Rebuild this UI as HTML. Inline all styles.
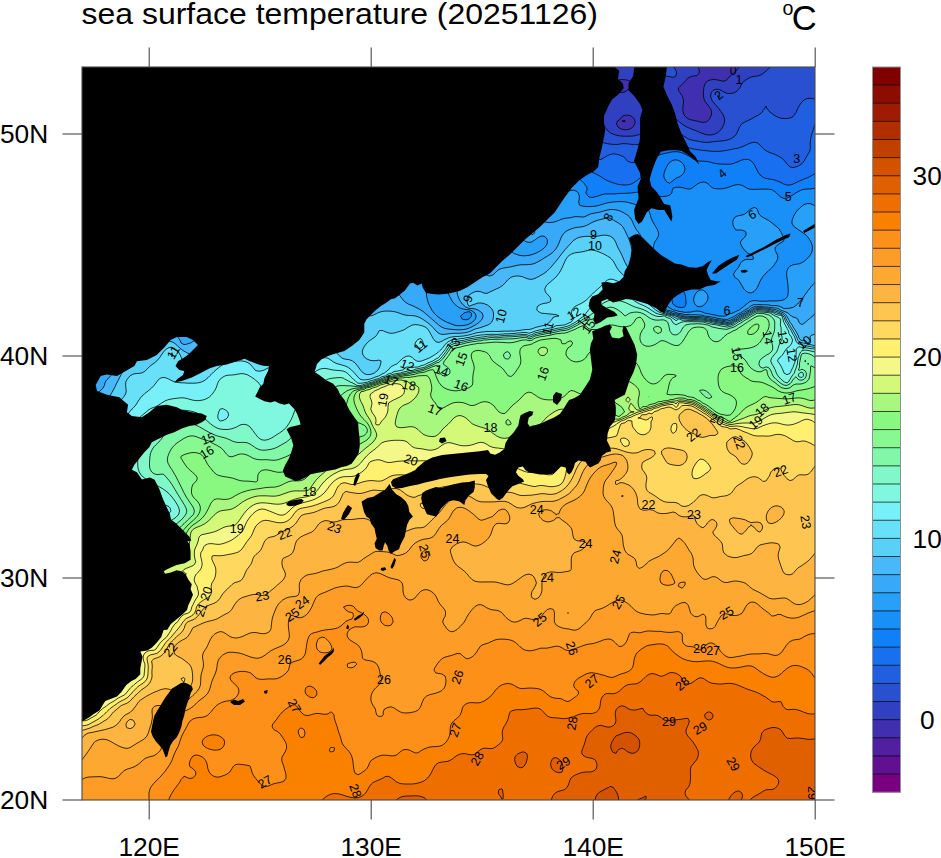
<!DOCTYPE html>
<html><head><meta charset="utf-8"><title>sea surface temperature</title>
<style>html,body{margin:0;padding:0;background:#fff;width:941px;height:858px;overflow:hidden}
svg{display:block} text{font-family:"Liberation Sans",Arial,Helvetica,sans-serif;fill:#000}</style></head>
<body><svg width="941" height="858" viewBox="0 0 941 858">
<defs><clipPath id="mc"><rect x="82" y="67" width="733" height="733"/></clipPath></defs>
<g clip-path="url(#mc)">
<rect x="76" y="61" width="745" height="745" fill="#5020a0"/>
<path d="M76 61l3 0l3 0l3 0l3 0l3 0l3 0l3 0l3 0l3 0l3 0l3 0l3 0l3 0l3 0l3 0l3 0l3 0l3 0l3 0l3 0l3 0l3 0l3 0l3 0l3 0l3 0l3 0l3 0l3 0l3 0l3 0l3 0l3 0l3 0l3 0l3 0l3 0l3 0l3 0l3 0l3 0l3 0l3 0l3 0l3 0l3 0l3 0l3 0l3 0l3 0l3 0l3 0l3 0l3 0l3 0l3 0l3 0l3 0l3 0l3 0l3 0l3 0l3 0l3 0l3 0l3 0l3 0l3 0l3 0l3 0l3 0l3 0l3 0l3 0l3 0l3 0l3 0l3 0l3 0l3 0l3 0l3 0l3 0l3 0l3 0l3 0l3 0l3 0l3 0l3 0l3 0l3 0l3 0l3 0l3 0l3 0l3 0l3 0l3 0l3 0l3 0l3 0l3 0l3 0l3 0l3 0l3 0l3 0l3 0l3 0l3 0l3 0l3 0l3 0l3 0l3 0l3 0l3 0l3 0l3 0l3 0l3 0l3 0l3 0l3 0l3 0l3 0l3 0l3 0l3 0l3 0l3 0l3 0l3 0l3 0l3 0l3 0l3 0l3 0l3 0l3 0l3 0l3 0l3 0l3 0l3 0l3 0l3 0l3 0l3 0l3 0l3 0l3 0l3 0l3 0l3 0l3 0l3 0l3 0l3 0l3 0l3 0l3 0l3 0l3 0l3 0l3 0l3 0l3 0l3 0l3 0l3 0l3 0l3 0l3 0l3 0l3 0l3 0l3 0l3 0l3 0l3 0l3 0l3 0l3 0l3 0l3 0l3 0l3 0l3 0l3 0l3 0l3 0l3 0l3 0l3 0l3 0l3 0l3 0l3 0l3 0l3 0l3 0l3 0l3 0l3 0l3 0l3 0l3 0l3 0l3 0l3 0l3 0l3 0l3 0l3 0l3 0l3 0l3 0l3 0l3 0l3 0l3 0l3 0l3 0l3 0l3 0l3 0l3 0l3 0l3 0l3 0l3 0l3 0l3 0l3 0l3 0l3 0l3 0l3 0l3 0l3 0l3 0l3 0l3 0l3 0l3 0l3 0l3 0l0 3l0 3l0 3l0 3l0 3l0 3l0 3l0 3l0 3l0 3l0 3l0 3l0 3l0 3l0 3l0 3l0 3l0 3l0 3l0 3l0 3l0 3l0 3l0 3l0 3l0 3l0 3l0 3l0 3l0 3l0 3l0 3l0 3l0 3l0 3l0 3l0 3l0 3l0 3l0 3l0 3l0 3l0 3l0 3l0 3l0 3l0 3l0 3l0 3l0 3l0 3l0 3l0 3l0 3l0 3l0 3l0 3l0 3l0 3l0 3l0 3l0 3l0 3l0 3l0 3l0 3l0 3l0 3l0 3l0 3l0 3l0 3l0 3l0 3l0 3l0 3l0 3l0 3l0 3l0 3l0 3l0 3l0 3l0 3l0 3l0 3l0 3l0 3l0 3l0 3l0 3l0 3l0 3l0 3l0 3l0 3l0 3l0 3l0 3l0 3l0 3l0 3l0 3l0 3l0 3l0 3l0 3l0 3l0 3l0 3l0 3l0 3l0 3l0 3l0 3l0 3l0 3l0 3l0 3l0 3l0 3l0 3l0 3l0 3l0 3l0 3l0 3l0 3l0 3l0 3l0 3l0 3l0 3l0 3l0 3l0 3l0 3l0 3l0 3l0 3l0 3l0 3l0 3l0 3l0 3l0 3l0 3l0 3l0 3l0 3l0 3l0 3l0 3l0 3l0 3l0 3l0 3l0 3l0 3l0 3l0 3l0 3l0 3l0 3l0 3l0 3l0 3l0 3l0 3l0 3l0 3l0 3l0 3l0 3l0 3l0 3l0 3l0 3l0 3l0 3l0 3l0 3l0 3l0 3l0 3l0 3l0 3l0 3l0 3l0 3l0 3l0 3l0 3l0 3l0 3l0 3l0 3l0 3l0 3l0 3l0 3l0 3l0 3l0 3l0 3l0 3l0 3l0 3l0 3l0 3l0 3l0 3l0 3l0 3l0 3l0 3l0 3l0 3l0 3l0 3l0 3l0 3l0 3l0 3l0 3l0 3l0 3l0 3l0 3l0 3l0 3l0 3l0 3l0 3l0 3l0 3l0 3l0 3l0 3l0 3l0 3l0 3l0 3l0 3l0 3l0 3l0 3l0 3l0 3l-3 0l-3 0l-3 0l-3 0l-3 0l-3 0l-3 0l-3 0l-3 0l-3 0l-3 0l-3 0l-3 0l-3 0l-3 0l-3 0l-3 0l-3 0l-3 0l-3 0l-3 0l-3 0l-3 0l-3 0l-3 0l-3 0l-3 0l-3 0l-3 0l-3 0l-3 0l-3 0l-3 0l-3 0l-3 0l-3 0l-3 0l-3 0l-3 0l-3 0l-3 0l-3 0l-3 0l-3 0l-3 0l-3 0l-3 0l-3 0l-3 0l-3 0l-3 0l-3 0l-3 0l-3 0l-3 0l-3 0l-3 0l-3 0l-3 0l-3 0l-3 0l-3 0l-3 0l-3 0l-3 0l-3 0l-3 0l-3 0l-3 0l-3 0l-3 0l-3 0l-3 0l-3 0l-3 0l-3 0l-3 0l-3 0l-3 0l-3 0l-3 0l-3 0l-3 0l-3 0l-3 0l-3 0l-3 0l-3 0l-3 0l-3 0l-3 0l-3 0l-3 0l-3 0l-3 0l-3 0l-3 0l-3 0l-3 0l-3 0l-3 0l-3 0l-3 0l-3 0l-3 0l-3 0l-3 0l-3 0l-3 0l-3 0l-3 0l-3 0l-3 0l-3 0l-3 0l-3 0l-3 0l-3 0l-3 0l-3 0l-3 0l-3 0l-3 0l-3 0l-3 0l-3 0l-3 0l-3 0l-3 0l-3 0l-3 0l-3 0l-3 0l-3 0l-3 0l-3 0l-3 0l-3 0l-3 0l-3 0l-3 0l-3 0l-3 0l-3 0l-3 0l-3 0l-3 0l-3 0l-3 0l-3 0l-3 0l-3 0l-3 0l-3 0l-3 0l-3 0l-3 0l-3 0l-3 0l-3 0l-3 0l-3 0l-3 0l-3 0l-3 0l-3 0l-3 0l-3 0l-3 0l-3 0l-3 0l-3 0l-3 0l-3 0l-3 0l-3 0l-3 0l-3 0l-3 0l-3 0l-3 0l-3 0l-3 0l-3 0l-3 0l-3 0l-3 0l-3 0l-3 0l-3 0l-3 0l-3 0l-3 0l-3 0l-3 0l-3 0l-3 0l-3 0l-3 0l-3 0l-3 0l-3 0l-3 0l-3 0l-3 0l-3 0l-3 0l-3 0l-3 0l-3 0l-3 0l-3 0l-3 0l-3 0l-3 0l-3 0l-3 0l-3 0l-3 0l-3 0l-3 0l-3 0l-3 0l-3 0l-3 0l-3 0l-3 0l-3 0l-3 0l-3 0l-3 0l-3 0l-3 0l-3 0l-3 0l-3 0l-3 0l-3 0l-3 0l-3 0l-3 0l-3 0l-3 0l-3 0l-3 0l-3 0l-3 0l-3 0l-3 0l0-3l0-3l0-3l0-3l0-3l0-3l0-3l0-3l0-3l0-3l0-3l0-3l0-3l0-3l0-3l0-3l0-3l0-3l0-3l0-3l0-3l0-3l0-3l0-3l0-3l0-3l0-3l0-3l0-3l0-3l0-3l0-3l0-3l0-3l0-3l0-3l0-3l0-3l0-3l0-3l0-3l0-3l0-3l0-3l0-3l0-3l0-3l0-3l0-3l0-3l0-3l0-3l0-3l0-3l0-3l0-3l0-3l0-3l0-3l0-3l0-3l0-3l0-3l0-3l0-3l0-3l0-3l0-3l0-3l0-3l0-3l0-3l0-3l0-3l0-3l0-3l0-3l0-3l0-3l0-3l0-3l0-3l0-3l0-3l0-3l0-3l0-3l0-3l0-3l0-3l0-3l0-3l0-3l0-3l0-3l0-3l0-3l0-3l0-3l0-3l0-3l0-3l0-3l0-3l0-3l0-3l0-3l0-3l0-3l0-3l0-3l0-3l0-3l0-3l0-3l0-3l0-3l0-3l0-3l0-3l0-3l0-3l0-3l0-3l0-3l0-3l0-3l0-3l0-3l0-3l0-3l0-3l0-3l0-3l0-3l0-3l0-3l0-3l0-3l0-3l0-3l0-3l0-3l0-3l0-3l0-3l0-3l0-3l0-3l0-3l0-3l0-3l0-3l0-3l0-3l0-3l0-3l0-3l0-3l0-3l0-3l0-3l0-3l0-3l0-3l0-3l0-3l0-3l0-3l0-3l0-3l0-3l0-3l0-3l0-3l0-3l0-3l0-3l0-3l0-3l0-3l0-3l0-3l0-3l0-3l0-3l0-3l0-3l0-3l0-3l0-3l0-3l0-3l0-3l0-3l0-3l0-3l0-3l0-3l0-3l0-3l0-3l0-3l0-3l0-3l0-3l0-3l0-3l0-3l0-3l0-3l0-3l0-3l0-3l0-3l0-3l0-3l0-3l0-3l0-3l0-3l0-3l0-3l0-3l0-3l0-3l0-3l0-3l0-3l0-3l0-3l0-3l0-3l0-3l0-3l0-3l0-3l0-3l0-3l0-3l0-3l0-3l0-3l0-3l0-3l0-3l0-3l0-3z" fill="#601090" stroke="#000" stroke-width="0.85" stroke-opacity="0.9" fill-rule="evenodd"/>
<path d="M76 61l3 0l3 0l3 0l3 0l3 0l3 0l3 0l3 0l3 0l3 0l3 0l3 0l3 0l3 0l3 0l3 0l3 0l3 0l3 0l3 0l3 0l3 0l3 0l3 0l3 0l3 0l3 0l3 0l3 0l3 0l3 0l3 0l3 0l3 0l3 0l3 0l3 0l3 0l3 0l3 0l3 0l3 0l3 0l3 0l3 0l3 0l3 0l3 0l3 0l3 0l3 0l3 0l3 0l3 0l3 0l3 0l3 0l3 0l3 0l3 0l3 0l3 0l3 0l3 0l3 0l3 0l3 0l3 0l3 0l3 0l3 0l3 0l3 0l3 0l3 0l3 0l3 0l3 0l3 0l3 0l3 0l3 0l3 0l3 0l3 0l3 0l3 0l3 0l3 0l3 0l3 0l3 0l3 0l3 0l3 0l3 0l3 0l3 0l3 0l3 0l3 0l3 0l3 0l3 0l3 0l3 0l3 0l3 0l3 0l3 0l3 0l3 0l3 0l3 0l3 0l3 0l3 0l3 0l3 0l3 0l3 0l3 0l3 0l3 0l3 0l3 0l3 0l3 0l3 0l3 0l3 0l3 0l3 0l3 0l3 0l3 0l3 0l3 0l3 0l3 0l3 0l3 0l3 0l3 0l3 0l3 0l3 0l3 0l3 0l3 0l3 0l3 0l3 0l3 0l3 0l3 0l3 0l3 0l3 0l3 0l3 0l3 0l3 0l3 0l3 0l3 0l3 0l3 0l3 0l3 0l3 0l3 0l3 0l3 0l3 0l3 0l3 0l3 0l3 0l3 0l3 0l3 0l3 0l3 0l3 0l3 0l3 0l3 0l3 0l3 0l3 0l3 0l3 0l3 0l3 0l3 0l3 0l3 0l3 0l3 0l3 0l3 0l3 0l3 0l3 0l3 0l3 0l3 0l3 0l3 0l3 0l3 0l3 0l3 0l3 0l3 0l3 0l3 0l3 0l3 0l3 0l3 0l3 0l3 0l3 0l3 0l3 0l3 0l3 0l3 0l3 0l3 0l3 0l3 0l3 0l3 0l3 0l3 0l3 0l3 0l3 0l3 0l3 0l3 0l3 0l3 0l3 0l3 0l3 0l0 3l0 3l0 3l0 3l0 3l0 3l0 3l0 3l0 3l0 3l0 3l0 3l0 3l0 3l0 3l0 3l0 3l0 3l0 3l0 3l0 3l0 3l0 3l0 3l0 3l0 3l0 3l0 3l0 3l0 3l0 3l0 3l0 3l0 3l0 3l0 3l0 3l0 3l0 3l0 3l0 3l0 3l0 3l0 3l0 3l0 3l0 3l0 3l0 3l0 3l0 3l0 3l0 3l0 3l0 3l0 3l0 3l0 3l0 3l0 3l0 3l0 3l0 3l0 3l0 3l0 3l0 3l0 3l0 3l0 3l0 3l0 3l0 3l0 3l0 3l0 3l0 3l0 3l0 3l0 3l0 3l0 3l0 3l0 3l0 3l0 3l0 3l0 3l0 3l0 3l0 3l0 3l0 3l0 3l0 3l0 3l0 3l0 3l0 3l0 3l0 3l0 3l0 3l0 3l0 3l0 3l0 3l0 3l0 3l0 3l0 3l0 3l0 3l0 3l0 3l0 3l0 3l0 3l0 3l0 3l0 3l0 3l0 3l0 3l0 3l0 3l0 3l0 3l0 3l0 3l0 3l0 3l0 3l0 3l0 3l0 3l0 3l0 3l0 3l0 3l0 3l0 3l0 3l0 3l0 3l0 3l0 3l0 3l0 3l0 3l0 3l0 3l0 3l0 3l0 3l0 3l0 3l0 3l0 3l0 3l0 3l0 3l0 3l0 3l0 3l0 3l0 3l0 3l0 3l0 3l0 3l0 3l0 3l0 3l0 3l0 3l0 3l0 3l0 3l0 3l0 3l0 3l0 3l0 3l0 3l0 3l0 3l0 3l0 3l0 3l0 3l0 3l0 3l0 3l0 3l0 3l0 3l0 3l0 3l0 3l0 3l0 3l0 3l0 3l0 3l0 3l0 3l0 3l0 3l0 3l0 3l0 3l0 3l0 3l0 3l0 3l0 3l0 3l0 3l0 3l0 3l0 3l0 3l0 3l0 3l0 3l0 3l0 3l0 3l0 3l0 3l0 3l0 3l0 3l0 3l0 3l0 3l0 3l0 3l0 3l0 3l0 3l0 3l0 3l0 3l0 3l0 3l0 3l0 3l-3 0l-3 0l-3 0l-3 0l-3 0l-3 0l-3 0l-3 0l-3 0l-3 0l-3 0l-3 0l-3 0l-3 0l-3 0l-3 0l-3 0l-3 0l-3 0l-3 0l-3 0l-3 0l-3 0l-3 0l-3 0l-3 0l-3 0l-3 0l-3 0l-3 0l-3 0l-3 0l-3 0l-3 0l-3 0l-3 0l-3 0l-3 0l-3 0l-3 0l-3 0l-3 0l-3 0l-3 0l-3 0l-3 0l-3 0l-3 0l-3 0l-3 0l-3 0l-3 0l-3 0l-3 0l-3 0l-3 0l-3 0l-3 0l-3 0l-3 0l-3 0l-3 0l-3 0l-3 0l-3 0l-3 0l-3 0l-3 0l-3 0l-3 0l-3 0l-3 0l-3 0l-3 0l-3 0l-3 0l-3 0l-3 0l-3 0l-3 0l-3 0l-3 0l-3 0l-3 0l-3 0l-3 0l-3 0l-3 0l-3 0l-3 0l-3 0l-3 0l-3 0l-3 0l-3 0l-3 0l-3 0l-3 0l-3 0l-3 0l-3 0l-3 0l-3 0l-3 0l-3 0l-3 0l-3 0l-3 0l-3 0l-3 0l-3 0l-3 0l-3 0l-3 0l-3 0l-3 0l-3 0l-3 0l-3 0l-3 0l-3 0l-3 0l-3 0l-3 0l-3 0l-3 0l-3 0l-3 0l-3 0l-3 0l-3 0l-3 0l-3 0l-3 0l-3 0l-3 0l-3 0l-3 0l-3 0l-3 0l-3 0l-3 0l-3 0l-3 0l-3 0l-3 0l-3 0l-3 0l-3 0l-3 0l-3 0l-3 0l-3 0l-3 0l-3 0l-3 0l-3 0l-3 0l-3 0l-3 0l-3 0l-3 0l-3 0l-3 0l-3 0l-3 0l-3 0l-3 0l-3 0l-3 0l-3 0l-3 0l-3 0l-3 0l-3 0l-3 0l-3 0l-3 0l-3 0l-3 0l-3 0l-3 0l-3 0l-3 0l-3 0l-3 0l-3 0l-3 0l-3 0l-3 0l-3 0l-3 0l-3 0l-3 0l-3 0l-3 0l-3 0l-3 0l-3 0l-3 0l-3 0l-3 0l-3 0l-3 0l-3 0l-3 0l-3 0l-3 0l-3 0l-3 0l-3 0l-3 0l-3 0l-3 0l-3 0l-3 0l-3 0l-3 0l-3 0l-3 0l-3 0l-3 0l-3 0l-3 0l-3 0l-3 0l-3 0l-3 0l-3 0l-3 0l-3 0l-3 0l-3 0l-3 0l-3 0l-3 0l-3 0l-3 0l-3 0l-3 0l-3 0l-3 0l-3 0l-3 0l-3 0l-3 0l-3 0l-3 0l-3 0l0-3l0-3l0-3l0-3l0-3l0-3l0-3l0-3l0-3l0-3l0-3l0-3l0-3l0-3l0-3l0-3l0-3l0-3l0-3l0-3l0-3l0-3l0-3l0-3l0-3l0-3l0-3l0-3l0-3l0-3l0-3l0-3l0-3l0-3l0-3l0-3l0-3l0-3l0-3l0-3l0-3l0-3l0-3l0-3l0-3l0-3l0-3l0-3l0-3l0-3l0-3l0-3l0-3l0-3l0-3l0-3l0-3l0-3l0-3l0-3l0-3l0-3l0-3l0-3l0-3l0-3l0-3l0-3l0-3l0-3l0-3l0-3l0-3l0-3l0-3l0-3l0-3l0-3l0-3l0-3l0-3l0-3l0-3l0-3l0-3l0-3l0-3l0-3l0-3l0-3l0-3l0-3l0-3l0-3l0-3l0-3l0-3l0-3l0-3l0-3l0-3l0-3l0-3l0-3l0-3l0-3l0-3l0-3l0-3l0-3l0-3l0-3l0-3l0-3l0-3l0-3l0-3l0-3l0-3l0-3l0-3l0-3l0-3l0-3l0-3l0-3l0-3l0-3l0-3l0-3l0-3l0-3l0-3l0-3l0-3l0-3l0-3l0-3l0-3l0-3l0-3l0-3l0-3l0-3l0-3l0-3l0-3l0-3l0-3l0-3l0-3l0-3l0-3l0-3l0-3l0-3l0-3l0-3l0-3l0-3l0-3l0-3l0-3l0-3l0-3l0-3l0-3l0-3l0-3l0-3l0-3l0-3l0-3l0-3l0-3l0-3l0-3l0-3l0-3l0-3l0-3l0-3l0-3l0-3l0-3l0-3l0-3l0-3l0-3l0-3l0-3l0-3l0-3l0-3l0-3l0-3l0-3l0-3l0-3l0-3l0-3l0-3l0-3l0-3l0-3l0-3l0-3l0-3l0-3l0-3l0-3l0-3l0-3l0-3l0-3l0-3l0-3l0-3l0-3l0-3l0-3l0-3l0-3l0-3l0-3l0-3l0-3l0-3l0-3l0-3l0-3l0-3l0-3l0-3l0-3l0-3l0-3l0-3l0-3l0-3l0-3l0-3l0-3l0-3l0-3l0-3l0-3l0-3z" fill="#5020a0" stroke="#000" stroke-width="0.85" stroke-opacity="0.9" fill-rule="evenodd"/>
<path d="M76 61l3 0l3 0l3 0l3 0l3 0l3 0l3 0l3 0l3 0l3 0l3 0l3 0l3 0l3 0l3 0l3 0l3 0l3 0l3 0l3 0l3 0l3 0l3 0l3 0l3 0l3 0l3 0l3 0l3 0l3 0l3 0l3 0l3 0l3 0l3 0l3 0l3 0l3 0l3 0l3 0l3 0l3 0l3 0l3 0l3 0l3 0l3 0l3 0l3 0l3 0l3 0l3 0l3 0l3 0l3 0l3 0l3 0l3 0l3 0l3 0l3 0l3 0l3 0l3 0l3 0l3 0l3 0l3 0l3 0l3 0l3 0l3 0l3 0l3 0l3 0l3 0l3 0l3 0l3 0l3 0l3 0l3 0l3 0l3 0l3 0l3 0l3 0l3 0l3 0l3 0l3 0l3 0l3 0l3 0l3 0l3 0l3 0l3 0l3 0l3 0l3 0l3 0l3 0l3 0l3 0l3 0l3 0l3 0l3 0l3 0l3 0l3 0l3 0l3 0l3 0l3 0l3 0l3 0l3 0l3 0l3 0l3 0l3 0l3 0l3 0l3 0l3 0l3 0l3 0l3 0l3 0l3 0l3 0l3 0l3 0l3 0l3 0l3 0l3 0l3 0l3 0l3 0l3 0l3 0l3 0l3 0l3 0l3 0l3 0l3 0l3 0l3 0l3 0l3 0l3 0l3 0l3 0l3 0l3 0l3 0l3 0l3 0l3 0l3 0l3 0l3 0l3 0l3 0l3 0l3 0l3 0l3 0l3 0l3 0l3 0l3 0l3 0l3 0l3 0l3 0l3 0l3 0l3 0l3 0l3 0l3 0l3 0l3 0l3 0l3 0l3 0l3 0l3 0l3 0l3 0l3 0l3 0l3 0l3 0l3 0l3 0l3 0l3 0l3 0l3 0l3 0l3 0l3 0l3 0l3 0l3 0l3 0l3 0l3 0l3 0l3 0l3 0l3 0l3 0l3 0l3 0l3 0l3 0l3 0l3 0l3 0l3 0l3 0l3 0l3 0l3 0l3 0l3 0l3 0l3 0l3 0l3 0l3 0l3 0l3 0l3 0l3 0l3 0l3 0l3 0l3 0l3 0l3 0l3 0l0 3l0 3l0 3l0 3l0 3l0 3l0 3l0 3l0 3l0 3l0 3l0 3l0 3l0 3l0 3l0 3l0 3l0 3l0 3l0 3l0 3l0 3l0 3l0 3l0 3l0 3l0 3l0 3l0 3l0 3l0 3l0 3l0 3l0 3l0 3l0 3l0 3l0 3l0 3l0 3l0 3l0 3l0 3l0 3l0 3l0 3l0 3l0 3l0 3l0 3l0 3l0 3l0 3l0 3l0 3l0 3l0 3l0 3l0 3l0 3l0 3l0 3l0 3l0 3l0 3l0 3l0 3l0 3l0 3l0 3l0 3l0 3l0 3l0 3l0 3l0 3l0 3l0 3l0 3l0 3l0 3l0 3l0 3l0 3l0 3l0 3l0 3l0 3l0 3l0 3l0 3l0 3l0 3l0 3l0 3l0 3l0 3l0 3l0 3l0 3l0 3l0 3l0 3l0 3l0 3l0 3l0 3l0 3l0 3l0 3l0 3l0 3l0 3l0 3l0 3l0 3l0 3l0 3l0 3l0 3l0 3l0 3l0 3l0 3l0 3l0 3l0 3l0 3l0 3l0 3l0 3l0 3l0 3l0 3l0 3l0 3l0 3l0 3l0 3l0 3l0 3l0 3l0 3l0 3l0 3l0 3l0 3l0 3l0 3l0 3l0 3l0 3l0 3l0 3l0 3l0 3l0 3l0 3l0 3l0 3l0 3l0 3l0 3l0 3l0 3l0 3l0 3l0 3l0 3l0 3l0 3l0 3l0 3l0 3l0 3l0 3l0 3l0 3l0 3l0 3l0 3l0 3l0 3l0 3l0 3l0 3l0 3l0 3l0 3l0 3l0 3l0 3l0 3l0 3l0 3l0 3l0 3l0 3l0 3l0 3l0 3l0 3l0 3l0 3l0 3l0 3l0 3l0 3l0 3l0 3l0 3l0 3l0 3l0 3l0 3l0 3l0 3l0 3l0 3l0 3l0 3l0 3l0 3l0 3l0 3l0 3l0 3l0 3l0 3l0 3l0 3l0 3l0 3l0 3l0 3l0 3l0 3l0 3l0 3l0 3l0 3l0 3l0 3l0 3l0 3l0 3l0 3l0 3l0 3l-3 0l-3 0l-3 0l-3 0l-3 0l-3 0l-3 0l-3 0l-3 0l-3 0l-3 0l-3 0l-3 0l-3 0l-3 0l-3 0l-3 0l-3 0l-3 0l-3 0l-3 0l-3 0l-3 0l-3 0l-3 0l-3 0l-3 0l-3 0l-3 0l-3 0l-3 0l-3 0l-3 0l-3 0l-3 0l-3 0l-3 0l-3 0l-3 0l-3 0l-3 0l-3 0l-3 0l-3 0l-3 0l-3 0l-3 0l-3 0l-3 0l-3 0l-3 0l-3 0l-3 0l-3 0l-3 0l-3 0l-3 0l-3 0l-3 0l-3 0l-3 0l-3 0l-3 0l-3 0l-3 0l-3 0l-3 0l-3 0l-3 0l-3 0l-3 0l-3 0l-3 0l-3 0l-3 0l-3 0l-3 0l-3 0l-3 0l-3 0l-3 0l-3 0l-3 0l-3 0l-3 0l-3 0l-3 0l-3 0l-3 0l-3 0l-3 0l-3 0l-3 0l-3 0l-3 0l-3 0l-3 0l-3 0l-3 0l-3 0l-3 0l-3 0l-3 0l-3 0l-3 0l-3 0l-3 0l-3 0l-3 0l-3 0l-3 0l-3 0l-3 0l-3 0l-3 0l-3 0l-3 0l-3 0l-3 0l-3 0l-3 0l-3 0l-3 0l-3 0l-3 0l-3 0l-3 0l-3 0l-3 0l-3 0l-3 0l-3 0l-3 0l-3 0l-3 0l-3 0l-3 0l-3 0l-3 0l-3 0l-3 0l-3 0l-3 0l-3 0l-3 0l-3 0l-3 0l-3 0l-3 0l-3 0l-3 0l-3 0l-3 0l-3 0l-3 0l-3 0l-3 0l-3 0l-3 0l-3 0l-3 0l-3 0l-3 0l-3 0l-3 0l-3 0l-3 0l-3 0l-3 0l-3 0l-3 0l-3 0l-3 0l-3 0l-3 0l-3 0l-3 0l-3 0l-3 0l-3 0l-3 0l-3 0l-3 0l-3 0l-3 0l-3 0l-3 0l-3 0l-3 0l-3 0l-3 0l-3 0l-3 0l-3 0l-3 0l-3 0l-3 0l-3 0l-3 0l-3 0l-3 0l-3 0l-3 0l-3 0l-3 0l-3 0l-3 0l-3 0l-3 0l-3 0l-3 0l-3 0l-3 0l-3 0l-3 0l-3 0l-3 0l-3 0l-3 0l-3 0l-3 0l-3 0l-3 0l-3 0l-3 0l-3 0l-3 0l-3 0l-3 0l-3 0l-3 0l-3 0l-3 0l-3 0l-3 0l-3 0l-3 0l-3 0l-3 0l-3 0l-3 0l-3 0l-3 0l-3 0l-3 0l-3 0l-3 0l-3 0l-3 0l0-3l0-3l0-3l0-3l0-3l0-3l0-3l0-3l0-3l0-3l0-3l0-3l0-3l0-3l0-3l0-3l0-3l0-3l0-3l0-3l0-3l0-3l0-3l0-3l0-3l0-3l0-3l0-3l0-3l0-3l0-3l0-3l0-3l0-3l0-3l0-3l0-3l0-3l0-3l0-3l0-3l0-3l0-3l0-3l0-3l0-3l0-3l0-3l0-3l0-3l0-3l0-3l0-3l0-3l0-3l0-3l0-3l0-3l0-3l0-3l0-3l0-3l0-3l0-3l0-3l0-3l0-3l0-3l0-3l0-3l0-3l0-3l0-3l0-3l0-3l0-3l0-3l0-3l0-3l0-3l0-3l0-3l0-3l0-3l0-3l0-3l0-3l0-3l0-3l0-3l0-3l0-3l0-3l0-3l0-3l0-3l0-3l0-3l0-3l0-3l0-3l0-3l0-3l0-3l0-3l0-3l0-3l0-3l0-3l0-3l0-3l0-3l0-3l0-3l0-3l0-3l0-3l0-3l0-3l0-3l0-3l0-3l0-3l0-3l0-3l0-3l0-3l0-3l0-3l0-3l0-3l0-3l0-3l0-3l0-3l0-3l0-3l0-3l0-3l0-3l0-3l0-3l0-3l0-3l0-3l0-3l0-3l0-3l0-3l0-3l0-3l0-3l0-3l0-3l0-3l0-3l0-3l0-3l0-3l0-3l0-3l0-3l0-3l0-3l0-3l0-3l0-3l0-3l0-3l0-3l0-3l0-3l0-3l0-3l0-3l0-3l0-3l0-3l0-3l0-3l0-3l0-3l0-3l0-3l0-3l0-3l0-3l0-3l0-3l0-3l0-3l0-3l0-3l0-3l0-3l0-3l0-3l0-3l0-3l0-3l0-3l0-3l0-3l0-3l0-3l0-3l0-3l0-3l0-3l0-3l0-3l0-3l0-3l0-3l0-3l0-3l0-3l0-3l0-3l0-3l0-3l0-3l0-3l0-3l0-3l0-3l0-3l0-3l0-3l0-3l0-3l0-3l0-3l0-3l0-3l0-3l0-3l0-3l0-3l0-3l0-3l0-3l0-3l0-3l0-3l0-3l0-3l0-3zM622 120.9l-.1 .1l.1 .2l3 .4l.4-.6l-.4-.4z" fill="#4030b0" stroke="#000" stroke-width="0.85" stroke-opacity="0.9" fill-rule="evenodd"/>
<path d="M76 61l3 0l3 0l3 0l3 0l3 0l3 0l3 0l3 0l3 0l3 0l3 0l3 0l3 0l3 0l3 0l3 0l3 0l3 0l3 0l3 0l3 0l3 0l3 0l3 0l3 0l3 0l3 0l3 0l3 0l3 0l3 0l3 0l3 0l3 0l3 0l3 0l3 0l3 0l3 0l3 0l3 0l3 0l3 0l3 0l3 0l3 0l3 0l3 0l3 0l3 0l3 0l3 0l3 0l3 0l3 0l3 0l3 0l3 0l3 0l3 0l3 0l3 0l3 0l3 0l3 0l3 0l3 0l3 0l3 0l3 0l3 0l3 0l3 0l3 0l3 0l3 0l3 0l3 0l3 0l3 0l3 0l3 0l3 0l3 0l3 0l3 0l3 0l3 0l3 0l3 0l3 0l3 0l3 0l3 0l3 0l3 0l3 0l3 0l3 0l3 0l3 0l3 0l3 0l3 0l3 0l3 0l3 0l3 0l3 0l3 0l3 0l3 0l3 0l3 0l3 0l3 0l3 0l3 0l3 0l3 0l3 0l3 0l3 0l3 0l3 0l3 0l3 0l3 0l3 0l3 0l3 0l3 0l3 0l3 0l3 0l3 0l3 0l3 0l3 0l3 0l3 0l3 0l3 0l3 0l3 0l3 0l3 0l3 0l3 0l3 0l3 0l3 0l3 0l1.9 0l1.1 .5l3 .8l3-.4l1.7-.9l1.3 0l3 0l3 0l3 0l3 0l3 0l3 0l3 0l3 0l3 0l3 0l3 0l3 0l3 0l3 0l3 0l3 0l3 0l3 0l3 0l3 0l3 0l3 0l3 0l3 0l3 0l3 0l3 0l3 0l3 0l3 0l3 0l3 0l3 0l3 0l3 0l3 0l3 0l3 0l3 0l3 0l3 0l3 0l3 0l3 0l3 0l3 0l3 0l3 0l3 0l2.9 0l.1 .5l.5 2.5l1 3l.7 3l0 3l-2.2 2.6l-3 .4l-.1 0l-2.9 .4l-3 1.7l-.9 .9l-2.1 2.5l-.5 .5l-2.5 2.6l-.6 .4l-2.4 2.4l-.7 .6l.3 3l.4 .3l1.9 2.7l1.1 1.6l.7 1.4l.7 3l0 3l-.4 3l-.2 3l.2 3l1.2 3l.8 1.1l1.9 1.9l1.1 .7l3 1.2l3 .5l2.7 .6l.3 .1l3 .8l3 .5l3-.3l1.5-1.1l1.5-1.3l1.1-1.7l1.3-3l.3-3l-1-3l-1.7-2.5l-.4-.5l-2.4-3l-.2-.3l-1.7-2.7l-.7-3l-.2-3l.1-3l.3-3l.7-3l1.5-2.8l.2-.2l2.8-1.7l3-.7l3-.1l3 .5l3 .7l3 .6l3-1.5l.5-.8l2.5-2.8l.1-.2l2.9-2.4l.7-.6l2.3-2.1l.9-.9l2.1-2.4l.5-.6l2.1-3l.4-.6l1.3-2.4l1.7 0l3 0l3 0l3 0l3 0l3 0l3 0l3 0l3 0l3 0l3 0l3 0l3 0l3 0l3 0l3 0l3 0l3 0l3 0l3 0l3 0l3 0l3 0l3 0l3 0l3 0l3 0l0 3l0 3l0 3l0 3l0 3l0 3l0 3l0 3l0 3l0 3l0 3l0 3l0 3l0 3l0 3l0 3l0 3l0 3l0 3l0 3l0 3l0 3l0 3l0 3l0 3l0 3l0 3l0 3l0 3l0 3l0 3l0 3l0 3l0 3l0 3l0 3l0 3l0 3l0 3l0 3l0 3l0 3l0 3l0 3l0 3l0 3l0 3l0 3l0 3l0 3l0 3l0 3l0 3l0 3l0 3l0 3l0 3l0 3l0 3l0 3l0 3l0 3l0 3l0 3l0 3l0 3l0 3l0 3l0 3l0 3l0 3l0 3l0 3l0 3l0 3l0 3l0 3l0 3l0 3l0 3l0 3l0 3l0 3l0 3l0 3l0 3l0 3l0 3l0 3l0 3l0 3l0 3l0 3l0 3l0 3l0 3l0 3l0 3l0 3l0 3l0 3l0 3l0 3l0 3l0 3l0 3l0 3l0 3l0 3l0 3l0 3l0 3l0 3l0 3l0 3l0 3l0 3l0 3l0 3l0 3l0 3l0 3l0 3l0 3l0 3l0 3l0 3l0 3l0 3l0 3l0 3l0 3l0 3l0 3l0 3l0 3l0 3l0 3l0 3l0 3l0 3l0 3l0 3l0 3l0 3l0 3l0 3l0 3l0 3l0 3l0 3l0 3l0 3l0 3l0 3l0 3l0 3l0 3l0 3l0 3l0 3l0 3l0 3l0 3l0 3l0 3l0 3l0 3l0 3l0 3l0 3l0 3l0 3l0 3l0 3l0 3l0 3l0 3l0 3l0 3l0 3l0 3l0 3l0 3l0 3l0 3l0 3l0 3l0 3l0 3l0 3l0 3l0 3l0 3l0 3l0 3l0 3l0 3l0 3l0 3l0 3l0 3l0 3l0 3l0 3l0 3l0 3l0 3l0 3l0 3l0 3l0 3l0 3l0 3l0 3l0 3l0 3l0 3l0 3l0 3l0 3l0 3l0 3l0 3l0 3l0 3l0 3l0 3l0 3l0 3l0 3l0 3l0 3l0 3l0 3l0 3l0 3l0 3l0 3l0 3l0 3l0 3l0 3l0 3l0 3l0 3l0 3l0 3l0 3l-3 0l-3 0l-3 0l-3 0l-3 0l-3 0l-3 0l-3 0l-3 0l-3 0l-3 0l-3 0l-3 0l-3 0l-3 0l-3 0l-3 0l-3 0l-3 0l-3 0l-3 0l-3 0l-3 0l-3 0l-3 0l-3 0l-3 0l-3 0l-3 0l-3 0l-3 0l-3 0l-3 0l-3 0l-3 0l-3 0l-3 0l-3 0l-3 0l-3 0l-3 0l-3 0l-3 0l-3 0l-3 0l-3 0l-3 0l-3 0l-3 0l-3 0l-3 0l-3 0l-3 0l-3 0l-3 0l-3 0l-3 0l-3 0l-3 0l-3 0l-3 0l-3 0l-3 0l-3 0l-3 0l-3 0l-3 0l-3 0l-3 0l-3 0l-3 0l-3 0l-3 0l-3 0l-3 0l-3 0l-3 0l-3 0l-3 0l-3 0l-3 0l-3 0l-3 0l-3 0l-3 0l-3 0l-3 0l-3 0l-3 0l-3 0l-3 0l-3 0l-3 0l-3 0l-3 0l-3 0l-3 0l-3 0l-3 0l-3 0l-3 0l-3 0l-3 0l-3 0l-3 0l-3 0l-3 0l-3 0l-3 0l-3 0l-3 0l-3 0l-3 0l-3 0l-3 0l-3 0l-3 0l-3 0l-3 0l-3 0l-3 0l-3 0l-3 0l-3 0l-3 0l-3 0l-3 0l-3 0l-3 0l-3 0l-3 0l-3 0l-3 0l-3 0l-3 0l-3 0l-3 0l-3 0l-3 0l-3 0l-3 0l-3 0l-3 0l-3 0l-3 0l-3 0l-3 0l-3 0l-3 0l-3 0l-3 0l-3 0l-3 0l-3 0l-3 0l-3 0l-3 0l-3 0l-3 0l-3 0l-3 0l-3 0l-3 0l-3 0l-3 0l-3 0l-3 0l-3 0l-3 0l-3 0l-3 0l-3 0l-3 0l-3 0l-3 0l-3 0l-3 0l-3 0l-3 0l-3 0l-3 0l-3 0l-3 0l-3 0l-3 0l-3 0l-3 0l-3 0l-3 0l-3 0l-3 0l-3 0l-3 0l-3 0l-3 0l-3 0l-3 0l-3 0l-3 0l-3 0l-3 0l-3 0l-3 0l-3 0l-3 0l-3 0l-3 0l-3 0l-3 0l-3 0l-3 0l-3 0l-3 0l-3 0l-3 0l-3 0l-3 0l-3 0l-3 0l-3 0l-3 0l-3 0l-3 0l-3 0l-3 0l-3 0l-3 0l-3 0l-3 0l-3 0l-3 0l-3 0l-3 0l-3 0l-3 0l-3 0l-3 0l-3 0l-3 0l-3 0l-3 0l-3 0l-3 0l-3 0l-3 0l-3 0l-3 0l-3 0l-3 0l0-3l0-3l0-3l0-3l0-3l0-3l0-3l0-3l0-3l0-3l0-3l0-3l0-3l0-3l0-3l0-3l0-3l0-3l0-3l0-3l0-3l0-3l0-3l0-3l0-3l0-3l0-3l0-3l0-3l0-3l0-3l0-3l0-3l0-3l0-3l0-3l0-3l0-3l0-3l0-3l0-3l0-3l0-3l0-3l0-3l0-3l0-3l0-3l0-3l0-3l0-3l0-3l0-3l0-3l0-3l0-3l0-3l0-3l0-3l0-3l0-3l0-3l0-3l0-3l0-3l0-3l0-3l0-3l0-3l0-3l0-3l0-3l0-3l0-3l0-3l0-3l0-3l0-3l0-3l0-3l0-3l0-3l0-3l0-3l0-3l0-3l0-3l0-3l0-3l0-3l0-3l0-3l0-3l0-3l0-3l0-3l0-3l0-3l0-3l0-3l0-3l0-3l0-3l0-3l0-3l0-3l0-3l0-3l0-3l0-3l0-3l0-3l0-3l0-3l0-3l0-3l0-3l0-3l0-3l0-3l0-3l0-3l0-3l0-3l0-3l0-3l0-3l0-3l0-3l0-3l0-3l0-3l0-3l0-3l0-3l0-3l0-3l0-3l0-3l0-3l0-3l0-3l0-3l0-3l0-3l0-3l0-3l0-3l0-3l0-3l0-3l0-3l0-3l0-3l0-3l0-3l0-3l0-3l0-3l0-3l0-3l0-3l0-3l0-3l0-3l0-3l0-3l0-3l0-3l0-3l0-3l0-3l0-3l0-3l0-3l0-3l0-3l0-3l0-3l0-3l0-3l0-3l0-3l0-3l0-3l0-3l0-3l0-3l0-3l0-3l0-3l0-3l0-3l0-3l0-3l0-3l0-3l0-3l0-3l0-3l0-3l0-3l0-3l0-3l0-3l0-3l0-3l0-3l0-3l0-3l0-3l0-3l0-3l0-3l0-3l0-3l0-3l0-3l0-3l0-3l0-3l0-3l0-3l0-3l0-3l0-3l0-3l0-3l0-3l0-3l0-3l0-3l0-3l0-3l0-3l0-3l0-3l0-3l0-3l0-3l0-3l0-3l0-3l0-3l0-3l0-3l0-3l0-3zM616 81.9l-.1 .1l-1.5 3l0 3l1.6 2.4l.6 .6l2.4 1.2l3 .3l3-.7l1.3-.8l1.7-1.4l1.5-1.6l1.4-3l.1-1.6l.1-1.4l-.1-.2l-3-1.6l-3-.4l-3-.3l-3 .4zM622 116.6l-1.2 1.4l-1.8 2.2l-1.7 .8l-.8 3l1.5 3l1 .8l3 1.5l3 .5l3-.2l3-1.2l1.9-1.4l1.1-1.8l.8-1.2l.3-3l-1.1-2.3l-.3-.7l-2.7-2l-3-.9l-3 .1z" fill="#3040c0" stroke="#000" stroke-width="0.85" stroke-opacity="0.9" fill-rule="evenodd"/>
<path d="M76 61l3 0l3 0l3 0l3 0l3 0l3 0l3 0l3 0l3 0l3 0l3 0l3 0l3 0l3 0l3 0l3 0l3 0l3 0l1.8 0l1.2 1.4l2.6 1.6l.4 .2l3 .4l3-.5l3 1.7l.6 1.2l2.4 1.9l3 .6l3 .3l1.3 .2l1.7 .3l3 .9l3 .8l3 .1l3-1.1l1.6-1l1.4-.8l3-2l.3-.2l2.7-2.9l.1-.1l1.4-3l1.5 0l3 0l3 0l3 0l3 0l3 0l3 0l3 0l3 0l3 0l3 0l3 0l3 0l3 0l3 0l3 0l3 0l3 0l3 0l3 0l3 0l3 0l3 0l3 0l3 0l3 0l3 0l.7 0l2.3 1.4l3 1.2l3 .1l3-.8l3-1l3 0l3 .9l3 .7l3 .3l3-.2l3-1l2.6-1.6l.4 0l3 0l3 0l3 0l3 0l3 0l3 0l3 0l3 0l3 0l3 0l.6 0l1.9 3l.5 .7l2.7 2.3l.3 .2l3 1.2l3 .6l3 .7l.4 .3l2.6 .6l3 1.4l1.3 1l1.7 .8l3 1.4l2.3 .8l.7 .2l3 .2l3-.2l3-.1l3 .1l3 .3l3-.1l1.6-.4l1.4-.4l3-1.5l2-1.1l1-.6l3-1.3l3-.7l3-.3l.5-.1l2.5-.4l3-1.2l1.8-1.4l1.2-1.4l.9-1.6l1.5-3l.6 0l3 0l3 0l3 0l2.5 0l.5 .7l2 2.3l1 .9l3 .9l3-.6l1.7-1.2l1.3-1.3l1.5-1.7l1.5 0l3 0l3 0l.9 0l2.1 1.9l1.8 1.1l1.2 .6l3 .5l3-.2l3-.5l3-.1l3 .4l3 .3l3-.1l3-.6l.6-.3l2.4-1.2l1.9-1.8l1.1 0l3 0l3 0l3 0l3 0l3 0l3 0l2.5 0l.5 1.1l1 1.9l2 2.9l.1 .1l2.9 1.2l3 0l3-.3l3-.4l3-.1l3 .7l3 1.7l.3 .2l2.7 2.2l1.1 .8l1.9 1.7l1.6 1.3l1.4 1.1l3 1.8l.3 .1l2.7 1.1l3 .8l3 .4l3 .2l3-.2l3-.3l3-.5l3-.6l3-.5l3 .4l3 1.7l.7 .5l2.3 1.8l1.9 1.2l1.1 .8l3 1.3l2.8 .9l.2 .1l3 2.4l.3 .5l1.7 3l1 1.5l1.3 1.5l1.7 1.4l3 1.2l1.2 .4l1.8 .7l3 1.7l.6 .6l1.7 3l.7 1.6l.4 1.4l.8 3l1.6 3l.2 .3l1.5 2.7l1.5 2.2l.5 .8l1.8 3l.7 1.2l.9 1.8l2.1 3l3 2.6l.6 .4l2.4 1.1l3 1l3 .7l2.1 .2l.9 .1l3 .1l3 0l3 0l2-.2l1-.1l3-.7l3-1l2.9-1.2l.1 0l3-1.3l3-1.4l.6-.3l2.4-1.6l2-1.4l1-1l2-2l1-1.7l1.1-1.3l1.3-3l.6-2.6l.3-.4l2.7-1l3 .3l1.8 .7l1.2 .3l3 1.5l1.5 1.2l1.5 1l2.3 2l.7 .5l2.9 2.5l.1 .1l3 1.9l2 1l1 .5l3 1.3l3 1.1l.3 .1l2.7 1.1l3 1.4l1.2 .5l1.8 .7l3 .9l3 .4l3-.2l3-.9l2-.9l1-.7l2.7-2.3l.3-.4l1.7-2.6l1.3-3l0-.1l.6-2.9l-.2-3l-.4-.9l-.7-2.1l-2-3l-.3-.3l-1.8-2.7l-1.2-1.3l-1.2-1.7l-1.8-1.9l-.9-1.1l-2.1-2.7l-.2-.3l-1.1-3l.1-3l1.2-2.4l.5-.6l2.5-1.5l3-.3l3 1l1.2 .8l1.8 1.1l3 1.2l3 .3l3-.5l3-1.3l1.1-.8l1.9-2.2l.7-.8l1.6-3l.7-1.5l1.1-1.5l1.9-1.5l2.3-1.5l.7-.4l3-1.5l3-.7l3-.3l.4-.1l2.6-.7l3-1.7l.7-.6l2.3-1.9l1.2-1.1l1.8-1.9l1-1.1l2-2.9l.1-.1l2.5-3l.4 0l3 0l.9 0l2.1 1.6l1.9 1.4l1.1 .5l3 .6l3-.2l3-.5l2-.4l1-.3l3-1.6l1.1-1.1l1.9 0l3 0l3 0l3 0l3 0l3 0l2 0l1 .7l3 .9l0 1.4l0 3l0 3l0 3l0 3l0 3l0 3l0 3l0 3l0 3l0 3l0 3l0 3l0 3l0 3l0 3l0 3l0 3l0 3l0 3l0 3l0 3l0 3l0 3l0 3l0 3l0 3l0 3l0 3l0 3l0 3l0 3l0 3l0 3l0 3l0 3l0 3l0 3l0 3l0 3l0 3l0 3l0 3l0 3l0 3l0 3l0 3l0 3l0 3l0 3l0 3l0 3l0 3l0 3l0 3l0 3l0 3l0 3l0 3l0 3l0 3l0 3l0 3l0 3l0 3l0 3l0 3l0 3l0 3l0 3l0 3l0 3l0 3l0 3l0 3l0 3l0 3l0 3l0 3l0 3l0 3l0 3l0 3l0 3l0 3l0 3l0 3l0 3l0 3l0 3l0 3l0 3l0 3l0 3l0 3l0 3l0 3l0 3l0 3l0 3l0 3l0 3l0 3l0 3l0 3l0 3l0 3l0 3l0 3l0 3l0 3l0 3l0 3l0 3l0 3l0 3l0 3l0 3l0 3l0 3l0 3l0 3l0 3l0 3l0 3l0 3l0 3l0 3l0 3l0 3l0 3l0 3l0 3l0 3l0 3l0 3l0 3l0 3l0 3l0 3l0 3l0 3l0 3l0 3l0 3l0 3l0 3l0 3l0 3l0 3l0 3l0 3l0 3l0 3l0 3l0 3l0 3l0 3l0 3l0 3l0 3l0 3l0 3l0 3l0 3l0 3l0 3l0 3l0 3l0 3l0 3l0 3l0 3l0 3l0 3l0 3l0 3l0 3l0 3l0 3l0 3l0 3l0 3l0 3l0 3l0 3l0 3l0 3l0 3l0 3l0 3l0 3l0 3l0 3l0 3l0 3l0 3l0 3l0 3l0 3l0 3l0 3l0 3l0 3l0 3l0 3l0 3l0 3l0 3l0 3l0 3l0 3l0 3l0 3l0 3l0 3l0 3l0 3l0 3l0 3l0 3l0 3l0 3l0 3l0 3l0 3l0 3l0 3l0 3l0 3l0 3l0 3l0 3l0 3l0 3l0 3l0 3l0 3l0 3l0 3l0 3l0 3l0 3l0 3l0 3l0 3l0 3l0 3l0 3l-3 0l-3 0l-3 0l-3 0l-3 0l-3 0l-3 0l-3 0l-3 0l-3 0l-3 0l-3 0l-3 0l-3 0l-3 0l-3 0l-3 0l-3 0l-3 0l-3 0l-3 0l-3 0l-3 0l-3 0l-3 0l-3 0l-3 0l-3 0l-3 0l-3 0l-3 0l-3 0l-3 0l-3 0l-3 0l-3 0l-3 0l-3 0l-3 0l-3 0l-3 0l-3 0l-3 0l-3 0l-3 0l-3 0l-3 0l-3 0l-3 0l-3 0l-3 0l-3 0l-3 0l-3 0l-3 0l-3 0l-3 0l-3 0l-3 0l-3 0l-3 0l-3 0l-3 0l-3 0l-3 0l-3 0l-3 0l-3 0l-3 0l-3 0l-3 0l-3 0l-3 0l-3 0l-3 0l-3 0l-3 0l-3 0l-3 0l-3 0l-3 0l-3 0l-3 0l-3 0l-3 0l-3 0l-3 0l-3 0l-3 0l-3 0l-3 0l-3 0l-3 0l-3 0l-3 0l-3 0l-3 0l-3 0l-3 0l-3 0l-3 0l-3 0l-3 0l-3 0l-3 0l-3 0l-3 0l-3 0l-3 0l-3 0l-3 0l-3 0l-3 0l-3 0l-3 0l-3 0l-3 0l-3 0l-3 0l-3 0l-3 0l-3 0l-3 0l-3 0l-3 0l-3 0l-3 0l-3 0l-3 0l-3 0l-3 0l-3 0l-3 0l-3 0l-3 0l-3 0l-3 0l-3 0l-3 0l-3 0l-3 0l-3 0l-3 0l-3 0l-3 0l-3 0l-3 0l-3 0l-3 0l-3 0l-3 0l-3 0l-3 0l-3 0l-3 0l-3 0l-3 0l-3 0l-3 0l-3 0l-3 0l-3 0l-3 0l-3 0l-3 0l-3 0l-3 0l-3 0l-3 0l-3 0l-3 0l-3 0l-3 0l-3 0l-3 0l-3 0l-3 0l-3 0l-3 0l-3 0l-3 0l-3 0l-3 0l-3 0l-3 0l-3 0l-3 0l-3 0l-3 0l-3 0l-3 0l-3 0l-3 0l-3 0l-3 0l-3 0l-3 0l-3 0l-3 0l-3 0l-3 0l-3 0l-3 0l-3 0l-3 0l-3 0l-3 0l-3 0l-3 0l-3 0l-3 0l-3 0l-3 0l-3 0l-3 0l-3 0l-3 0l-3 0l-3 0l-3 0l-3 0l-3 0l-3 0l-3 0l-3 0l-3 0l-3 0l-3 0l-3 0l-3 0l-3 0l-3 0l-3 0l-3 0l-3 0l-3 0l-3 0l-3 0l-3 0l-3 0l-3 0l-3 0l-3 0l-3 0l-3 0l-3 0l-3 0l-3 0l-3 0l0-3l0-3l0-3l0-3l0-3l0-3l0-3l0-3l0-3l0-3l0-3l0-3l0-3l0-3l0-3l0-3l0-3l0-3l0-3l0-3l0-3l0-3l0-3l0-3l0-3l0-3l0-3l0-3l0-3l0-3l0-3l0-3l0-3l0-3l0-3l0-3l0-3l0-3l0-3l0-3l0-3l0-3l0-3l0-3l0-3l0-3l0-3l0-3l0-3l0-3l0-3l0-3l0-3l0-3l0-3l0-3l0-3l0-3l0-3l0-3l0-3l0-3l0-3l0-3l0-3l0-3l0-3l0-3l0-3l0-3l0-3l0-3l0-3l0-3l0-3l0-3l0-3l0-3l0-3l0-3l0-3l0-3l0-3l0-3l0-3l0-3l0-3l0-3l0-3l0-3l0-3l0-3l0-3l0-3l0-3l0-3l0-3l0-3l0-3l0-3l0-3l0-3l0-3l0-3l0-3l0-3l0-3l0-3l0-3l0-3l0-3l0-3l0-3l0-3l0-3l0-3l0-3l0-3l0-3l0-3l0-3l0-3l0-3l0-3l0-3l0-3l0-3l0-3l0-3l0-3l0-3l0-3l0-3l0-3l0-3l0-3l0-3l0-3l0-3l0-3l0-3l0-3l0-3l0-3l0-3l0-3l0-3l0-3l0-3l0-3l0-3l0-3l0-3l0-3l0-3l0-3l0-3l0-3l0-3l0-3l0-3l0-3l0-3l0-3l0-3l0-3l0-3l0-3l0-3l0-3l0-3l0-3l0-3l0-3l0-3l0-3l0-3l0-3l0-3l0-3l0-3l0-3l0-3l0-3l0-3l0-3l0-3l0-3l0-3l0-3l0-3l0-3l0-3l0-3l0-3l0-3l0-3l0-3l0-3l0-3l0-3l0-3l0-3l0-3l0-3l0-3l0-3l0-3l0-3l0-3l0-3l0-3l0-3l0-3l0-3l0-3l0-3l0-3l0-3l0-3l0-3l0-3l0-3l0-3l0-3l0-3l0-3l0-3l0-3l0-3l0-3l0-3l0-3l0-3l0-3l0-3l0-3l0-3l0-3l0-3l0-3l0-3l0-3l0-3l0-3l0-3l0-3l0-3zM341.9 61l1.1 0l1.3 0l-.7 3l-.6 .4l-.7-.4zM660.8 64l.2-.2l3-.9l3 .9l.5 .2l2.5 1.1l3 1.5l.5 .4l2.4 3l.1 .1l.6 2.9l-.6 2.8l0 .2l-3 1.4l-3-.7l-3-.5l-.7-.2l-2.3-1.2l-2.3-1.8l-.7-1.3l-.8-1.7l-.3-3zM648.5 88l.5-.3l3-.5l3 .5l.5 .3l2.5 2.1l.5 .9l1 3l.6 3l0 3l-.2 3l-.3 3l.1 3l-.3 3l-1.4 .5l-.6-.5l-2.4-1.6l-.9-1.4l-2.1-2.9l-.1-.1l-1.8-3l-1.1-1.3l-1.1-1.7l-1.9-3l-.8-3l.4-3l.4-.7z" fill="#2850d0" stroke="#000" stroke-width="0.85" stroke-opacity="0.9" fill-rule="evenodd"/>
<path d="M76 85l0-1.2l3 .8l.5 .4l2.5 2.9l0 .1l1.5 3l1.5 2.6l.2 .4l2.2 3l.6 .7l1.7 2.3l1.3 2.7l.2 .3l1.3 3l1.5 2.1l2.7 .9l.3 .1l.2-.1l2.8-1.2l2.4-1.8l.6-.4l3-2.3l.4-.3l2.6-1.9l1.7-1.1l1.3-.9l3-1.6l1.4-.5l1.6-1.1l2.3-1.9l.6-3l.1-.5l3-2l3 1.8l1.1 .7l1.9 1.1l3 1.4l.8 .5l2.2 2.2l.5 .8l.8 3l.6 3l1.1 2.9l0 .1l1.8 3l1.2 2l.7 1l1.6 3l.7 1.2l2.4 1.8l.6 .2l3 .2l3-.2l.8-.2l2.2-.4l3-.6l3-.6l3-.5l3-.8l.2-.1l2.8-.9l3-.8l3-.2l3 .5l3 .8l2.8 .6l.2 0l.8 0l2.2-.2l3-.9l3-1.2l2.1-.7l.9-.5l3-1.4l1.8-1.1l1.2-1l2.8-2l.2-.1l3-.6l3 0l3 .2l3-.2l3-.5l3-.7l3-.2l3 .4l3 .9l2.8 .8l.2 .1l3 .5l3-.1l3-.5l3-1l3-1.8l.3-.2l2.7-2.1l1-.9l2-1.7l1.4-1.3l1.6-1.6l1.4-1.4l1.6-2.2l.7-.8l2.3-2.8l.4-.2l2.6-1.3l3 .2l3 1l.5 .1l2.5 .5l3 .1l3-.3l3-.1l3 .5l3 1.8l.5 .5l2.2 3l.3 .5l2 2.5l1 .9l2.6 2.1l.4 .4l2.5 2.6l.5 .9l1.4 2.1l1.6 2.2l1.3 .8l1.7 .7l2.8-.7l.2-.1l2.7-2.9l.3-.3l1.9-2.7l1.1-1.8l.8-1.2l1.2-3l1-2.5l.2-.5l2.8-2.7l.4-.3l2.6-1.3l3-.5l3 1l.8 .8l2.2 2.6l.3 .4l2.7 2.7l.8 .3l2.2 .5l3-.4l.3-.1l2.7-.9l3-.8l3-.3l3 .5l3 1.1l1 .4l2 1.3l2.9 1.7l.1 .1l3 2.1l1.1 .8l1.9 1.6l2.5 1.4l.5 .1l3-.1l.1 0l2.9-1.2l3-1.4l.7-.4l2.1-3l-.4-3l-.1-3l.7-1.6l1-1.4l2-.8l3 .6l.4 .2l2.6 1.7l2.5 1.3l.5 .4l3 1.5l2.3 1.1l.7 .6l1.5 2.4l1.5 2.4l.2 .6l2.6 3l.2 .1l3 1.9l2.9 1l.1 0l3 .5l3 .2l3 .3l3 .4l2.3 1.6l.7 1.2l.9 1.8l2.1 2.6l2.2 .4l.8 .1l.3-.1l2.7-.9l3-1.8l.3-.3l2-3l.7-1.7l.8-1.3l2.2-1.9l3-.5l3-.1l3-.2l2.4-.3l.6-.1l3-.5l3-1l2.8-1.4l.2-.1l3-.7l3 .7l.2 .1l2.8 1.4l3 1.3l.9 .3l2.1 .9l3 2.1l1.1 3l.6 3l1.3 3l3 .5l1.3-.5l1.7-.9l2.2-2.1l.8-1.1l3-1.9l3 1.1l2.8 1.9l.2 .1l3 .3l1.4-.4l1.6-.4l3-1.4l2.5-1.2l.5-.2l3-1.1l3-.2l3 .2l3 .2l3-.1l3-.1l3 .3l2.1 1l.9 .4l2.7 2.6l.3 .4l1.6 2.6l1.3 3l.1 .2l1.5 2.8l1.5 2.1l1.3 .9l1.7 1l3 .6l3 .3l3 .4l2.6 .7l.4 .1l3 1.2l3 1l3 .6l.7 .1l2.3 .3l3 .9l3 1.5l.5 .3l2.5 1.5l2.2 1.5l.8 .6l3 1.9l1 .5l2 .8l3 .8l3 .5l3 .3l3 .1l3-.2l3-.7l3 .1l3 .2l3 .4l3 .3l3 0l3-.6l3-1.2l1.6-.8l1.4-.7l3-1.6l1.2-.7l1.8-1.1l3-1.8l.1-.1l2.9-1.8l2.1-1.2l.9-.6l3-1.5l2.7-.9l.3-.1l3-.3l1.8 .4l1.2 .3l3 1.3l2.7 1.4l.3 .2l3 1.7l1.6 1.1l1.4 .9l3 1.8l.6 .3l2.4 .9l3 .6l3 .5l3 .6l2.1 .4l.9 .2l3 .2l3-.1l2.2-.3l.8-.1l3-.4l3-.3l3-.2l3-.3l3-.6l3-1l.3-.1l2.7-1.5l1.9-1.5l1.1-1.4l1-1.6l1.3-3l.7-1.8l.6-1.2l2-3l.4-.4l3-1.7l2-.9l1-.4l3-1.5l1.9-1.1l1.1-.7l3-1.6l1.6-.7l1.4-1.1l2.5-1.9l.5-1.5l1.3-1.5l1.7-2.9l1.1 2.9l1.9 1.6l.8 1.4l2.2 1.5l1.8 1.5l1.2 .7l3 1.6l2.1 .7l.9 .3l3 .3l3-.1l3-.5l.1 0l2.9-1.4l1.3-1.6l1.7-2.6l.2-.4l1.3-3l1.5-2.8l.1-.2l2-3l.9-1.1l2.2-1.9l.8-.6l3-1l3 0l3 .5l3 1l.2 .1l2.8 .9l3 .4l0 1.7l0 3l0 3l0 3l0 3l0 3l0 3l0 3l0 3l0 3l0 3l0 3l0 3l0 3l0 3l0 3l0 3l0 3l0 3l0 3l0 3l0 3l0 3l0 3l0 3l0 3l0 3l0 3l0 3l0 3l0 3l0 3l0 3l0 3l0 3l0 3l0 3l0 3l0 3l0 3l0 3l0 3l0 3l0 3l0 3l0 3l0 3l0 3l0 3l0 3l0 3l0 3l0 3l0 3l0 3l0 3l0 3l0 3l0 3l0 3l0 3l0 3l0 3l0 3l0 3l0 3l0 3l0 3l0 3l0 3l0 3l0 3l0 3l0 3l0 3l0 3l0 3l0 3l0 3l0 3l0 3l0 3l0 3l0 3l0 3l0 3l0 3l0 3l0 3l0 3l0 3l0 3l0 3l0 3l0 3l0 3l0 3l0 3l0 3l0 3l0 3l0 3l0 3l0 3l0 3l0 3l0 3l0 3l0 3l0 3l0 3l0 3l0 3l0 3l0 3l0 3l0 3l0 3l0 3l0 3l0 3l0 3l0 3l0 3l0 3l0 3l0 3l0 3l0 3l0 3l0 3l0 3l0 3l0 3l0 3l0 3l0 3l0 3l0 3l0 3l0 3l0 3l0 3l0 3l0 3l0 3l0 3l0 3l0 3l0 3l0 3l0 3l0 3l0 3l0 3l0 3l0 3l0 3l0 3l0 3l0 3l0 3l0 3l0 3l0 3l0 3l0 3l0 3l0 3l0 3l0 3l0 3l0 3l0 3l0 3l0 3l0 3l0 3l0 3l0 3l0 3l0 3l0 3l0 3l0 3l0 3l0 3l0 3l0 3l0 3l0 3l0 3l0 3l0 3l0 3l0 3l0 3l0 3l0 3l0 3l0 3l0 3l0 3l0 3l0 3l0 3l0 3l0 3l0 3l0 3l0 3l0 3l0 3l0 3l0 3l0 3l0 3l0 3l0 3l0 3l0 3l0 3l0 3l0 3l0 3l0 3l0 3l0 3l0 3l0 3l0 3l0 3l0 3l0 3l0 3l0 3l-3 0l-3 0l-3 0l-3 0l-3 0l-3 0l-3 0l-3 0l-3 0l-3 0l-3 0l-3 0l-3 0l-3 0l-3 0l-3 0l-3 0l-3 0l-3 0l-3 0l-3 0l-3 0l-3 0l-3 0l-3 0l-3 0l-3 0l-3 0l-3 0l-3 0l-3 0l-3 0l-3 0l-3 0l-3 0l-3 0l-3 0l-3 0l-3 0l-3 0l-3 0l-3 0l-3 0l-3 0l-3 0l-3 0l-3 0l-3 0l-3 0l-3 0l-3 0l-3 0l-3 0l-3 0l-3 0l-3 0l-3 0l-3 0l-3 0l-3 0l-3 0l-3 0l-3 0l-3 0l-3 0l-3 0l-3 0l-3 0l-3 0l-3 0l-3 0l-3 0l-3 0l-3 0l-3 0l-3 0l-3 0l-3 0l-3 0l-3 0l-3 0l-3 0l-3 0l-3 0l-3 0l-3 0l-3 0l-3 0l-3 0l-3 0l-3 0l-3 0l-3 0l-3 0l-3 0l-3 0l-3 0l-3 0l-3 0l-3 0l-3 0l-3 0l-3 0l-3 0l-3 0l-3 0l-3 0l-3 0l-3 0l-3 0l-3 0l-3 0l-3 0l-3 0l-3 0l-3 0l-3 0l-3 0l-3 0l-3 0l-3 0l-3 0l-3 0l-3 0l-3 0l-3 0l-3 0l-3 0l-3 0l-3 0l-3 0l-3 0l-3 0l-3 0l-3 0l-3 0l-3 0l-3 0l-3 0l-3 0l-3 0l-3 0l-3 0l-3 0l-3 0l-3 0l-3 0l-3 0l-3 0l-3 0l-3 0l-3 0l-3 0l-3 0l-3 0l-3 0l-3 0l-3 0l-3 0l-3 0l-3 0l-3 0l-3 0l-3 0l-3 0l-3 0l-3 0l-3 0l-3 0l-3 0l-3 0l-3 0l-3 0l-3 0l-3 0l-3 0l-3 0l-3 0l-3 0l-3 0l-3 0l-3 0l-3 0l-3 0l-3 0l-3 0l-3 0l-3 0l-3 0l-3 0l-3 0l-3 0l-3 0l-3 0l-3 0l-3 0l-3 0l-3 0l-3 0l-3 0l-3 0l-3 0l-3 0l-3 0l-3 0l-3 0l-3 0l-3 0l-3 0l-3 0l-3 0l-3 0l-3 0l-3 0l-3 0l-3 0l-3 0l-3 0l-3 0l-3 0l-3 0l-3 0l-3 0l-3 0l-3 0l-3 0l-3 0l-3 0l-3 0l-3 0l-3 0l-3 0l-3 0l-3 0l-3 0l-3 0l-3 0l-3 0l-3 0l-3 0l-3 0l-3 0l-3 0l-3 0l-3 0l-3 0l-3 0l-3 0l-3 0l0-3l0-3l0-3l0-3l0-3l0-3l0-3l0-3l0-3l0-3l0-3l0-3l0-3l0-3l0-3l0-3l0-3l0-3l0-3l0-3l0-3l0-3l0-3l0-3l0-3l0-3l0-3l0-3l0-3l0-3l0-3l0-3l0-3l0-3l0-3l0-3l0-3l0-3l0-3l0-3l0-3l0-3l0-3l0-3l0-3l0-3l0-3l0-3l0-3l0-3l0-3l0-3l0-3l0-3l0-3l0-3l0-3l0-3l0-3l0-3l0-3l0-3l0-3l0-3l0-3l0-3l0-3l0-3l0-3l0-3l0-3l0-3l0-3l0-3l0-3l0-3l0-3l0-3l0-3l0-3l0-3l0-3l0-3l0-3l0-3l0-3l0-3l0-3l0-3l0-3l0-3l0-3l0-3l0-3l0-3l0-3l0-3l0-3l0-3l0-3l0-3l0-3l0-3l0-3l0-3l0-3l0-3l0-3l0-3l0-3l0-3l0-3l0-3l0-3l0-3l0-3l0-3l0-3l0-3l0-3l0-3l0-3l0-3l0-3l0-3l0-3l0-3l0-3l0-3l0-3l0-3l0-3l0-3l0-3l0-3l0-3l0-3l0-3l0-3l0-3l0-3l0-3l0-3l0-3l0-3l0-3l0-3l0-3l0-3l0-3l0-3l0-3l0-3l0-3l0-3l0-3l0-3l0-3l0-3l0-3l0-3l0-3l0-3l0-3l0-3l0-3l0-3l0-3l0-3l0-3l0-3l0-3l0-3l0-3l0-3l0-3l0-3l0-3l0-3l0-3l0-3l0-3l0-3l0-3l0-3l0-3l0-3l0-3l0-3l0-3l0-3l0-3l0-3l0-3l0-3l0-3l0-3l0-3l0-3l0-3l0-3l0-3l0-3l0-3l0-3l0-3l0-3l0-3l0-3l0-3l0-3l0-3l0-3l0-3l0-3l0-3l0-3l0-3l0-3l0-3l0-3l0-3l0-3l0-3l0-3l0-3l0-3l0-3l0-3l0-3l0-3l0-3l0-3l0-3l0-3l0-3l0-3l0-3l0-3l0-3zM717.7 97l.3-1.6l1.1 1.6l-1.1 .4z" fill="#2060e0" stroke="#000" stroke-width="0.85" stroke-opacity="0.9" fill-rule="evenodd"/>
<path d="M818.8 118l1.2-1.1l3-1.7l0 2.8l0 3l0 3l0 3l0 3l0 3l0 3l0 3l0 3l0 3l0 3l0 3l0 3l0 3l0 3l0 3l0 3l0 3l0 3l0 3l0 3l0 3l0 3l0 3l0 3l0 3l0 3l0 3l0 3l0 3l0 3l0 3l0 3l0 3l0 3l0 3l0 3l0 3l0 3l0 3l0 3l0 3l0 3l0 3l0 3l0 3l0 3l0 3l0 3l0 3l0 3l0 3l0 3l0 3l0 3l0 3l0 3l0 3l0 3l0 3l0 3l0 3l0 3l0 3l0 3l0 3l0 3l0 3l0 3l0 3l0 3l0 3l0 3l0 3l0 3l0 3l0 3l0 3l0 3l0 3l0 3l0 3l0 3l0 3l0 3l0 3l0 3l0 3l0 3l0 3l0 3l0 3l0 3l0 3l0 3l0 3l0 3l0 3l0 3l0 3l0 3l0 3l0 3l0 3l0 3l0 3l0 3l0 3l0 3l0 3l0 3l0 3l0 3l0 3l0 3l0 3l0 3l0 3l0 3l0 3l0 3l0 3l0 3l0 3l0 3l0 3l0 3l0 3l0 3l0 3l0 3l0 3l0 3l0 3l0 3l0 3l0 3l0 3l0 3l0 3l0 3l0 3l0 3l0 3l0 3l0 3l0 3l0 3l0 3l0 3l0 3l0 3l0 3l0 3l0 3l0 3l0 3l0 3l0 3l0 3l0 3l0 3l0 3l0 3l0 3l0 3l0 3l0 3l0 3l0 3l0 3l0 3l0 3l0 3l0 3l0 3l0 3l0 3l0 3l0 3l0 3l0 3l0 3l0 3l0 3l0 3l0 3l0 3l0 3l0 3l0 3l0 3l0 3l0 3l0 3l0 3l0 3l0 3l0 3l0 3l0 3l0 3l0 3l0 3l0 3l0 3l0 3l0 3l0 3l0 3l0 3l0 3l0 3l0 3l0 3l0 3l0 3l0 3l0 3l0 3l0 3l0 3l0 3l0 3l0 3l0 3l0 3l0 3l0 3l0 3l0 3l-3 0l-3 0l-3 0l-3 0l-3 0l-3 0l-3 0l-3 0l-3 0l-3 0l-3 0l-3 0l-3 0l-3 0l-3 0l-3 0l-3 0l-3 0l-3 0l-3 0l-3 0l-3 0l-3 0l-3 0l-3 0l-3 0l-3 0l-3 0l-3 0l-3 0l-3 0l-3 0l-3 0l-3 0l-3 0l-3 0l-3 0l-3 0l-3 0l-3 0l-3 0l-3 0l-3 0l-3 0l-3 0l-3 0l-3 0l-3 0l-3 0l-3 0l-3 0l-3 0l-3 0l-3 0l-3 0l-3 0l-3 0l-3 0l-3 0l-3 0l-3 0l-3 0l-3 0l-3 0l-3 0l-3 0l-3 0l-3 0l-3 0l-3 0l-3 0l-3 0l-3 0l-3 0l-3 0l-3 0l-3 0l-3 0l-3 0l-3 0l-3 0l-3 0l-3 0l-3 0l-3 0l-3 0l-3 0l-3 0l-3 0l-3 0l-3 0l-3 0l-3 0l-3 0l-3 0l-3 0l-3 0l-3 0l-3 0l-3 0l-3 0l-3 0l-3 0l-3 0l-3 0l-3 0l-3 0l-3 0l-3 0l-3 0l-3 0l-3 0l-3 0l-3 0l-3 0l-3 0l-3 0l-3 0l-3 0l-3 0l-3 0l-3 0l-3 0l-3 0l-3 0l-3 0l-3 0l-3 0l-3 0l-3 0l-3 0l-3 0l-3 0l-3 0l-3 0l-3 0l-3 0l-3 0l-3 0l-3 0l-3 0l-3 0l-3 0l-3 0l-3 0l-3 0l-3 0l-3 0l-3 0l-3 0l-3 0l-3 0l-3 0l-3 0l-3 0l-3 0l-3 0l-3 0l-3 0l-3 0l-3 0l-3 0l-3 0l-3 0l-3 0l-3 0l-3 0l-3 0l-3 0l-3 0l-3 0l-3 0l-3 0l-3 0l-3 0l-3 0l-3 0l-3 0l-3 0l-3 0l-3 0l-3 0l-3 0l-3 0l-3 0l-3 0l-3 0l-3 0l-3 0l-3 0l-3 0l-3 0l-3 0l-3 0l-3 0l-3 0l-3 0l-3 0l-3 0l-3 0l-3 0l-3 0l-3 0l-3 0l-3 0l-3 0l-3 0l-3 0l-3 0l-3 0l-3 0l-3 0l-3 0l-3 0l-3 0l-3 0l-3 0l-3 0l-3 0l-3 0l-3 0l-3 0l-3 0l-3 0l-3 0l-3 0l-3 0l-3 0l-3 0l-3 0l-3 0l-3 0l-3 0l-3 0l-3 0l-3 0l-3 0l-3 0l-3 0l-3 0l-3 0l-3 0l-3 0l-3 0l-3 0l-3 0l-3 0l-3 0l-3 0l0-3l0-3l0-3l0-3l0-3l0-3l0-3l0-3l0-3l0-3l0-3l0-3l0-3l0-3l0-3l0-3l0-3l0-3l0-3l0-3l0-3l0-3l0-3l0-3l0-3l0-3l0-3l0-3l0-3l0-3l0-3l0-3l0-3l0-3l0-3l0-3l0-3l0-3l0-3l0-3l0-3l0-3l0-3l0-3l0-3l0-3l0-3l0-3l0-3l0-3l0-3l0-3l0-3l0-3l0-3l0-3l0-3l0-3l0-3l0-3l0-3l0-3l0-3l0-3l0-3l0-3l0-3l0-3l0-3l0-3l0-3l0-3l0-3l0-3l0-3l0-3l0-3l0-3l0-3l0-3l0-3l0-3l0-3l0-3l0-3l0-3l0-3l0-3l0-3l0-3l0-3l0-3l0-3l0-3l0-3l0-3l0-3l0-3l0-3l0-3l0-3l0-3l0-3l0-3l0-3l0-3l0-3l0-3l0-3l0-3l0-3l0-3l0-3l0-3l0-3l0-3l0-3l0-3l0-3l0-3l0-3l0-3l0-3l0-3l0-3l0-3l0-3l0-3l0-3l0-3l0-3l0-3l0-3l0-3l0-3l0-3l0-3l0-3l0-3l0-3l0-3l0-3l0-3l0-3l0-3l0-3l0-3l0-3l0-3l0-3l0-3l0-3l0-3l0-3l0-3l0-3l0-3l0-3l0-3l0-3l0-3l0-3l0-3l0-3l0-3l0-3l0-3l0-3l0-3l0-3l0-3l0-3l0-3l0-3l0-3l0-3l0-3l0-3l0-3l0-3l0-3l0-3l0-3l0-3l0-3l0-3l0-3l0-3l0-3l0-3l0-3l0-3l0-3l0-3l0-3l0-3l0-3l0-3l0-3l0-3l0-3l0-3l0-3l0-3l0-3l0-3l0-3l0-3l0-3l0-3l0-3l0-3l0-3l0-3l0-3l0-2.8l3 .3l3 .7l3 .9l2.2 .9l.8 .4l3 1.6l1.7 1l1.3 1l3 1.7l3-.9l1.7-1.8l1.3-1.1l2.9-1.9l.1 0l3-1l3-.6l3-.6l3-.7l.9-.1l2.1-.5l3-.1l3-.6l1.5-1.8l1.5-1.2l1.9-1.8l1.1-.9l3-.9l3 .7l2.8 1.1l.2 .1l3 .5l3 .1l3 .6l3 1.5l.3 .2l2.7 1.9l2 1.1l1 .4l3 .6l3 .1l3 0l3 0l3 .4l3 1.2l.5 .3l2.5 1.7l2 1.3l1 .5l3 1.1l3 .7l3 .3l3-.4l3-1.4l1.7-.8l1.3-1.4l2.5-1.6l.5-.5l3-2.2l.4-.3l2.6-2.8l.1-.2l1-3l1-3l.9-2.6l.2-.4l2.5-3l.3-.3l3-1.1l3 0l2.9 1.4l.1 0l3 2.2l.8 .8l2.2 2.7l.2 .3l.6 3l-.8 2.2l-.3 .8l-2.7 2.4l-.9 .6l-2.1 1.4l-2.4 1.6l-.6 3l3 2.5l1.9 .5l1.1 .2l.9-.2l2.1-.5l3-1.3l3-1.1l.5-.1l2.5-.7l3-.1l3 .1l3 0l3-.6l3-.9l2-.8l1-.7l2-2.3l.3-3l0-3l.7-2.7l.1-.3l1.5-3l1.3-3l0-3l-.6-3l-.3-3l.3-3l.7-1.8l.7-1.2l2.3-1.8l3 .2l1.9 1.6l1.1 1.7l.6 1.3l.3 3l-.1 3l1.1 3l1.1 .6l3 .7l3 .4l3 .8l.8 .5l2.2 .9l3 1.6l.8 .5l2.2 1l3 .9l3 .5l3 .2l3 .2l3 0l3-.1l3-.4l3-1l2.3-1.3l.7-.6l2.3-2.4l.7-.9l2.4-2.1l.6-.4l3-.1l1.7 .5l1.3 .6l3 .9l2.2-1.5l.8-.7l1.1-2.3l1.5-3l.4-.5l2.7-2.5l.3-.1l3-.6l3-.1l3 0l3 0l3 .6l.2 .2l2.8 3l1.4 3l1.3 3l.3 .4l1.8 2.6l1.2 1l3 1.4l1.9 .6l1.1 .2l3 1l3 1.2l1.8 .6l1.2 .4l3-.1l1.1-.3l1.9-.6l3-1.1l3-.8l1.8-.5l1.2-.5l3-2.5l.1 0l2.9-2.9l1.2-.1l1.8-.1l.1 .1l2.9 1.7l2.7 1.3l.3 .1l3 .2l1.5-.3l1.5-.3l3-.6l3 .1l3 .5l1.4 .3l1.6 .3l3 .2l3-.4l.7-.1l2.3-.8l3-1l3-.3l3-.1l3-.3l3-.2l3 0l3 .2l3 .4l3 .5l3 .4l3 .5l3 .5l1 .2l2 .3l3 .5l3 .4l3 0l3-.2l3-.3l3 1.1l1.2 1.2l1.8 1.3l3 .8l3-.2l3-.8l2.7-1.1l.3-.2l3-2l1.2-.8l1.8-2.4l.5-.6l.3-3l.1-3l1.4-3l.7-.5l3-.3l2.8 .8l.2 .1l3 2l1.4 .9l1.6 1.3l2.2 1.7l.8 .5l3 2l.7 .5l2.3 1.3l2.7 1.7l.3 .2l3 1.7l2.2 1.1l.8 .4l3 1l3 .2l3-.7l2-.9l1-.5l3-1.5l3-.6l3 .3l3 1.1l2.7 1.2l.3 .2l3 1.8l1.9 1l1.1 .7l3 1.9l.6 .4l2.4 1.7l1.6 1.3l1.4 1.1l3 1.5l3-.1l3-1.6l1.1-.9l1.9-1l3-1.5l2.3-.5l.7-.1l1.9 .1l1.1 .1l3 .8l3 1.2l2 .9l1 1.1l1.6 1.9l1.4 1.5l3 .9l3 .2l3-.8l2.1-1.8l.9-1.1l.8-1.9l1.6-3l.6-.6l2-2.4l1-.8l2.8-2.2l.2-.1l3-1.7l2.7-1.2l.3-.1l3-1.2l3-1l3-.6l3 0l3 .4l3 .4l3 .5l3 .7l2.4 .9l.6 .2l3 1.2l3 1.1l1.7 .5l1.3 .4l3 .7l3 .5l3 .4l3 .4l3 .3l2.9 .3l.1 0l3 .3l3 .1l3 0l3-.2l1.5-.2l1.5-.2l3-.5l3-.6l3-.6l3-.5l2.6-.6l.4-.1l3-1l3-1.3l1.3-.6l1.7-.9l3-1.2l3-.6l3 .4l3 2.2l.1 .1l2.6 3l.3 .3l3 2.4l.6 .3l2.4 1.2l3 1.1l1.8 .7l1.2 .5l3 1.5l1.9 1l1.1 .6l2.9 2.4l.1 .1l2.3 2.9l.7 1l2 2l1 .9l3 .7l3-.7l2.2-.9l.8-.4l3-2l.7-.6l2.1-3l.2-.5l1.4-2.5l1.6-3l1.8-3l.5-3l-.1-3l.1-3l.4-3l.3-1.8l.3-1.2l.9-3l.9-3l.9-2.8l.1-.2l1-3l1.4-3l.5-.7zM216.1 124l.9-1.3l3-1.4l3 1.6l.9 1.1l1.7 3l.4 1l.7 2l.3 3l-1 2.5l-1.6 .5l-1.4 .4l-.4-.4l-2.6-1.4l-1.1-1.6l-1.9-2.6l-.2-.4l-.9-3z" fill="#1870f0" stroke="#000" stroke-width="0.85" stroke-opacity="0.9" fill-rule="evenodd"/>
<path d="M662.1 154l1.9-.3l3-.7l3-.7l3-.5l3-.1l3 .3l3 .8l3 1.2l3 1.6l2.4 1.4l.6 .5l3 1.9l1.4 .6l1.6 .7l3 .4l3 .1l3 .2l3 .5l3 .8l1.2 .3l1.8 .4l3 .5l3 .2l3 .1l3 0l3 0l3-.5l1.7-.7l1.3-.4l3-1.4l2.9-1.2l.1 0l3-.7l3 .1l1.6 .6l1.4 .7l2 2.3l1 1.1l1 1.9l1.5 3l.5 .9l1 2.1l2 2.9l0 .1l3 2.2l1.6 .8l1.4 .4l3 .6l3 .4l3 .7l2.4 .9l.6 .2l3 1.4l2.7 1.4l.3 .1l3 1l3-.1l3-.8l.3-.2l2.7-1.3l3-1.5l.5-.2l2.5-1.1l3-1.2l1.9-.7l1.1-.5l3-1.5l1.7-1l1.3-.8l3-1.9l.6-.3l2.4-1.2l3-1.2l0 2.4l0 3l0 3l0 3l0 3l0 3l0 3l0 3l0 3l0 3l0 3l0 3l0 3l0 3l0 3l0 3l0 3l0 3l0 3l0 3l0 3l0 3l0 3l0 3l0 3l0 3l0 3l0 3l0 3l0 3l0 3l0 3l0 3l0 3l0 3l0 3l0 3l0 3l0 3l0 3l0 3l0 3l0 3l0 3l0 3l0 3l0 3l0 3l0 3l0 3l0 3l0 3l0 3l0 3l0 3l0 3l0 3l0 3l0 3l0 3l0 3l0 3l0 3l0 3l0 3l0 3l0 3l0 3l0 3l0 3l0 3l0 3l0 3l0 3l0 3l0 3l0 3l0 3l0 3l0 3l0 3l0 3l0 3l0 3l0 3l0 3l0 3l0 3l0 3l0 3l0 3l0 3l0 3l0 3l0 3l0 3l0 3l0 3l0 3l0 3l0 3l0 3l0 3l0 3l0 3l0 3l0 3l0 3l0 3l0 3l0 3l0 3l0 3l0 3l0 3l0 3l0 3l0 3l0 3l0 3l0 3l0 3l0 3l0 3l0 3l0 3l0 3l0 3l0 3l0 3l0 3l0 3l0 3l0 3l0 3l0 3l0 3l0 3l0 3l0 3l0 3l0 3l0 3l0 3l0 3l0 3l0 3l0 3l0 3l0 3l0 3l0 3l0 3l0 3l0 3l0 3l0 3l0 3l0 3l0 3l0 3l0 3l0 3l0 3l0 3l0 3l0 3l0 3l0 3l0 3l0 3l0 3l0 3l0 3l0 3l0 3l0 3l0 3l0 3l0 3l0 3l0 3l0 3l0 3l0 3l0 3l0 3l0 3l0 3l0 3l0 3l0 3l0 3l0 3l0 3l0 3l0 3l0 3l0 3l0 3l0 3l0 3l0 3l0 3l0 3l0 3l0 3l0 3l0 3l0 3l0 3l0 3l0 3l-3 0l-3 0l-3 0l-3 0l-3 0l-3 0l-3 0l-3 0l-3 0l-3 0l-3 0l-3 0l-3 0l-3 0l-3 0l-3 0l-3 0l-3 0l-3 0l-3 0l-3 0l-3 0l-3 0l-3 0l-3 0l-3 0l-3 0l-3 0l-3 0l-3 0l-3 0l-3 0l-3 0l-3 0l-3 0l-3 0l-3 0l-3 0l-3 0l-3 0l-3 0l-3 0l-3 0l-3 0l-3 0l-3 0l-3 0l-3 0l-3 0l-3 0l-3 0l-3 0l-3 0l-3 0l-3 0l-3 0l-3 0l-3 0l-3 0l-3 0l-3 0l-3 0l-3 0l-3 0l-3 0l-3 0l-3 0l-3 0l-3 0l-3 0l-3 0l-3 0l-3 0l-3 0l-3 0l-3 0l-3 0l-3 0l-3 0l-3 0l-3 0l-3 0l-3 0l-3 0l-3 0l-3 0l-3 0l-3 0l-3 0l-3 0l-3 0l-3 0l-3 0l-3 0l-3 0l-3 0l-3 0l-3 0l-3 0l-3 0l-3 0l-3 0l-3 0l-3 0l-3 0l-3 0l-3 0l-3 0l-3 0l-3 0l-3 0l-3 0l-3 0l-3 0l-3 0l-3 0l-3 0l-3 0l-3 0l-3 0l-3 0l-3 0l-3 0l-3 0l-3 0l-3 0l-3 0l-3 0l-3 0l-3 0l-3 0l-3 0l-3 0l-3 0l-3 0l-3 0l-3 0l-3 0l-3 0l-3 0l-3 0l-3 0l-3 0l-3 0l-3 0l-3 0l-3 0l-3 0l-3 0l-3 0l-3 0l-3 0l-3 0l-3 0l-3 0l-3 0l-3 0l-3 0l-3 0l-3 0l-3 0l-3 0l-3 0l-3 0l-3 0l-3 0l-3 0l-3 0l-3 0l-3 0l-3 0l-3 0l-3 0l-3 0l-3 0l-3 0l-3 0l-3 0l-3 0l-3 0l-3 0l-3 0l-3 0l-3 0l-3 0l-3 0l-3 0l-3 0l-3 0l-3 0l-3 0l-3 0l-3 0l-3 0l-3 0l-3 0l-3 0l-3 0l-3 0l-3 0l-3 0l-3 0l-3 0l-3 0l-3 0l-3 0l-3 0l-3 0l-3 0l-3 0l-3 0l-3 0l-3 0l-3 0l-3 0l-3 0l-3 0l-3 0l-3 0l-3 0l-3 0l-3 0l-3 0l-3 0l-3 0l-3 0l-3 0l-3 0l-3 0l-3 0l-3 0l-3 0l-3 0l-3 0l-3 0l-3 0l-3 0l-3 0l-3 0l-3 0l-3 0l-3 0l-3 0l-3 0l-3 0l-3 0l-3 0l-3 0l-3 0l0-3l0-3l0-3l0-3l0-3l0-3l0-3l0-3l0-3l0-3l0-3l0-3l0-3l0-3l0-3l0-3l0-3l0-3l0-3l0-3l0-3l0-3l0-3l0-3l0-3l0-3l0-3l0-3l0-3l0-3l0-3l0-3l0-3l0-3l0-3l0-3l0-3l0-3l0-3l0-3l0-3l0-3l0-3l0-3l0-3l0-3l0-3l0-3l0-3l0-3l0-3l0-3l0-3l0-3l0-3l0-3l0-3l0-3l0-3l0-3l0-3l0-3l0-3l0-3l0-3l0-3l0-3l0-3l0-3l0-3l0-3l0-3l0-3l0-3l0-3l0-3l0-3l0-3l0-3l0-3l0-3l0-3l0-3l0-3l0-3l0-3l0-3l0-3l0-3l0-3l0-3l0-3l0-3l0-3l0-3l0-3l0-3l0-3l0-3l0-3l0-3l0-3l0-3l0-3l0-3l0-3l0-3l0-3l0-3l0-3l0-3l0-3l0-3l0-3l0-3l0-3l0-3l0-3l0-3l0-3l0-3l0-3l0-3l0-3l0-3l0-3l0-3l0-3l0-3l0-3l0-3l0-3l0-3l0-3l0-3l0-3l0-3l0-3l0-3l0-3l0-3l0-3l0-3l0-3l0-3l0-3l0-3l0-3l0-3l0-3l0-3l0-3l0-3l0-3l0-3l0-3l0-3l0-3l0-3l0-3l0-3l0-3l0-3l0-3l0-3l0-3l0-3l0-3l0-3l0-3l0-3l0-3l0-3l0-3l0-3l0-3l0-3l0-3l0-3l0-3l0-3l0-3l0-3l0-3l0-3l0-3l0-3l0-3l0-3l0-3l0-3l0-3l0-1.5l3-1l1-.5l2-1.5l2-1.5l1-1l2.8-2l.2-.3l2.4-2.7l.6-1.3l.9-1.7l2.1-1.8l3-.4l3 .3l3 .3l3 .5l3 .9l.5 .2l2.5 .9l3 .8l3 0l3-.6l3-.6l1.5-.5l1.5-.4l3-2.2l.3-.4l2.7-1.5l2-1.5l1-.5l3-1.9l.9-.6l2.1-1.3l3-1.3l1.8-.4l1.2-.3l3-.1l3-.6l3-1.8l.4-.2l2.6-2l3 1.6l.4 .4l2.6 1.6l2.2 1.4l.8 .6l3 1.9l1.7 .5l1.3 .9l3-.9l3-1.5l2.3-1.5l.7-.4l3-1.2l3-.6l3-.4l1.1-.4l1.9-1l2.5-2l.5-.3l3-.7l3 .2l3 .3l3-.6l3-1.2l2.2-.7l.8-.2l1.1 .2l1.9 .4l2.8 2.6l.2 .1l3 2.9l3 1.9l3 .7l3-.6l3-1.3l1.5-.7l1.5-1.2l2.2-1.8l.8-1.6l1-1.4l2-2.2l3-.1l3 1.9l.3 .4l2.4 3l.3 .2l3 1.8l3 .9l.2 .1l2.8 .8l3 1.1l3 1l.6 .1l2.4 .6l3 .8l3 1.2l.8 .4l2.2 1.5l3 1.2l3-1l1.8-1.7l1.2-2.8l.1-.2l-.1-.3l-.8-2.7l-1.2-3l-.4-3l.4-3l1.2-3l.8-1.1l3-1.7l2.5-.2l.5-.1l.5 .1l2.5 .3l3 .2l3-.5l3-1.4l.6 1.4l2.4 1.1l3 1.2l3-.4l3-1.6l.5-.3l2.5-1.7l3-1.3l.2 0l2.8-.7l3-.4l3 .2l2.3 .9l.7 .3l3 2l1.1 .7l1.9 1l3 .3l3-.9l.9-.4l2.1-1.2l2.6-1.8l.4-.4l2.4-2.6l.6-.7l2-2.3l1-.8l3-1.6l3-.2l3 1.4l1.4 1.2l1.6 1.8l1.2 1.2l1.8 1.6l3 .3l3-1.3l.7-.6l2.3-1.4l2.5-1.6l.5-.3l3-1.3l3-1.1l1.2-.3l1.8-.6l3-.8l3-.4l3 .4l3 1l1.9 .4l1.1 .4l1.3-.4l1.7-.6l2.9-2.4l.1-.1l3-.4l1.1 .5l1.9 1.1l3 1.9l3 .8l3 0l3 0l3 .2l3 .2l3 0l3-1.2l2.8-3l.2-.3l2.2-2.7l.8-.9l3-1.7l3-.3l3 .6l3 1.4l1.5 .9l1.5 .7l3 1.5l2 .8l1 .3l3 .3l3-.2l2.2-.4l.8-.2l3-.6l3-.8l3-1.1l.7-.3l2.3-.9l3-.9l3-.2l3 .2l3 .2l3-.2l3-.6l2.6-.6l.4-.1l3-.5l3-.6l3-.7l3-.5l3-.3l3 .1l3 1.1l2.2 1.5l.8 .5l3 2.2l.4 .3l2.6 1.3l3 .9l3-.3l3-1.9l3-2.7l.5-.3l2.5-1.2l3-.5l3 .2l3 .6l3 .8l.2 .1l2.8 .7l3 1l2.9 1.3l.1 .1l3 1.5l2.7 1.4l.3 .2l3 1.4l3 1.4l3 1.8l1.9 1.2l1.1 .8l3 1.7l1.2 .5l1.8 .7l3 1.1l3 1l.8 .2l2.2 .5l3 .4l3 .1l3-.2l3-.7l.3-.1l2.7-1.4l2.3-1.6l.7-.6l3-2.4l3-2.1l1.4-.9l1.6-1.1l2.5-1.9l.5-.5l2.3-2.5l.7-1.1l1.1-1.9l1.2-3l.6-3l.1-.4l1.1-2.6l1.9-1.6l3-1.1zM76 184l0-2.1l3-.3l3 .4l2 2l-.1 3l-1.3 3l-.6 1.5l-1.1 1.5l-1.9 2.3l-3 .1l0-2.4l0-3l0-3z" fill="#1080f8" stroke="#000" stroke-width="0.85" stroke-opacity="0.9" fill-rule="evenodd"/>
<path d="M674.9 160l1.1-.2l.8 .2l2.2 .6l3 2l.4 .4l1.9 3l.6 3l-.6 3l-2.2 3l-.1 .1l-3 2l-2.6 .9l-.4 .3l-3 2.3l-.7 .4l-2.3 2.3l-3-1.1l-.8-1.2l-2-3l-.2-.9l-.2-2.1l.2-1.2l.4-1.8l1.2-3l1.4-3l2-3l1-.8l3-2zM570.4 178l.6-.3l3-.6l3 .6l.5 .3l2.5 1.6l1.7 1.4l1.3 1.2l1.7 1.8l1.3 2.1l.8 .9l.2 3l-1 1.9l-.1 1.1l.1 .2l2 2.8l1 1l3 .5l3-.6l3-.9l.1 0l2.9-1.1l3-.8l3-.2l3 0l3 0l3-.1l3-.3l3-.1l3-.1l3-.1l2.6-.2l.4 0l3-.3l3-.5l3-.6l3-.7l3-.4l3 .5l3 1.3l1.1 .7l1.9 1.1l3 1.7l.7 .2l2.3 .6l3-.1l2.9-.5l.1 0l3-1.1l1.8-1.9l.5-3l.7-1.8l3-1l3 0l3 .3l3 .8l3 .8l3-.3l2.4-1.8l.6-.3l3-2.4l.5-.3l2.5-1.3l3-.7l3 .4l2.1 1.6l.9 .7l2.3 2.3l.7 .6l3 1.1l3 .1l3 0l3-.3l3-.7l2.3-.8l.7-.3l3-1.1l3-.8l3-.2l3 .7l3 1.6l.1 .1l2.9 1.7l3 .6l3 .1l3-.1l3-.1l3-.1l3 0l3 .1l3 .7l.3 .1l2.7 1.7l1.5 1.3l1.5 1.7l1.6 1.3l1.4 1.3l3 1.2l3-.4l3-1.5l.9-.6l2.1-1.1l2.7-1.9l.3-.2l3-1.7l2.5-1.1l.5-.2l3-.6l3-.2l3-.1l3-.5l3-1.1l.5-.3l2.5-1.2l3-1.1l0 2.3l0 3l0 3l0 3l0 3l0 3l0 3l0 3l0 3l0 3l0 3l0 3l0 3l0 3l0 3l0 3l0 3l0 3l0 3l0 3l0 3l0 3l0 3l0 3l0 3l0 3l0 3l0 3l0 3l0 3l0 3l0 3l0 3l0 3l0 3l0 3l0 3l0 3l0 3l0 3l0 3l0 3l0 3l0 3l0 3l0 3l0 3l0 3l0 3l0 3l0 3l0 3l0 3l0 3l0 3l0 3l0 3l0 3l0 3l0 3l0 3l0 3l0 3l0 3l0 3l0 3l0 3l0 3l0 3l0 3l0 3l0 3l0 3l0 3l0 3l0 3l0 3l0 3l0 3l0 3l0 3l0 3l0 3l0 3l0 3l0 3l0 3l0 3l0 3l0 3l0 3l0 3l0 3l0 3l0 3l0 3l0 3l0 3l0 3l0 3l0 3l0 3l0 3l0 3l0 3l0 3l0 3l0 3l0 3l0 3l0 3l0 3l0 3l0 3l0 3l0 3l0 3l0 3l0 3l0 3l0 3l0 3l0 3l0 3l0 3l0 3l0 3l0 3l0 3l0 3l0 3l0 3l0 3l0 3l0 3l0 3l0 3l0 3l0 3l0 3l0 3l0 3l0 3l0 3l0 3l0 3l0 3l0 3l0 3l0 3l0 3l0 3l0 3l0 3l0 3l0 3l0 3l0 3l0 3l0 3l0 3l0 3l0 3l0 3l0 3l0 3l0 3l0 3l0 3l0 3l0 3l0 3l0 3l0 3l0 3l0 3l0 3l0 3l0 3l0 3l0 3l0 3l0 3l0 3l0 3l0 3l0 3l0 3l0 3l0 3l0 3l0 3l0 3l0 3l0 3l0 3l0 3l0 3l0 3l0 3l0 3l0 3l0 3l0 3l0 3l0 3l0 3l0 3l-3 0l-3 0l-3 0l-3 0l-3 0l-3 0l-3 0l-3 0l-3 0l-3 0l-3 0l-3 0l-3 0l-3 0l-3 0l-3 0l-3 0l-3 0l-3 0l-3 0l-3 0l-3 0l-3 0l-3 0l-3 0l-3 0l-3 0l-3 0l-3 0l-3 0l-3 0l-3 0l-3 0l-3 0l-3 0l-3 0l-3 0l-3 0l-3 0l-3 0l-3 0l-3 0l-3 0l-3 0l-3 0l-3 0l-3 0l-3 0l-3 0l-3 0l-3 0l-3 0l-3 0l-3 0l-3 0l-3 0l-3 0l-3 0l-3 0l-3 0l-3 0l-3 0l-3 0l-3 0l-3 0l-3 0l-3 0l-3 0l-3 0l-3 0l-3 0l-3 0l-3 0l-3 0l-3 0l-3 0l-3 0l-3 0l-3 0l-3 0l-3 0l-3 0l-3 0l-3 0l-3 0l-3 0l-3 0l-3 0l-3 0l-3 0l-3 0l-3 0l-3 0l-3 0l-3 0l-3 0l-3 0l-3 0l-3 0l-3 0l-3 0l-3 0l-3 0l-3 0l-3 0l-3 0l-3 0l-3 0l-3 0l-3 0l-3 0l-3 0l-3 0l-3 0l-3 0l-3 0l-3 0l-3 0l-3 0l-3 0l-3 0l-3 0l-3 0l-3 0l-3 0l-3 0l-3 0l-3 0l-3 0l-3 0l-3 0l-3 0l-3 0l-3 0l-3 0l-3 0l-3 0l-3 0l-3 0l-3 0l-3 0l-3 0l-3 0l-3 0l-3 0l-3 0l-3 0l-3 0l-3 0l-3 0l-3 0l-3 0l-3 0l-3 0l-3 0l-3 0l-3 0l-3 0l-3 0l-3 0l-3 0l-3 0l-3 0l-3 0l-3 0l-3 0l-3 0l-3 0l-3 0l-3 0l-3 0l-3 0l-3 0l-3 0l-3 0l-3 0l-3 0l-3 0l-3 0l-3 0l-3 0l-3 0l-3 0l-3 0l-3 0l-3 0l-3 0l-3 0l-3 0l-3 0l-3 0l-3 0l-3 0l-3 0l-3 0l-3 0l-3 0l-3 0l-3 0l-3 0l-3 0l-3 0l-3 0l-3 0l-3 0l-3 0l-3 0l-3 0l-3 0l-3 0l-3 0l-3 0l-3 0l-3 0l-3 0l-3 0l-3 0l-3 0l-3 0l-3 0l-3 0l-3 0l-3 0l-3 0l-3 0l-3 0l-3 0l-3 0l-3 0l-3 0l-3 0l-3 0l-3 0l-3 0l-3 0l-3 0l-3 0l-3 0l-3 0l-3 0l-3 0l-3 0l-3 0l-3 0l-3 0l-3 0l-3 0l-3 0l-3 0l0-3l0-3l0-3l0-3l0-3l0-3l0-3l0-3l0-3l0-3l0-3l0-3l0-3l0-3l0-3l0-3l0-3l0-3l0-3l0-3l0-3l0-3l0-3l0-3l0-3l0-3l0-3l0-3l0-3l0-3l0-3l0-3l0-3l0-3l0-3l0-3l0-3l0-3l0-3l0-3l0-3l0-3l0-3l0-3l0-3l0-3l0-3l0-3l0-3l0-3l0-3l0-3l0-3l0-3l0-3l0-3l0-3l0-3l0-3l0-3l0-3l0-3l0-3l0-3l0-3l0-3l0-3l0-3l0-3l0-3l0-3l0-3l0-3l0-3l0-3l0-3l0-3l0-3l0-3l0-3l0-3l0-3l0-3l0-3l0-3l0-3l0-3l0-3l0-3l0-3l0-3l0-3l0-3l0-3l0-3l0-3l0-3l0-3l0-3l0-3l0-3l0-3l0-3l0-3l0-3l0-3l0-3l0-3l0-3l0-3l0-3l0-3l0-3l0-3l0-3l0-3l0-3l0-3l0-3l0-3l0-3l0-3l0-3l0-3l0-3l0-3l0-3l0-3l0-3l0-3l0-3l0-3l0-3l0-3l0-3l0-3l0-3l0-3l0-3l0-3l0-3l0-3l0-3l0-3l0-3l0-3l0-3l0-3l0-3l0-3l0-3l0-3l0-3l0-3l0-3l0-3l0-3l0-3l0-3l0-3l0-3l0-3l0-3l0-3l0-3l0-3l0-3l0-3l0-3l0-3l0-3l0-3l0-3l0-3l0-3l0-3l0-3l0-2.8l1-.2l2-.5l3-.8l3-.8l3-.9l.1 0l2.9-1.2l3-1.6l.5-.2l2.5-1.3l3-1.1l1.5-.6l1.5-.6l3-1.9l.6-.5l2.4-1.8l1.7-1.2l1.3-.8l3-1.6l1.4-.6l1.6-.9l3-1.4l1.7-.7l1.3-.6l3-1l3-.7l3-.3l3 0l3 0l3-.1l3-.1l3 .8l2.4 2l.6 .5l2.9 2.5l.1 .1l3 1l3 0l2.4-1.1l.6-.5l3-2.5l3-.8l2.1 .8l.9 .5l3 1.8l3-.4l3-1.5l.6-.4l2.4-1.6l2.5-1.4l.5-.3l3-.8l3 .2l3 .7l1.5 .2l1.5 .2l.7-.2l2.3-.7l2.9-2.3l.1-.1l3-2.5l1.4-.4l1.6-.4l1.6 .4l1.4 .4l3 1.3l3 .5l3-1.2l1.2-1l1.8-1.6l1.6-1.4l1.4-1.1l3-1.6l1-.3l2-.6l3-.6l3-1l1.2-.8l1.8-1.5l1.5-1.5l1.5-1.6l1.5-1.4l1.5-1.3l3-1.4l3 .8l1.9 1.9l1.1 .8l2.1 2.2l.9 .7l3 1.9l.9 .4l2.1 .8l3 .7l3 .5l3 .1l3-.3l3-.8l2.3-1l.7-.3l3-2.1l.8-.6l2.2-1.7l2-1.3l1-.6l3-1.5l1.5-.9l1.5-1.1l1.8-1.9l1.2-1.6l1.1-1.4l1.9-2.7l.2-.3l2.8-2.3l2.4-.7l.6-.1l.5 .1l2.5 1l2.1 2l.9 1.2l1.3 1.8l1.7 1.7l3 1.1l3-.1l3-.6l3-.7l3-.2l3 .4l3 .8l1.8 .6l1.2 .3l3 1l3 1.1l2.2 .6l.8 .2l3-.1l.5-.1l2.5-1.1l2.4-1.9l.6-.6l2.1-2.4l.9-.8l3-2.2l3-1.2l3-.6l3-.3l3-.5l1.6-.4l1.4-.4l3-1.4l2.1-1.2l.9-.8l3-2.2l3-.8l3 0l3-.1l3-.1l3 .1l3 .1l3 .2l3 .4l1.3 .2l1.7 .4l3 1l3 1.3l.7 .3l2.3 .7l3 0l1.5-.7l1.5-1.4l1-1.6l1.9-3l.1-.1l3-2l3-.5l3-.3l.4-.1l2.6-.7l3-1.4l1.4-.9l1.6-1.2l2.1-1.8l.9-1l1.9-2l1.1-1.6l.9-1.4l2.1-2.9l0-.1l3-1.9l3-.6l3 .3l3 .6l3 .7l3 .8l.6 .1l2.4 .8l3 .6l3-.5l2.5-.9l.5-.1l3-.5l2.9 .6l.1 0l3 1.4l3 1.1l1.7 .5l1.3 .3l3 .4l3-.1l3-.3l1.7-.3l1.3-.2l3-1l3-1.3l1.5-.5l1.5-.5l3 .1l1 .4l2 .6l3 .4l3-.8l.4-.2l2.6-1.5l3-1.3l1.3-.2l1.7-.2l3-.1l3-.1l3-.6l3-1.4l1-.6l2-1.5zM676 290.4l-1.9 1.6l-1.1 1.8l-.4 1.2l-.4 3l-.1 3l.8 3l.1 .1l3 2.2l1.6 .7l1.4 .3l3 .2l2.3-.5l.7-.5l1.1-2.5l-.1-3l-.3-3l-.5-3l-.2-.8l-1-2.2l-2-2.3l-3-.3z" fill="#1890f8" stroke="#000" stroke-width="0.85" stroke-opacity="0.9" fill-rule="evenodd"/>
<path d="M564 193l1-.5l3-1.3l3-.9l3-.1l3 1.3l1.3 1.5l1.1 3l-.2 3l-.5 3l.7 3l.6 .3l3 .9l3 .3l3 .1l3-.1l3-.3l3-.6l2.2-.6l.8-.3l3-.9l3-.8l3-.6l3-.4l.5 0l2.5-.2l3-.2l3 0l3 .3l.8 .1l2.2 .4l3 .8l3 .9l2.6 .9l.4 .2l3 .9l3 .8l3 1.1l3 3l1.1 3l.7 3l1.2 3l1.5 3l1.5 2.5l.3 .5l1.8 3l.9 2.3l.4 .7l.3 3l-.7 1.5l-.5 1.5l-2.1 3l-.4 .6l-1 2.4l-.6 3l-.1 3l.4 3l.9 3l.4 .9l1.2 2.1l1.8 2.9l.1 .1l1.9 3l1 1.8l.7 1.2l1.7 3l.6 1.3l.7 1.7l.6 3l0 3l-.4 3l-.5 3l-.2 3l.1 3l.4 3l.5 3l.6 3l.7 3l.5 1.2l1.1 1.8l1.9 1.1l3 1.7l.4 .2l2.6 .4l3 1l3 .4l3 .6l3-.2l3-.2l3-.7l3-.3l3 .3l3 .9l1.5 .8l1.5 .3l3 .5l3 .8l3 .4l3 .9l.8 .1l2.2 .1l3 .1l1.7-.2l1.3-.8l3-1.6l3-.6l3-1.6l3-1.3l.2-.1l2.8-2.2l1.2-.8l1.8-1.6l1.9-1.4l1.1-1.2l3-1.7l1.1-.1l1.9-.5l3 .3l1.2 .2l1.8 .1l3 .1l3 0l3-.2l3 0l2 0l1 0l3-.2l3-.3l3-.8l2.5-1.7l.5-.8l.9-2.2l.3-3l0-3l-.2-3l-.2-3l-.5-3l-.3-2l-.2-1l-.2-3l.3-3l.1-.2l1.2-2.8l1.8-1.8l2.5-1.2l.5-.2l3-.5l3-.5l3-1.1l1.1-.7l1.9-1.3l1.8-1.7l1.2-1.2l1.6-1.8l1.4-2.2l.5-.8l.9-3l.1-3l-.7-3l-.8-1.9l-.6-1.1l-1.9-3l-.5-.7l-2-2.3l-1-.8l-3-2.1l-.1-.1l-2.9-1.8l-1.7-1.2l-1.3-.9l-2.5-2.1l-.5-.9l-1.1-2.1l.3-3l.8-2.2l.3-.8l1.6-3l1.1-1.9l.9-1.1l2.1-2.3l.7-.7l2.3-1.9l1.5-1.1l1.5-.8l3-.7l3 .4l2.5 1.1l.5 .2l3 1.4l3 1.1l1.3 .3l1.7 .3l0 2.7l0 3l0 3l0 3l0 3l0 3l0 3l0 3l0 3l0 3l0 3l0 3l0 3l0 3l0 3l0 3l0 3l0 3l0 3l0 3l0 3l0 3l0 3l0 3l0 3l0 3l0 3l0 3l0 3l0 3l0 3l0 3l0 3l0 3l0 3l0 3l0 3l0 3l0 3l0 3l0 3l0 3l0 3l0 3l0 3l0 3l0 3l0 3l0 3l0 3l0 3l0 3l0 3l0 3l0 3l0 3l0 3l0 3l0 3l0 3l0 3l0 3l0 3l0 3l0 3l0 3l0 3l0 3l0 3l0 3l0 3l0 3l0 3l0 3l0 3l0 3l0 3l0 3l0 3l0 3l0 3l0 3l0 3l0 3l0 3l0 3l0 3l0 3l0 3l0 3l0 3l0 3l0 3l0 3l0 3l0 3l0 3l0 3l0 3l0 3l0 3l0 3l0 3l0 3l0 3l0 3l0 3l0 3l0 3l0 3l0 3l0 3l0 3l0 3l0 3l0 3l0 3l0 3l0 3l0 3l0 3l0 3l0 3l0 3l0 3l0 3l0 3l0 3l0 3l0 3l0 3l0 3l0 3l0 3l0 3l0 3l0 3l0 3l0 3l0 3l0 3l0 3l0 3l0 3l0 3l0 3l0 3l0 3l0 3l0 3l0 3l0 3l0 3l0 3l0 3l0 3l0 3l0 3l0 3l0 3l0 3l0 3l0 3l0 3l0 3l0 3l0 3l0 3l0 3l0 3l0 3l0 3l0 3l0 3l0 3l0 3l0 3l0 3l0 3l0 3l0 3l0 3l0 3l0 3l0 3l0 3l0 3l0 3l0 3l0 3l0 3l0 3l0 3l0 3l0 3l0 3l0 3l0 3l0 3l0 3l-3 0l-3 0l-3 0l-3 0l-3 0l-3 0l-3 0l-3 0l-3 0l-3 0l-3 0l-3 0l-3 0l-3 0l-3 0l-3 0l-3 0l-3 0l-3 0l-3 0l-3 0l-3 0l-3 0l-3 0l-3 0l-3 0l-3 0l-3 0l-3 0l-3 0l-3 0l-3 0l-3 0l-3 0l-3 0l-3 0l-3 0l-3 0l-3 0l-3 0l-3 0l-3 0l-3 0l-3 0l-3 0l-3 0l-3 0l-3 0l-3 0l-3 0l-3 0l-3 0l-3 0l-3 0l-3 0l-3 0l-3 0l-3 0l-3 0l-3 0l-3 0l-3 0l-3 0l-3 0l-3 0l-3 0l-3 0l-3 0l-3 0l-3 0l-3 0l-3 0l-3 0l-3 0l-3 0l-3 0l-3 0l-3 0l-3 0l-3 0l-3 0l-3 0l-3 0l-3 0l-3 0l-3 0l-3 0l-3 0l-3 0l-3 0l-3 0l-3 0l-3 0l-3 0l-3 0l-3 0l-3 0l-3 0l-3 0l-3 0l-3 0l-3 0l-3 0l-3 0l-3 0l-3 0l-3 0l-3 0l-3 0l-3 0l-3 0l-3 0l-3 0l-3 0l-3 0l-3 0l-3 0l-3 0l-3 0l-3 0l-3 0l-3 0l-3 0l-3 0l-3 0l-3 0l-3 0l-3 0l-3 0l-3 0l-3 0l-3 0l-3 0l-3 0l-3 0l-3 0l-3 0l-3 0l-3 0l-3 0l-3 0l-3 0l-3 0l-3 0l-3 0l-3 0l-3 0l-3 0l-3 0l-3 0l-3 0l-3 0l-3 0l-3 0l-3 0l-3 0l-3 0l-3 0l-3 0l-3 0l-3 0l-3 0l-3 0l-3 0l-3 0l-3 0l-3 0l-3 0l-3 0l-3 0l-3 0l-3 0l-3 0l-3 0l-3 0l-3 0l-3 0l-3 0l-3 0l-3 0l-3 0l-3 0l-3 0l-3 0l-3 0l-3 0l-3 0l-3 0l-3 0l-3 0l-3 0l-3 0l-3 0l-3 0l-3 0l-3 0l-3 0l-3 0l-3 0l-3 0l-3 0l-3 0l-3 0l-3 0l-3 0l-3 0l-3 0l-3 0l-3 0l-3 0l-3 0l-3 0l-3 0l-3 0l-3 0l-3 0l-3 0l-3 0l-3 0l-3 0l-3 0l-3 0l-3 0l-3 0l-3 0l-3 0l-3 0l-3 0l-3 0l-3 0l-3 0l-3 0l-3 0l-3 0l-3 0l-3 0l-3 0l-3 0l-3 0l-3 0l-3 0l-3 0l-3 0l-3 0l-3 0l-3 0l-3 0l-3 0l-3 0l0-3l0-3l0-3l0-3l0-3l0-3l0-3l0-3l0-3l0-3l0-3l0-3l0-3l0-3l0-3l0-3l0-3l0-3l0-3l0-3l0-3l0-3l0-3l0-3l0-3l0-3l0-3l0-3l0-3l0-3l0-3l0-3l0-3l0-3l0-3l0-3l0-3l0-3l0-3l0-3l0-3l0-3l0-3l0-3l0-3l0-3l0-3l0-3l0-3l0-3l0-3l0-3l0-3l0-3l0-3l0-3l0-3l0-3l0-3l0-3l0-3l0-3l0-3l0-3l0-3l0-3l0-3l0-3l0-3l0-3l0-3l0-3l0-3l0-3l0-3l0-3l0-3l0-3l0-3l0-3l0-3l0-3l0-3l0-3l0-3l0-3l0-3l0-3l0-3l0-3l0-3l0-3l0-3l0-3l0-3l0-3l0-3l0-3l0-3l0-3l0-3l0-3l0-3l0-3l0-3l0-3l0-3l0-3l0-3l0-3l0-3l0-3l0-3l0-3l0-3l0-3l0-3l0-3l0-3l0-3l0-3l0-3l0-3l0-3l0-3l0-3l0-3l0-3l0-3l0-3l0-3l0-3l0-3l0-3l0-3l0-3l0-3l0-3l0-3l0-3l0-3l0-3l0-3l0-3l0-3l0-3l0-3l0-3l0-3l0-3l0-3l0-3l0-3l0-3l0-3l0-3l0-3l0-3l0-3l0-3l0-.3l3-1.9l1.1-.8l1.9-1.6l1.4-1.4l1.6-2l.7-1l1.3-3l.4-3l-.6-3l-1.2-3l-.1-3l2.5-3l3-1.8l2.6-1.2l.4-.1l3-.9l3-.6l3-.7l1.2-.7l1.8-1.6l.8-1.4l2.2-2.3l.8-.7l2.2-1.1l3-.7l3-.4l3-.3l2.5-.5l.5-.1l3-1l3-.8l3-.4l3-.3l1.4-.4l1.6-.4l3-1.4l2.1-1.2l.9-.5l3 .3l.2 .2l.6 3l.7 3l1.5 1.6l1.6 1.4l1.4 .5l3 .7l3 .2l3-.4l2.8-1l.2-.1l3-2.2l2.2-.7l.8-.3l3 .2l1.3 .1l1.7 .1l1.7-.1l1.3-.1l3-.7l3-.7l3-.1l3 .3l3-.2l2.9-1.5l.1 0l2.5-3l.5-.8l1.7-2.2l1.3-1.7l2.4-1.3l.6-.3l3-.1l3 .3l3-.3l3-1.2l2.9-1.4l.1-.1l3-1.1l3-.5l3 .1l3 .1l3-.1l3-.8l1.1-.6l1.9-1.4l1.9-1.6l1.1-1l3-1.1l3 1.7l.3 .4l2.7 2.2l3 .7l3-.5l3-1.2l3-.8l3 .1l3 .5l3 .6l3 .3l3 0l3-.1l3-.2l3-.4l3-.9l.6-.3l2.4-2.2l.5-.8l1.5-3l1-1.8l.7-1.2l2.3-2.9l.1-.1l2.9-1.5l3-.2l3 1l1.2 .7l1.8 1.3l2.7 1.7l.3 .1l3 .6l2.9-.7l.1 0l3-2.4l.7-.6l2.3-1.7l3-1l3 0l3 .4l3 .1l3-.8l3-2.2l.8-.8l2.2-2.8l.2-.2l2.7-3l.1-.1l3-1.9l3-.8l3 .1l3 .9l3 1.1l3 .7l3-.1l3-.3l3 .4l.1 0l2.9 1.2l3 1.3l1.7 .5l1.3 .3l3 0l1.4-.3l1.6-.7l3-1.2l1.7 1.9l1 3l.3 .3l2.5 2.7l.5 .2l3 .2l.6-.4l1.6-3l-.4-3l-.3-3l1.5-1.6l1.7-1.4l1.3-.4l3-.6l3-.4l3-.4l3-.3l3 .1l3 .5l3 .9l2.3 .6l.7 .1l3 .2l.8-.3l2.2-.8l2.5-2.2l.5-.5l1.6-2.5l1.4-2.8l.1-.2l1.3-3l1.6-3l0-.1l3-2.1l3-.6l.6-.2l2.4-.6l3-1l3-1l1.2-.4l1.8-1l3-1.1l3 .3l2.8 1.8l.2 .1l3 2l1.2 .9l1.8 1l3 1.8l.4 .2l2.6 1.3l2.9 1.7l.1 0l3 1.6l2.6 1.4l.4 .2l3 1.1l3 0l2.1-1.3l.9-.8l1.5-2.2l1.5-2.4l.4-.6l2.6-2.7l.3-.3l2.7-2.2l1-.8l2-2.2l.9-.8l2.1-2.6l.6-.4l2.4-1.6l3-1.1l1-.3l2-1l3-1.9l.1-.1l2.9-2.1l1.6-.9l1.4-.6l3-1.1l3-.6l3-.4l1.1-.3l1.9-.6l3-2.1l.3-.3l2.7-1.7zM466 312.3l-2.2 .7l-.8 1.2l-2.5 1.8l1.6 3l.9 .3l3 .5l3-.8l2.5-3l-.1-3l-2.4-1.4zM752.8 208l1.2-.5l1.9 .5l1.1 .8l.9 2.2l1 3l1.1 1.3l2.1 1.7l.9 .4l3 1.6l1.9 1l1.1 .8l3 2.1l.2 .1l2.8 2.4l.8 .6l2.2 1.8l1 1.2l2 3l0 .1l1.4 2.9l1.3 3l0 3l-2.7 1.7l-2.1 1.3l-.9 .6l-2.5 2.4l-.5 2.6l-.1 .4l.1 .1l1.5 2.9l1.3 3l-.1 3l-1.5 3l-1.2 1.6l-.9 1.4l-2.1 2.5l-.4 .5l-2.6 2.4l-.6 .6l-2.4 2l-.9 1l-2.1 2.3l-.4 .7l-1.8 3l-.8 1.4l-.7 1.6l-1.3 3l-1 1.9l-.7 1.1l-2.3 2.6l-1 .4l-2 1l-3-.6l-.6-.4l-2.4-1.8l-1.1-1.2l-1.8-3l-.1-.3l-1.6-2.7l-1.4-2.6l-.6-.4l-2.4-2l-1.6-1l-.8-3l1.8-3l.6-.8l2.1-2.2l.9-1.7l.5-1.3l1.9-3l.6-.6l3-1.7l3-.3l3 .2l2.5-.6l-.6-3l-1.9-1.1l-3-1.6l-.2-.3l-2.8-2.2l-.6-.8l-2.2-3l-.2-.6l-1.4-2.4l.1-3l1.3-1l1.8-2l1.2-1.2l1.1-1.8l-.2-3l-.9-.8l-3-1.1l-3-.1l-3 .1l-.9-1.1l-1.7-3l-.4-1.7l-.2-1.3l.2-1.9l.1-1.1l2.1-3l.8-.5l3-.9l3-.5l2.9-1.1l.1 0l3-2.7l.2-.3l2.8-2.2zM696.9 292l.1-.1l3-2l3 .2l2.7 1.9l.3 .3l1.7 2.7l.3 3l-.8 3l-1.2 1.7l-1.1 1.3l-1.9 1.7l-3 1.1l-3-.5l-2.1-2.3l-.9-2.1l-.3-.9l.1-3l.2-.8l.8-2.2z" fill="#28a0f8" stroke="#000" stroke-width="0.85" stroke-opacity="0.9" fill-rule="evenodd"/>
<path d="M603.8 211l.2-.1l3-.8l3-.5l3-.1l3 .4l3 .7l1.1 .4l1.9 .9l3 1.6l.8 .5l2.2 1.5l1.6 1.5l1.4 1.8l.7 1.2l1.4 3l.9 2.2l.4 .8l1.6 3l1 1.5l1.2 1.5l1.8 2.6l.2 .4l1.3 3l.5 3l.2 3l.2 3l.6 2.7l.1 .3l1 3l1.2 3l.7 1.4l.7 1.6l1.4 3l.9 1.9l.5 1.1l1.2 3l1.3 2.7l.1 .3l1.8 3l1.1 1.7l.7 1.3l1.2 3l.7 3l.4 2.1l.1 .9l.5 3l.5 3l.7 3l.9 3l.3 .9l.8 2.1l1.1 3l1.1 2.5l.2 .5l2.6 3l.2 .1l3 .5l3 1.1l3 .7l1.2 .6l1.8 .5l3 .3l3 .8l3-.1l3 .4l3-.3l3 .3l3 .1l3 .3l1.8 .7l1.2 .2l3 .3l3 .6l3 .4l3 1l3 .3l.6 .2l2.4 .3l3 .1l1.7-.4l1.3-.6l3-1.4l1.9-1l1.1-.8l3-1.8l1.4-.4l1.6-.9l2.9-2.1l.1-.1l3-1.5l1.5-1.4l1.5-1.2l3-1.1l3 0l3-.2l3 .3l3 0l3 .1l3 .9l3-.3l3 .3l2.9 1.2l.1 0l3 1.5l3-.1l3-.2l3-.8l.8-.4l2.2-1.6l1.6-1.4l1.4-1.6l1.3-1.4l1.7-2.2l.7-.8l2.2-3l.1-.2l2.1-2.8l.9-1.4l1.3-1.6l1.7-2.2l.8-.8l2.2-2.5l.6-.5l2.4-2.6l.5-.4l2.3-3l.2-1.1l.4-1.9l-.4-1.1l-.9-1.9l.4-3l.5-.3l3-1.1l0 1.4l0 3l0 3l0 3l0 3l0 3l0 3l0 3l0 3l0 3l0 3l0 3l0 3l0 3l0 3l0 3l0 3l0 3l0 3l0 3l0 3l0 3l0 3l0 3l0 3l0 3l0 3l0 3l0 3l0 3l0 3l0 3l0 3l0 3l0 3l0 3l0 3l0 3l0 3l0 3l0 3l0 3l0 3l0 3l0 3l0 3l0 3l0 3l0 3l0 3l0 3l0 3l0 3l0 3l0 3l0 3l0 3l0 3l0 3l0 3l0 3l0 3l0 3l0 3l0 3l0 3l0 3l0 3l0 3l0 3l0 3l0 3l0 3l0 3l0 3l0 3l0 3l0 3l0 3l0 3l0 3l0 3l0 3l0 3l0 3l0 3l0 3l0 3l0 3l0 3l0 3l0 3l0 3l0 3l0 3l0 3l0 3l0 3l0 3l0 3l0 3l0 3l0 3l0 3l0 3l0 3l0 3l0 3l0 3l0 3l0 3l0 3l0 3l0 3l0 3l0 3l0 3l0 3l0 3l0 3l0 3l0 3l0 3l0 3l0 3l0 3l0 3l0 3l0 3l0 3l0 3l0 3l0 3l0 3l0 3l0 3l0 3l0 3l0 3l0 3l0 3l0 3l0 3l0 3l0 3l0 3l0 3l0 3l0 3l0 3l0 3l0 3l0 3l0 3l0 3l0 3l0 3l0 3l0 3l0 3l0 3l0 3l0 3l0 3l0 3l0 3l0 3l0 3l0 3l0 3l0 3l0 3l0 3l0 3l0 3l0 3l0 3l0 3l0 3l0 3l0 3l-3 0l-3 0l-3 0l-3 0l-3 0l-3 0l-3 0l-3 0l-3 0l-3 0l-3 0l-3 0l-3 0l-3 0l-3 0l-3 0l-3 0l-3 0l-3 0l-3 0l-3 0l-3 0l-3 0l-3 0l-3 0l-3 0l-3 0l-3 0l-3 0l-3 0l-3 0l-3 0l-3 0l-3 0l-3 0l-3 0l-3 0l-3 0l-3 0l-3 0l-3 0l-3 0l-3 0l-3 0l-3 0l-3 0l-3 0l-3 0l-3 0l-3 0l-3 0l-3 0l-3 0l-3 0l-3 0l-3 0l-3 0l-3 0l-3 0l-3 0l-3 0l-3 0l-3 0l-3 0l-3 0l-3 0l-3 0l-3 0l-3 0l-3 0l-3 0l-3 0l-3 0l-3 0l-3 0l-3 0l-3 0l-3 0l-3 0l-3 0l-3 0l-3 0l-3 0l-3 0l-3 0l-3 0l-3 0l-3 0l-3 0l-3 0l-3 0l-3 0l-3 0l-3 0l-3 0l-3 0l-3 0l-3 0l-3 0l-3 0l-3 0l-3 0l-3 0l-3 0l-3 0l-3 0l-3 0l-3 0l-3 0l-3 0l-3 0l-3 0l-3 0l-3 0l-3 0l-3 0l-3 0l-3 0l-3 0l-3 0l-3 0l-3 0l-3 0l-3 0l-3 0l-3 0l-3 0l-3 0l-3 0l-3 0l-3 0l-3 0l-3 0l-3 0l-3 0l-3 0l-3 0l-3 0l-3 0l-3 0l-3 0l-3 0l-3 0l-3 0l-3 0l-3 0l-3 0l-3 0l-3 0l-3 0l-3 0l-3 0l-3 0l-3 0l-3 0l-3 0l-3 0l-3 0l-3 0l-3 0l-3 0l-3 0l-3 0l-3 0l-3 0l-3 0l-3 0l-3 0l-3 0l-3 0l-3 0l-3 0l-3 0l-3 0l-3 0l-3 0l-3 0l-3 0l-3 0l-3 0l-3 0l-3 0l-3 0l-3 0l-3 0l-3 0l-3 0l-3 0l-3 0l-3 0l-3 0l-3 0l-3 0l-3 0l-3 0l-3 0l-3 0l-3 0l-3 0l-3 0l-3 0l-3 0l-3 0l-3 0l-3 0l-3 0l-3 0l-3 0l-3 0l-3 0l-3 0l-3 0l-3 0l-3 0l-3 0l-3 0l-3 0l-3 0l-3 0l-3 0l-3 0l-3 0l-3 0l-3 0l-3 0l-3 0l-3 0l-3 0l-3 0l-3 0l-3 0l-3 0l-3 0l-3 0l-3 0l-3 0l-3 0l-3 0l-3 0l-3 0l-3 0l-3 0l-3 0l-3 0l-3 0l-3 0l-3 0l-3 0l-3 0l0-3l0-3l0-3l0-3l0-3l0-3l0-3l0-3l0-3l0-3l0-3l0-3l0-3l0-3l0-3l0-3l0-3l0-3l0-3l0-3l0-3l0-3l0-3l0-3l0-3l0-3l0-3l0-3l0-3l0-3l0-3l0-3l0-3l0-3l0-3l0-3l0-3l0-3l0-3l0-3l0-3l0-3l0-3l0-3l0-3l0-3l0-3l0-3l0-3l0-3l0-3l0-3l0-3l0-3l0-3l0-3l0-3l0-3l0-3l0-3l0-3l0-3l0-3l0-3l0-3l0-3l0-3l0-3l0-3l0-3l0-3l0-3l0-3l0-3l0-3l0-3l0-3l0-3l0-3l0-3l0-3l0-3l0-3l0-3l0-3l0-3l0-3l0-3l0-3l0-3l0-3l0-3l0-3l0-3l0-3l0-3l0-3l0-3l0-3l0-3l0-3l0-3l0-3l0-3l0-3l0-3l0-3l0-3l0-3l0-3l0-3l0-3l0-3l0-3l0-3l0-3l0-3l0-3l0-3l0-3l0-3l0-3l0-3l0-3l0-3l0-3l0-3l0-3l0-3l0-3l0-3l0-3l0-3l0-3l0-3l0-3l0-3l0-3l0-3l0-3l0-1l2.2-2l.8-.8l1.8-2.2l1.2-2l.6-1l1.6-3l.8-1.5l1.5-1.5l1.5-1.6l3-.8l1.9-.6l1.1-.6l2.2-2.4l.8-2.8l0-.2l0-.2l-1-2.8l-1.1-3l-.4-3l-.5-2l-.2-1l-.9-3l-.5-3l1-3l.6-.6l2.7-2.4l.3-.2l3-1.9l1.3-.9l1.7-1.1l3-1.5l2.6-.4l.4-.1l3 0l3-.5l3-1.9l.4-.5l1.7-3l.9-2.1l.4-.9l2.6-2.3l1.3-.7l1.7-.5l3-1l3-1l1.4-.5l1.6-.6l3-1.2l2.1-1.2l.9-.8l2.1-2.2l.9-1l2.2-2l.8-.5l3-1.1l3-.3l3-.2l3-.6l1-.3l2-.4l3-.6l3-.2l3 .1l3 .2l3 0l3 0l3 .1l3 .1l3 0l3-.2l3 0l3 .1l3-.1l3-1.2l.8-.9l.2-3l.4-3l1.5-3l.1-.1l3-.8l1.5 .9l1.5 1.1l2.1 1.9l.9 1l3 1.7l3 .3l3-1l2.7-2l.3-.2l2.2-2.8l.8-1.4l.9-1.6l1.6-3l.5-.6l3-1.8l3 0l3 .8l3 1.2l.9 .4l2.1 1.1l3 1.4l2.2 .5l.8 .2l1.9-.2l1.1-.1l3-1.1l3-.8l3 .1l3 .7l3 .5l3-.5l2.9-1.8l.1-.1l3-2.4l.7-.5l2.3-1.5l3-1.3l1.4-.2l1.6-.2l3 .1l1.9 .1l1.1 0l.2 0l2.8-.3l3-1.1l2.3-1.6l.7-.6l2.6-2.4l.4-.4l3-1.8l3-.5l3 .5l3 .9l3 .8l3 .2l3-.2l3-.3l3-.1l3 0l3-.4l3-.8l3-.6l3-.1l3 .3l3 .3l3-.6l.4-.2l2.6-1.6l2.5-1.4l.5-.2l3-.8l3-.4l3-.2l3 0l3 .6l1.5 1l1.5 .9l3 2l.1 .1l2.9 1.1l3 .5l3 .2l3 .4l2.9 .8l.1 0l3 1.1l3 .9l3 .5l3-.3l3-.8l3-.6l3 .3l2.1 1.9l.9 1.8l.3 1.2l-.1 3l-.2 1.2l-.2 1.8l-.3 3l0 3l.4 3l.1 .2l.7 2.8l1.1 3l1.2 2.5l.2 .5l1.6 3l1.2 1.6l1 1.4l2 2l1 1l2 1.6l2.1 1.4l.9 .6l3 1.7l1.5 .7l1.5 .7l3 1.1l2.9 1.2l.1 0l3 .7l3 0l3-.2l3-.4l.4-.1l2.6-.9l3-1.6l.7-.5l2.3-2.5l.4-.5l.8-3l-1.2-2.8l0-.2l-3-2.2l-2.1-.8l-.9-.2l-3-.3l-3-.5l-3-1l-1.9-1l-1.1-.9l-2.5-2.1l-.5-.7l-1.9-2.3l-1.1-2.2l-.5-.8l-1.5-3l-1-2.4l-.4-.6l-1.4-3l-.8-3l.1-3l1-3l1.1-3l-1.2-3l-1.4-1.3l-2-1.7l-1-1.6l-1.7-1.4l1.7-1.2l1-1.8l2-1.2l1.4-1.8l1.6-1.8l.8-1.2l2.1-3l.1-.1l2.3-2.9l.7-.9l1.9-2.1l1.1-1.5l1.2-1.5l1.8-2.4l.7-.6l2.3-1.8l3-1l3 0l3-.2l3-.9l3-1.5l1.2-.6l1.8-.9l3-1.1l3-.6l3 .1l3 .8l3 1.5l.3 .2l2.7 2l1.3 1l1.7 1.7l1.6 1.3l1.4 1.4l1.9 1.6l1.1 1.1l1.8 1.9l1.2 1.2l2.2 1.8l.8 .5l3 1.1l3 .8l3 .4l3-.1l3-.4l3-.7l3-1.1l1.2-.5l1.8-.9l3-1.7l.6-.4l2.4-1.9l1.1-1.1l1.9-3l.5-3l-.5-1.7l-.5-1.3l-2.5-1.9l-3 0l-3 1.5l-.6 .4l-2.4 1.9l-2 1.1l-1 .9l-3 .5l-3-.7l-1.3-.7l-1.7-1.6l-1-1.4l-.6-3l.3-3l1.1-3l.2-.3l1.9-2.7l1.1-1.1l2.3-1.9l.7-.5l3-1.5l3-.7l3 0l3 .5l3 .9l3 .7l3 .2l3-.4l3-.8l3-1.1l.7-.3l2.3-1l3-.7l3-.3l3-.4l2.1-.6l.9-.2l3-.2l3 .3l1.5 .1l1.5 .1l.3-.1l2.7-.8l3-1.7l1.3-.5l1.7-.5l3-.5l3-.5l3-.7zM429.8 265l.2-.2l3-1.1l3 1.3l-3 2.8l-3-1.7z" fill="#38a8f8" stroke="#000" stroke-width="0.85" stroke-opacity="0.9" fill-rule="evenodd"/>
<path d="M598.6 220l2.4-.6l3-.7l3-.9l3 .3l3 1.8l.2 .1l2.8 1.6l2.4 1.4l.6 .4l3 2.4l.2 .2l1.9 3l.9 1.7l.6 1.3l1.4 3l1 2.1l.5 .9l1.2 3l.8 3l.5 1.7l.3 1.3l1 3l1.3 3l.4 .8l1.1 2.2l1.4 3l.5 1l.9 2l1.4 3l.7 1.4l.7 1.6l1.3 3l1 1.8l.6 1.2l2.1 3l.3 .3l2.4 2.7l.6 .7l1.7 2.3l1.3 2.3l.3 .7l1.1 3l1 3l.6 1.6l.5 1.4l1.3 3l1.2 2.4l.3 .6l1.6 3l1.1 1.7l.7 1.3l2.2 3l.1 .1l3 1.2l3 .7l2.2 1l.8 .3l3 .6l3 .7l3 .6l2 .8l1 .2l3-.1l3 .4l3-.2l3 .3l3 .1l3 .1l3 .6l3 .4l3 .9l1.5 .3l1.5 .2l3 .6l3 .3l3 .3l3 .7l3-.7l3-1.4l.1 0l2.9-1.9l1.8-1.1l1.2-.9l3-1.2l1.5-.9l1.5-1.3l3-1.1l1.1-.6l1.9-1.8l2.6-1.2l.4-.2l3-.1l3-.5l3 .7l2.1 .1l.9 0l3 .1l3 .7l3 .1l3 .5l2.5 1.6l.5 .3l3 1.1l3 1.1l1 .5l2 2.2l1.5 .8l1.5 1l3 .8l1.7 1.2l1.2 3l.1 .5l3 2.2l3-2.1l.6-.6l2.4-2.1l1.2-.9l1.8-1.5l1.9-1.5l1.1-1.2l1.4-1.8l1.6-2.9l0-.1l1.2-3l1.2-3l.6-1.3l.9-1.7l1.8-3l.3-.3l0 .3l0 3l0 3l0 3l0 3l0 3l0 3l0 3l0 3l0 3l0 3l0 3l0 3l0 3l0 3l0 3l0 3l0 3l0 3l0 3l0 3l0 3l0 3l0 3l0 3l0 3l0 3l0 3l0 3l0 3l0 3l0 3l0 3l0 3l0 3l0 3l0 3l0 3l0 3l0 3l0 3l0 3l0 3l0 3l0 3l0 3l0 3l0 3l0 3l0 3l0 3l0 3l0 3l0 3l0 3l0 3l0 3l0 3l0 3l0 3l0 3l0 3l0 3l0 3l0 3l0 3l0 3l0 3l0 3l0 3l0 3l0 3l0 3l0 3l0 3l0 3l0 3l0 3l0 3l0 3l0 3l0 3l0 3l0 3l0 3l0 3l0 3l0 3l0 3l0 3l0 3l0 3l0 3l0 3l0 3l0 3l0 3l0 3l0 3l0 3l0 3l0 3l0 3l0 3l0 3l0 3l0 3l0 3l0 3l0 3l0 3l0 3l0 3l0 3l0 3l0 3l0 3l0 3l0 3l0 3l0 3l0 3l0 3l0 3l0 3l0 3l0 3l0 3l0 3l0 3l0 3l0 3l0 3l0 3l0 3l0 3l0 3l0 3l0 3l0 3l0 3l0 3l0 3l0 3l0 3l0 3l0 3l0 3l0 3l0 3l0 3l0 3l0 3l0 3l0 3l0 3l0 3l0 3l0 3l0 3l0 3l0 3l0 3l0 3l0 3l0 3l0 3l0 3l0 3l0 3l0 3l-3 0l-3 0l-3 0l-3 0l-3 0l-3 0l-3 0l-3 0l-3 0l-3 0l-3 0l-3 0l-3 0l-3 0l-3 0l-3 0l-3 0l-3 0l-3 0l-3 0l-3 0l-3 0l-3 0l-3 0l-3 0l-3 0l-3 0l-3 0l-3 0l-3 0l-3 0l-3 0l-3 0l-3 0l-3 0l-3 0l-3 0l-3 0l-3 0l-3 0l-3 0l-3 0l-3 0l-3 0l-3 0l-3 0l-3 0l-3 0l-3 0l-3 0l-3 0l-3 0l-3 0l-3 0l-3 0l-3 0l-3 0l-3 0l-3 0l-3 0l-3 0l-3 0l-3 0l-3 0l-3 0l-3 0l-3 0l-3 0l-3 0l-3 0l-3 0l-3 0l-3 0l-3 0l-3 0l-3 0l-3 0l-3 0l-3 0l-3 0l-3 0l-3 0l-3 0l-3 0l-3 0l-3 0l-3 0l-3 0l-3 0l-3 0l-3 0l-3 0l-3 0l-3 0l-3 0l-3 0l-3 0l-3 0l-3 0l-3 0l-3 0l-3 0l-3 0l-3 0l-3 0l-3 0l-3 0l-3 0l-3 0l-3 0l-3 0l-3 0l-3 0l-3 0l-3 0l-3 0l-3 0l-3 0l-3 0l-3 0l-3 0l-3 0l-3 0l-3 0l-3 0l-3 0l-3 0l-3 0l-3 0l-3 0l-3 0l-3 0l-3 0l-3 0l-3 0l-3 0l-3 0l-3 0l-3 0l-3 0l-3 0l-3 0l-3 0l-3 0l-3 0l-3 0l-3 0l-3 0l-3 0l-3 0l-3 0l-3 0l-3 0l-3 0l-3 0l-3 0l-3 0l-3 0l-3 0l-3 0l-3 0l-3 0l-3 0l-3 0l-3 0l-3 0l-3 0l-3 0l-3 0l-3 0l-3 0l-3 0l-3 0l-3 0l-3 0l-3 0l-3 0l-3 0l-3 0l-3 0l-3 0l-3 0l-3 0l-3 0l-3 0l-3 0l-3 0l-3 0l-3 0l-3 0l-3 0l-3 0l-3 0l-3 0l-3 0l-3 0l-3 0l-3 0l-3 0l-3 0l-3 0l-3 0l-3 0l-3 0l-3 0l-3 0l-3 0l-3 0l-3 0l-3 0l-3 0l-3 0l-3 0l-3 0l-3 0l-3 0l-3 0l-3 0l-3 0l-3 0l-3 0l-3 0l-3 0l-3 0l-3 0l-3 0l-3 0l-3 0l-3 0l-3 0l-3 0l-3 0l-3 0l-3 0l-3 0l-3 0l-3 0l-3 0l-3 0l-3 0l-3 0l-3 0l-3 0l-3 0l-3 0l-3 0l-3 0l-3 0l-3 0l0-3l0-3l0-3l0-3l0-3l0-3l0-3l0-3l0-3l0-3l0-3l0-3l0-3l0-3l0-3l0-3l0-3l0-3l0-3l0-3l0-3l0-3l0-3l0-3l0-3l0-3l0-3l0-3l0-3l0-3l0-3l0-3l0-3l0-3l0-3l0-3l0-3l0-3l0-3l0-3l0-3l0-3l0-3l0-3l0-3l0-3l0-3l0-3l0-3l0-3l0-3l0-3l0-3l0-3l0-3l0-3l0-3l0-3l0-3l0-3l0-3l0-3l0-3l0-3l0-3l0-3l0-3l0-3l0-3l0-3l0-3l0-3l0-3l0-3l0-3l0-3l0-3l0-3l0-3l0-3l0-3l0-3l0-3l0-3l0-3l0-3l0-3l0-3l0-3l0-3l0-3l0-3l0-3l0-3l0-3l0-3l0-3l0-3l0-3l0-3l0-3l0-3l0-3l0-3l0-3l0-3l0-3l0-3l0-3l0-3l0-3l0-3l0-3l0-3l0-3l0-3l0-3l0-3l0-3l0-3l0-3l0-3l0-3l0-3l0-3l0-3l0-3l0-3l0-3l0-3l0-3l0-3l0-3l0-3l0-.4l3-.6l3-.7l3-.9l1.1-.4l1.9-1l2.7-2l.3-.3l2.4-2.7l.6-.7l2.2-2.3l.8-.6l3-2.3l.1-.1l2.9-2.9l.1-.1l1.4-3l.8-3l.7-1.2l1.7-1.8l1.3-1.3l1.5-1.7l1.5-2l.6-1l1.4-3l1-2.5l.2-.5l.7-3l.6-3l.7-3l.8-1.8l.6-1.2l2.4-2.7l.2-.3l2.8-2.8l.1-.2l2.6-3l.3-.4l2.1-2.6l.9-1l2.2-2l.8-.7l3-1.5l3-.7l.6-.1l2.4-.4l3-.6l3-.5l3-.6l2.9-.9l.1 0l3-1.5l3-1l3-.3l3 .2l3 .6l3 1l1.8 1l1.2 .6l2.7 2.4l.3 .3l1.9 2.7l1.1 2.9l0 .1l3 1.6l3-.5l3-1l.4-.1l2.6-1.6l2.6-1.4l.4-.4l2.4-2.6l.6-.8l1.3-2.2l1.7-2.1l.7-.9l2.3-2.1l1.5-.9l1.5-.7l3-.8l3-.2l3 .2l3 .3l3 .1l3-.5l3-1.2l.5-.2l2.5-1.3l3-1.3l1.9-.4l1.1-.3l3-.4l3-1l1.3-1.3l1.7-2.6l.2-.4l2-3l.8-.7l3-1.7l2.8-.6l.2 0l3-.1l1.2 .1l1.8 .3l3 1l3 1.5l.4 .2l2.6 1.2l3 .7l3-.2l3-1l1-.7l2-1.3l2.1-1.7l.9-.7l3-1.8l1.7-.5l1.3-.4l3-.4l3-.3l3-.2l3-.2l3-.1l3 0l3 0l3-.1l3-.6l1.5-.7l1.5-1.2l1.9-1.8l1.1-1l3-1.8l.6-.2l2.4-.6l3 0l3 .5l.3 .1l2.7 .9l3 .7l3 .1l3-.2l3 0l3 .3l3 .4l3 .7l.4 .1l2.6 .5l3 .2l3-.5l.5-.2l2.5-1.7l1.3-1.3l1.7-1.9l1.7-1.1l1.3-.6l3-.6l3-.4l3-.4l3-.4l3-.1l3 .9l2.2 1.6l.8 .8l1.6 2.2l1.4 1.9l1 1.1l2 1.6l2.3 1.4l.7 .3l3 1.2l3 1.4l.1 .1l2.9 1.4l2.7 1.6l.3 .2l3 2l.8 .8l2.2 1.8l1.2 1.2l1.8 1.5l1.7 1.5l1.3 1.1l2.3 1.9l.7 .7l2.7 2.3l.3 .3l3 2l1.7 .7l1.3 .4l3 .6l3 .3l3 .3l3 .2l3 0l3-.2l3-.5l3-.9l.4-.2l2.6-1.3l3-1.6l.3-.1l2.7-1.8l1.6-1.2l1.4-1.7l1.2-1.3l1-3l-1.1-3l-1.1-.9l-2.9-2.1l-.1 0l-3-1.1l-3-.4l-3-.1l-3-1.3l-.3-.1l-2.7-2.4l-.8-.6l-2-3l-.2-.3l-1.3-2.7l-1.1-3l-.5-3l.4-3l1.8-3l.7-.8l2.6-2.2l.4-.3l3-2.3l.5-.4l2.5-2.3l1.1-.7l1.9-2l1.9-1l1.1-.9l3-.4l3 .5l1.8 .8l1.2 .3l3 1l3 .7l3-1.2l1.1-.8l1.9-2.1l1.1-.9l1.9-1.5l3-1.2l1.9-.3l1.1-.2l3-.4l3-.6l3-.7l3-.7l2.2-.4l.8-.1l3-.2l3 0l3-.1l3-.4l3-.9l2.6-1.3l.4-.2l3-1.7l1.7-1.1l1.3-.8l3-1.8l.7-.4l2.3-1.5l2-1.5l1-.9l2-2.1l1-1.3l1.1-1.7l1.5-3l.4-1l.8-2l1.2-3l1-2.1l.5-.9l2.5-2.9l.1-.1l2.9-1.8l3-1.2l3-1l3-.7l3-.2l3-.5l1.9-.6l1.1-.3l3-1.5l2.1-1.2l.9-.5l3-1.3l3-1zM531.4 232l.6-.8l3 .5l.2 .3l-.2 .5l-2.9 2.5l-.1 0zM488.5 247l1.5-.8l1.9 .8l1.1 2.6l.1 .4l-.1 .9l-3 1.6l-2-2.5z" fill="#48b8f8" stroke="#000" stroke-width="0.85" stroke-opacity="0.9" fill-rule="evenodd"/>
<path d="M577.3 238l2.7-.8l3-.6l3-.3l3 0l3 .2l3 0l3-.4l3-.6l3-.4l3 .2l3 .8l3 1.9l2.1 3l.9 1.9l.4 1.1l1.2 3l1.4 2.7l.2 .3l1.6 3l1.2 2.4l.3 .6l1.2 3l1.3 3l.2 .4l1.4 2.6l1.6 2.5l.3 .5l2.2 3l.5 .7l1.7 2.3l1.3 1.5l1.3 1.5l1.7 1.8l1.2 1.2l1.8 1.6l1.5 1.4l1.5 1.4l1.6 1.6l1.4 1.5l1.1 1.5l1.9 2.9l0 .1l1.8 3l1.2 1.7l.7 1.3l2.1 3l.2 .3l1.8 2.7l1.2 1.5l1 1.5l2 2l.8 1l2.2 1.3l3 1.1l1.9 .6l1.1 .3l3 1l3 .8l3 .6l1.1 .3l1.9 .5l3 .6l3 .1l3 .2l3 0l3 .2l3 .1l3 .3l3 .5l2.2 .5l.8 .1l3 .7l3 .4l3 .6l3 .4l3 .4l1.3 .4l1.7 .5l3-.5l3-1.7l2.4-1.3l.6-.4l3-2l1.2-.6l1.8-.9l3-1.8l.7-.3l2.3-1.2l3-1.8l.1 0l2.9-1.9l3-.3l3-.2l3 .3l3 .2l3 .2l3 .8l3 .4l1.6 .5l1.4 .4l3 1.4l2.6 1.2l.4 .2l2.8 2.8l.2 .7l1.4 2.3l1.5 3l.1 .1l2.1 2.9l.9 1.9l.7 1.1l2.1 3l.2 .3l1.5 2.7l1.2 3l.3 1l1.5 2l1.5 .7l3-.2l2.9 2.5l.1 0l.3 0l2.2-3l-.5-3l1-1.5l3-1.1l3-.2l.3-.2l2.7-1.6l1.5-1.4l1.5-1.7l0 1.7l0 3l0 3l0 3l0 3l0 3l0 3l0 3l0 3l0 3l0 3l0 3l0 3l0 3l0 3l0 3l0 3l0 3l0 3l0 3l0 3l0 3l0 3l0 3l0 3l0 3l0 3l0 3l0 3l0 3l0 3l0 3l0 3l0 3l0 3l0 3l0 3l0 3l0 3l0 3l0 3l0 3l0 3l0 3l0 3l0 3l0 3l0 3l0 3l0 3l0 3l0 3l0 3l0 3l0 3l0 3l0 3l0 3l0 3l0 3l0 3l0 3l0 3l0 3l0 3l0 3l0 3l0 3l0 3l0 3l0 3l0 3l0 3l0 3l0 3l0 3l0 3l0 3l0 3l0 3l0 3l0 3l0 3l0 3l0 3l0 3l0 3l0 3l0 3l0 3l0 3l0 3l0 3l0 3l0 3l0 3l0 3l0 3l0 3l0 3l0 3l0 3l0 3l0 3l0 3l0 3l0 3l0 3l0 3l0 3l0 3l0 3l0 3l0 3l0 3l0 3l0 3l0 3l0 3l0 3l0 3l0 3l0 3l0 3l0 3l0 3l0 3l0 3l0 3l0 3l0 3l0 3l0 3l0 3l0 3l0 3l0 3l0 3l0 3l0 3l0 3l0 3l0 3l0 3l0 3l0 3l0 3l0 3l0 3l0 3l0 3l0 3l0 3l0 3l0 3l0 3l0 3l0 3l0 3l0 3l-3 0l-3 0l-3 0l-3 0l-3 0l-3 0l-3 0l-3 0l-3 0l-3 0l-3 0l-3 0l-3 0l-3 0l-3 0l-3 0l-3 0l-3 0l-3 0l-3 0l-3 0l-3 0l-3 0l-3 0l-3 0l-3 0l-3 0l-3 0l-3 0l-3 0l-3 0l-3 0l-3 0l-3 0l-3 0l-3 0l-3 0l-3 0l-3 0l-3 0l-3 0l-3 0l-3 0l-3 0l-3 0l-3 0l-3 0l-3 0l-3 0l-3 0l-3 0l-3 0l-3 0l-3 0l-3 0l-3 0l-3 0l-3 0l-3 0l-3 0l-3 0l-3 0l-3 0l-3 0l-3 0l-3 0l-3 0l-3 0l-3 0l-3 0l-3 0l-3 0l-3 0l-3 0l-3 0l-3 0l-3 0l-3 0l-3 0l-3 0l-3 0l-3 0l-3 0l-3 0l-3 0l-3 0l-3 0l-3 0l-3 0l-3 0l-3 0l-3 0l-3 0l-3 0l-3 0l-3 0l-3 0l-3 0l-3 0l-3 0l-3 0l-3 0l-3 0l-3 0l-3 0l-3 0l-3 0l-3 0l-3 0l-3 0l-3 0l-3 0l-3 0l-3 0l-3 0l-3 0l-3 0l-3 0l-3 0l-3 0l-3 0l-3 0l-3 0l-3 0l-3 0l-3 0l-3 0l-3 0l-3 0l-3 0l-3 0l-3 0l-3 0l-3 0l-3 0l-3 0l-3 0l-3 0l-3 0l-3 0l-3 0l-3 0l-3 0l-3 0l-3 0l-3 0l-3 0l-3 0l-3 0l-3 0l-3 0l-3 0l-3 0l-3 0l-3 0l-3 0l-3 0l-3 0l-3 0l-3 0l-3 0l-3 0l-3 0l-3 0l-3 0l-3 0l-3 0l-3 0l-3 0l-3 0l-3 0l-3 0l-3 0l-3 0l-3 0l-3 0l-3 0l-3 0l-3 0l-3 0l-3 0l-3 0l-3 0l-3 0l-3 0l-3 0l-3 0l-3 0l-3 0l-3 0l-3 0l-3 0l-3 0l-3 0l-3 0l-3 0l-3 0l-3 0l-3 0l-3 0l-3 0l-3 0l-3 0l-3 0l-3 0l-3 0l-3 0l-3 0l-3 0l-3 0l-3 0l-3 0l-3 0l-3 0l-3 0l-3 0l-3 0l-3 0l-3 0l-3 0l-3 0l-3 0l-3 0l-3 0l-3 0l-3 0l-3 0l-3 0l-3 0l-3 0l-3 0l-3 0l-3 0l-3 0l-3 0l-3 0l-3 0l-3 0l-3 0l-3 0l-3 0l-3 0l-3 0l-3 0l-3 0l-3 0l-3 0l-3 0l-3 0l0-3l0-3l0-3l0-3l0-3l0-3l0-3l0-3l0-3l0-3l0-3l0-3l0-3l0-3l0-3l0-3l0-3l0-3l0-3l0-3l0-3l0-3l0-3l0-3l0-3l0-3l0-3l0-3l0-3l0-3l0-3l0-3l0-3l0-3l0-3l0-3l0-3l0-3l0-3l0-3l0-3l0-3l0-3l0-3l0-3l0-3l0-3l0-3l0-3l0-3l0-3l0-3l0-3l0-3l0-3l0-3l0-3l0-3l0-3l0-3l0-3l0-3l0-3l0-3l0-3l0-3l0-3l0-3l0-3l0-3l0-3l0-3l0-3l0-3l0-3l0-3l0-3l0-3l0-3l0-3l0-3l0-3l0-3l0-3l0-3l0-3l0-3l0-3l0-3l0-3l0-3l0-3l0-3l0-3l0-3l0-3l0-3l0-3l0-3l0-3l0-3l0-3l0-3l0-3l0-3l0-3l0-3l0-3l0-3l0-3l0-3l0-3l0-3l0-3l0-3l0-3l0-3l0-3l0-3l0-3l0-3l0-3l0-3l0-3l0-3l0-3l0-3l0-3l0-3l0-.8l3-2l.3-.2l2.7-1.2l3-1.4l.7-.4l2.3-.9l3-1.7l.5-.4l2.5-1.6l1.9-1.4l1.1-.8l3-2.1l.1-.1l2.9-2.1l1.1-.9l1.9-1.9l.9-1.1l2.1-3l2-3l1-1.6l.8-1.4l1.6-3l.6-1.2l.8-1.8l1.5-3l.7-1.2l.8-1.8l1.6-3l.6-1.2l1-1.8l1.9-3l.1-.2l2-2.8l1-1.4l1.6-1.6l1.4-1.4l2.5-1.6l.5-.3l3-1.7l1.6-1l1.4-1.1l2.4-1.9l.6-.5l3-2.1l.9-.4l2.1-.8l3-.7l3-1.1l.6-.4l2.4-1.6l1.4-1.4l1.6-1.3l2.3-1.7l.7-.4l3-1.1l3-.3l3 .6l2.1 1.2l.9 .5l2.7 2.5l.3 .3l3 2.7l3 2.2l1.8 .8l1.2 .9l3 1l3-.2l3-1.1l1.5-.6l1.5-.5l3-.8l3-1.1l1.1-.6l1.9-1.1l2.6-1.9l.4-.3l3-2.3l.8-.4l2.2-1.1l3-1l3-.9l.1 0l2.9-.9l3-1.1l3-.8l1.3-.2l1.7-.3l3 0l2.2 .3l.8 .1l3 .4l3 0l2.3-.5l.7-.2l3-1.5l2-1.3l1-.7l3-1.2l3-.2l3 .3l3 0l3-.3l3-.9l3-1.1l3-1.1l1.6-.8l1.4-.7l3-1.7l1.3-.6l1.7-.9l3-.9l3 0l3 .8l2.9 1l.1 .1l3 1.1l3 1.2l1.3 .6l1.7 .7l3 1.2l3 1l.8 .1l2.2 .3l1.9-.3l1.1-.2l3-.6l3 .6l.4 .2l2.6 1l3 1.3l2 .7l1 .3l3 .5l3-.1l1.7-.7l1.3-.8l1.7-2.2l.8-3l.3-3l.2-1.5l.3-1.5l1.5-3l1.2-1.3l2.9-1.7l.1 0l3-.9l3-.2l3 .4l3 .5l2.5 .2l.5 0l.1 0l2.9-.7l3-1.5l1.6-.8l1.4-.6l3-.9l3-.4l3 0l3 .1l3 .4l3 .7l1.9 .7l1.1 .4l3 1.1l3 .7l3 .3l3 .1l3 .3l.2 .1l2.8 .8l3 1.4l1.2 .8l1.8 1.1l2.7 1.9l.3 .2l3 2.3l.6 .5l2.4 2.5l.5 .5l2.5 3l3 2.5l1.5 .5l1.5 .4l3-.1l1.9-.3l1.1-.1l3-.4l3-.2l3 0l3-.1l3-.2l3-.4l3-.8l2-.8l1-.5l3-1.4l3-.8l1.1-.3l1.9-.6l3-1l3-1.1l1-.3l2-1.3l1.8-1.7l1.2-2.8l.1-.2l.4-3l0-3l-.5-1.8l-.4-1.2l-2.5-3l-.1-.1l-3-2.2l-2.1-.7l-.9-.5l-3-.5l-3 0l-2.8 1l-.2 0l-3 1.1l-3 1.2l-1.4-2.3l-.5-3l0-3l1.9-3l3-1.9l2.4-1.1l.6-.3l3-.4l3 .5l.6 .2l2.4 1.1l3 .3l2.8-1.4l.2-.1l3-1.4l3-1.4l.1-.1l2.9-1.2l2.9-1.8l.1 0l3-2.9l.1-.1l2.5-3l.4-.3l3-2.4l.9-.3l2.1-.7l3-.4l3 .3l3 .7l.3 .1l2.7 1.2l3 1l3 .1l3-.9l2.7-1.4l.3-.1l3-1.7l2.1-1.2l.9-.5l3-2.3l.2-.2l2.8-2.8l.2-.2l2.6-3l.2-.2l2.3-2.8l.7-.7l1.7-2.3l1.3-1.6l1-1.4l2-2.6l.3-.4l2.5-3l.2-.3l2.5-2.7l.5-.7l2.2-2.3l.8-1l2-2l1-.9l3-2z" fill="#58d0f8" stroke="#000" stroke-width="0.85" stroke-opacity="0.9" fill-rule="evenodd"/>
<path d="M591.5 250l.5 0l.1 0l2.9 .6l3 1l3 1.2l.5 .2l2.5 1.2l3 1.6l.2 .2l2.8 1.7l1.4 1.3l1.6 1.8l.8 1.2l1.6 3l.6 1.1l1 1.9l2 2.7l.2 .3l2.8 2.9l.1 .1l2.9 2.7l.3 .3l2.7 2.5l.5 .5l2.5 2.3l.8 .7l2.2 2l1.2 1l1.8 1.5l1.6 1.5l1.4 1.3l1.7 1.7l1.3 1.3l1.5 1.7l1.5 1.4l1.4 1.6l1.6 1.4l1.4 1.6l1.6 1.5l1.2 1.5l1.8 1.8l1 1.2l2 1.8l1.2 1.2l1.8 1.1l3 1.4l1.3 .5l1.7 .6l3 .7l3 1l2.3 .7l.7 .4l3 .4l3 .8l3 .4l3 .2l3 .1l3 .1l3 .2l3 .2l2.2 .2l.8 .1l3 .5l3 .5l3 .6l3 .5l3 .6l1 .2l2 .4l3 .2l3 .8l3-.4l2.1-1l.9-.5l3-1.7l1.4-.8l1.6-1.1l3-1.6l.5-.3l2.5-1.5l3-1.5l.1 0l2.9-1.8l2-1.2l1-.7l3-.7l3 0l3 .3l3 .2l3 .3l2 .6l1 .3l3 .7l3 .9l2.3 1.1l.7 .2l3 1.8l1 1l1.2 3l.8 1.7l.9 1.3l1.6 3l.5 .8l1.4 2.2l1.6 2.6l.3 .4l1.7 3l1 1.7l.7 1.3l.9 3l1.4 1.6l3 1.2l1.2 .2l1.8 .3l3 1.3l3 .1l3 .9l3 .4l3-1.6l2.4-1.4l.6-.6l0 .6l0 3l0 3l0 3l0 3l0 3l0 3l0 3l0 3l0 3l0 3l0 3l0 3l0 3l0 3l0 3l0 3l0 3l0 3l0 3l0 3l0 3l0 3l0 3l0 3l0 3l0 3l0 3l0 3l0 3l0 3l0 3l0 3l0 3l0 3l0 3l0 3l0 3l0 3l0 3l0 3l0 3l0 3l0 3l0 3l0 3l0 3l0 3l0 3l0 3l0 3l0 3l0 3l0 3l0 3l0 3l0 3l0 3l0 3l0 3l0 3l0 3l0 3l0 3l0 3l0 3l0 3l0 3l0 3l0 3l0 3l0 3l0 3l0 3l0 3l0 3l0 3l0 3l0 3l0 3l0 3l0 3l0 3l0 3l0 3l0 3l0 3l0 3l0 3l0 3l0 3l0 3l0 3l0 3l0 3l0 3l0 3l0 3l0 3l0 3l0 3l0 3l0 3l0 3l0 3l0 3l0 3l0 3l0 3l0 3l0 3l0 3l0 3l0 3l0 3l0 3l0 3l0 3l0 3l0 3l0 3l0 3l0 3l0 3l0 3l0 3l0 3l0 3l0 3l0 3l0 3l0 3l0 3l0 3l0 3l0 3l0 3l0 3l0 3l0 3l0 3l0 3l0 3l0 3l0 3l0 3l0 3l0 3l0 3l0 3l0 3l0 3l0 3l0 3l0 3l0 3l-3 0l-3 0l-3 0l-3 0l-3 0l-3 0l-3 0l-3 0l-3 0l-3 0l-3 0l-3 0l-3 0l-3 0l-3 0l-3 0l-3 0l-3 0l-3 0l-3 0l-3 0l-3 0l-3 0l-3 0l-3 0l-3 0l-3 0l-3 0l-3 0l-3 0l-3 0l-3 0l-3 0l-3 0l-3 0l-3 0l-3 0l-3 0l-3 0l-3 0l-3 0l-3 0l-3 0l-3 0l-3 0l-3 0l-3 0l-3 0l-3 0l-3 0l-3 0l-3 0l-3 0l-3 0l-3 0l-3 0l-3 0l-3 0l-3 0l-3 0l-3 0l-3 0l-3 0l-3 0l-3 0l-3 0l-3 0l-3 0l-3 0l-3 0l-3 0l-3 0l-3 0l-3 0l-3 0l-3 0l-3 0l-3 0l-3 0l-3 0l-3 0l-3 0l-3 0l-3 0l-3 0l-3 0l-3 0l-3 0l-3 0l-3 0l-3 0l-3 0l-3 0l-3 0l-3 0l-3 0l-3 0l-3 0l-3 0l-3 0l-3 0l-3 0l-3 0l-3 0l-3 0l-3 0l-3 0l-3 0l-3 0l-3 0l-3 0l-3 0l-3 0l-3 0l-3 0l-3 0l-3 0l-3 0l-3 0l-3 0l-3 0l-3 0l-3 0l-3 0l-3 0l-3 0l-3 0l-3 0l-3 0l-3 0l-3 0l-3 0l-3 0l-3 0l-3 0l-3 0l-3 0l-3 0l-3 0l-3 0l-3 0l-3 0l-3 0l-3 0l-3 0l-3 0l-3 0l-3 0l-3 0l-3 0l-3 0l-3 0l-3 0l-3 0l-3 0l-3 0l-3 0l-3 0l-3 0l-3 0l-3 0l-3 0l-3 0l-3 0l-3 0l-3 0l-3 0l-3 0l-3 0l-3 0l-3 0l-3 0l-3 0l-3 0l-3 0l-3 0l-3 0l-3 0l-3 0l-3 0l-3 0l-3 0l-3 0l-3 0l-3 0l-3 0l-3 0l-3 0l-3 0l-3 0l-3 0l-3 0l-3 0l-3 0l-3 0l-3 0l-3 0l-3 0l-3 0l-3 0l-3 0l-3 0l-3 0l-3 0l-3 0l-3 0l-3 0l-3 0l-3 0l-3 0l-3 0l-3 0l-3 0l-3 0l-3 0l-3 0l-3 0l-3 0l-3 0l-3 0l-3 0l-3 0l-3 0l-3 0l-3 0l-3 0l-3 0l-3 0l-3 0l-3 0l-3 0l-3 0l-3 0l-3 0l-3 0l-3 0l-3 0l-3 0l-3 0l-3 0l-3 0l-3 0l-3 0l-3 0l-3 0l-3 0l-3 0l-3 0l-3 0l0-3l0-3l0-3l0-3l0-3l0-3l0-3l0-3l0-3l0-3l0-3l0-3l0-3l0-3l0-3l0-3l0-3l0-3l0-3l0-3l0-3l0-3l0-3l0-3l0-3l0-3l0-3l0-3l0-3l0-3l0-3l0-3l0-3l0-3l0-3l0-3l0-3l0-3l0-3l0-3l0-3l0-3l0-3l0-3l0-3l0-3l0-3l0-3l0-3l0-3l0-3l0-3l0-3l0-3l0-3l0-3l0-3l0-3l0-3l0-3l0-3l0-3l0-3l0-3l0-3l0-3l0-3l0-3l0-3l0-3l0-3l0-3l0-3l0-3l0-3l0-3l0-3l0-3l0-3l0-3l0-3l0-3l0-3l0-3l0-3l0-3l0-3l0-3l0-3l0-3l0-3l0-3l0-3l0-3l0-3l0-3l0-3l0-3l0-3l0-3l0-3l0-3l0-3l0-3l0-3l0-3l0-3l0-3l0-3l0-3l0-3l0-3l0-3l0-3l0-3l0-3l0-3l0-1.4l3-1.4l.3-.2l2.7-2l1.1-1l1.9-2.9l.1-.1l1.1-3l.4-3l.5-3l.9-1.7l1.2-1.3l1.8-1.2l3-1.7l.2-.1l2.8-2.2l.6-.8l1.7-3l.7-1.2l.9-1.8l1.9-3l.2-.3l2.2-2.7l.8-.8l2.2-2.2l.8-.8l2.2-2.2l.8-.9l1.8-2.1l1.2-1.7l1-1.3l2-2.8l.2-.2l2.7-3l.1-.1l2.7-2.9l.3-.5l1.6-2.5l.6-3l-.3-3l-.3-3l.2-3l1.2-2.4l.4-.6l2.5-3l.1-.1l3-1.8l3-.6l3-.1l2.4-.4l.6-.1l3-1.7l1.1-1.2l1.9-1.9l1.1-1.1l1.9-1.6l1.9-1.4l1.1-.7l2.7-2.3l.3-.2l2.3-2.8l.7-.9l1.4-2.1l1.6-2.2l.5-.8l2.5-2.8l.3-.2l2.7-1.5l3-.2l3 1.3l.5 .4l2.5 2.6l.4 .4l1.8 3l.8 2l.5 1l1.2 3l1.1 3l.2 .4l1.6 2.6l1.4 1.9l3 1l1.8 .1l1.2 .1l2.7-.1l.3 0l3-.5l3-.9l3-1.5l.1-.1l2.9-2.2l.8-.8l2.2-2.1l.8-.9l2.2-2.3l.7-.7l2.3-2l1.7-1l1.3-.7l3-1.1l3-.9l1.1-.3l1.9-.7l3-1l3-.7l3-.2l3 .2l3 .3l3 .4l3 .2l3 0l3 0l3 0l3-.1l3-.4l3-.8l.5-.2l2.5-.8l3-1l3-.9l1.1-.3l1.9-.5l3-.7l3-.3l3 .3l3 .7l1.8 .5l1.2 .3l3 .5l3 .5l3 .7l3 1l.1 0l2.9 .9l3 .7l3 0l3-.6l3-.9l.3-.1l2.7-.7l3-.2l3 .5l.8 .4l2.2 1.3l1.9 1.7l1.1 1.2l1.5 1.8l1.5 1.3l1.9 1.7l1.1 .6l3 .7l3 .3l3 1.1l.4 .3l2.6 1.9l1 1.1l2 2.6l.3 .4l2.2 3l.5 .6l2.3 2.4l.7 .6l3 1l3-.1l3-.9l1.4-.6l1.6-1.3l2-1.7l1-1.9l.7-1.1l.9-3l.5-3l-2.1-.9l-3 .5l-3 .1l-3-.4l-3-1.3l-1.6-1l-1.4-1.8l-1-1.2l-.7-3l.6-3l1.1-2l.6-1l2.4-3l3-2.7l.6-.3l2.4-1.7l2-1.3l1-1l1.5-2l1.3-3l.2-.2l3-.4l1.6 .6l1.4 .6l3 1.2l3 .5l3-.2l3-.9l3-.9l.9-.3l2.1-.7l3-1.6l.9-.7l2.1-1.3l3-1.5l.7-.2l2.3-.4l3 .2l.8 .2l2.2 .5l3 .9l2.8 1.6l.2 .2l2.1 2.8l.9 1.8l.7 1.2l1.6 3l.7 1.3l1.3 1.7l1.7 1.9l3 .5l3-1.2l1.9-1.2l1.1-.5l3-1.4l3-1l.9-.1l2.1-.3l3-.2l3-.2l3-.2l3-.6l3-.5l3-.9l.6-.1l2.4-.8l3-.6l3-.5l3-.2l3-.4l3 0l3-.1l3 .1l3-.1l3-.1l3-.2l3 .1l3-.2l3 .1l1-.1l2-.4l3-.2l3-.6l3-.3l3 0l3-.7l2.2-.8l.8-.4l3-.8l3-.7l3-.7l2-.4l1-.7l2.8-2.3l.2-.5l2.2-2.5l.8-1.6l3-1l3-.4l0-.1l-3-1.3l-3-.3l-3-.3l-3-.3l-3-.3l-3-.3l-.1-.1l-2.9-1.7l-1.1-1.3l.3-3l.8-1l3-1.8l.7-.2l2.3-.6l3-.4l3-1.1l.8-.9l-.2-3l-.6-.8l-1.9-2.2l-1.1-1.1l-1.6-1.9l-.6-3l1.3-3l.9-.9l2-2.1l1-.7l2.7-2.3l.3-.3l3-2.7l2.4-3l.6-.8l1.4-2.2l1.6-3l1.3-3l1.3-3l.4-.9l1.1-2.1l1.9-2.6l.5-.4l2.5-1.8l3-1.1l.4-.1l2.6-.5l3-.3l3-.5l3-.8l3-.8z" fill="#68e0f8" stroke="#000" stroke-width="0.85" stroke-opacity="0.9" fill-rule="evenodd"/>
<path d="M607.7 280l2.3-.9l3 .3l1.4 .6l1.6 .5l3 1.3l2.3 1.2l.7 .3l3 2l.8 .7l2.2 1.8l1.5 1.2l1.5 1.2l2.1 1.8l.9 .8l2.4 2.2l.6 .6l2.6 2.4l.4 .3l3 2.1l.8 .6l2.2 1.3l2.4 1.7l.6 .4l3 2.4l.2 .2l2.8 2.4l.7 .6l2.3 1.5l3 1.3l.5 .2l2.5 .7l3 .9l3 .6l2.2 .8l.8 .6l3 1.6l3-.3l3 .7l3 .3l1.3 .1l1.7 .3l3 0l3 .2l3 .1l3 .2l3 .2l3 .5l3 .5l3 .6l2 .4l1 .3l3 .6l3 .5l3 .3l3 .7l3-.4l3-1.2l1-.8l2-1.2l3-1.7l.2-.1l2.8-1.5l2.5-1.5l.5-.3l3-1.5l1.9-1.2l1.1-.7l3-1.7l1.4-.6l1.6-.5l3 .1l3 .3l1.2 .1l1.8 .2l3 .3l3 .9l3 1l1.9 .6l1.1 .4l3 .9l2.4 1.7l.6 1.5l.6 1.5l1.2 3l1.2 1.7l.8 1.3l1.5 3l.7 .8l1.4 2.2l1.4 3l.2 .2l1.6 2.8l.9 3l.5 1.1l1.3 1.9l1.7 .9l3 1l3 .5l2.3 .6l.7 .2l3 .6l3 .5l3 .6l3-.1l3-.6l0 1.8l0 3l0 3l0 3l0 3l0 3l0 3l0 3l0 3l0 3l0 3l0 3l0 3l0 3l0 3l0 3l0 3l0 3l0 3l0 3l0 3l0 3l0 3l0 3l0 3l0 3l0 3l0 3l0 3l0 3l0 3l0 3l0 3l0 3l0 3l0 3l0 3l0 3l0 3l0 3l0 3l0 3l0 3l0 3l0 3l0 3l0 3l0 3l0 3l0 3l0 3l0 3l0 3l0 3l0 3l0 3l0 3l0 3l0 3l0 3l0 3l0 3l0 3l0 3l0 3l0 3l0 3l0 3l0 3l0 3l0 3l0 3l0 3l0 3l0 3l0 3l0 3l0 3l0 3l0 3l0 3l0 3l0 3l0 3l0 3l0 3l0 3l0 3l0 3l0 3l0 3l0 3l0 3l0 3l0 3l0 3l0 3l0 3l0 3l0 3l0 3l0 3l0 3l0 3l0 3l0 3l0 3l0 3l0 3l0 3l0 3l0 3l0 3l0 3l0 3l0 3l0 3l0 3l0 3l0 3l0 3l0 3l0 3l0 3l0 3l0 3l0 3l0 3l0 3l0 3l0 3l0 3l0 3l0 3l0 3l0 3l0 3l0 3l0 3l0 3l0 3l0 3l0 3l0 3l0 3l0 3l0 3l0 3l0 3l0 3l0 3l0 3l0 3l0 3l-3 0l-3 0l-3 0l-3 0l-3 0l-3 0l-3 0l-3 0l-3 0l-3 0l-3 0l-3 0l-3 0l-3 0l-3 0l-3 0l-3 0l-3 0l-3 0l-3 0l-3 0l-3 0l-3 0l-3 0l-3 0l-3 0l-3 0l-3 0l-3 0l-3 0l-3 0l-3 0l-3 0l-3 0l-3 0l-3 0l-3 0l-3 0l-3 0l-3 0l-3 0l-3 0l-3 0l-3 0l-3 0l-3 0l-3 0l-3 0l-3 0l-3 0l-3 0l-3 0l-3 0l-3 0l-3 0l-3 0l-3 0l-3 0l-3 0l-3 0l-3 0l-3 0l-3 0l-3 0l-3 0l-3 0l-3 0l-3 0l-3 0l-3 0l-3 0l-3 0l-3 0l-3 0l-3 0l-3 0l-3 0l-3 0l-3 0l-3 0l-3 0l-3 0l-3 0l-3 0l-3 0l-3 0l-3 0l-3 0l-3 0l-3 0l-3 0l-3 0l-3 0l-3 0l-3 0l-3 0l-3 0l-3 0l-3 0l-3 0l-3 0l-3 0l-3 0l-3 0l-3 0l-3 0l-3 0l-3 0l-3 0l-3 0l-3 0l-3 0l-3 0l-3 0l-3 0l-3 0l-3 0l-3 0l-3 0l-3 0l-3 0l-3 0l-3 0l-3 0l-3 0l-3 0l-3 0l-3 0l-3 0l-3 0l-3 0l-3 0l-3 0l-3 0l-3 0l-3 0l-3 0l-3 0l-3 0l-3 0l-3 0l-3 0l-3 0l-3 0l-3 0l-3 0l-3 0l-3 0l-3 0l-3 0l-3 0l-3 0l-3 0l-3 0l-3 0l-3 0l-3 0l-3 0l-3 0l-3 0l-3 0l-3 0l-3 0l-3 0l-3 0l-3 0l-3 0l-3 0l-3 0l-3 0l-3 0l-3 0l-3 0l-3 0l-3 0l-3 0l-3 0l-3 0l-3 0l-3 0l-3 0l-3 0l-3 0l-3 0l-3 0l-3 0l-3 0l-3 0l-3 0l-3 0l-3 0l-3 0l-3 0l-3 0l-3 0l-3 0l-3 0l-3 0l-3 0l-3 0l-3 0l-3 0l-3 0l-3 0l-3 0l-3 0l-3 0l-3 0l-3 0l-3 0l-3 0l-3 0l-3 0l-3 0l-3 0l-3 0l-3 0l-3 0l-3 0l-3 0l-3 0l-3 0l-3 0l-3 0l-3 0l-3 0l-3 0l-3 0l-3 0l-3 0l-3 0l-3 0l-3 0l-3 0l-3 0l-3 0l-3 0l-3 0l-3 0l-3 0l-3 0l-3 0l-3 0l-3 0l-3 0l-3 0l-3 0l-3 0l-3 0l0-3l0-3l0-3l0-3l0-3l0-3l0-3l0-3l0-3l0-3l0-3l0-3l0-3l0-3l0-3l0-3l0-3l0-3l0-3l0-3l0-3l0-3l0-3l0-3l0-3l0-3l0-3l0-3l0-3l0-3l0-3l0-3l0-3l0-3l0-3l0-3l0-3l0-3l0-3l0-3l0-3l0-3l0-3l0-3l0-3l0-3l0-3l0-3l0-3l0-3l0-3l0-3l0-3l0-3l0-3l0-3l0-3l0-3l0-3l0-3l0-3l0-3l0-3l0-3l0-3l0-3l0-3l0-3l0-3l0-3l0-3l0-3l0-3l0-3l0-3l0-3l0-3l0-3l0-3l0-3l0-3l0-3l0-3l0-3l0-3l0-3l0-3l0-3l0-3l0-3l0-3l0-3l0-3l0-3l0-3l0-3l0-3l0-3l0-3l0-3l0-3l0-3l0-3l0-3l0-3l0-2.6l1.2-.4l1.8-.5l3-1.2l2.1-1.3l.9-.8l1.6-2.2l1-3l.4-1.9l.2-1.1l.7-3l1.4-3l.7-1l1.9-2l1.1-1l2.2-2l.8-.9l1.3-2.1l1.2-3l.5-1.5l.4-1.5l.8-3l1-3l.8-2.4l.2-.6l1.5-3l1.3-1.9l.8-1.1l2.2-2.7l.3-.3l2-3l.7-1.6l.7-1.4l1.3-3l1-1.6l.9-1.4l2.1-2.5l.5-.5l2.5-2.3l.8-.7l2.2-1.8l1.1-1.2l1.9-2.4l.4-.6l2-3l.6-.7l2.1-2.3l.9-.8l2-2.2l1-1.2l1.1-1.8l1.8-3l.1-.1l2.2-2.9l.8-.9l2.3-2.1l.7-.6l3-2.3l.1-.1l2.9-2.5l.6-.5l2.4-2.5l.4-.5l2.3-3l.3-.5l2.2-2.5l.8-.7l3-.9l3 .5l2.6 1.1l.4 .2l3 1.6l3 1.2l.1 0l2.9 .5l3 .3l3 .1l3 .2l3 .1l3 0l3-.1l3-.4l2.4-.7l.6-.2l3-1.6l1.4-1.2l1.6-1.3l1.6-1.7l1.4-1.3l1.7-1.7l1.3-1.3l1.9-1.7l1.1-1l2.5-2l.5-.4l3-2l1.4-.6l1.6-.6l3-.8l3-.6l3-.6l2.8-.4l.2 0l3-.1l1 .1l2 .3l3 .9l3 1.8l2.5 3l.5 .5l2 2.5l1 .7l3 .5l3-.4l2.1-.8l.9-.4l3-1.6l2.3-1l.7-.3l3-.3l2.5 .6l.5 .1l3 1.1l3 .1l3-1l.6-.3l2.4-1.2l3-.9l3-.4l3-.4l.5-.1l2.5-.5l3-.7l3-.6l3-.6l2.3-.6l.7-.1l3-.9l3-1l3-.9l.6-.1l2.4-.4l1.7 .4l1.3 .3l3 1.9l1 .8l2 1.3l3 1.4l1 .3l2 .5l3 .8l3 1l1.3 .7l1.7 1l2.5 2l.5 .5l2.4 2.5l.6 .7l2 2.3l1 1.2l2 1.8l1 .6l3 .4l3-.4l3-.5l.3-.1l2.7-1l3-1.2l2.7-.8l.3-.1l3-1.9l2.5-1l.5-.4l3-2.5l.2-.1l2.5-3l.3-.3l3-1.6l2.8-1.1l.2-.2l2.9-2.8l.1-.1l3-2.8l.3-.1l2.7-1.6l3-.5l3 1.4l.6 .7l2.4 2l1.7 1l1.3 .3l3-.1l.7-.2l2.3-.9l3-1.2l2.2-.9l.8-.4l3-1.8l1.3-.8l1.7-1.1l2.5-1.9l.5-.4l2.6-2.6l.4-.3l2-2.7l1-1.2l1.5-1.8l1.5-1.1l3-1.6l1.1-.3l1.9-.5l3-.2l3-.6l3-.2l3-.7l3-.3l1.9-.5l1.1-.4l3-.6l3-.5l3-.5l3-.1l3-.5l3 0l3-.1l3 .2l3-.2l3-.1l1.9-.2l1.1-.2l3 .1l3-.3l3-.1l3-.4l3-.2l3-.4l3 0l3 .8l3-.9l3-1.3l.7-.1l2.3-.7l3-.5l3-.7l3-.3l3-.8l.3 0l2.7-.5l3-1.8l3-.2l3-.3l2.3-.2l.7-.2l3-1.4l3-1.3l.2-.1l2.3-3l-.7-3l-1.5-3l.7-3l2-2.7l.4-.3l2.6-1.6l3-1.4l.1 0l2.9-1.6l2-1.4l1-.7l2.5-2.3l.5-.5l2.4-2.5l.6-.6l2.4-2.4l.6-.6l2.9-2.4l.1-.1l3-2.7l.3-.2l2.7-2.8l.3-.2l2.7-2.7zM417.3 340l.7-.8l3-.6l1 1.4l1.3 3l-.3 3l-2 2l-3 .3l-3-1.9l-.2-.4l.2-1.4l.2-1.6zM171.1 355l.9-2.3l.8 2.3l-.8 1.9z" fill="#78f0f8" stroke="#000" stroke-width="0.85" stroke-opacity="0.9" fill-rule="evenodd"/>
<path d="M604.3 295l2.7-1.1l3-.9l3-.6l3-.3l3 .1l3 .7l3 1.3l1.3 .8l1.7 .9l2.9 2.1l.1 .1l3 2.4l.6 .5l2.4 1.5l2.8 1.5l.2 .1l3 1.2l3 1.4l.4 .3l2.6 1.5l2.1 1.5l.9 .6l3 2l.8 .4l2.2 .9l3 .7l3 .2l3 .9l1.7 .3l1.3 .4l3 2.1l.9 .5l2.1 1.7l2.7-1.7l.3-.1l.3 .1l2.7 1.2l3 0l3 .3l3-.1l3 .3l3 0l3 .2l3 .1l3 .5l3 .5l.1 0l2.9 .9l3 .6l3 .5l3 .4l3 .3l1.3 .3l1.7 .5l2.9-.5l.1 0l3-.9l2.8-2.1l.2-.1l3-1.5l2.3-1.4l.7-.4l3-1.7l1.9-.9l1.1-.5l3-1.9l.9-.6l2.1-1.2l3-1.2l3 .2l3 .2l3 .3l3 .3l3 .9l1.4 .5l1.6 1.1l3 .9l3 .3l1 .7l.9 3l.8 3l.3 .6l1.2 2.4l1.7 3l.1 .4l1.5 2.6l.6 3l.9 1.1l1.4 1.9l1.1 3l-.6 3l-1.9 2.9l-.1 .1l-2.9 2.1l-.8 .9l-1.9 3l-.3 .5l-1.6 2.5l-1.4 1.6l-1.9 1.4l-1.1 1.7l-.5 1.3l.5 .7l1.8 2.3l1.2 2.1l.5 .9l1.4 3l1.1 3l0 .1l3 1.6l3-1.3l.2-.4l1.3-3l1.5-2.8l0-.2l1.2-3l1-3l-.7-3l1.5-2.7l.1-.3l.1-3l0-3l2.8-2.3l3 .7l3 .2l3 .5l3 .6l3 .2l.5 .1l2.5 1.2l3 .7l3 .4l0 .7l0 3l0 3l0 3l0 3l0 3l0 3l0 3l0 3l0 3l0 3l0 3l0 3l0 3l0 3l0 3l0 3l0 3l0 3l0 3l0 3l0 3l0 3l0 3l0 3l0 3l0 3l0 3l0 3l0 3l0 3l0 3l0 3l0 3l0 3l0 3l0 3l0 3l0 3l0 3l0 3l0 3l0 3l0 3l0 3l0 3l0 3l0 3l0 3l0 3l0 3l0 3l0 3l0 3l0 3l0 3l0 3l0 3l0 3l0 3l0 3l0 3l0 3l0 3l0 3l0 3l0 3l0 3l0 3l0 3l0 3l0 3l0 3l0 3l0 3l0 3l0 3l0 3l0 3l0 3l0 3l0 3l0 3l0 3l0 3l0 3l0 3l0 3l0 3l0 3l0 3l0 3l0 3l0 3l0 3l0 3l0 3l0 3l0 3l0 3l0 3l0 3l0 3l0 3l0 3l0 3l0 3l0 3l0 3l0 3l0 3l0 3l0 3l0 3l0 3l0 3l0 3l0 3l0 3l0 3l0 3l0 3l0 3l0 3l0 3l0 3l0 3l0 3l0 3l0 3l0 3l0 3l0 3l0 3l0 3l0 3l0 3l0 3l0 3l0 3l0 3l0 3l0 3l0 3l0 3l0 3l0 3l0 3l0 3l0 3l0 3l0 3l0 3l-3 0l-3 0l-3 0l-3 0l-3 0l-3 0l-3 0l-3 0l-3 0l-3 0l-3 0l-3 0l-3 0l-3 0l-3 0l-3 0l-3 0l-3 0l-3 0l-3 0l-3 0l-3 0l-3 0l-3 0l-3 0l-3 0l-3 0l-3 0l-3 0l-3 0l-3 0l-3 0l-3 0l-3 0l-3 0l-3 0l-3 0l-3 0l-3 0l-3 0l-3 0l-3 0l-3 0l-3 0l-3 0l-3 0l-3 0l-3 0l-3 0l-3 0l-3 0l-3 0l-3 0l-3 0l-3 0l-3 0l-3 0l-3 0l-3 0l-3 0l-3 0l-3 0l-3 0l-3 0l-3 0l-3 0l-3 0l-3 0l-3 0l-3 0l-3 0l-3 0l-3 0l-3 0l-3 0l-3 0l-3 0l-3 0l-3 0l-3 0l-3 0l-3 0l-3 0l-3 0l-3 0l-3 0l-3 0l-3 0l-3 0l-3 0l-3 0l-3 0l-3 0l-3 0l-3 0l-3 0l-3 0l-3 0l-3 0l-3 0l-3 0l-3 0l-3 0l-3 0l-3 0l-3 0l-3 0l-3 0l-3 0l-3 0l-3 0l-3 0l-3 0l-3 0l-3 0l-3 0l-3 0l-3 0l-3 0l-3 0l-3 0l-3 0l-3 0l-3 0l-3 0l-3 0l-3 0l-3 0l-3 0l-3 0l-3 0l-3 0l-3 0l-3 0l-3 0l-3 0l-3 0l-3 0l-3 0l-3 0l-3 0l-3 0l-3 0l-3 0l-3 0l-3 0l-3 0l-3 0l-3 0l-3 0l-3 0l-3 0l-3 0l-3 0l-3 0l-3 0l-3 0l-3 0l-3 0l-3 0l-3 0l-3 0l-3 0l-3 0l-3 0l-3 0l-3 0l-3 0l-3 0l-3 0l-3 0l-3 0l-3 0l-3 0l-3 0l-3 0l-3 0l-3 0l-3 0l-3 0l-3 0l-3 0l-3 0l-3 0l-3 0l-3 0l-3 0l-3 0l-3 0l-3 0l-3 0l-3 0l-3 0l-3 0l-3 0l-3 0l-3 0l-3 0l-3 0l-3 0l-3 0l-3 0l-3 0l-3 0l-3 0l-3 0l-3 0l-3 0l-3 0l-3 0l-3 0l-3 0l-3 0l-3 0l-3 0l-3 0l-3 0l-3 0l-3 0l-3 0l-3 0l-3 0l-3 0l-3 0l-3 0l-3 0l-3 0l-3 0l-3 0l-3 0l-3 0l-3 0l-3 0l-3 0l-3 0l-3 0l-3 0l-3 0l-3 0l-3 0l-3 0l-3 0l-3 0l-3 0l-3 0l-3 0l-3 0l-3 0l-3 0l0-3l0-3l0-3l0-3l0-3l0-3l0-3l0-3l0-3l0-3l0-3l0-3l0-3l0-3l0-3l0-3l0-3l0-3l0-3l0-3l0-3l0-3l0-3l0-3l0-3l0-3l0-3l0-3l0-3l0-3l0-3l0-3l0-3l0-3l0-3l0-3l0-3l0-3l0-3l0-3l0-3l0-3l0-3l0-3l0-3l0-3l0-3l0-3l0-3l0-3l0-3l0-3l0-3l0-3l0-3l0-3l0-3l0-3l0-3l0-3l0-3l0-3l0-3l0-3l0-3l0-3l0-3l0-3l0-3l0-3l0-3l0-3l0-3l0-3l0-3l0-3l0-3l0-3l0-3l0-3l0-3l0-3l0-3l0-3l0-3l0-3l0-3l0-3l0-3l0-3l0-3l0-3l0-3l0-3l0-3l0-3l0-3l0-3l0-1.7l3-.7l3-.6l3-.8l3-1.5l1.3-.7l1.7-1.4l3-1.5l3 0l3 2.5l.3 .4l.9 3l1.1 3l.7 .9l2.5 2.1l.5 .2l3 .5l3 0l3-.3l3-.3l.3-.1l2.7-1l3-1.8l.3-.2l2.7-2.6l.5-.4l1.7-3l.1-3l-.7-3l-1.6-2.3l-.4-.7l-2-3l-.6-1.8l-.3-1.2l.3-2.4l.1-.6l.7-3l-.4-3l-.4-.9l-1-2.1l-1.6-3l-.4-.9l-1.1-2.1l-1.1-3l-.7-3l-.1-.6l-.3-2.4l.3-3l0-.1l.4-2.9l0-3l-.4-3l0-.4l-.3-2.6l.3-1.9l.2-1.1l1.8-3l1-1.1l1.7-1.9l1.3-1.5l1.2-1.5l1.8-3l1.9-3l1.1-1.6l1.2-1.4l1.8-2l.7-1l1.9-3l.4-.8l1.1-2.2l1.9-2.7l.2-.3l2.8-2.6l.6-.4l2.4-2.1l1.4-.9l1.6-1.8l2-1.2l1-.6l3-1l3-1.3l.1-.1l2.9-1.8l1.7-1.2l1.3-.8l3-1.7l1.5-.5l1.5-.5l3-.6l3-.4l3-.4l3-.3l3 .1l3 .6l3 .9l2.2 .6l.8 .2l3 .4l3 0l3-.4l.9-.2l2.1-.6l3-1.5l1.4-.9l1.6-1.5l1.3-1.5l1.7-2.4l.5-.6l1.6-3l.9-2.7l.1-.3l1.1-3l1.8-2.7l.3-.3l2.7-2l1.9-1l1.1-.4l3-.5l3-.1l3-.3l3-.6l3-.5l3 .2l3 .8l2.6 1.4l.4 .2l3 2l1.2 .8l1.8 1.6l1.9 1.4l1.1 1.5l1.3 1.5l1 3l.3 3l.4 2.5l.2 .5l2.8 2l2.6 1l.4 .1l3 1.5l2.4 1.4l.6 .4l1.8-.4l1.2-1.7l.1-1.3l.3-3l2-3l.6-.3l3-1.3l3-1l1.2-.4l1.8-.5l3-.9l3-1.1l1.1-.5l1.9-.9l3-1.9l.3-.2l2.7-2l1.3-1l1.7-1.2l2.4-1.8l.6-.4l3-2.3l.3-.3l2.7-1.8l2-1.2l1-.5l3-.9l3-.2l3 .5l3 .7l2.2 .4l.8 .1l3 .3l3 .2l3 .4l3 1.2l1.1 .8l1.9 1.9l1.1 1.1l1.9 1.8l1.2 1.2l1.8 1.5l1.5 1.5l1.5 1.2l3 .1l3-.5l3-.6l.6-.2l2.4-1l3-.8l3-1.1l1-.1l2-.5l3-1.8l3-.6l.3-.1l2.7-2l3-.7l.9-.3l2.1-1.6l3-.2l3-.7l3-.5l.2 0l2.8-2.9l3 0l3 .6l3-.6l3-.1l.1 0l2.9-1.3l3-.7l2-1l1-.6l3-1.3l2.6-1.1l.4-.2l3-1.9l2-.9l1-.8l1.6-2.2l1.4-1.4l1.1-1.6l1.9-2.1l.6-.9l1.6-3l.8-.9l3-2.1l3-1.4l3-.3l3-.5l3-.4l1.8-.4l1.2-.4l3-.6l3-.6l3-.4l3-.4l3-.5l1.1-.1l1.9-.2l3-.6l3-.2l3-.1l3 .3l3-.2l3-.3l3-.3l3 0l3-.1l3-.2l3-.2l3-.2l3-.3l3 0l3 1.1l3-.9l1.1-.6l1.9-1.1l3-.7l3-.4l3-.6l1.2-.2l1.8-.3l3-.8l3-.5l3-.9l3-.5l.3 0l2.7-.5l3-.6l3-.8l2.4-1.1l.6-.4l3-1.7l1.7-.9l1.3-1l2.8-2l.2-.3l3-2l1.3-.7l1.7-2.8l.2-.2l2.2-3l.6-.6l2.1-2.4l.9-1l1.6-2l1.4-1.8l1-1.2l2-2.1l1.1-.9l1.9-1.3l3-1.6zM148 504.6l-2.9 .4l-.1 0l-3 .9l-3 1.2l-1.4 .9l.2 3l1.2 .6l3 1.1l3 .5l3 .2l3 .1l3 .2l.9 .3l2.1 .3l3 .7l3 .4l3-.5l2.1-.9l.9-.6l2-2.4l-.9-3l-1.1-1.3l-3-1.5l-3 .1l-3 .7l-3 .1l-3-.9l-.9-.2l-2.1-.4zM223 408.6l-2.5 .4l-.5 .1l-1.3 2.9l-.8 3l-.1 3l2.1 3l.1 0l.5 0l2.5-.5l3-1.5l1.2-1l1.5-3l-.9-3l-1.8-1.7l-2.4-1.3z" fill="#80f8e0" stroke="#000" stroke-width="0.85" stroke-opacity="0.9" fill-rule="evenodd"/>
<path d="M607.6 301l2.4-.7l3-.3l3 .1l3 .5l1.5 .4l1.5 .4l3 1l3 1.3l.4 .3l2.6 1.3l3 1.3l1.1 .4l1.9 .6l3 .9l3 1l1.1 .5l1.9 .9l3 1.7l.6 .4l2.4 1.5l3 1.3l.7 .2l2.3 .5l3 0l2.1-.5l.9-.1l.3 .1l2.7 1.6l3 .8l.8 .6l1.7 3l.5 .9l3 1.9l3-1.5l3-1.3l3-.4l3 .2l3-.2l3 .2l3-.1l3 .2l3 .1l.1 0l2.9 .9l3 .7l3 .7l3 .4l2.1 .3l.9 .3l3 .7l3 .5l3 .6l3-.6l3-.9l.9-.6l2.1-1.3l2.4-1.7l.6-.3l3-1.4l1.5-1.3l1.5-.8l3-1.2l1.2-1l1.8-1.1l3-1.8l.1-.1l2.9-1.2l3 .2l3 .1l3 .4l3 .2l1.1 .3l1.9 1.2l3 1.8l.1 0l2.9 1.3l2.7 1.7l-.1 3l-.3 3l.7 2.3l.1 .7l.1 3l-.1 3l1 3l0 3l-1.1 1.4l-1 1.6l-1.3 3l-.7 2.7l-.1 .3l-1.3 3l-1.6 1.8l-1 1.2l-2 2.5l-.4 .5l-.9 3l1.2 3l.1 .1l1.8 2.9l1.2 2.5l.3 .5l1 3l1.7 2.9l.1 .1l2.7 3l.2 .1l3 2.7l.3 .2l2.7 .9l1.4-.9l1.6-2.6l.2-.4l1.8-3l1-1.4l1.4-1.6l.8-3l.8-1.9l.5-1.1l.8-3l.4-3l.3-3l1-2.3l.2-.7l1.4-3l1.4-1.3l3-.7l3 .4l3 .7l3 .6l.6 .3l2.4 1.5l3 1.5l.1 0l2.9 1.4l0 1.6l0 3l0 3l0 3l0 3l0 3l0 3l0 3l0 3l0 3l0 3l0 3l0 3l0 3l0 3l0 3l0 3l0 3l0 3l0 3l0 3l0 3l0 3l0 3l0 3l0 3l0 3l0 3l0 3l0 3l0 3l0 3l0 3l0 3l0 3l0 3l0 3l0 3l0 3l0 3l0 3l0 3l0 3l0 3l0 3l0 3l0 3l0 3l0 3l0 3l0 3l0 3l0 3l0 3l0 3l0 3l0 3l0 3l0 3l0 3l0 3l0 3l0 3l0 3l0 3l0 3l0 3l0 3l0 3l0 3l0 3l0 3l0 3l0 3l0 3l0 3l0 3l0 3l0 3l0 3l0 3l0 3l0 3l0 3l0 3l0 3l0 3l0 3l0 3l0 3l0 3l0 3l0 3l0 3l0 3l0 3l0 3l0 3l0 3l0 3l0 3l0 3l0 3l0 3l0 3l0 3l0 3l0 3l0 3l0 3l0 3l0 3l0 3l0 3l0 3l0 3l0 3l0 3l0 3l0 3l0 3l0 3l0 3l0 3l0 3l0 3l0 3l0 3l0 3l0 3l0 3l0 3l0 3l0 3l0 3l0 3l0 3l0 3l0 3l0 3l0 3l0 3l0 3l0 3l0 3l0 3l0 3l0 3l0 3l0 3l0 3l-3 0l-3 0l-3 0l-3 0l-3 0l-3 0l-3 0l-3 0l-3 0l-3 0l-3 0l-3 0l-3 0l-3 0l-3 0l-3 0l-3 0l-3 0l-3 0l-3 0l-3 0l-3 0l-3 0l-3 0l-3 0l-3 0l-3 0l-3 0l-3 0l-3 0l-3 0l-3 0l-3 0l-3 0l-3 0l-3 0l-3 0l-3 0l-3 0l-3 0l-3 0l-3 0l-3 0l-3 0l-3 0l-3 0l-3 0l-3 0l-3 0l-3 0l-3 0l-3 0l-3 0l-3 0l-3 0l-3 0l-3 0l-3 0l-3 0l-3 0l-3 0l-3 0l-3 0l-3 0l-3 0l-3 0l-3 0l-3 0l-3 0l-3 0l-3 0l-3 0l-3 0l-3 0l-3 0l-3 0l-3 0l-3 0l-3 0l-3 0l-3 0l-3 0l-3 0l-3 0l-3 0l-3 0l-3 0l-3 0l-3 0l-3 0l-3 0l-3 0l-3 0l-3 0l-3 0l-3 0l-3 0l-3 0l-3 0l-3 0l-3 0l-3 0l-3 0l-3 0l-3 0l-3 0l-3 0l-3 0l-3 0l-3 0l-3 0l-3 0l-3 0l-3 0l-3 0l-3 0l-3 0l-3 0l-3 0l-3 0l-3 0l-3 0l-3 0l-3 0l-3 0l-3 0l-3 0l-3 0l-3 0l-3 0l-3 0l-3 0l-3 0l-3 0l-3 0l-3 0l-3 0l-3 0l-3 0l-3 0l-3 0l-3 0l-3 0l-3 0l-3 0l-3 0l-3 0l-3 0l-3 0l-3 0l-3 0l-3 0l-3 0l-3 0l-3 0l-3 0l-3 0l-3 0l-3 0l-3 0l-3 0l-3 0l-3 0l-3 0l-3 0l-3 0l-3 0l-3 0l-3 0l-3 0l-3 0l-3 0l-3 0l-3 0l-3 0l-3 0l-3 0l-3 0l-3 0l-3 0l-3 0l-3 0l-3 0l-3 0l-3 0l-3 0l-3 0l-3 0l-3 0l-3 0l-3 0l-3 0l-3 0l-3 0l-3 0l-3 0l-3 0l-3 0l-3 0l-3 0l-3 0l-3 0l-3 0l-3 0l-3 0l-3 0l-3 0l-3 0l-3 0l-3 0l-3 0l-3 0l-3 0l-3 0l-3 0l-3 0l-3 0l-3 0l-3 0l-3 0l-3 0l-3 0l-3 0l-3 0l-3 0l-3 0l-3 0l-3 0l-3 0l-3 0l-3 0l-3 0l-3 0l-3 0l-3 0l-3 0l-3 0l-3 0l-3 0l-3 0l-3 0l-3 0l-3 0l-3 0l-3 0l-3 0l-3 0l-3 0l-3 0l0-3l0-3l0-3l0-3l0-3l0-3l0-3l0-3l0-3l0-3l0-3l0-3l0-3l0-3l0-3l0-3l0-3l0-3l0-3l0-3l0-3l0-3l0-3l0-3l0-3l0-3l0-3l0-3l0-3l0-3l0-3l0-3l0-3l0-3l0-3l0-3l0-3l0-3l0-3l0-3l0-3l0-3l0-3l0-3l0-3l0-3l0-3l0-3l0-3l0-3l0-3l0-3l0-3l0-3l0-3l0-3l0-3l0-3l0-3l0-3l0-3l0-3l0-3l0-3l0-3l0-3l0-3l0-3l0-3l0-3l0-3l0-3l0-3l0-3l0-3l0-3l0-3l0-3l0-3l0-3l0-3l0-3l0-3l0-3l0-2.9l.1-.1l2.9-2.4l.8-.6l2.2-1.1l3-.9l3-.6l1.2-.4l1.8-.5l3-1.1l3-1.1l.8-.3l2.2-.8l3-1.4l1.5-.8l1.5-1l3-1.7l.7-.3l2.3-1l3-.4l3-.1l3-.2l3-.4l3-.6l1.1-.3l1.9-.6l3-1.3l2.1-1.1l.9-.5l3-2l.7-.5l2.3-1.4l2.8-1.6l.2-.1l3-1.2l3-.6l3 0l3 .4l3 .2l3-.5l3-1.1l.3-.1l2.7-1.3l3-1.7l3-2l1.3-1l1.7-1.9l.8-1.1l.7-3l-.6-3l-.9-1.9l-.6-1.1l-1.8-3l-.6-1l-1.5-2l-1.5-2l-.9-1l-2.1-2.4l-.7-.6l-2.3-2l-1.5-1l-1.5-1.1l-3-1.7l-.3-.2l-2.7-1.5l-2.6-1.5l-.4-.2l-3-1.5l-2.1-1.3l-.9-.5l-3-2.1l-.5-.4l-2.5-2.1l-.9-.9l-1.9-3l-.2-.6l-.8-2.4l-.4-3l-.1-3l.1-3l-.1-3l-.2-3l-.1-3l.6-3l1-2.1l.4-.9l2-3l.6-.7l1.5-2.3l1.5-2.5l.2-.5l1.2-3l.8-3l.8-2.3l.3-.7l2.7-3l3-1.7l2.3-1.3l.7-.3l3-1.6l1.7-1.1l1.3-.9l2.6-2.1l.4-.4l3-2l1.4-.6l1.6-.6l3-.5l3-.3l3-.3l3 0l3 .2l3 .5l3 .6l1.2 .4l1.8 .6l3 1.5l1.1 .9l1.9 1.4l1.8 1.6l1.2 1l2.3 2l.7 .6l2.8 2.4l.2 .2l3 2.2l1 .6l2 1l3 1l3 .4l3 .1l3-.2l3-.6l3-1l1.5-.7l1.5-.9l3-1.5l3-.3l3 .6l3 1.9l.1 .2l2.3 3l.6 .5l1.6 2.5l1.4 1.8l.9 1.2l2.1 2.2l1.2 .8l1.8 .9l3 .3l3-.6l1.3-.6l1.7-.7l3-1.8l.7-.5l2.3-1.5l2.4-1.5l.6-.4l3-2.1l.6-.5l2.4-2.4l.5-.6l2.1-3l.4-.7l1.4-2.3l1.5-3l.1-.3l1.1-2.7l1.1-3l.8-2.1l.4-.9l1.8-3l.8-1.2l1.1-1.8l1.8-3l.1-.1l1.8-2.9l1.2-1.6l1.2-1.4l1.8-1.9l1.2-1.1l1.8-1.4l2.8-1.6l.2-.1l3-1.4l2.7-1.5l.3-.2l3-2.2l.9-.6l2.1-1.5l3-1.3l.6-.2l2.4-.6l3-.4l3-.3l3-.1l3 .3l1.5 1.1l1.5 .7l3 1.6l1.1 .7l1.9 .7l3 1.5l1 .8l2 .7l3-.3l1.4-.4l1.6-.6l3-.9l3-.9l2.4-.6l.6-.2l3-1.4l3-.6l1.9-.8l1.1-.7l3-1l3-1.2l.3-.1l2.7-1l3-1l3-.5l3-.4l.4-.1l2.6-.9l3-.7l3-.7l3-.2l1.8-.5l1.2-.7l3-.6l3-.7l3-.5l1-.5l2-1.4l3-1.1l1-.5l2-1.1l3-1.5l.9-.4l2.1-1.1l2-1.9l1-1.2l1.4-1.8l1.6-2.1l.7-.9l2-3l.3-.6l1.7-2.4l1.3-1.1l3-1.3l3-.5l.4-.1l2.6-.5l3-.5l3-.7l3-.6l3-.7l.2 0l2.8-.4l3-.5l3-.3l3-.4l3-.3l3-.5l3 0l3 .2l3-.1l3-.5l2.4-.2l.6 0l3-.2l3 0l3-.2l3-.2l3-.3l3-.3l3 0l2.5 1.2l.5 .2l.9-.2l2.1-.7l3-1.7l2.2-.6l.8-.2l3-.6l3-.5l3-.5l3-.6l2.6-.6l.4-.1l3-.7l3-.6l3-.5l3-.3l2.5-.8l.5-.1l3-1.3l2.9-1.6l.1 0l3-1.7l2-1.3l1-.7l3-2.1l.5-.2l2.5-1.3l3-1.7l.1 0l2.9-2.2l1.2-.8l1.8-1.6l1.6-1.4l1.4-1.6l1.3-1.4l1.7-1.8l1.3-1.2l1.7-1.3l3-1.5zM802 372.1l-2.5 .9l-.5 .5l-.8 2.5l.8 .8l3 .7l1.5-1.5l-.4-3z" fill="#80f8c8" stroke="#000" stroke-width="0.85" stroke-opacity="0.9" fill-rule="evenodd"/>
<path d="M604.7 310l2.3-2.1l3-.8l3 .4l3 1.3l2.1 1.2l.9 .7l3 2.2l.1 .1l2.8 3l.1 0l.1 0l2.9-1.8l2-1.2l1-.3l3-.5l3-.1l3 .4l1.4 .5l1.6 .6l3 1.8l.9 .6l2.1 1.6l2.7 1.4l.3 .2l3 .8l3 .2l3-.3l3 0l3 1.5l.5 .6l1.2 3l.6 3l.6 3l.1 .2l2.1 2.8l.9 .6l3 .4l2.1-1l.9-.5l2.1-2.5l.9-1.8l.7-1.2l2.3-2.6l.7-.4l2.3-.5l3-.6l3 .1l3-.3l3 .2l3 .2l3 .6l1.9 .3l1.1 .4l3 1.5l3 .7l2.1 .4l.9 .3l3 .4l3 .4l3 .2l3-1.1l.7-.2l2.3-.5l3-1.5l1.3-1l1.7-1l3-1.7l.4-.3l2.6-1.9l2.2-1.1l.8-.3l3-2l1-.7l2-1l3-1.8l3 .2l3 0l3 .9l3 .7l1.7 1l1.3 1.5l1.7 1.5l1.1 3l-.1 3l0 3l-.3 3l-.9 3l-1.4 3l-.1 .3l-.6 2.7l.5 3l.1 .3l.6 2.7l.2 3l-.8 1.7l-.9 1.3l-2.1 1.8l-2.5 1.2l-.5 .4l-3 2l-.9 .6l-2.1 2.3l-.4 .7l-.8 3l1.2 2.4l.2 .6l2.8 1.2l2.9-1.2l.1-.2l.4 .2l2.6 .9l1.6 2.1l1.2 3l.2 .5l1.1 2.5l1.9 2.3l.7 .7l2.3 2l1.1 1l1.9 1.5l2.8 1.5l.2 .1l3 .3l.8-.4l2.2-1.2l1.6-1.8l1.4-2.6l.5-.4l2.5-2.3l1.8 2.3l1.2 .9l3 .3l2.3-1.2l.7-.7l1.3-2.3l0-3l-1.3-2.2l-1.5-.8l-1.5-.8l-1.5 .8l-1.5 .4l-.5-.4l.5-1.7l.6-1.3l-.2-3l.6-3l.6-3l.6-3l.8-1.2l3-.7l3 .5l3 1.1l.7 .3l2.3 1.6l1.8 1.4l1.2 1.1l2.2 1.9l.8 .8l2.9 2.2l.1 .1l0 2.9l0 3l0 3l0 3l0 3l0 3l0 3l0 3l0 3l0 3l0 3l0 3l0 3l0 3l0 3l0 3l0 3l0 3l0 3l0 3l0 3l0 3l0 3l0 3l0 3l0 3l0 3l0 3l0 3l0 3l0 3l0 3l0 3l0 3l0 3l0 3l0 3l0 3l0 3l0 3l0 3l0 3l0 3l0 3l0 3l0 3l0 3l0 3l0 3l0 3l0 3l0 3l0 3l0 3l0 3l0 3l0 3l0 3l0 3l0 3l0 3l0 3l0 3l0 3l0 3l0 3l0 3l0 3l0 3l0 3l0 3l0 3l0 3l0 3l0 3l0 3l0 3l0 3l0 3l0 3l0 3l0 3l0 3l0 3l0 3l0 3l0 3l0 3l0 3l0 3l0 3l0 3l0 3l0 3l0 3l0 3l0 3l0 3l0 3l0 3l0 3l0 3l0 3l0 3l0 3l0 3l0 3l0 3l0 3l0 3l0 3l0 3l0 3l0 3l0 3l0 3l0 3l0 3l0 3l0 3l0 3l0 3l0 3l0 3l0 3l0 3l0 3l0 3l0 3l0 3l0 3l0 3l0 3l0 3l0 3l0 3l0 3l0 3l0 3l0 3l0 3l0 3l0 3l0 3l0 3l0 3l0 3l0 3l-3 0l-3 0l-3 0l-3 0l-3 0l-3 0l-3 0l-3 0l-3 0l-3 0l-3 0l-3 0l-3 0l-3 0l-3 0l-3 0l-3 0l-3 0l-3 0l-3 0l-3 0l-3 0l-3 0l-3 0l-3 0l-3 0l-3 0l-3 0l-3 0l-3 0l-3 0l-3 0l-3 0l-3 0l-3 0l-3 0l-3 0l-3 0l-3 0l-3 0l-3 0l-3 0l-3 0l-3 0l-3 0l-3 0l-3 0l-3 0l-3 0l-3 0l-3 0l-3 0l-3 0l-3 0l-3 0l-3 0l-3 0l-3 0l-3 0l-3 0l-3 0l-3 0l-3 0l-3 0l-3 0l-3 0l-3 0l-3 0l-3 0l-3 0l-3 0l-3 0l-3 0l-3 0l-3 0l-3 0l-3 0l-3 0l-3 0l-3 0l-3 0l-3 0l-3 0l-3 0l-3 0l-3 0l-3 0l-3 0l-3 0l-3 0l-3 0l-3 0l-3 0l-3 0l-3 0l-3 0l-3 0l-3 0l-3 0l-3 0l-3 0l-3 0l-3 0l-3 0l-3 0l-3 0l-3 0l-3 0l-3 0l-3 0l-3 0l-3 0l-3 0l-3 0l-3 0l-3 0l-3 0l-3 0l-3 0l-3 0l-3 0l-3 0l-3 0l-3 0l-3 0l-3 0l-3 0l-3 0l-3 0l-3 0l-3 0l-3 0l-3 0l-3 0l-3 0l-3 0l-3 0l-3 0l-3 0l-3 0l-3 0l-3 0l-3 0l-3 0l-3 0l-3 0l-3 0l-3 0l-3 0l-3 0l-3 0l-3 0l-3 0l-3 0l-3 0l-3 0l-3 0l-3 0l-3 0l-3 0l-3 0l-3 0l-3 0l-3 0l-3 0l-3 0l-3 0l-3 0l-3 0l-3 0l-3 0l-3 0l-3 0l-3 0l-3 0l-3 0l-3 0l-3 0l-3 0l-3 0l-3 0l-3 0l-3 0l-3 0l-3 0l-3 0l-3 0l-3 0l-3 0l-3 0l-3 0l-3 0l-3 0l-3 0l-3 0l-3 0l-3 0l-3 0l-3 0l-3 0l-3 0l-3 0l-3 0l-3 0l-3 0l-3 0l-3 0l-3 0l-3 0l-3 0l-3 0l-3 0l-3 0l-3 0l-3 0l-3 0l-3 0l-3 0l-3 0l-3 0l-3 0l-3 0l-3 0l-3 0l-3 0l-3 0l-3 0l-3 0l-3 0l-3 0l-3 0l-3 0l-3 0l-3 0l-3 0l-3 0l-3 0l-3 0l-3 0l-3 0l-3 0l-3 0l-3 0l-3 0l-3 0l-3 0l-3 0l-3 0l-3 0l0-3l0-3l0-3l0-3l0-3l0-3l0-3l0-3l0-3l0-3l0-3l0-3l0-3l0-3l0-3l0-3l0-3l0-3l0-3l0-3l0-3l0-3l0-3l0-3l0-3l0-3l0-3l0-3l0-3l0-3l0-3l0-3l0-3l0-3l0-3l0-3l0-3l0-3l0-3l0-3l0-3l0-3l0-3l0-3l0-3l0-3l0-3l0-3l0-3l0-3l0-3l0-3l0-3l0-3l0-3l0-3l0-3l0-3l0-3l0-3l0-3l0-3l0-3l0-3l0-3l0-3l0-3l0-3l0-3l0-3l0-3l0-3l0-2.2l.6-.8l1.1-3l1.3-1.6l.9-1.4l1.9-3l.2-.2l1.3-2.8l1.3-3l.4-1l1.2-2l1.8-2.6l.7-.4l2.3-1.2l3-.5l3-.8l.6-.5l1.7-3l.7-1.5l.5-1.5l2.1-3l.4-.3l3-2.3l.8-.4l2.2-1l3-.9l3-.5l3-.3l3 0l3-.3l.2 0l2.8-.5l3-.9l3-1.1l1.3-.5l1.7-.7l3-1.2l2.4-1.1l.6-.3l3-1.9l1.2-.8l1.8-1.4l2.8-1.6l.2-.1l3-.9l3-.5l3-1.1l.7-.4l2.3-1.4l1.8-1.6l1.2-.9l2.5-2.1l.5-.3l3-2.1l.9-.6l2.1-1.3l2.5-1.7l.5-.4l3-2.5l.2-.1l2.7-3l.1-.1l2-2.9l.8-3l-.8-3l-1.5-3l-.5-.7l-1.4-2.3l-1.6-2.6l-.3-.4l-1.8-3l-.9-1.5l-1-1.5l-1.7-3l-.3-.5l-1.5-2.5l-1.5-2.5l-.4-.5l-2.1-3l-.5-.6l-2-2.4l-1-1.1l-1.6-1.9l-1.4-.9l-3 .2l-3 .3l-3-.9l-2.3-1.7l-.7-1.2l-1-1.8l-.5-3l0-3l.2-3l.2-3l.5-3l.6-1.9l.4-1.1l1.7-3l.9-1.2l1.7-1.8l1.3-1.2l1.9-1.8l1.1-1.3l1.4-1.7l1.6-2.4l.4-.6l2.1-3l.5-.6l3-2.1l.7-.3l2.3-.9l3-1.1l1.9-1l1.1-.7l3-2l.7-.3l2.3-.8l3-.2l3 .4l2.3 .6l.7 .2l3 1l3 1.4l.6 .4l2.4 1.3l2.8 1.7l.2 .1l3 1.6l2.4 1.3l.6 .3l3 1.4l3 1.1l.6 .2l2.4 .7l3 .7l3 .8l2 .8l1 .4l3 1.5l2.9 1.1l.1 0l3 .5l3-.1l3 0l3 .3l3 1.3l1.5 1l1.5 1l2.8 2l.2 .1l3 1.4l3 .7l3 0l3-.4l3-.5l3-.8l1.4-.5l1.6-.7l3-1.7l1.1-.6l1.9-1.1l3-1.7l.3-.2l2.7-2.1l1-.9l2-2.2l.7-.8l2.3-2.9l.1-.1l2.4-3l.5-.6l1.7-2.4l1.3-1.9l.7-1.1l1.7-3l.6-1.1l1-1.9l1.5-3l.5-.9l1.1-2.1l1.9-2.9l.1-.1l2.7-3l.2-.2l3-2.5l.5-.3l2.5-1.8l2-1.2l1-.6l3-2.2l.2-.2l2.7-3l.1-.1l2-2.9l1-1.1l2-1.9l1-.6l3-1.3l3-.5l3 0l3 .1l3 .1l3 .2l3 .3l3 .6l3-.4l3-.8l2.3-.7l.7-.2l3-1.1l3-.8l2.3-.9l.7-.3l3-.9l3-1.2l1.8-.6l1.2-.5l3-1.2l3-.8l1.6-.5l1.4-.5l3-.7l3-.6l3-.5l3-.6l.7-.1l2.3-.7l3-.5l3-.8l3-.7l1.5-.3l1.5-.4l3-.7l3-1.5l.9-.4l2.1-1l3-1.2l1.4-.8l1.6-.9l3-.9l1.5-1.2l1.5-1.5l1.5-1.5l1.5-2.1l.7-.9l2.1-3l.2-.2l1.8-2.8l1.2-1.7l2.2-1.3l.8-.4l3-.7l3-.4l3-.7l2.9-.8l.1 0l3-.7l3-.5l3-.3l3-.6l3-.1l2.4-.8l.6-.1l3 0l3-.5l3 0l3-.1l3 0l3-.2l3-.1l3-.1l3 0l3-.2l3-.3l3-.5l3-.4l3-.2l3 1.5l3-.6l1.4-1.2l1.6-1l3-.5l3-.8l3-.4l.9-.3l2.1-.5l3-.3l3-.6l3-.6l3-.7l1.1-.3l1.9-.4l3-.1l3-.8l3-1.2l.8-.5l2.2-1.1l3-1.5l.6-.4l2.4-1.5l2.3-1.5l.7-.5l3-1.3l3-.3l3-.6l1-.3l2-.7l3-1.5l1.2-.8l1.8-1.4l1.5-1.6l1.5-1.9z" fill="#80f8a8" stroke="#000" stroke-width="0.85" stroke-opacity="0.9" fill-rule="evenodd"/>
<path d="M759 316l1-.1l1.2 .1l1.8 .3l3 1.5l1.5 1.2l1.4 3l.1 .7l.2 2.3l-.2 1.3l-.3 1.7l-1.2 3l-1.5 2.1l-.6 .9l-2.1 3l-.3 .7l-1.5 2.3l-1.5 2.3l-.7 .7l-2.3 2.1l-1.6 .9l-1.4 .7l-3 1l-3 .6l-3 .4l-3 .3l-.2 0l-2.8 0l-.5 0l-2.5 .3l-3 2.6l-.1 .1l.1 .1l2.5 2.9l.5 .2l3 .7l3 1.2l1 .9l2 1.9l.8 1.1l2 3l.2 .4l1.9 2.6l1.1 1l2.6 2l.4 .2l3 1.3l3 .4l3-1.1l1.2-.8l1.8-.5l.7 .5l.6 3l.9 3l.8 1.1l1.2 1.9l1.8 1.5l1.9 1.5l1.1 .6l2.9 2.4l.1 .1l3 2.3l1.8 .6l1.2 .4l3 .2l2-.6l1-.3l3-2.5l.4-.2l2.6-1l3 .1l3-.3l3-1.1l1.2-.7l1.8-1.7l1-1.3l.7-3l.5-3l.4-3l0-3l.4-1.3l2.3 1.3l.7 .1l3 2.3l.6 .6l2.4 1.9l1.6 1.1l1.4 .8l0 2.2l0 3l0 3l0 3l0 3l0 3l0 3l0 3l0 3l0 3l0 3l0 3l0 3l0 3l0 3l0 3l0 3l0 3l0 3l0 3l0 3l0 3l0 3l0 3l0 3l0 3l0 3l0 3l0 3l0 3l0 3l0 3l0 3l0 3l0 3l0 3l0 3l0 3l0 3l0 3l0 3l0 3l0 3l0 3l0 3l0 3l0 3l0 3l0 3l0 3l0 3l0 3l0 3l0 3l0 3l0 3l0 3l0 3l0 3l0 3l0 3l0 3l0 3l0 3l0 3l0 3l0 3l0 3l0 3l0 3l0 3l0 3l0 3l0 3l0 3l0 3l0 3l0 3l0 3l0 3l0 3l0 3l0 3l0 3l0 3l0 3l0 3l0 3l0 3l0 3l0 3l0 3l0 3l0 3l0 3l0 3l0 3l0 3l0 3l0 3l0 3l0 3l0 3l0 3l0 3l0 3l0 3l0 3l0 3l0 3l0 3l0 3l0 3l0 3l0 3l0 3l0 3l0 3l0 3l0 3l0 3l0 3l0 3l0 3l0 3l0 3l0 3l0 3l0 3l0 3l0 3l0 3l0 3l0 3l0 3l0 3l0 3l0 3l0 3l0 3l0 3l0 3l0 3l0 3l0 3l-3 0l-3 0l-3 0l-3 0l-3 0l-3 0l-3 0l-3 0l-3 0l-3 0l-3 0l-3 0l-3 0l-3 0l-3 0l-3 0l-3 0l-3 0l-3 0l-3 0l-3 0l-3 0l-3 0l-3 0l-3 0l-3 0l-3 0l-3 0l-3 0l-3 0l-3 0l-3 0l-3 0l-3 0l-3 0l-3 0l-3 0l-3 0l-3 0l-3 0l-3 0l-3 0l-3 0l-3 0l-3 0l-3 0l-3 0l-3 0l-3 0l-3 0l-3 0l-3 0l-3 0l-3 0l-3 0l-3 0l-3 0l-3 0l-3 0l-3 0l-3 0l-3 0l-3 0l-3 0l-3 0l-3 0l-3 0l-3 0l-3 0l-3 0l-3 0l-3 0l-3 0l-3 0l-3 0l-3 0l-3 0l-3 0l-3 0l-3 0l-3 0l-3 0l-3 0l-3 0l-3 0l-3 0l-3 0l-3 0l-3 0l-3 0l-3 0l-3 0l-3 0l-3 0l-3 0l-3 0l-3 0l-3 0l-3 0l-3 0l-3 0l-3 0l-3 0l-3 0l-3 0l-3 0l-3 0l-3 0l-3 0l-3 0l-3 0l-3 0l-3 0l-3 0l-3 0l-3 0l-3 0l-3 0l-3 0l-3 0l-3 0l-3 0l-3 0l-3 0l-3 0l-3 0l-3 0l-3 0l-3 0l-3 0l-3 0l-3 0l-3 0l-3 0l-3 0l-3 0l-3 0l-3 0l-3 0l-3 0l-3 0l-3 0l-3 0l-3 0l-3 0l-3 0l-3 0l-3 0l-3 0l-3 0l-3 0l-3 0l-3 0l-3 0l-3 0l-3 0l-3 0l-3 0l-3 0l-3 0l-3 0l-3 0l-3 0l-3 0l-3 0l-3 0l-3 0l-3 0l-3 0l-3 0l-3 0l-3 0l-3 0l-3 0l-3 0l-3 0l-3 0l-3 0l-3 0l-3 0l-3 0l-3 0l-3 0l-3 0l-3 0l-3 0l-3 0l-3 0l-3 0l-3 0l-3 0l-3 0l-3 0l-3 0l-3 0l-3 0l-3 0l-3 0l-3 0l-3 0l-3 0l-3 0l-3 0l-3 0l-3 0l-3 0l-3 0l-3 0l-3 0l-3 0l-3 0l-3 0l-3 0l-3 0l-3 0l-3 0l-3 0l-3 0l-3 0l-3 0l-3 0l-3 0l-3 0l-3 0l-3 0l-3 0l-3 0l-3 0l-3 0l-3 0l-3 0l-3 0l-3 0l-3 0l-3 0l-3 0l-3 0l-3 0l-3 0l-3 0l-3 0l-3 0l-3 0l-3 0l-3 0l-3 0l-3 0l-3 0l-3 0l0-3l0-3l0-3l0-3l0-3l0-3l0-3l0-3l0-3l0-3l0-3l0-3l0-3l0-3l0-3l0-3l0-3l0-3l0-3l0-3l0-3l0-3l0-3l0-3l0-3l0-3l0-3l0-3l0-3l0-3l0-3l0-3l0-3l0-3l0-3l0-3l0-3l0-3l0-3l0-3l0-3l0-3l0-3l0-3l0-3l0-3l0-3l0-3l0-3l0-3l0-3l0-3l0-3l0-3l0-3l0-3l0-3l0-3l0-3l0-3l0-3l0-3l0-.3l3-1.1l2.7-1.6l.3-.3l2.3-2.7l.7-1.1l1.3-1.9l1.7-2.2l.9-.8l2.1-1.7l2-1.3l1-1l1.2-2l.7-3l.7-3l.4-1.4l.5-1.6l1.6-3l.9-1.4l1.3-1.6l1.7-2.2l1-.8l2-1.7l2.6-1.3l.4-.2l3-2.3l.4-.5l1.6-3l1-2l.4-1l1.7-3l.9-.9l2.7-2.1l.3-.2l3-1.4l3-1.4l.1 0l2.9-1.7l1.7-1.3l1.3-1.1l2.2-1.9l.8-.6l3-1.9l.9-.5l2.1-.9l3-1.4l1.7-.7l1.3-.5l3-1.2l3-1.2l.2-.1l2.8-1.3l3-1.6l.1-.1l2.9-2.3l.7-.7l2.3-2.5l.4-.5l2.3-3l.3-.4l2.1-2.6l.9-.9l2.2-2.1l.8-.7l3-2.3l3-2.5l.5-.5l2.5-2.3l.7-.7l2.3-2.3l.7-.7l2.3-2.2l.9-.8l2.1-2.1l.7-.9l.7-3l-.9-3l-.5-.9l-1.3-2.1l-1.7-2.4l-.4-.6l-2-3l-.6-.9l-1.3-2.1l-1.6-3l-.1-.2l-1.4-2.8l-1.4-3l-.2-.3l-1.3-2.7l-1.5-3l-.2-.4l-1.3-2.6l-1.6-3l-.1-.1l-1.7-2.9l-1.3-2.2l-.6-.8l-1.9-3l-.5-1.1l-1.1-1.9l-.5-3l.3-3l1-3l.3-.6l1.1-2.4l1.9-3l0-.1l2.6-2.9l.4-.4l3-2.4l.4-.2l2.6-1.7l2-1.3l1-.6l3-1.5l3-.9l3-.1l.7 .1l2.3 .6l3 1.2l3 1.1l.3 .1l2.7 .8l3 .9l2.3 1.3l.7 .4l3 1.6l2.2 1l.8 .5l3 1.7l1.3 .8l1.7 1.8l1.1 1.2l1.9 2.6l.4 .4l2.6 2.4l3 .4l3-1.1l3-1.2l2.7-.5l.3 0l1.5 0l1.5 .1l3 .9l3 1.5l.9 .5l2.1 1.2l3 1l3 .5l3 .1l3-.1l3 .1l1.8 .2l1.2 .1l3 .2l2.7-.3l.3 0l3-1l3-1.1l2.3-.9l.7-.3l3-1.4l2.1-1.3l.9-.5l3-2.2l.3-.3l2.7-2.3l.7-.7l2.3-2.7l.2-.3l1.7-3l1.1-2.4l.3-.6l1.6-3l1.1-1.7l.9-1.3l2-3l.1-.2l1.8-2.8l1.2-2l.8-1l2.2-2.6l.5-.4l2.5-1.9l2.4-1.1l.6-.4l3-2l.3-.6l1.8-3l.9-1.1l1.2-1.9l1.8-2l.8-1l2.2-2.4l.5-.6l2.5-2.9l.1-.1l2.4-3l.5-.6l2.4-2.4l.6-.4l3-2.1l.7-.5l2.3-1l3-1.1l3-.7l3-.1l.4-.1l2.6-.4l3-.8l3-1l2.5-.8l.5-.2l3-1l3-1l2.2-.8l.8-.3l3-1l3-1l1.8-.7l1.2-.5l3-1l3-.8l3-.7l3-.6l3-.5l3-.6l3-.5l3-.8l.1 0l2.9-.6l3-.7l3-.6l3-.8l.6-.3l2.4-1l3-1.2l1.7-.8l1.3-.5l3-.9l3 .6l.8 .8l-.8 1.9l-.3 1.1l.3 .9l.9 2.1l2.1 2.3l3 .7l3-1l2-2l-.1-3l-1.9-2.3l-.6-.7l-2.4-1.6l-1.8-1.4l1.1-3l.7-.8l1.8-2.2l1.2-1.7l1.1-1.3l1.7-3l.2-.5l2.4-2.5l.6-.3l3-1l3-.5l3-.9l.9-.3l2.1-.4l3-.6l3-.6l3-.4l3-.7l3 .1l3-.4l.4 0l2.6-.2l3-.3l3-.2l3-.2l3 .2l3 .1l3 .2l3 .2l3-.1l3-.4l3-.8l3-.8l2.9-.7l.1 0l3-.1l.4 .1l2.6 .7l3-.5l.3-.2l2.7-1.9l3-.7l1-.4l2-.4l3-.2l3-.7l3-.4l3-.8l2-.5l1-.2l3-.2l3-.5l3 0l3-.9l2.8-1.2l.2-.1l3-1.1l3-1.5l.5-.3l2.5-1.2l3-1.1l3 .4l1.7 1.9l1.3 .9l3 .5l3 .2l3-.2l3-.6l2-.8l1-.4l3-1.5l3-1.1l.9 0l2.1 0l.1 0l2.9 .7l3 .7l3 .4l3 0l3-.4l3-1.1l.4-.3l2.6-2.8l.1-.2l1.7-3l1.2-1l3-.9l2.3 1.9l.7 1.6l.9 1.4l1 3l-.8 3l-1.1 1.3l-1.2 1.7l-1.4 3l-.4 2.6l-.1 .4l.1 1.1l.1 1.9l1.2 3l1.7 1.7l2.8 1.3l.2 .1l3 .2l1.5-.3l1.5-.3l3-1.2l2.5-1.5l.5-.4l3-1.9l3 .1l3 1.3l1.9 .9l1.1 .6l3 1.3l3 .7l3-.4l2.4-2.2l.6-.5l1.5-2.5l1.5-2.2l.4-.8l1.9-3l.7-1.3l1.1-1.7l1.9-1.8l1.8-1.2l1.2-.4l3-.5l3 0l3 .5l1.2 .4l1.8 1.4l1.2 1.6l.7 3l1.1 3l2.6 3l.4 .4l3 1.3l3-.1l2.7-1.6l.3-.2l2.6-2.8l.4-.3l3-2.5l.2-.2l2.8-1.3l3-1.7l3-1.2l2.6-1.8l.4-.3l3-1.8l1.1-.9l1.9-1.2l2.5-1.8l.5-.3l3-1.8l1.3-.9l1.7-1.1l3-1.6zM364 430l-.1 0l.1 0zM508 351.6l-1.4 .4l-1.6 .5l-1.6 2.5l1 3l.6 .6l3 .5l1.6-1.1l1-3l-2.1-3zM700 390.3l-.4 .7l.4 .3l2.1 2.7l.9 .6l2.5 2.4l.5 .3l3 1.2l3-1.5l-2.4-3l-.6-.7l-2.9-2.3l-.1-.1l-3-1zM653.4 328l1.6-1.1l3-.6l3 1.6l.1 .1l.4 3l-.5 1.2l-3 1.4l-3-1.9l-.8-.7zM804.8 361l.2-.6l1 .6l-1 .9zM807.4 364l.6-.7l.8 .7l-.8 .2z" fill="#88f890" stroke="#000" stroke-width="0.85" stroke-opacity="0.9" fill-rule="evenodd"/>
<path d="M753.8 325l.2-.1l3-1l2 1.1l-.2 3l-1.7 3l-.1 .1l-3 2.5l-.9 .4l-2.1 .6l-3-.5l-.2-.1l-.1-3l.3-.3l2.1-2.7l.9-.7zM540.6 340l.4-.1l3-.4l3-.4l3-.4l3-.3l3 0l3 .8l2 .8l.6 3l.4 .7l3 .1l1.1-.8l1.9-1.4l3-.8l1.7 2.2l-1.6 3l-.1 .1l-3 1.8l-.7 1.1l-1.3 3l.1 3l1.9 3l3 2.4l1.6 .6l1.4 .7l3 .2l3-.6l.9-.3l2.1-.9l2.6-2.1l.4-.5l1.5-2.5l1.5-1.9l1.1-1.1l1.9-1.9l1.6-1.1l1.4-.8l3-.4l3 .6l1.2 .6l1.8 1.5l1.4 1.5l1.6 2.4l.6 .6l2.4 1.5l3 .5l3 .1l3 .3l3 .6l.1 0l2.9 .7l3 .9l3 .8l1.6 .6l1.4 .6l3 2.3l.1 .1l1.9 3l1 2.4l.2 .6l1.1 3l1.6 3l.1 .1l2.1 2.9l.9 .7l2.2 2.3l.8 .6l3 1.3l3-.1l3-1.4l.6-.4l2.4-2.5l.6-.5l2.4-3l3-1.6l3 0l3 .1l3 .8l.3 .7l-.3 .4l-3 1.3l-1.4 1.3l-1.6 2.7l-.1 .3l-.9 3l-.6 3l-.7 3l-.7 2.5l-.1 .5l.1 .2l3 .6l3 0l3-.4l3 .2l3 .3l3 .5l3 1.3l2.2 .3l.8 0l3 .7l3 1.9l.7 .4l2.3 .8l2.7 2.2l.3 .2l3 1.3l2.2 1.5l.8 .7l3 2.1l.2 .2l2.8 2.2l1.1 .8l1.9 1.1l3 1.2l3 .5l.9 .2l2.1 .4l3-.4l.1 0l2.9-2.7l.2-.3l1.8-3l1-2.9l0-.1l.5-3l-.5-2.9l0-.1l-2.5-3l-.5-.3l-3-1.8l-2.2-.9l-.8-.2l-3-1.2l-2.2-1.6l-.8-.8l-1.5-2.2l-.9-3l-.4-3l-.2-3l.2-3l.8-3l1.7-3l.3-.4l3-1.9l1.8-.7l1.2-.3l3-.6l3-.3l3 .3l1.6 .9l1.4 2.4l.2 .6l1.4 3l1.4 1.8l1.5 1.2l1.5 1.1l3 1.8l.2 .1l2.8 1.9l3 .7l3 .2l3 .2l3 .7l3 1.3l2.1 1l.9 .4l3 1.4l2 1.2l1 .6l3 2.2l.4 .2l2.6 1.1l3 .7l3 .2l3-.3l3-.8l2.9-.9l.1 0l3-.6l3-.4l3-.6l3-.6l2.7-.8l.3-.1l3-1.1l3-.7l3 0l3 .2l0 1.7l0 3l0 3l0 3l0 3l0 3l0 3l0 3l0 3l0 3l0 3l0 3l0 3l0 3l0 3l0 3l0 3l0 3l0 3l0 3l0 3l0 3l0 3l0 3l0 3l0 3l0 3l0 3l0 3l0 3l0 3l0 3l0 3l0 3l0 3l0 3l0 3l0 3l0 3l0 3l0 3l0 3l0 3l0 3l0 3l0 3l0 3l0 3l0 3l0 3l0 3l0 3l0 3l0 3l0 3l0 3l0 3l0 3l0 3l0 3l0 3l0 3l0 3l0 3l0 3l0 3l0 3l0 3l0 3l0 3l0 3l0 3l0 3l0 3l0 3l0 3l0 3l0 3l0 3l0 3l0 3l0 3l0 3l0 3l0 3l0 3l0 3l0 3l0 3l0 3l0 3l0 3l0 3l0 3l0 3l0 3l0 3l0 3l0 3l0 3l0 3l0 3l0 3l0 3l0 3l0 3l0 3l0 3l0 3l0 3l0 3l0 3l0 3l0 3l0 3l0 3l0 3l0 3l0 3l0 3l0 3l0 3l0 3l0 3l0 3l0 3l0 3l0 3l0 3l0 3l0 3l0 3l0 3l0 3l0 3l0 3l0 3l0 3l0 3l0 3l0 3l-3 0l-3 0l-3 0l-3 0l-3 0l-3 0l-3 0l-3 0l-3 0l-3 0l-3 0l-3 0l-3 0l-3 0l-3 0l-3 0l-3 0l-3 0l-3 0l-3 0l-3 0l-3 0l-3 0l-3 0l-3 0l-3 0l-3 0l-3 0l-3 0l-3 0l-3 0l-3 0l-3 0l-3 0l-3 0l-3 0l-3 0l-3 0l-3 0l-3 0l-3 0l-3 0l-3 0l-3 0l-3 0l-3 0l-3 0l-3 0l-3 0l-3 0l-3 0l-3 0l-3 0l-3 0l-3 0l-3 0l-3 0l-3 0l-3 0l-3 0l-3 0l-3 0l-3 0l-3 0l-3 0l-3 0l-3 0l-3 0l-3 0l-3 0l-3 0l-3 0l-3 0l-3 0l-3 0l-3 0l-3 0l-3 0l-3 0l-3 0l-3 0l-3 0l-3 0l-3 0l-3 0l-3 0l-3 0l-3 0l-3 0l-3 0l-3 0l-3 0l-3 0l-3 0l-3 0l-3 0l-3 0l-3 0l-3 0l-3 0l-3 0l-3 0l-3 0l-3 0l-3 0l-3 0l-3 0l-3 0l-3 0l-3 0l-3 0l-3 0l-3 0l-3 0l-3 0l-3 0l-3 0l-3 0l-3 0l-3 0l-3 0l-3 0l-3 0l-3 0l-3 0l-3 0l-3 0l-3 0l-3 0l-3 0l-3 0l-3 0l-3 0l-3 0l-3 0l-3 0l-3 0l-3 0l-3 0l-3 0l-3 0l-3 0l-3 0l-3 0l-3 0l-3 0l-3 0l-3 0l-3 0l-3 0l-3 0l-3 0l-3 0l-3 0l-3 0l-3 0l-3 0l-3 0l-3 0l-3 0l-3 0l-3 0l-3 0l-3 0l-3 0l-3 0l-3 0l-3 0l-3 0l-3 0l-3 0l-3 0l-3 0l-3 0l-3 0l-3 0l-3 0l-3 0l-3 0l-3 0l-3 0l-3 0l-3 0l-3 0l-3 0l-3 0l-3 0l-3 0l-3 0l-3 0l-3 0l-3 0l-3 0l-3 0l-3 0l-3 0l-3 0l-3 0l-3 0l-3 0l-3 0l-3 0l-3 0l-3 0l-3 0l-3 0l-3 0l-3 0l-3 0l-3 0l-3 0l-3 0l-3 0l-3 0l-3 0l-3 0l-3 0l-3 0l-3 0l-3 0l-3 0l-3 0l-3 0l-3 0l-3 0l-3 0l-3 0l-3 0l-3 0l-3 0l-3 0l-3 0l-3 0l-3 0l-3 0l-3 0l-3 0l-3 0l-3 0l-3 0l-3 0l-3 0l-3 0l-3 0l-3 0l-3 0l-3 0l-3 0l-3 0l0-3l0-3l0-3l0-3l0-3l0-3l0-3l0-3l0-3l0-3l0-3l0-3l0-3l0-3l0-3l0-3l0-3l0-3l0-3l0-3l0-3l0-3l0-3l0-3l0-3l0-3l0-3l0-3l0-3l0-3l0-3l0-3l0-3l0-3l0-3l0-3l0-3l0-3l0-3l0-3l0-3l0-3l0-3l0-3l0-3l0-3l0-1.7l2.1-1.3l.9-.7l1.9-2.3l1.1-2l.6-1l1-3l.2-3l.4-3l.8-1.3l2.1-1.7l.9-.4l3-.2l3 .6l3 1.3l1.8-1.3l1.2-.4l2.7-2.6l.3-.2l3-2.5l.3-.3l2.7-2.3l.8-.7l2.2-2.5l.4-.5l1.1-3l.2-3l-.2-3l-.1-3l.1-3l.4-3l.7-3l.4-1.6l.4-1.4l.6-3l-.1-3l-.4-3l.1-3l1.9-3l.5-.4l3-1.8l1.2-.8l1.8-1.3l1.6-1.7l1.4-2.3l.3-.7l.9-3l.8-3l1-2.6l.1-.4l1.7-3l1.2-1.4l1.2-1.6l1.8-1.8l1.2-1.2l1.8-1.5l2-1.5l1-.7l3-1.7l1.2-.6l1.8-1l3-1.6l.6-.4l2.4-1.7l1.8-1.3l1.2-.8l3-2l.4-.2l2.6-1.7l2-1.3l1-.7l2.7-2.3l.3-.3l2.2-2.7l.8-1.2l1.1-1.8l1.8-3l.1-.2l1.9-2.8l1.1-1.3l1.3-1.7l1.7-1.8l.9-1.2l2.1-2.5l.4-.5l2.6-3l3-2.9l.1-.1l2.9-2.5l.6-.5l2.4-2.3l.7-.7l2.1-3l.2-.5l1-2.5l.4-3l-.6-3l-.8-1.4l-.9-1.6l-2.1-2.2l-.7-.8l-2.3-2.2l-.5-.8l-1-3l0-3l.4-3l1.1-2.8l.2-.2l2.8-2.6l.4-.4l1-3l-1.4-2.2l-.5-.8l-2.5-2.2l-.8-.8l-2.2-1.8l-1.2-1.2l-1.8-1.8l-.9-1.2l-2.1-3l-1.8-3l-1.2-1.9l-.3-1.1l.3-.6l3-1.7l2-.7l1-.3l3-.8l3-.4l3 .2l3 .7l1.4 .6l1.6 1.2l1.7 1.8l1.3 2.3l.4 .7l1.5 3l1.1 1.9l.9 1.1l2.1 2.6l.4 .4l2.2 3l.4 .4l3 2.4l.4 .2l2.6 .8l3 .6l3 .5l3 .5l3 .6l.2 0l2.8 .9l3 1.1l3 .8l2.1 .2l.9 .1l3 0l3 .2l3 .4l3 .3l1.5-1l.2-3l.2-3l1.1-2.1l.6-.9l2.4-1.6l3-.6l3 .2l3 .7l3 .8l2.3 .5l.7 .2l3 .1l2.6-.3l.4 0l3-.5l3-.5l3-.6l3-.9l.9-.5l2.1-1.6l1.3-1.4l1.7-2.2l.5-.8l1.8-3l.7-1.3l.8-1.7l1.7-3l.5-.7l1.6-2.3l1.4-1.8l1.1-1.2l1.9-2.2l1-.8l2-1.8l1.8-1.2l1.2-.9l3-1.5l1.9-.6l1.1-.4l3-.4l3-.3l3-.4l3-.7l2.5-.8l.5-.2l3-1l3 0l3 1l.4 .2l2.6 .6l3 .5l3 0l3-.4l1.8-.7l1.2-.4l2.7-2.6l.3-.9l.4-2.1l-.4-1.2l-1-1.8l-2-2l-2.4-1l-.6-.4l-3-.9l-3-.9l-2.5-.8l-.5-.3l-3-2.4l-.2-.3l-1.6-3l-.9-3l-.3-3l.3-3l.5-3l.8-3l1.1-3l.3-.4l1.4-2.6l1.6-1.5l1.4-1.5l1.6-.7l3-.8l3-.8l2.6-.7l.4-.1l3-1.1l3-.7l2.3-1.1l.7-.2l3-.8l3-1.1l2.3-.9l.7-.2l3-1l3-1.1l1.8-.7l1.2-.4l3-.9l3-.4l3-.7l3-.4l.5-.2l2.5-.6l3-.1l3-.6l3-.5l3-1.1l.3-.1l2.7-.3l3-.4l3-1.2l3-1.1l3-.3l.6 .3l1.4 3l1 3l1.2 3l1.5 3l.3 .5l1.9 2.5l1.1 1.3l2.5 1.7l.5 .3l3 1.2l3 .8l3 .5l3 0l3-.5l3-.9l3-.9l2.2-.5l.8-.4l3-2l.4-.6l.5-3l-.1-3l.1-3l.4-3l.7-3l.2-3l-.6-3l-1.1-3l-.5-1.4l-.4-1.6l-.4-3l.8-2.1l.6-.9l2.4-1.1l3-.5l3 .4l3 .8l1.4 .4l1.6 .9l2.2 2.1l.8 1.3l.7 1.7l2 3l.3 .2l3 2.4l.5 .4l2.5 1.7l1.9 1.3l1.1 1.1l2 1.9l1 1.7l1.1 1.3l1.9 2.7l.9 .3l2.1 .5l.7-.5l2.3-1.9l.7-1.1l2.1-3l.2-.3l1.9-2.7l1.1-2.1l.4-.9l.5-3l-.3-3l-.5-3l-.1-.5l-.2-2.5l.2-1.5l.3-1.5l2.7-2.8l.4-.2l2.6-.7l3-.5l3-.8l1.6-1l1.4-.7l3-1.4zM658 355z" fill="#88f880" stroke="#000" stroke-width="0.85" stroke-opacity="0.9" fill-rule="evenodd"/>
<path d="M538.9 349l2.1-1.3l3-.6l3 1.3l.4 .6l0 3l-.4 .7l-2.1 2.3l-.9 .5l-3 0l-.8-.5l-2.2-2.8l-.1-.2l.1-.4zM417.5 376l.5-.1l3-.2l3-.1l3 .1l.6 .3l2.2 3l.2 .5l.7 2.5l.7 3l.4 3l-.3 3l-.9 3l.4 3l1.9 3l.1 .2l2.4 2.8l.6 1.2l1.3 1.8l1.7 2.7l3-.3l3-1.4l1.6-1l1.4-.7l3-1.6l1.8-.7l1.2-.3l3-.4l3 0l3 .4l1 .3l2 .7l3 1.3l3 .6l3-.5l3-1.4l1.4-.7l1.6-.7l3-.6l3 .2l3 1l.1 .1l2.9 2.1l1.1 .9l1.9 2.7l.3 .3l2.7 3l.1 0l2.9 1.5l3 0l1.2-1.5l1.8-1.4l1.1-1.6l1.9-2l.9-1l2.1-1.9l1.5-1.1l1.5-1.3l2.1-1.7l.9-1l1.9-2l1.1-1.4l1.9-1.6l1.1-.9l3-1l3 .8l1.4 1.1l1.6 .9l2.9 2.1l.1 .1l3 1.5l3 .8l3 .4l3 .1l3-.1l3-.3l3-.8l3-1.1l1.2-.6l1.8-1.3l1.8-1.7l1.2-1.5l2.2-1.5l.8-.5l2.7 .5l.3 0l3 1.5l3 1.3l.6 .2l2.4 1.2l2.5 1.8l.5 .4l2.9 2.6l.1 .1l3 1l3-.1l2.4-1l.6-.6l3-.4l1 1l1.8 3l.2 .2l2.2 2.8l.8 .7l1.8 2.3l1.2 1.1l1.4 1.9l1.6 1.1l1.9 1.9l1.1 .4l3 1.2l2.2-1.6l.8-.9l2.6-2.1l-1.6-3l-1-1.6l-1.9-1.4l-1.1-.9l-3-1.9l-.3-.2l-2.1-3l.3-3l1.2-3l.9-1.6l.6-1.4l1.5-3l.9-1.7l.9-1.3l2.1-2.5l.9-.5l2.1-1.1l3 .2l1.9 .9l1.1 .5l3 2.1l.6 .4l2.4 2.3l.7 .7l1.5 3l.2 3l-.6 3l-.6 3l-.1 3l.5 3l1.3 3l.1 0l.1 0l2.9-2.4l3 0l1.7-.6l1.3-1.2l3-.7l3-.7l1.1-.4l1.9-1.2l3-.2l3-.8l3-.1l2.4-.7l.6-.4l3-.1l3-1l3-.5l3 0l3 .4l3 1.3l3-.2l1.2 .5l1.8 .4l3 1.5l1.9 1.1l1.1 .6l3 2.4l3 1.2l1.9 1.8l1.1 .7l3 2l.3 .3l2.7 1.8l1.6 1.2l1.4 .9l3 1.1l2.5 1l.5 .2l3 1.9l1.7 .9l1.3 .3l.8-.3l2.2-2l1.6-1l1.4-1.2l2.5-1.8l.5-.6l2.5-2.4l.5-.7l2.3-2.3l.7-.6l3-2l.9-.4l2.1-1l3-1.4l1.3-.6l1.7-1.1l2.6-1.9l.4-.3l3-2.4l.7-.3l2.3-.5l1.5 .5l1.5 .5l3 .4l3 .2l3 .3l3 .2l3 .3l3 0l3-.2l3-.4l3-.3l3-.1l3 .3l3 .7l3 1.1l.2 0l2.8 .6l3-.4l.6-.2l2.4-.8l3-1l3-.7l0 2.5l0 3l0 3l0 3l0 3l0 3l0 3l0 3l0 3l0 3l0 3l0 3l0 3l0 3l0 3l0 3l0 3l0 3l0 3l0 3l0 3l0 3l0 3l0 3l0 3l0 3l0 3l0 3l0 3l0 3l0 3l0 3l0 3l0 3l0 3l0 3l0 3l0 3l0 3l0 3l0 3l0 3l0 3l0 3l0 3l0 3l0 3l0 3l0 3l0 3l0 3l0 3l0 3l0 3l0 3l0 3l0 3l0 3l0 3l0 3l0 3l0 3l0 3l0 3l0 3l0 3l0 3l0 3l0 3l0 3l0 3l0 3l0 3l0 3l0 3l0 3l0 3l0 3l0 3l0 3l0 3l0 3l0 3l0 3l0 3l0 3l0 3l0 3l0 3l0 3l0 3l0 3l0 3l0 3l0 3l0 3l0 3l0 3l0 3l0 3l0 3l0 3l0 3l0 3l0 3l0 3l0 3l0 3l0 3l0 3l0 3l0 3l0 3l0 3l0 3l0 3l0 3l0 3l0 3l0 3l0 3l0 3l0 3l0 3l0 3l0 3l0 3l0 3l0 3l0 3l0 3l0 3l0 3l0 3l0 3l0 3l0 3l-3 0l-3 0l-3 0l-3 0l-3 0l-3 0l-3 0l-3 0l-3 0l-3 0l-3 0l-3 0l-3 0l-3 0l-3 0l-3 0l-3 0l-3 0l-3 0l-3 0l-3 0l-3 0l-3 0l-3 0l-3 0l-3 0l-3 0l-3 0l-3 0l-3 0l-3 0l-3 0l-3 0l-3 0l-3 0l-3 0l-3 0l-3 0l-3 0l-3 0l-3 0l-3 0l-3 0l-3 0l-3 0l-3 0l-3 0l-3 0l-3 0l-3 0l-3 0l-3 0l-3 0l-3 0l-3 0l-3 0l-3 0l-3 0l-3 0l-3 0l-3 0l-3 0l-3 0l-3 0l-3 0l-3 0l-3 0l-3 0l-3 0l-3 0l-3 0l-3 0l-3 0l-3 0l-3 0l-3 0l-3 0l-3 0l-3 0l-3 0l-3 0l-3 0l-3 0l-3 0l-3 0l-3 0l-3 0l-3 0l-3 0l-3 0l-3 0l-3 0l-3 0l-3 0l-3 0l-3 0l-3 0l-3 0l-3 0l-3 0l-3 0l-3 0l-3 0l-3 0l-3 0l-3 0l-3 0l-3 0l-3 0l-3 0l-3 0l-3 0l-3 0l-3 0l-3 0l-3 0l-3 0l-3 0l-3 0l-3 0l-3 0l-3 0l-3 0l-3 0l-3 0l-3 0l-3 0l-3 0l-3 0l-3 0l-3 0l-3 0l-3 0l-3 0l-3 0l-3 0l-3 0l-3 0l-3 0l-3 0l-3 0l-3 0l-3 0l-3 0l-3 0l-3 0l-3 0l-3 0l-3 0l-3 0l-3 0l-3 0l-3 0l-3 0l-3 0l-3 0l-3 0l-3 0l-3 0l-3 0l-3 0l-3 0l-3 0l-3 0l-3 0l-3 0l-3 0l-3 0l-3 0l-3 0l-3 0l-3 0l-3 0l-3 0l-3 0l-3 0l-3 0l-3 0l-3 0l-3 0l-3 0l-3 0l-3 0l-3 0l-3 0l-3 0l-3 0l-3 0l-3 0l-3 0l-3 0l-3 0l-3 0l-3 0l-3 0l-3 0l-3 0l-3 0l-3 0l-3 0l-3 0l-3 0l-3 0l-3 0l-3 0l-3 0l-3 0l-3 0l-3 0l-3 0l-3 0l-3 0l-3 0l-3 0l-3 0l-3 0l-3 0l-3 0l-3 0l-3 0l-3 0l-3 0l-3 0l-3 0l-3 0l-3 0l-3 0l-3 0l-3 0l-3 0l-3 0l-3 0l-3 0l-3 0l-3 0l-3 0l-3 0l-3 0l-3 0l-3 0l-3 0l-3 0l-3 0l-3 0l-3 0l-3 0l-3 0l-3 0l-3 0l0-3l0-3l0-3l0-3l0-3l0-3l0-3l0-3l0-3l0-3l0-3l0-3l0-3l0-3l0-3l0-3l0-3l0-3l0-3l0-3l0-3l0-3l0-3l0-3l0-3l0-3l0-3l0-3l0-3l0-3l0-3l0-3l0-3l0-3l0-3l0-3l0-3l0-3l0-3l0-3l0-3l0-.6l3-.2l3-.1l3-.1l3-.5l3-.9l1.3-.6l1.7-.8l3-1.3l2.4-.9l.6-.2l3-.9l3-1.4l.7-.5l2.3-1.8l1.1-1.2l1.9-2l1.1-1l1.9-1.6l1.7-1.4l1.3-1.2l1.6-1.8l1.4-2.3l.3-.7l.8-3l.2-3l-.1-3l-.1-3l.6-3l1.3-2.9l0-.1l1.6-3l1.4-2.7l.1-.3l1.4-3l1-3l.5-1.8l.3-1.2l.8-3l.9-3l1-2.6l.1-.4l.8-3l.5-3l0-3l.1-3l.3-3l.9-3l.3-.8l.8-2.2l.9-3l.6-3l.4-3l.3-2.2l.1-.8l.7-3l1-3l1.2-2.2l.5-.8l2.5-2.8l.3-.2l2.7-1.7l2.5-1.3l.5-.2l3-1.5l2.1-1.3l.9-.6l3-2.3l.1-.1l2.9-2.2l1.2-.8l1.8-1.2l3-1.8l3-1.8l2-1.2l1-.8l2.1-2.2l.9-1.4l1-1.6l1.4-3l.6-1.4l.6-1.6l1.3-3l1.1-2.4l.2-.6l1.3-3l1.5-3l1.9-3l1.1-1.3l1.9-1.7l1.1-1l3-2l3-2.2l1.1-.8l1.9-1.8l1.2-1.2l1.8-2.4l.4-.6l1.8-3l.8-1.8l.7-1.2l1.4-3l.9-2l.9-1l2.1-2.4l2.3-.6l.7-.2l2 .2l1 0l3 .4l3 0l3-.4l.1 0l2.9-1.3l2.9-1.7l.1-.1l3-1.7l2.6-1.2l.4-.2l3-1.1l3-.9l3-.7l.2-.1l2.8-.5l3-.4l3-.4l3-.5l3-.5l3-.3l3-.2l3 0l1.2-.2l1.8-.3l3-1l3-1.3l.7-.4l2.3-1.2l3-1.2l2.7-.6l.3-.1l3-.1l3 .1l3-.3l3-1.1l2-1.5l1-.9l1.9-2.1l1.1-1.4l1.2-1.6l1.8-2.7l.2-.3l1.7-3l1.1-2.6l.2-.4l1.3-3l1.5-2.7l.3-.3l2.7-2.1l2-.9l1-.3l3-.9l3-.9l3-.8l.6-.1l2.4-.5l3-.6l3-.8l3-.8l1.1-.3l1.9-.5l3-.7l3-.8l2.5-1l.5-.2l3-1.3l2.7-1.5l.3-.1l3-2l1-.9l2-2.6l.3-.4l.7-3l-.3-3l-.7-2l-.3-1l-1.7-3l-1-1.4l-1.6-1.6l-1.4-1.5l-1.6-1.5l-1.4-1.8l-1-1.2l-1.7-3l-.3-.5l-1.3-2.5l-1.2-3l-.5-1.3l-.6-1.7l-.5-3l.1-3l1-2.8l.1-.2l2.5-3l.4-.1l3-1l3-.4l2.3-1.5l.7-.3l3-.4l3-1.1l3-1.1l.3-.1l2.7-.9l3-1l2.6-1.1l.4-.1l3-1l3-.9l2.2-1l.8-.2l3-.3l3-.5l3-.1l3-.7l3 .3l3-.6l3-.3zM508 419.3l-2 1.7l.1 3l1.9 1.2l3-1l.1-.2l-.1-.8l-1.3-2.2zM648.9 397l.1-.1l.1 .1l-.1 .1z" fill="#a8f880" stroke="#000" stroke-width="0.85" stroke-opacity="0.9" fill-rule="evenodd"/>
<path d="M388.7 382l2.3-.4l3-.9l3-.2l3-.6l3 .5l3 .6l2.5 1l.5 .8l3 1.6l3 .6l.1 0l2.9 1.8l.8 1.2l.1 3l-.9 2.5l-.2 .5l-1.9 3l-.9 .9l-2.1 2.1l-.9 .8l-3 2.2l-3 1.3l-3 1.2l-.7 .5l-2.3 2l-.7 1l-1.5 3l-.8 2.8l-.1 .2l-.8 3l-.6 3l-.4 3l1.8 3l.1 0l3 .7l3-.1l3-.4l1.4-.2l1.6-.2l3-.1l1.3 .3l1.7 .5l3 2l.5 .5l2.5 2.5l.5 .5l2.5 1.7l3 1.2l.3 .1l2.7 .4l3 .2l3-.6l3-2.3l.8-.7l2.2-3l2.9-3l.1-.1l3-2.5l.4-.4l2.6-2.8l.1-.2l2.8-3l.1-.1l3-1.9l3-.5l3 .8l3 1.7l.1 0l2.9 2.8l.2 .2l2.8 2.6l.7 .4l2.3 1.1l3 1.1l2.6 .8l.4 .1l3 .9l3 1.2l1.5 .8l1.5 .9l2.4 2.1l.6 .4l3 2.1l.8 .5l2.2 1.1l3 1l3 .2l3-.4l3-1l2-.9l1-.4l3-1.5l2.4-1.1l.6-.4l3-1.6l2.1-1l.9-.7l3-1.9l1.1-.4l1.9-.9l3-.5l3-.4l2.6-1.2l.4-.2l2.3-2.8l.7-.7l2-2.3l1-.8l2.6-2.2l.4-.2l3-2.1l1-.7l2-1.1l3-1.3l3-.5l3 .3l3 .6l3 .2l3-.4l3-.1l3 .3l3 .8l3 1l.6 .2l2.4 .9l3 .9l3 .8l1.2 .4l1.8 .5l3 1l3 1l2.1 .5l.9 .2l3 .4l3 .3l3 .2l3 0l2.2-1.1l.8-.7l3-1.1l2.5-1.2l.5-.9l3-2l3-.1l.1 0l-.1-.2l-3 0l-2.3-2.8l.7-3l1.6-2.8l2.4 2.8l.6 .4l1.6 2.6l1.4 .9l3 .4l3-1.1l.6-.2l2.4-.7l3-1.1l3-.8l1.3-.4l1.7-.7l3-1.2l3-.6l2.1-.5l.9-.4l3-.5l3-.7l3-.3l3-.1l2.9-1l.1 0l3-.1l.6 .1l2.4 .3l3 .8l3 .1l3 .8l1.7 1l1.3 .7l3 1.9l.5 .4l2.5 1.5l2.5 1.5l.5 .3l3 2.1l.9 .6l2.1 1.5l2.1 1.5l.9 .6l3 1.9l1 .5l2 1.1l3 1.5l.6 .4l2.4 1.2l3 .8l3-.9l2.9-1.1l.1 0l3-1.2l3-1l2.2-.8l.8-.4l3-1.3l3-.9l2.2-.4l.8-.1l3-.7l3-1.1l2.2-1.1l.8-.4l3-2l1.3-.6l1.7-.8l3-.9l3-.5l3-.3l3-.3l2.1-.2l.9-.1l3-.4l3-.4l3-.4l3-.2l3 .3l3 .8l1 .4l2 .7l3 1l3 .5l3-.2l3-.5l3-.5l3-.4l0 2.4l0 3l0 3l0 3l0 3l0 3l0 3l0 3l0 3l0 3l0 3l0 3l0 3l0 3l0 3l0 3l0 3l0 3l0 3l0 3l0 3l0 3l0 3l0 3l0 3l0 3l0 3l0 3l0 3l0 3l0 3l0 3l0 3l0 3l0 3l0 3l0 3l0 3l0 3l0 3l0 3l0 3l0 3l0 3l0 3l0 3l0 3l0 3l0 3l0 3l0 3l0 3l0 3l0 3l0 3l0 3l0 3l0 3l0 3l0 3l0 3l0 3l0 3l0 3l0 3l0 3l0 3l0 3l0 3l0 3l0 3l0 3l0 3l0 3l0 3l0 3l0 3l0 3l0 3l0 3l0 3l0 3l0 3l0 3l0 3l0 3l0 3l0 3l0 3l0 3l0 3l0 3l0 3l0 3l0 3l0 3l0 3l0 3l0 3l0 3l0 3l0 3l0 3l0 3l0 3l0 3l0 3l0 3l0 3l0 3l0 3l0 3l0 3l0 3l0 3l0 3l0 3l0 3l0 3l0 3l0 3l0 3l0 3l0 3l0 3l0 3l0 3l0 3l0 3l0 3l0 3l0 3l0 3l0 3l-3 0l-3 0l-3 0l-3 0l-3 0l-3 0l-3 0l-3 0l-3 0l-3 0l-3 0l-3 0l-3 0l-3 0l-3 0l-3 0l-3 0l-3 0l-3 0l-3 0l-3 0l-3 0l-3 0l-3 0l-3 0l-3 0l-3 0l-3 0l-3 0l-3 0l-3 0l-3 0l-3 0l-3 0l-3 0l-3 0l-3 0l-3 0l-3 0l-3 0l-3 0l-3 0l-3 0l-3 0l-3 0l-3 0l-3 0l-3 0l-3 0l-3 0l-3 0l-3 0l-3 0l-3 0l-3 0l-3 0l-3 0l-3 0l-3 0l-3 0l-3 0l-3 0l-3 0l-3 0l-3 0l-3 0l-3 0l-3 0l-3 0l-3 0l-3 0l-3 0l-3 0l-3 0l-3 0l-3 0l-3 0l-3 0l-3 0l-3 0l-3 0l-3 0l-3 0l-3 0l-3 0l-3 0l-3 0l-3 0l-3 0l-3 0l-3 0l-3 0l-3 0l-3 0l-3 0l-3 0l-3 0l-3 0l-3 0l-3 0l-3 0l-3 0l-3 0l-3 0l-3 0l-3 0l-3 0l-3 0l-3 0l-3 0l-3 0l-3 0l-3 0l-3 0l-3 0l-3 0l-3 0l-3 0l-3 0l-3 0l-3 0l-3 0l-3 0l-3 0l-3 0l-3 0l-3 0l-3 0l-3 0l-3 0l-3 0l-3 0l-3 0l-3 0l-3 0l-3 0l-3 0l-3 0l-3 0l-3 0l-3 0l-3 0l-3 0l-3 0l-3 0l-3 0l-3 0l-3 0l-3 0l-3 0l-3 0l-3 0l-3 0l-3 0l-3 0l-3 0l-3 0l-3 0l-3 0l-3 0l-3 0l-3 0l-3 0l-3 0l-3 0l-3 0l-3 0l-3 0l-3 0l-3 0l-3 0l-3 0l-3 0l-3 0l-3 0l-3 0l-3 0l-3 0l-3 0l-3 0l-3 0l-3 0l-3 0l-3 0l-3 0l-3 0l-3 0l-3 0l-3 0l-3 0l-3 0l-3 0l-3 0l-3 0l-3 0l-3 0l-3 0l-3 0l-3 0l-3 0l-3 0l-3 0l-3 0l-3 0l-3 0l-3 0l-3 0l-3 0l-3 0l-3 0l-3 0l-3 0l-3 0l-3 0l-3 0l-3 0l-3 0l-3 0l-3 0l-3 0l-3 0l-3 0l-3 0l-3 0l-3 0l-3 0l-3 0l-3 0l-3 0l-3 0l-3 0l-3 0l-3 0l-3 0l-3 0l-3 0l-3 0l-3 0l-3 0l-3 0l-3 0l-3 0l-3 0l-3 0l-3 0l-3 0l-3 0l-3 0l-3 0l0-3l0-3l0-3l0-3l0-3l0-3l0-3l0-3l0-3l0-3l0-3l0-3l0-3l0-3l0-3l0-3l0-3l0-3l0-3l0-3l0-3l0-3l0-3l0-3l0-3l0-3l0-3l0-3l0-3l0-3l0-3l0-3l0-3l0-3l0-3l0-3l0-.1l3 0l3 .1l3-.2l3-.5l3-.8l3-1l1.7-.5l1.3-.4l3-1.2l3-1.3l.2-.1l2.8-1.8l1.8-1.2l1.2-1l2.3-2l.7-.7l2.2-2.3l.8-.8l2.3-2.2l.7-.6l2.8-2.4l.2-.2l3-2.7l.1-.1l2.8-3l.1-.2l1.8-2.8l1.2-2.9l0-.1l.6-3l.2-3l0-3l0-3l.3-3l.6-3l1.2-3l.1-.2l1.6-2.8l1.4-2l.8-1l2.2-2.3l1-.7l2-1.5l3-1.3l.5-.2l2.5-1.6l1.4-1.4l1.3-3l.3-1.8l.2-1.2l.5-3l.7-3l.7-3l0-3l-.9-3l-1.2-2.4l-.3-.6l-1.3-3l-.5-3l.2-3l.3-3l.4-3l.3-3l.6-3l.3-1.3l.5-1.7l1.6-3l.9-1l1.8-2l1.2-1l2-2l1-.8l2.5-2.2l.5-.4l3-1.9l1.5-.7l1.5-.7l3-1.2l2.6-1.1l.4-.2l3-1.6l2-1.2l1-.7l2.5-2.3l.5-.6l1.4-2.4l1.1-3l.5-1.6l.4-1.4l.9-3l.9-3l.6-3l.2-1.9l.1-1.1l.3-3l.7-3l1.9-2.6l.6-.4l2.4-1.4l3-1.1l1.3-.5l1.7-.8l3-1.6l.8-.6l2.2-1.7l1.4-1.3l1.6-1.6l1.4-1.4l1.6-1.7l1.4-1.3l1.6-1.4l3-1.5l.4-.1l2.6-.6l3-.3l3-.4l3-.7l1.9-1l1.1-.5l3-2.1l.5-.4l2.5-1.9l1.5-1.1l1.5-.9l3-1.6l1-.5l2-.8l3-1.1l3-.8l2.3-.3l.7-.1l3-.1l3 0l3 .1l.9 .1l2.1 .1l3 .1l2.3-.2l.7-.1l3-.7l3-1.1l3-1.1l3-1l3-.8l3-.3l3 0l3 .1l3-.1l3-.3l1.5-.6l1.5-1.2l1.1-1.8l1.9-2.7l.2-.3l2.1-3l.7-.8l2-2.2l1-1l2.3-2l.7-.7l2.7-2.3l.3-.3l3-2.6l.1-.1l2.9-2.2l1.3-.8l1.7-1.1l3-1.7l.3-.2l2.7-1.3l3-1.1l2.1-.6l.9-.3l3-.7l3-.9l2.6-1.1l.4-.2l3-2l.9-.8l2.1-1.7l1.3-1.3l1.7-1.4l1.9-1.6l1.1-.9l2.7-2.1l.3-.2l3-2.7l.1-.1l2.3-3l.6-1.6l.7-1.4l-.2-3l-.5-.6l-1-2.4l-1.9-3l-.1-.3l-1.2-2.7l-1.2-3l-.6-1.1l-1.2-1.9l-1.8-2.7l-.2-.3l-1.6-3l-1.1-3l-.1-.4l-.8-2.6l-1.5-3l-.7-1.2l-.8-1.8l-.9-3l.3-3l1.4-2.3l3-.4l.4-.3l2.6-1l3-.7l2.5-1.3l.5-.2l3-.8l3-1.2l1.5-.8l1.5-.4l3-.8l3-1.6zM627.7 397l.3-.2l.3 .2l2.1 3l-2.4 2.4l-2.3-2.4z" fill="#d4f878" stroke="#000" stroke-width="0.85" stroke-opacity="0.9" fill-rule="evenodd"/>
<path d="M388.1 385l2.9-.6l3-.7l3 0l3 .6l1.3 .7l1.7 2l.7 1l.9 3l-.9 3l-.7 .7l-3 2.3l-3 1.4l-3 1.4l-.6 .2l-2.4 1.4l-2.4 1.6l-.6 3l0 1.5l0 1.5l-.4 3l-1.1 3l-1.5 2.5l-.4 .5l-2.6 2.7l-.3 .3l-1.8 3l-.9 .9l-3-.2l-.4-.7l.4-3l0-.1l-.3-2.9l-1.7-3l-1-1.1l-1.1-1.9l-1.2-3l.8-3l.5-3l-.8-3l-1.2-2.8l-.1-.2l.1-.5l.5-2.5l2.5-1.7l1.6-1.3l1.4-.6l3-1.3l1.8-1.1l1.2-.5l3-.9l3-1.6zM669.5 403l.5-.1l3-.5l2.1 .6l.9 1.1l.4-1.1l2.6-1.6l3-.1l3 .5l3 .5l3 .3l1.2 .4l1.8 .5l3 1.8l1.1 .7l1.9 1.1l3 1.9l3 1.8l1.7 1.2l1.3 1l2.8 2l.2 .1l3 2l1.4 .9l1.6 1.1l3 1.8l.1 .1l2.9 1.6l3 1.2l.7 .2l2.3 .7l3-.4l1.6-.3l1.4-.3l3-.4l3-.2l3-.1l3 0l3 0l3 .1l3-.7l2.7-1.4l.3-.2l3-1.8l1.7-1l1.3-.8l3-1.6l1.5-.6l1.5-.6l3-.5l3-.4l3-.2l3-.4l3-.4l3-.4l1.3-.1l1.7-.2l3 .1l1.1 .1l1.9 .3l3 .5l3 .3l3 .4l3 .4l3 .5l3 .5l.4 .1l2.6 .6l3 .8l0 1.6l0 3l0 3l0 3l0 3l0 3l0 3l0 3l0 3l0 3l0 3l0 3l0 3l0 3l0 3l0 3l0 3l0 3l0 3l0 3l0 3l0 3l0 3l0 3l0 3l0 3l0 3l0 3l0 3l0 3l0 3l0 3l0 3l0 3l0 3l0 3l0 3l0 3l0 3l0 3l0 3l0 3l0 3l0 3l0 3l0 3l0 3l0 3l0 3l0 3l0 3l0 3l0 3l0 3l0 3l0 3l0 3l0 3l0 3l0 3l0 3l0 3l0 3l0 3l0 3l0 3l0 3l0 3l0 3l0 3l0 3l0 3l0 3l0 3l0 3l0 3l0 3l0 3l0 3l0 3l0 3l0 3l0 3l0 3l0 3l0 3l0 3l0 3l0 3l0 3l0 3l0 3l0 3l0 3l0 3l0 3l0 3l0 3l0 3l0 3l0 3l0 3l0 3l0 3l0 3l0 3l0 3l0 3l0 3l0 3l0 3l0 3l0 3l0 3l0 3l0 3l0 3l0 3l0 3l0 3l0 3l0 3l0 3l0 3l0 3l0 3l0 3l0 3l0 3l0 3l0 3l-3 0l-3 0l-3 0l-3 0l-3 0l-3 0l-3 0l-3 0l-3 0l-3 0l-3 0l-3 0l-3 0l-3 0l-3 0l-3 0l-3 0l-3 0l-3 0l-3 0l-3 0l-3 0l-3 0l-3 0l-3 0l-3 0l-3 0l-3 0l-3 0l-3 0l-3 0l-3 0l-3 0l-3 0l-3 0l-3 0l-3 0l-3 0l-3 0l-3 0l-3 0l-3 0l-3 0l-3 0l-3 0l-3 0l-3 0l-3 0l-3 0l-3 0l-3 0l-3 0l-3 0l-3 0l-3 0l-3 0l-3 0l-3 0l-3 0l-3 0l-3 0l-3 0l-3 0l-3 0l-3 0l-3 0l-3 0l-3 0l-3 0l-3 0l-3 0l-3 0l-3 0l-3 0l-3 0l-3 0l-3 0l-3 0l-3 0l-3 0l-3 0l-3 0l-3 0l-3 0l-3 0l-3 0l-3 0l-3 0l-3 0l-3 0l-3 0l-3 0l-3 0l-3 0l-3 0l-3 0l-3 0l-3 0l-3 0l-3 0l-3 0l-3 0l-3 0l-3 0l-3 0l-3 0l-3 0l-3 0l-3 0l-3 0l-3 0l-3 0l-3 0l-3 0l-3 0l-3 0l-3 0l-3 0l-3 0l-3 0l-3 0l-3 0l-3 0l-3 0l-3 0l-3 0l-3 0l-3 0l-3 0l-3 0l-3 0l-3 0l-3 0l-3 0l-3 0l-3 0l-3 0l-3 0l-3 0l-3 0l-3 0l-3 0l-3 0l-3 0l-3 0l-3 0l-3 0l-3 0l-3 0l-3 0l-3 0l-3 0l-3 0l-3 0l-3 0l-3 0l-3 0l-3 0l-3 0l-3 0l-3 0l-3 0l-3 0l-3 0l-3 0l-3 0l-3 0l-3 0l-3 0l-3 0l-3 0l-3 0l-3 0l-3 0l-3 0l-3 0l-3 0l-3 0l-3 0l-3 0l-3 0l-3 0l-3 0l-3 0l-3 0l-3 0l-3 0l-3 0l-3 0l-3 0l-3 0l-3 0l-3 0l-3 0l-3 0l-3 0l-3 0l-3 0l-3 0l-3 0l-3 0l-3 0l-3 0l-3 0l-3 0l-3 0l-3 0l-3 0l-3 0l-3 0l-3 0l-3 0l-3 0l-3 0l-3 0l-3 0l-3 0l-3 0l-3 0l-3 0l-3 0l-3 0l-3 0l-3 0l-3 0l-3 0l-3 0l-3 0l-3 0l-3 0l-3 0l-3 0l-3 0l-3 0l-3 0l-3 0l-3 0l-3 0l-3 0l-3 0l-3 0l-3 0l-3 0l-3 0l-3 0l-3 0l-3 0l-3 0l-3 0l0-3l0-3l0-3l0-3l0-3l0-3l0-3l0-3l0-3l0-3l0-3l0-3l0-3l0-3l0-3l0-3l0-3l0-3l0-3l0-3l0-3l0-3l0-3l0-3l0-3l0-3l0-3l0-3l0-3l0-3l0-3l0-3l0-2.3l3 .5l3 .6l3 .5l3-.4l3-1.3l.8-.6l2.2-1.6l1.6-1.4l1.4-.9l3-2l.2-.1l2.8-1.6l2.5-1.4l.5-.3l3-1.5l2.2-1.2l.8-.5l3-2l.9-.5l2.1-1.6l2.2-1.4l.8-.7l2.2-2.3l.8-.9l1.9-2.1l1.1-1l2.3-2l.7-.6l2.9-2.4l.1-.1l3-2.8l.1-.1l2.2-3l.7-2.5l.1-.5l.3-3l-.1-3l-.3-1l-.5-2l-.5-3l.3-3l.7-2.2l.3-.8l1.9-3l.8-.9l2.7-2.1l.3-.2l3-1.3l3-1.1l.5-.4l2.5-1.8l1.1-1.2l1.9-2l1-1l2-2.3l.6-.7l2-3l.4-.9l.9-2.1l1.2-3l.9-2l.4-1l1.5-3l1-3l0-3l-.9-3l-1.5-3l-.5-1.3l-.6-1.7l-1.1-3l-1.3-2.9l0-.1l-1.2-3l-.8-3l-.2-3l.4-3l.8-3l1-2.3l.3-.7l1.9-3l.8-.9l3-1.9l3 .1l3 .7l3-.5l3-.1l3 1.1l2.4-1.5l-2.4-1.7l-1.4-1.3l1.4-1.5l3-1.5l.1 0l2.9-1.1l3-1.2l.9-.7l1.9-3l-.8-3l-.6-3l-.1-3l.3-3l1.2-3l.2-.3l1.2-2.7l1-3l.6-3l.2-.9l2-2.1l1-.3l3-.7l3-.6l3-.7l2.7-.7l.3-.1l3-1.1l3-1.5l.6-.3l2.4-1.3l3-1.1l3-.5l.9-.1l2.1-.1l3-.6l2.3-2.3l.7-.6l1.5-2.4l1.5-2.1l.5-.9l2.2-3l.3-.4l2.1-2.6l.9-1l2.1-2l.9-.7l3-2.1l.4-.2l2.6-1.2l3-.7l3-.3l3 .1l3 .3l3 .4l3 .4l3 .2l3-.1l3-.5l3-1l1.5-.6l1.5-.6l3-1.2l3-1.1l.5-.1l2.5-.7l3-.6l3-.5l3-.5l2.8-.7l.2 0l3-1.7l1.8-1.3l1.2-1.3l1.7-1.7l1.3-1.8l.9-1.2l2.1-2.9l.1-.1l2.7-3l.2-.2l3-2.8l.1 0l2.9-2.3l1.1-.7l1.9-1.2l3-1.5l.6-.3l2.4-1.1l3-.9l3-.6l3-.3l.6-.1l2.4-.4l3-1.1l2.4-1.5l.6-.4l2.7-2.6l.3-.3l2.1-2.7l.9-1l1.7-2l1.3-1.4l1.8-1.6l1.2-1.1l2.5-1.9l.5-.4l3-2.3l.4-.3l2.6-2.6l.3-.4l2.7-2.3l2-.7l1-.4l3-.6l3-.4l3-.3l3 0l3 0l3 .2l3 .8l1.1 .7l1.9 1.7l1.3 1.3l1.7 1.5l3 1.5l.2 0l2.8 .4l3 .3l3 .5l3 .7l3 .3l3-.2l3-.9l2.2-1.1l.8-.5l3-2.3l.3-.2l2.7-1.6l3-.8l3 .3l3 .8l3 .9l1.6 .4l1.4 .4l3 .4l3 0l3-.3l2.4-.5l.6-.1l3-1l3-1.1l3-.5l3 .5l3 1.6l.9 .6l2.1 1.3l3 1.1l3 .5l1.3 .1l1.7 .2l3 .4l3 .5l3 .2l3-.3l3-.8l.6-.2l2.4-.9l3-1l3-.7l3 0l3 .9l3 1l3 .6l2.3 .1l.7 0l3 .1l1.1-.1l1.9-.1l3-1.2l1.6-1.7l1.3-3l.1-.2l1-2.8l2-2.7l.3-.3l2.7-1.7l3-1.2l.2-.1l2.8-1.2l3-1.6l.2-.2l2.8-1.7l2.2-1.3l.8-.4l3-1.6l2.1-1l.9-.5l3-1.1l3-.4l3 .2l3 .3l3 .3l3 .4l3 .4l3 .2l3 0l3-.3l3-.5l3-.6l3-.9l.9-.5l2.1-.6l3-1.3l2.7-1.1l.3-.1l3-1.5l3-1.3l.2-.1l2.8-1.3l3-1.3l1.2-.4l1.8-.4l3-.9l3-.8l2.5-.9l.5-.2l3-.8l3-1.1l2.5-.9l.5-.2l3-1l3-.6l3-.7z" fill="#f4f888" stroke="#000" stroke-width="0.85" stroke-opacity="0.9" fill-rule="evenodd"/>
<path d="M678.6 403l.4-.2l3 0l1.7 .2l1.3 .3l3 .4l3 .5l3 .8l1.7 1l1.3 1l3 1.5l.8 .5l2.2 1.7l2.4 1.3l.6 .4l3 2.2l.6 .4l2.4 1.8l1.9 1.2l1.1 .8l3 1.9l.5 .3l2.5 2.2l1.6 .8l1.4 .6l3 .9l3 .9l3-.1l3-.3l3 .2l3 .5l1.4 .3l1.6 .4l3 .5l3 .6l3 .4l3-.5l3-1.3l.1-.1l2.9-1.3l3-1.1l2.1-.6l.9-.3l3-.7l3-.2l3 .3l3 .8l.5 .1l2.5 .6l3 .5l3-.1l3-.6l1.3-.4l1.7-.6l3-1.2l2.1-1.2l.9-.4l3-1.2l3-.1l3 1l1.5 .7l1.5 1.1l2.5 1.9l.5 .6l2.3 2.4l.7 .9l2 2.1l1 1.1l0 1.9l0 3l0 3l0 3l0 3l0 3l0 3l0 3l0 3l0 3l0 3l0 3l0 3l0 3l0 3l0 3l0 3l0 3l0 3l0 3l0 3l0 3l0 3l0 3l0 3l0 3l0 3l0 3l0 3l0 3l0 3l0 3l0 3l0 3l0 3l0 3l0 3l0 3l0 3l0 3l0 3l0 3l0 3l0 3l0 3l0 3l0 3l0 3l0 3l0 3l0 3l0 3l0 3l0 3l0 3l0 3l0 3l0 3l0 3l0 3l0 3l0 3l0 3l0 3l0 3l0 3l0 3l0 3l0 3l0 3l0 3l0 3l0 3l0 3l0 3l0 3l0 3l0 3l0 3l0 3l0 3l0 3l0 3l0 3l0 3l0 3l0 3l0 3l0 3l0 3l0 3l0 3l0 3l0 3l0 3l0 3l0 3l0 3l0 3l0 3l0 3l0 3l0 3l0 3l0 3l0 3l0 3l0 3l0 3l0 3l0 3l0 3l0 3l0 3l0 3l0 3l0 3l0 3l0 3l0 3l0 3l0 3l0 3l0 3l0 3l0 3l-3 0l-3 0l-3 0l-3 0l-3 0l-3 0l-3 0l-3 0l-3 0l-3 0l-3 0l-3 0l-3 0l-3 0l-3 0l-3 0l-3 0l-3 0l-3 0l-3 0l-3 0l-3 0l-3 0l-3 0l-3 0l-3 0l-3 0l-3 0l-3 0l-3 0l-3 0l-3 0l-3 0l-3 0l-3 0l-3 0l-3 0l-3 0l-3 0l-3 0l-3 0l-3 0l-3 0l-3 0l-3 0l-3 0l-3 0l-3 0l-3 0l-3 0l-3 0l-3 0l-3 0l-3 0l-3 0l-3 0l-3 0l-3 0l-3 0l-3 0l-3 0l-3 0l-3 0l-3 0l-3 0l-3 0l-3 0l-3 0l-3 0l-3 0l-3 0l-3 0l-3 0l-3 0l-3 0l-3 0l-3 0l-3 0l-3 0l-3 0l-3 0l-3 0l-3 0l-3 0l-3 0l-3 0l-3 0l-3 0l-3 0l-3 0l-3 0l-3 0l-3 0l-3 0l-3 0l-3 0l-3 0l-3 0l-3 0l-3 0l-3 0l-3 0l-3 0l-3 0l-3 0l-3 0l-3 0l-3 0l-3 0l-3 0l-3 0l-3 0l-3 0l-3 0l-3 0l-3 0l-3 0l-3 0l-3 0l-3 0l-3 0l-3 0l-3 0l-3 0l-3 0l-3 0l-3 0l-3 0l-3 0l-3 0l-3 0l-3 0l-3 0l-3 0l-3 0l-3 0l-3 0l-3 0l-3 0l-3 0l-3 0l-3 0l-3 0l-3 0l-3 0l-3 0l-3 0l-3 0l-3 0l-3 0l-3 0l-3 0l-3 0l-3 0l-3 0l-3 0l-3 0l-3 0l-3 0l-3 0l-3 0l-3 0l-3 0l-3 0l-3 0l-3 0l-3 0l-3 0l-3 0l-3 0l-3 0l-3 0l-3 0l-3 0l-3 0l-3 0l-3 0l-3 0l-3 0l-3 0l-3 0l-3 0l-3 0l-3 0l-3 0l-3 0l-3 0l-3 0l-3 0l-3 0l-3 0l-3 0l-3 0l-3 0l-3 0l-3 0l-3 0l-3 0l-3 0l-3 0l-3 0l-3 0l-3 0l-3 0l-3 0l-3 0l-3 0l-3 0l-3 0l-3 0l-3 0l-3 0l-3 0l-3 0l-3 0l-3 0l-3 0l-3 0l-3 0l-3 0l-3 0l-3 0l-3 0l-3 0l-3 0l-3 0l-3 0l-3 0l-3 0l-3 0l-3 0l-3 0l-3 0l-3 0l-3 0l-3 0l-3 0l-3 0l-3 0l-3 0l-3 0l-3 0l-3 0l-3 0l-3 0l-3 0l-3 0l-3 0l-3 0l0-3l0-3l0-3l0-3l0-3l0-3l0-3l0-3l0-3l0-3l0-3l0-3l0-3l0-3l0-3l0-3l0-3l0-3l0-3l0-3l0-3l0-3l0-3l0-3l0-3l0-3l0-3l0-3l0-3l0-1l3 .1l3 .3l3 .4l3-1l3-1.8l3-1.6l2.4-1.4l.6-.6l2-2.4l1-1.1l2.1-1.9l.9-.7l3-2l.4-.3l2.6-2.1l1.5-.9l1.5-.8l3-1.8l.6-.4l2.4-1.8l2.3-1.2l.7-.4l3-1.4l1.6-1.2l1.4-1.9l.9-1.1l2.1-2.6l.4-.4l2.6-2.3l.7-.7l2.3-1.9l1.4-1.1l1.6-1.2l2.7-1.8l.3-.2l2-2.8l.3-3l.2-3l.4-3l0-3l-1.2-3l-.6-3l.5-3l1.4-2l1.4-1l1.6-1l3-.6l3-.1l2.1-1.3l.9-1.3l1.1-1.7l1.9-2.8l.2-.2l2.8-3l3-2.4l.6-.6l2.1-3l.3-.5l1.6-2.5l1.4-2.9l.1-.1l2-3l.9-1.1l2.3-1.9l.7-.7l1.4-2.3l1.6-2.1l.8-.9l2.2-1.6l3-1l1.3-.4l1.7-1.1l1.1-1.9l.7-3l1.2-2.2l.3-.8l1.5-3l1.2-2.1l.7-.9l1.7-3l0-3l-.8-3l-.6-3l-1-1.3l-.9-1.7l-1-3l.6-3l1.3-2.6l.4-.4l2.6-2.5l.4-.5l1.9-3l.7-2.5l.1-.5l-.1-2.6l0-.4l-.7-3l-.7-3l.1-3l1.3-2.1l.6-.9l1.1-3l1.3-1.7l2.7-1.3l.3-.1l3-.3l3 .3l.4 .1l2.6 .3l3 0l1.2-.3l1.8-.4l3-1l3-1.2l.8-.4l2.2-1.1l2.7-1.9l.3-.2l3-2.3l.5-.5l2.5-2.2l.7-.8l1.9-3l.4-.8l.9-2.2l1.2-3l.9-1.6l.9-1.4l2.1-3l2.7-3l.3-.3l3-2.5l.3-.2l2.7-1.4l3-.6l3 .4l3 1.1l1.3 .5l1.7 .7l3 1.2l2.6 1.1l.4 .2l3 .9l3 0l2.5-1.1l.5-.3l3-2.6l0-.1l3-3l3-2.3l1.3-.7l1.7-.8l3-1l3-.8l1.8-.4l1.2-.3l3-.8l3-1l2.1-.9l.9-.4l3-1.7l1.5-.9l1.5-1.2l2.1-1.8l.9-1l1.6-2l1.4-1.8l.8-1.2l2.2-2.8l.2-.2l2.8-2.9l.1-.1l2.9-2l2-1l1-.4l3-.8l3-.2l3 0l3-.1l3-.6l2.1-.9l.9-.4l3-2l.9-.6l2.1-1.8l1.4-1.2l1.6-2.2l.5-.8l1.5-3l1-1.1l3-1.2l2.6-.7l.4-.1l3-.1l1 .2l2 .6l3 1.2l3 .7l3-.1l3-.5l3-.5l3-.3l3-.1l3-.2l3 0l3-.1l3 .2l3 0l3-.1l3 0l3 .1l3 .2l3 0l3-.1l3-.6l1.2-.4l1.8-.4l3-.6l3-.4l3-.1l3 .2l3 .4l3 .4l3 0l3-.3l3-.5l3-.7l3-1l.2 0l2.8-.7l3-.1l3 .6l.7 .2l2.3 .7l3 .8l3 .6l3 .9l3 1.3l3 1.6l.3 .1l2.7 1l3 .7l3 .8l1.3 .5l1.7 .7l3 1.5l1.7 .8l1.3 .6l3 1.2l3 1.1l.6 .1l2.4 .5l3 0l3-.2l3-.1l3 .6l3 1l3 .8l3 .3l3-.8l1.7-2.1l.4-3l0-3l.7-3l.2-.3l1.7-2.7l1.3-1.2l1.9-1.8l1.1-1l2-2l1-1.1l1.7-1.9l1.3-1.8l1.1-1.2l1.9-2.4l.5-.6l2.2-3l.3-.4l2-2.6l1-.9l2.9-2.1l.1 0l3-1.4l3-1.2l1.2-.4l1.8-.5l3-.7l3-.5l3-.5l3-.5l1.3-.3l1.7-.3l3-.7l3-1l1.8-1l1.2-.5l3-1.9l.5-.6l2.5-1.5l2.2-1.5l.8-.3l3-.9l3-1.8l3-.8l3-1.6l1.4-.6l1.6-.6l3-1l3-1.1l.8-.3l2.2-.5l3-1.1l3-.5l1.1-.9l1.9-.8l3-.5l3-1.5l.6-.2l2.4-.4l3-.6l3-.4l3-.1l1.4 1.5l1.6 1.4l1.8-1.4zM172.1 580l2.9-.8l3 .3l2 .5l1 .5l3 .6l1.3 1.9l-1.2 3l-.1 .2l-3 2.6l-.7 .2l-2.3 .7l-2.4-.7l-.6-.2l-3-2.7l-.1-.1l-.8-3l.9-2.8z" fill="#fff070" stroke="#000" stroke-width="0.85" stroke-opacity="0.9" fill-rule="evenodd"/>
<path d="M681.5 406l.5-.4l3-.2l3 .1l3 .4l.6 .1l2.4 1l3 1.9l.2 .1l2.8 1.7l2 1.3l1 .7l3 1.6l.9 .7l2.1 1.7l2 1.3l1 .9l3 1.9l.4 .2l2.6 2.8l.3 .2l2.7 2.2l3 .8l.5 0l2.5 .3l3 1.6l3-.1l3-.4l3 1.1l1.4 .5l1.6 .9l3 1.2l2.6 .9l.4 .2l3 1.3l3 1.1l3 .4l3 0l3-.1l1.1 .1l1.9 .1l3 0l.5-.1l2.5-.5l3-.8l3-.4l3 .3l3 .8l1.6 .6l1.4 .8l3 1.8l.9 .4l2.1 1.5l3 1.2l3 0l3-.7l3 .1l2.6 .9l.4 .1l3 1.4l2.6 1.5l.4 .2l3 1l3 .7l3 .8l0 .3l0 3l0 3l0 3l0 3l0 3l0 3l0 3l0 3l0 3l0 3l0 3l0 3l0 3l0 3l0 3l0 3l0 3l0 3l0 3l0 3l0 3l0 3l0 3l0 3l0 3l0 3l0 3l0 3l0 3l0 3l0 3l0 3l0 3l0 3l0 3l0 3l0 3l0 3l0 3l0 3l0 3l0 3l0 3l0 3l0 3l0 3l0 3l0 3l0 3l0 3l0 3l0 3l0 3l0 3l0 3l0 3l0 3l0 3l0 3l0 3l0 3l0 3l0 3l0 3l0 3l0 3l0 3l0 3l0 3l0 3l0 3l0 3l0 3l0 3l0 3l0 3l0 3l0 3l0 3l0 3l0 3l0 3l0 3l0 3l0 3l0 3l0 3l0 3l0 3l0 3l0 3l0 3l0 3l0 3l0 3l0 3l0 3l0 3l0 3l0 3l0 3l0 3l0 3l0 3l0 3l0 3l0 3l0 3l0 3l0 3l0 3l0 3l0 3l0 3l0 3l0 3l0 3l0 3l0 3l0 3l-3 0l-3 0l-3 0l-3 0l-3 0l-3 0l-3 0l-3 0l-3 0l-3 0l-3 0l-3 0l-3 0l-3 0l-3 0l-3 0l-3 0l-3 0l-3 0l-3 0l-3 0l-3 0l-3 0l-3 0l-3 0l-3 0l-3 0l-3 0l-3 0l-3 0l-3 0l-3 0l-3 0l-3 0l-3 0l-3 0l-3 0l-3 0l-3 0l-3 0l-3 0l-3 0l-3 0l-3 0l-3 0l-3 0l-3 0l-3 0l-3 0l-3 0l-3 0l-3 0l-3 0l-3 0l-3 0l-3 0l-3 0l-3 0l-3 0l-3 0l-3 0l-3 0l-3 0l-3 0l-3 0l-3 0l-3 0l-3 0l-3 0l-3 0l-3 0l-3 0l-3 0l-3 0l-3 0l-3 0l-3 0l-3 0l-3 0l-3 0l-3 0l-3 0l-3 0l-3 0l-3 0l-3 0l-3 0l-3 0l-3 0l-3 0l-3 0l-3 0l-3 0l-3 0l-3 0l-3 0l-3 0l-3 0l-3 0l-3 0l-3 0l-3 0l-3 0l-3 0l-3 0l-3 0l-3 0l-3 0l-3 0l-3 0l-3 0l-3 0l-3 0l-3 0l-3 0l-3 0l-3 0l-3 0l-3 0l-3 0l-3 0l-3 0l-3 0l-3 0l-3 0l-3 0l-3 0l-3 0l-3 0l-3 0l-3 0l-3 0l-3 0l-3 0l-3 0l-3 0l-3 0l-3 0l-3 0l-3 0l-3 0l-3 0l-3 0l-3 0l-3 0l-3 0l-3 0l-3 0l-3 0l-3 0l-3 0l-3 0l-3 0l-3 0l-3 0l-3 0l-3 0l-3 0l-3 0l-3 0l-3 0l-3 0l-3 0l-3 0l-3 0l-3 0l-3 0l-3 0l-3 0l-3 0l-3 0l-3 0l-3 0l-3 0l-3 0l-3 0l-3 0l-3 0l-3 0l-3 0l-3 0l-3 0l-3 0l-3 0l-3 0l-3 0l-3 0l-3 0l-3 0l-3 0l-3 0l-3 0l-3 0l-3 0l-3 0l-3 0l-3 0l-3 0l-3 0l-3 0l-3 0l-3 0l-3 0l-3 0l-3 0l-3 0l-3 0l-3 0l-3 0l-3 0l-3 0l-3 0l-3 0l-3 0l-3 0l-3 0l-3 0l-3 0l-3 0l-3 0l-3 0l-3 0l-3 0l-3 0l-3 0l-3 0l-3 0l-3 0l-3 0l-3 0l-3 0l-3 0l-3 0l-3 0l-3 0l-3 0l-3 0l-3 0l-3 0l-3 0l-3 0l-3 0l-3 0l-3 0l-3 0l-3 0l-3 0l-3 0l-3 0l0-3l0-3l0-3l0-3l0-3l0-3l0-3l0-3l0-3l0-3l0-3l0-3l0-3l0-3l0-3l0-3l0-3l0-3l0-3l0-3l0-3l0-3l0-3l0-3l0-3l0-3l0-3l3-.6l3-.5l3-.4l3-.7l1.6-.8l1.4-.8l3-1.7l1-.5l2-1.1l2.8-1.9l.2-.1l3-2.5l.4-.4l2.6-2.4l.5-.6l2.5-2.4l.6-.6l2.4-1.8l1.6-1.2l1.4-.9l2.8-2.1l.2-.1l3-1.8l2.3-1.1l.7-.4l3-1.7l1-.9l2-2l.9-1l2.1-2.4l.6-.6l2.4-2.5l.4-.5l2.6-2.2l1.3-.8l1.7-1.1l2.4-1.9l.6-.5l1.9-2.5l.9-3l.2-2.3l0-.7l.1-3l.2-3l-.3-3l0-.1l-.7-2.9l-.3-3l1-1.7l2.2-1.3l.8-.3l3-.5l3-.9l1.9-1.3l1.1-1.2l1.5-1.8l1.5-2.4l.4-.6l2-3l.6-.7l2.2-2.3l.8-.7l2.2-2.3l.8-1.1l1.6-1.9l1.4-1.7l1.3-1.3l1.7-2.1l.7-.9l2.3-2.9l.1-.1l1.8-3l1.1-1.4l1.7-1.6l1.3-.9l3-1.4l1.3-.7l1.7-1.2l1.6-1.8l1.3-3l.1-.6l.4-2.4l2-3l.6-.6l3-2.4l.1 0l2.9-1.9l2.4-1.1l.6-.3l2.7-2.7l.3-1.2l.6-1.8l-.2-3l-.3-3l.8-3l2-3l.1-.3l1.1-2.7l.6-3l.2-3l-.3-3l-1.1-3l-.5-1l-1-2l-1.3-3l.5-3l1.8-.4l3 .1l3 .1l3-.3l3-.5l3-.6l3-.6l3-.7l.4-.1l2.6-.8l3-2.1l.1-.1l2.3-3l.6-1l1.3-2l1.7-2.5l.4-.5l2.4-3l.2-.3l1.8-2.7l1.2-2.8l.1-.2l1.2-3l1.6-3l.1-.1l3-2.9l3-2l3-.7l3 .2l3 .7l3 .7l3 .6l3 .3l3-.2l3-.9l2.9-1.7l.1-.1l2.8-2.9l.2-.2l1.9-2.8l1.1-1.4l1.3-1.6l1.7-1.4l3-1.3l1.6-.3l1.4-.3l3-.5l3-.6l3-.8l2.7-.8l.3-.1l3-1.1l3-1.2l1.7-.6l1.3-.6l3-1.3l2-1.1l1-.7l2.2-2.3l.8-1.2l.9-1.8l1.3-3l.8-1.6l.7-1.4l2.3-2.6l.5-.4l2.5-1.1l3 0l3 1l.5 .1l2.5 .6l3-.3l1.2-.3l1.8-.5l3-1l3-.9l2.8-.6l.2 0l3-.4l3 0l2.9 .4l.1 0l3 .2l1.6-.2l1.4-.2l3-1.4l2.4-1.4l.6-.4l3-1.5l3-.9l2.1-.2l.9-.1l3-.1l3 .1l2.4 .1l.6 0l3 .4l3 .7l3 .8l3 .8l1.9 .3l1.1 .2l3 .3l3 .1l3-.2l2.1-.4l.9-.1l3-1l3-1.1l2-.8l1-.4l3-1l3-1l2.3-.6l.7-.2l3-.7l3-.5l3-.1l3-.2l3-.1l3-.2l3-.1l3-.1l3-.3l3-.4l2.4-.1l.6 0l.3 0l2.7 .3l3 .8l3 1l2.3 .9l.7 .3l3 1.3l2.5 1.4l.5 .3l3 2.1l.8 .6l2.2 1.3l3 1.3l1.2 .4l1.8 .5l3 .8l3 .8l3 .9l.1 0l2.9 .7l3 .8l3 .7l3 .4l3-.8l3-.3l3 .2l3 .5l3 .5l3-.1l3-.4l3-.8l2.1-1.4l.9-1l1.4-2l1.2-3l.4-1.4l.5-1.6l.6-3l.6-3l.9-3l.4-.7l1.5-2.3l1.5-1.6l1.3-1.4l1.7-1.6l1.4-1.4l1.6-1.5l1.5-1.5l1.5-1.5l1.3-1.5l1.7-2l.9-1l2.1-2.6l.4-.4l2.6-2.4l.8-.6l2.2-1.3l3-1.1l2.9-.6l.1 0l3-.4l3-.2l3-.4l3-.4l3-.6l3-.8l.5-.2l1.3-3l.7-3l.5-1.2l.6-1.8l1.3-3l1.1-.6l3-.6l2.1-1.8l.9-.4l3 .2l.9 .2l.1 3l.8 3l1.2 1.6l1.1 1.4l1.9 2.5l.9 .5l2.1 1.3l3 .5l3-.7l1.7-1.1l1.3-1.4l1.2-1.6l.8-3l0-3l.1-3l.9-.6l.7-2.4l-.7-1.2l-2.6 1.2l-.4 .7l-3 1.4l-3-.9l-3-1.1l-2.1-.1l2.1-.3l1.6-2.7l1.4-.3l3 0l3-1.6l3 .9l1.8-2l1.2-.6l3-.8l2.5-1.6l.5-.2l3-.6l3-.9l3-.2l3 1.4l.8 .5l2.2 .9l2-.9l1-.5zM700 459.1l-.9 .9l-2.1 1.8l-.8 1.2l-2 3l-.2 .3l-1.2 2.7l-.7 3l-.1 3l1.1 3l.9 .5l3 .2l1.8-.7l1.2-.4l3-2l.9-.6l2.1-1.8l2.1-1.2l.9-1.3l1.8-1.7l-1-3l-.8-.9l-1.4-2.1l-1.6-1.5l-1.9-1.5l-1.1-.6zM622 438.1l-1.5 .9l.3 3l1.2 1.5l.6 1.5l2.4 1.5l3-.7l1-.8l.3-3l-1.3-2.1l-1.6-.9l-1.4-.8zM673 423.8l-.4 .2l-1.5 3l-.2 3l1.4 3l.7 .3l.8-.3l2.2-1.8l.3-1.2l.6-3l-.3-3l-.6-.7z" fill="#ffd860" stroke="#000" stroke-width="0.85" stroke-opacity="0.9" fill-rule="evenodd"/>
<path d="M682.2 412l2.8-2.1l3-.8l3 .6l3 1.4l2.2 .9l.8 .4l3 1.8l1.7 .8l1.3 .8l3 2.1l.2 .1l2.8 2.6l.4 .4l2.6 2.8l.2 .2l2.2 3l.6 1l1.5 2l1.5 2.9l.1 .1l-.1 .4l-3 2.1l-3-.2l-3 .4l-.9 .3l-2.1 .7l-3 .6l-3-.2l-2.9-1.1l-.1 0l-3-2.2l-2-.8l-1-.2l-3-1.6l-1.2-1.2l-1.8-1.4l-1.3-1.6l-1.7-1.8l-.6-1.2l-1.7-3l-.7-2.6l-.2-.4l.2-1l.4-2l2.6-2.8zM730.1 439l2.9-1.9l3-.4l3 1.5l1.6 .8l1.4 .7l3 1.9l.4 .4l2.5 3l.1 .2l1.9 2.8l1.1 2.2l.7 .8l.6 3l-.8 3l-.5 .9l-1.2 2.1l-1.8 2.5l-.7 .5l-2.3 1.3l-3-.4l-1.3-.9l-1.7-1.9l-.7-1.1l-2.1-3l-.2-.2l-3-2l-1.4-.8l-1.6-1l-1.6-2l-1.4-2.9l0-.1l-.4-3l.3-3l.1-.1l3-2.8zM666.8 448l.2 0l3 0l3 .4l3 .7l3 .5l3 .6l1.9 .8l1.1 .6l1.7 2.4l.5 3l-.7 3l-1.5 2.4l-.6 .6l-2.4 1.8l-3 .7l-3-.1l-3-.5l-3-.6l-2.7-1.3l-.3-.2l-1.9-2.8l-1.1-2l-.6-1l-1.7-3l-.2-3l2.5-2.1zM592.3 451l2.7-1.4l3-.9l3-.3l3-.1l3-.1l3-.1l3 .1l3 .4l3 .9l3 1.1l1.2 .4l1.8 .6l3 .8l3 .5l3 .2l3-.3l3-1.1l1.1-.7l1.9-.7l3-.7l3-.1l3 .5l2.5 1l.5 2.1l.3 .9l-.3 .2l-2.5 2.8l-.5 .3l-3 1.6l-2.4 1.1l-.6 .3l-3 1.8l-.7 .9l-.6 3l.3 3l1 1.5l1.2 1.5l1.8 2.9l.1 .1l.8 3l-.5 3l-.4 2.7l0 .3l0 3l0 .1l.7 2.9l2.3 2.4l1.2 .6l1.8 1l3 1.9l.1 .1l2.9 2l1.1 1l1.9 1.1l3 1.5l1.6 .4l1.4 .2l3 .2l3-.1l3 .3l3 1.3l1.2 1.1l1.8 1.1l3 .4l3-.8l1.4-.7l1.6-1.1l2.6-1.9l.4-.4l2.7-2.6l.3-.3l2.3-2.7l.7-.5l3-.9l3 .4l2.2 1l.8 .4l3 1.3l3 .1l3-.7l3-.7l3-.3l.6-.1l2.4-.5l3-1.4l1.5-1.1l1.5-2.2l.6-.8l2.1-3l.3-.3l3-2.1l.9-.6l2.1-1.2l2.2-1.8l.8-.6l3-2l.9-.4l2.1-.8l3-.5l3 .5l1.6 .8l1.4 1l2.6 2l.4 .4l2.9-.4l.1 0l2-3l1-1.4l.8-1.6l1.1-3l1.1-1.3l1.9-1.7l1.1-.6l3-.8l2.9 1.4l.1 .1l1 2.9l1.8 3l.2 .3l2.4 2.7l.6 .8l3 1.8l3-.8l1.7-1.8l1.3-1.3l2.8-1.7l.2-.1l3-.1l3 .2l3-.7l2.7-2.3l.3-.3l1.8-2.7l1.2-1.5l1.1-1.5l1.9-2.2l.8-.8l2.2-1.7l3-.4l0 2.1l0 3l0 3l0 3l0 3l0 3l0 3l0 3l0 3l0 3l0 .6l-1.4 2.4l-1.6 3l0 .2l.6 2.8l2.4 1.1l0 1.9l0 3l0 3l0 3l0 3l0 3l0 3l0 3l0 3l0 3l0 3l0 3l0 3l0 3l0 3l0 3l0 3l0 3l0 3l0 3l0 3l0 3l0 3l0 3l0 3l0 3l0 3l0 3l0 3l0 3l0 3l0 3l0 3l0 3l0 3l0 3l0 3l0 3l0 3l0 3l0 3l0 3l0 3l0 3l0 3l0 3l0 3l0 3l0 3l0 3l0 3l0 3l0 3l0 3l0 3l0 3l0 3l0 3l0 3l0 3l0 3l0 3l0 3l0 3l0 3l0 3l0 3l0 3l0 3l0 3l0 3l0 3l0 3l0 3l0 3l0 3l0 3l0 3l0 3l0 3l0 3l0 3l0 3l0 3l0 3l0 3l0 3l0 3l0 3l0 3l0 3l0 3l0 3l0 3l0 3l0 3l0 3l0 3l0 3l0 3l0 3l0 3l0 3l-3 0l-3 0l-3 0l-3 0l-3 0l-3 0l-3 0l-3 0l-3 0l-3 0l-3 0l-3 0l-3 0l-3 0l-3 0l-3 0l-3 0l-3 0l-3 0l-3 0l-3 0l-3 0l-3 0l-3 0l-3 0l-3 0l-3 0l-3 0l-3 0l-3 0l-3 0l-3 0l-3 0l-3 0l-3 0l-3 0l-3 0l-3 0l-3 0l-3 0l-3 0l-3 0l-3 0l-3 0l-3 0l-3 0l-3 0l-3 0l-3 0l-3 0l-3 0l-3 0l-3 0l-3 0l-3 0l-3 0l-3 0l-3 0l-3 0l-3 0l-3 0l-3 0l-3 0l-3 0l-3 0l-3 0l-3 0l-3 0l-3 0l-3 0l-3 0l-3 0l-3 0l-3 0l-3 0l-3 0l-3 0l-3 0l-3 0l-3 0l-3 0l-3 0l-3 0l-3 0l-3 0l-3 0l-3 0l-3 0l-3 0l-3 0l-3 0l-3 0l-3 0l-3 0l-3 0l-3 0l-3 0l-3 0l-3 0l-3 0l-3 0l-3 0l-3 0l-3 0l-3 0l-3 0l-3 0l-3 0l-3 0l-3 0l-3 0l-3 0l-3 0l-3 0l-3 0l-3 0l-3 0l-3 0l-3 0l-3 0l-3 0l-3 0l-3 0l-3 0l-3 0l-3 0l-3 0l-3 0l-3 0l-3 0l-3 0l-3 0l-3 0l-3 0l-3 0l-3 0l-3 0l-3 0l-3 0l-3 0l-3 0l-3 0l-3 0l-3 0l-3 0l-3 0l-3 0l-3 0l-3 0l-3 0l-3 0l-3 0l-3 0l-3 0l-3 0l-3 0l-3 0l-3 0l-3 0l-3 0l-3 0l-3 0l-3 0l-3 0l-3 0l-3 0l-3 0l-3 0l-3 0l-3 0l-3 0l-3 0l-3 0l-3 0l-3 0l-3 0l-3 0l-3 0l-3 0l-3 0l-3 0l-3 0l-3 0l-3 0l-3 0l-3 0l-3 0l-3 0l-3 0l-3 0l-3 0l-3 0l-3 0l-3 0l-3 0l-3 0l-3 0l-3 0l-3 0l-3 0l-3 0l-3 0l-3 0l-3 0l-3 0l-3 0l-3 0l-3 0l-3 0l-3 0l-3 0l-3 0l-3 0l-3 0l-3 0l-3 0l-3 0l-3 0l-3 0l-3 0l-3 0l-3 0l-3 0l-3 0l-3 0l-3 0l-3 0l-3 0l-3 0l-3 0l-3 0l-3 0l-3 0l-3 0l-3 0l-3 0l-3 0l-3 0l-3 0l-3 0l-3 0l-3 0l-3 0l-3 0l-3 0l-3 0l-3 0l-3 0l-3 0l0-3l0-3l0-3l0-3l0-3l0-3l0-3l0-3l0-3l0-3l0-3l0-3l0-3l0-3l0-3l0-3l0-3l0-3l0-3l0-3l0-3l0-3l0-3l0-3l0-2.7l.4-.3l2.6-1.1l3-1.3l1.6-.6l1.4-.4l3-.9l3-1.1l1.2-.6l1.8-.8l3-1.1l2.3-1.1l.7-.4l3-1.9l1.1-.7l1.9-1l2.6-2l.4-.4l2.1-2.6l.9-1.2l1.5-1.8l1.5-1.2l2.1-1.8l.9-.8l2.6-2.2l.4-.3l3-1.3l3-1.2l.3-.2l2.7-1.7l1.1-1.3l1.9-2.2l.8-.8l2.2-2.1l1.1-.9l1.9-1.9l1.2-1.1l1.8-1.5l2.2-1.5l.8-.5l3-2.4l.1-.1l2.2-3l.7-1.7l.6-1.3l.5-3l-.2-3l.1-3l.3-3l-.2-3l-.5-3l2.4-2.2l2.6-.8l.4-.1l3-1.3l2.1-1.6l.9-.8l2.1-2.2l.9-1.5l.8-1.5l1.4-3l.8-1.3l1.2-1.7l1.8-1.7l1.4-1.3l1.6-1.7l1.3-1.3l1.7-1.5l1.9-1.5l1.1-1.1l1.6-1.9l1.4-2.3l.3-.7l.8-3l1.9-2.7l.6-.3l2.4-1.1l3-1.1l1.3-.8l1.7-1.2l1.9-1.8l1.1-1.3l1.2-1.7l1.8-2.3l.4-.7l2.6-2.6l.8-.4l2.2-1.4l3-1.2l1.2-.4l1.8-.7l3-1.7l.7-.6l2.3-2.8l.1-.2l1.9-3l1-1.4l1.4-1.6l1.6-1.8l1.5-1.2l1.5-1.5l1.5-1.5l1.5-1.5l2-1.5l1-.5l3-.7l3-1.3l.5-.5l2.1-3l.4-.9l.8-2.1l1.3-3l.9-1.5l1.2-1.5l1.8-2.4l.5-.6l1.5-3l.8-3l.2-.5l1.4-2.5l1.6-1.6l1.7-1.4l1.3-1l1.7-2l1.3-2.4l.2-.6l1.2-3l1.3-3l.3-.4l2.8-2.6l.2-.2l3-.8l3-.6l2.9-1.4l.1-.1l3-1.8l1.6-1.1l1.4-.7l3-1.3l2.2-1l.8-.4l3-1.7l1.1-.9l1.9-1.8l1.1-1.2l1.9-2.9l.1-.1l2-3l.9-1.2l3-1.4l1.7-.4l1.3-.2l3-.5l3-.7l3-.9l1.5-.7l1.5-.6l3-1.3l3-1l.5-.1l2.5-.4l3-.4l3-.8l2.4-1.4l.6-.4l2.2-2.6l.8-1.5l.7-1.5l1.3-3l1-2.3l.6-.7l2.4-1.6l3 .7l3 .6l2.4 .3l.6 .1l3 .4l3-.1l1.9-.4l1.1-.2l3-1l3-1l3-.6l3 0l3 .3l3 .3l3-.3l1.8-.5l1.2-.3l3-.8l3-.5l3 .3l3 1.1l.3 .2l2.7 2l1.3 1l1.7 1.5l2.8 1.5l.2 .1l3 1l3 .2l2.4-1.3l.6-.2l3-1l3-.8l2.8-1l.2 0l3-1.1l3-1.4l1-.5l2-.9l3-1.1l3-.9l.7-.1l2.3-.4l3-.5l3-.7l3-.5l3-.1l3 .1l3 .2l3-.1l3-.4l3-.5l1.8-.1l1.2-.1l1.4 .1l1.6 .1l3 .5l3 .9l3 1.3l.4 .2l2.6 1.4l2.4 1.6l.6 .3l3 1.4l3 .9l3 .1l3-.3l3-.2l3 .3l2.1 .5l.9 .3l3 1.1l3 1l3 .2l3-.2l3-.1l3-.2l3-.4l3-.5l3-.5l3 0l3 .4l3 .3l3-.2l3-.6l1.3-.6l1.7-.8l3-1.8l.6-.4l2.4-1.9l1.2-1.1l1.8-2.1l.7-.9l2-3l.3-.5l1.4-2.5l1.4-3l.2-.4l1.1-2.6l1.2-3l.7-1.3l.9-1.7l2-3l.1-.1l2.5-2.9l.5-.6l2.4-2.4l.6-.7l2.5-2.3l.5-.5l3-2.3zM181 678.6l-.2 .4l.2 .3l2.9 2.7l.1 0l1-3l-1-1.4zM421 503.1l-.9 1.9l.9 1.8l1.1 1.2l1.9 .7l.8-.7l-.1-3l-.7-1.1z" fill="#fec650" stroke="#000" stroke-width="0.85" stroke-opacity="0.9" fill-rule="evenodd"/>
<path d="M615.4 454l.6 0l.2 0l2.8 .3l3 .9l2.4 1.8l.6 1.1l1.5 1.9l1 3l.4 3l-.1 3l-1 3l-1.8 2.7l-.3 .3l-2.7 2.9l-.1 .1l-2.9 2.2l-3 .5l-.3 .3l-.3 3l.6 .5l2.2-.5l.8-1l3-.4l3 .8l1.1 .6l1.9 .6l3 1.9l.4 .5l2.6 2.9l0 .1l1.7 3l1.1 3l.2 .8l.4 2.2l.2 3l.4 3l1.3 3l.7 .9l3 1.3l3-.1l3-.5l3 .3l2.5 1.1l.5 .4l3 1.6l3 .6l3 0l3-.3l3-.5l3-.8l3 .9l.9 1.1l2.1 1.5l3 1.2l3 .2l3-.3l3-.6l3-.3l.6 1.3l.7 3l1.4 3l.3 .5l2.5 2.5l.5 .6l3 1.2l2.2-1.8l.8-.7l1.3-2.3l1.7-1.6l1.8-1.4l1.2-.5l1.9 .5l1.1 .7l1.9 2.3l-.1 3l-1.7 3l-.1 .2l-2.3 2.8l1.3 3l1 .7l2.2 2.3l.8 .7l2.4 2.3l.6 .8l1.3 2.2l.4 3l.1 3l1.2 3l3 2.5l.7 .5l2.3 .8l3 .7l3 .1l3-.6l3-.9l.5-.1l2.5-.7l3-.5l3-1l1.2-.8l1.8-1.9l.9-1.1l2.1-2.8l.3-.2l2.7-2l3-.8l1.2-.2l1.8-.4l3-.6l3-.2l3 .3l3 .7l.5 .2l1.7 3l-.9 3l-.9 3l-.3 3l.5 3l1 3l1 3l.4 1.3l.7 1.7l1 3l1.3 2l1.4 1l1.6 .6l3 .2l2.2-.8l.8-.5l2.1-2.5l.9-1l1.8-2l1.2-.7l3-1.9l.5-.4l2.5-1.6l1.8-1.4l1.2-1l2.1-2l.9-1.1l1.8-1.9l1.2-1.6l1.4-1.4l1.6-2.9l.1-.1l.5-3l-.3-3l.1-3l2-3l.6-.5l3-1.4l0 1.9l0 3l0 3l0 3l0 3l0 3l0 3l0 3l0 3l0 3l0 3l0 3l0 3l0 3l0 3l0 3l0 3l0 3l0 3l0 3l0 3l0 3l0 3l0 3l0 3l0 3l0 3l0 3l0 3l0 3l0 3l0 3l0 3l0 3l0 3l0 3l0 3l0 3l0 3l0 3l0 3l0 3l0 3l0 3l0 3l0 3l0 3l0 3l0 3l0 3l0 3l0 3l0 3l0 3l0 3l0 3l0 3l0 3l0 3l0 3l0 3l0 3l0 3l0 3l0 3l0 3l0 3l0 3l0 3l0 3l0 3l0 3l0 3l0 3l0 3l0 3l0 3l0 3l0 3l0 3l0 3l0 3l0 3l0 3l0 3l0 3l0 3l0 3l0 3l0 3l0 3l-3 0l-3 0l-3 0l-3 0l-3 0l-3 0l-3 0l-3 0l-3 0l-3 0l-3 0l-3 0l-3 0l-3 0l-3 0l-3 0l-3 0l-3 0l-3 0l-3 0l-3 0l-3 0l-3 0l-3 0l-3 0l-3 0l-3 0l-3 0l-3 0l-3 0l-3 0l-3 0l-3 0l-3 0l-3 0l-3 0l-3 0l-3 0l-3 0l-3 0l-3 0l-3 0l-3 0l-3 0l-3 0l-3 0l-3 0l-3 0l-3 0l-3 0l-3 0l-3 0l-3 0l-3 0l-3 0l-3 0l-3 0l-3 0l-3 0l-3 0l-3 0l-3 0l-3 0l-3 0l-3 0l-3 0l-3 0l-3 0l-3 0l-3 0l-3 0l-3 0l-3 0l-3 0l-3 0l-3 0l-3 0l-3 0l-3 0l-3 0l-3 0l-3 0l-3 0l-3 0l-3 0l-3 0l-3 0l-3 0l-3 0l-3 0l-3 0l-3 0l-3 0l-3 0l-3 0l-3 0l-3 0l-3 0l-3 0l-3 0l-3 0l-3 0l-3 0l-3 0l-3 0l-3 0l-3 0l-3 0l-3 0l-3 0l-3 0l-3 0l-3 0l-3 0l-3 0l-3 0l-3 0l-3 0l-3 0l-3 0l-3 0l-3 0l-3 0l-3 0l-3 0l-3 0l-3 0l-3 0l-3 0l-3 0l-3 0l-3 0l-3 0l-3 0l-3 0l-3 0l-3 0l-3 0l-3 0l-3 0l-3 0l-3 0l-3 0l-3 0l-3 0l-3 0l-3 0l-3 0l-3 0l-3 0l-3 0l-3 0l-3 0l-3 0l-3 0l-3 0l-3 0l-3 0l-3 0l-3 0l-3 0l-3 0l-3 0l-3 0l-3 0l-3 0l-3 0l-3 0l-3 0l-3 0l-3 0l-3 0l-3 0l-3 0l-3 0l-3 0l-3 0l-3 0l-3 0l-3 0l-3 0l-3 0l-3 0l-3 0l-3 0l-3 0l-3 0l-3 0l-3 0l-3 0l-3 0l-3 0l-3 0l-3 0l-3 0l-3 0l-3 0l-3 0l-3 0l-3 0l-3 0l-3 0l-3 0l-3 0l-3 0l-3 0l-3 0l-3 0l-3 0l-3 0l-3 0l-3 0l-3 0l-3 0l-3 0l-3 0l-3 0l-3 0l-3 0l-3 0l-3 0l-3 0l-3 0l-3 0l-3 0l-3 0l-3 0l-3 0l-3 0l-3 0l-3 0l-3 0l-3 0l-3 0l-3 0l-3 0l-3 0l-3 0l-3 0l-3 0l-3 0l-3 0l-3 0l-3 0l-3 0l-3 0l-3 0l-3 0l-3 0l0-3l0-3l0-3l0-3l0-3l0-3l0-3l0-3l0-3l0-3l0-3l0-3l0-3l0-3l0-3l0-3l0-3l0-3l0-3l0-3l0-.1l1.7-2.9l1.3-2.6l.2-.4l1.7-3l1.1-1.2l1.5-1.8l1.5-1.1l3-1.8l.6-.1l2.4-.4l3-.6l3-.7l3-.6l3-.7l.1 0l2.9-.7l3-.9l3-.9l1.2-.5l1.8-1l2.6-2l.4-.6l2.1-2.4l.9-1.7l1.2-1.3l1.8-2.1l1.2-.9l1.8-.9l3-1.7l.3-.4l2.7-2.1l.5-.9l2.3-3l.2-.3l1.8-2.7l1.2-1.6l1.6-1.4l1.4-.9l3-2l.2-.1l2.8-1.6l2.6-1.4l.4-.2l3-1.5l3-1.1l.5-.2l2.5-1.1l3-.9l3-.3l3 .5l3 1.1l1.6 .7l1.4 .6l3 .9l3 .2l3-.8l1.5-.9l1.5-.9l2.1-2.1l.9-1l1.2-2l1.1-3l.4-3l-.1-3l-.2-3l-.4-3l-.9-3l-1.1-1.8l-1.1-1.2l-1.9-1.7l-1.8-1.3l-1.2-1l-3-2l-3-1.5l-2.4-1.5l-.6-.6l-1.1-2.4l-.2-3l.9-3l.4-.4l2.9-2.6l.1-.1l3-2.1l1.5-.8l1.5-.7l3-1.9l.4-.4l2.2-3l.4-.8l1.2-2.2l1.5-3l.3-.2l3-1.5l2.7-1.3l.3-.1l3-1.4l3-1.2l1.2-.3l1.8-.6l3-.7l3-.7l2.8-1l.2-.1l3-1.7l2.1-1.2l.9-.6l3-1.6l1.8-.8l1.2-.7l2.2-2.3l.8-.9l1.1-2.1l1.9-3l2.4-3l.6-.6l3-2.2l.4-.2l2.6-1l3-.9l3-.9l1-.2l2-.5l3-.1l3 .5l.2 .1l2.8 .6l2.8-.6l.2-.1l3-1.9l1.3-1l1.7-1.5l2-1.5l1-.9l2.4-2.1l.6-.6l2.8-2.4l.2-.2l3-2.7l.1-.1l1.8-3l.6-3l-1.1-3l-1.4-2.8l-.1-.2l-.8-3l-.2-3l.6-3l.5-.5l3-1.5l2.3-1l.7-.3l3-2.2l.4-.5l1.5-3l.7-3l.4-1.7l.3-1.3l1.2-3l1.5-1.8l1.3-1.2l1.7-1.2l3-1.5l.7-.3l2.3-1l3-1.2l1.8-.8l1.2-.9l2.2-2.1l.8-1.1l1.2-1.9l1.8-2.1l1-.9l2-1.3l3-1.1l3 .2l3 .9l3 .4l3-.6l3-1l1.7-.5l1.3-.3l3-.2l3 0l3 0l3-.4l3-.4l3-.3l3 .1l3 .6l2.1 .9l.9 .5l3 2.2l.5 .3l2.4 3l.1 .1l2.9 2.9l.1 .1l3 .5l2.4-.6l.6-.4l3-.4l3 .7l.3 .1l2.7 .7l3 1l3 .9l3 .2l3-.5l3-1.1l3-1.2l.1 0l2.9-.9l3-.3l3 0l3-.7l1.7-1.1l1.3-1.1l1.9-1.9l1.1-1.1l1.9-1.9l1.1-1.1l1.9-1.9l1.1-1.1l2-1.9l1-1.2l1.7-1.8l1.3-1.7l1-1.3l2-2.6l.3-.4l2.7-2.7l.3-.3l2.7-2.1l1.2-.9l1.8-1.1l3-1.5l1.1-.4l1.9-.6l3-.3l3 .1l3 .8l3 1.6l2.2 1.4l.8 .6l3 1.5l3 .7l3 .1l3 0l3 0l3 0l3-.2l3-.3l3-.1l3 .1l2.2 .6l.8 .2l3 1.7l1.7 1.1l1.3 1l3 1.5l2.6 .5l.4 .1l.6-.1l2.4-.2l3-1.1l3-1.5l.3-.2l2.7-1.2l3-.9l3-.7l1.2-.2l1.8-.3l3-.3l3 0l3 0l3-.1l3-.6l3-1.2l.9-.5l2.1-1.1l3-1.6l.5-.3l2.5-1.6l1.8-1.4l1.2-1.2l1.5-1.8l1.5-1.7l1.3-1.3l1.7-2.2l.5-.8l1.6-3l.9-2.3l.3-.7l1.2-3l1.3-3l.2-.4l1.5-2.6l1.5-2.1l.7-.9l2.3-2.4l.7-.6l2.3-1.8l2-1.2l1-.5l3-1.2l3-1l1.1-.3l1.9-.5l3-.9l3-.8l3-.6zM130 719.4l-2.3 1.6l-.7 1.1l-1 1.9l.3 3l.7 .8l3 .9l3-1.2l.4-.5l1.8-3l-1.5-3l-.7-1zM770.8 508l1.2-.8l3-1.3l3 0l3 1.1l1.4 1l1.6 2.6l.2 .4l-.2 2.3l-.1 .7l-1.8 3l-1.1 1.3l-2.1 1.7l-.9 .9l-3 1.8l-1.2 .3l-1.8 .6l-3-.4l-.5-.2l-2-3l-.3-3l.5-3l1.4-3l.9-1zM381.3 520l.7-.3l.2 .3l-.2 2.2zM729.4 520l.6-1l3-1.2l3 .3l3 .4l3 .5l3 .8l.6 .2l2.4 1.4l3 1.2l3-.3l3-.3l3 .7l.8 .3l1.8 3l-.3 3l-2.2 3l-.1 .1l-.3-.1l-2.7-1.2l-1.5-1.8l-1.5-1.9l-2.1-1.1l-.9-1.3l-.5 1.3l-2.5 1.5l-.9 1.5l-2.1 2.6l-.4 .4l-2.6 2.2l-3-.7l-1.4-1.5l-1.6-1.4l-1.3-1.6l-1.7-2.1l-.8-.9l-2.2-3l0-.2z" fill="#feb440" stroke="#000" stroke-width="0.85" stroke-opacity="0.9" fill-rule="evenodd"/>
<path d="M612.1 463l.9-.4l3-.5l.8 .9l-.8 2.6l-.1 .4l-2 3l-.9 1.2l-1.1 1.8l-1.9 2.6l-.2 .4l-2.4 3l-.4 .6l-1.8 2.4l-1.2 3l-.6 3l-.2 3l-.2 3l.6 3l.4 .8l1.3 2.2l1.7 2.1l.9 .9l2.1 2.4l.6 .6l1.7 3l.7 2.4l.2 .6l.4 3l.4 3l.3 3l.5 3l.8 3l.4 .8l1.4 2.2l1.6 1.9l1.1 1.1l1.9 3l0 .2l.6 2.8l.3 3l.3 3l.6 3l.9 3l.3 .7l1.6 2.3l1.4 1.3l3 1.7l3 1.9l1.1 1.1l1.1 3l.5 3l.3 1.2l1.6 1.8l1.4 .5l.6-.5l2.4-1.3l1.9-1.7l1.1-.9l2.3-2.1l.7-.7l3-1.8l1.1-.5l1.9-.8l3-1.4l1.5-.8l1.5-.9l3-2l.2-.1l2.8-2.1l.9-.9l2.1-2.1l.7-.9l2.3-3l2.5-3l.5-1l3-2l3 2.1l.6 .9l2.4 2.4l.4 .6l1.7 3l.9 1.3l.9 1.7l2.1 2.8l.1 .2l1.4 3l.7 3l.1 3l.3 3l.4 1l.6 2l1.6 3l.8 1.2l1.4 1.8l1.6 2l1.1 1l1.9 1.8l3 .7l3-1.3l2.6-1.2l.4-.2l3-.1l.6 .3l2.4 1.2l2.1 1.8l.9 .8l3 1.5l3 .3l3-.7l3-.7l3-.2l3 .4l3 .6l2.9 1l.1 0l3 2.2l.7 .8l2.3 1.9l1.4 1.1l1.6 .9l3 1.4l1.4 .7l1.6 .8l3 1.8l.8 .4l2.2 1.4l2.8 1.6l.2 .1l3 .8l3 0l3-.4l3-.3l2.3-.2l.7-.1l.5 .1l2.5 .5l3 2.1l.4 .4l2.6 1.9l2.1 1.1l.9 .3l3 .3l3-.5l.3-.1l2.7-1.1l3-1.7l.3-.2l2.7-2.5l.7-.5l2.3-2.3l.7-.7l1.9-3l.4-.5l2.5-2.5l.5-.4l3-1.5l0 1.9l0 3l0 3l0 3l0 3l0 3l0 3l0 3l0 3l0 3l0 3l0 3l0 3l0 3l0 3l0 3l0 3l0 3l0 3l0 3l0 3l0 3l0 3l0 3l0 3l0 3l0 3l0 3l0 3l0 3l0 3l0 3l0 3l0 3l0 3l0 3l0 3l0 3l0 3l0 3l0 3l0 3l0 3l0 3l0 3l0 3l0 3l0 3l0 3l0 3l0 3l0 3l0 3l0 3l0 3l0 3l0 3l0 3l0 3l0 3l0 3l0 3l0 3l0 3l0 3l0 3l0 3l0 3l0 3l0 3l0 3l0 3l0 3l0 3l-3 0l-3 0l-3 0l-3 0l-3 0l-3 0l-3 0l-3 0l-3 0l-3 0l-3 0l-3 0l-3 0l-3 0l-3 0l-3 0l-3 0l-3 0l-3 0l-3 0l-3 0l-3 0l-3 0l-3 0l-3 0l-3 0l-3 0l-3 0l-3 0l-3 0l-3 0l-3 0l-3 0l-3 0l-3 0l-3 0l-3 0l-3 0l-3 0l-3 0l-3 0l-3 0l-3 0l-3 0l-3 0l-3 0l-3 0l-3 0l-3 0l-3 0l-3 0l-3 0l-3 0l-3 0l-3 0l-3 0l-3 0l-3 0l-3 0l-3 0l-3 0l-3 0l-3 0l-3 0l-3 0l-3 0l-3 0l-3 0l-3 0l-3 0l-3 0l-3 0l-3 0l-3 0l-3 0l-3 0l-3 0l-3 0l-3 0l-3 0l-3 0l-3 0l-3 0l-3 0l-3 0l-3 0l-3 0l-3 0l-3 0l-3 0l-3 0l-3 0l-3 0l-3 0l-3 0l-3 0l-3 0l-3 0l-3 0l-3 0l-3 0l-3 0l-3 0l-3 0l-3 0l-3 0l-3 0l-3 0l-3 0l-3 0l-3 0l-3 0l-3 0l-3 0l-3 0l-3 0l-3 0l-3 0l-3 0l-3 0l-3 0l-3 0l-3 0l-3 0l-3 0l-3 0l-3 0l-3 0l-3 0l-3 0l-3 0l-3 0l-3 0l-3 0l-3 0l-3 0l-3 0l-3 0l-3 0l-3 0l-3 0l-3 0l-3 0l-3 0l-3 0l-3 0l-3 0l-3 0l-3 0l-3 0l-3 0l-3 0l-3 0l-3 0l-3 0l-3 0l-3 0l-3 0l-3 0l-3 0l-3 0l-3 0l-3 0l-3 0l-3 0l-3 0l-3 0l-3 0l-3 0l-3 0l-3 0l-3 0l-3 0l-3 0l-3 0l-3 0l-3 0l-3 0l-3 0l-3 0l-3 0l-3 0l-3 0l-3 0l-3 0l-3 0l-3 0l-3 0l-3 0l-3 0l-3 0l-3 0l-3 0l-3 0l-3 0l-3 0l-3 0l-3 0l-3 0l-3 0l-3 0l-3 0l-3 0l-3 0l-3 0l-3 0l-3 0l-3 0l-3 0l-3 0l-3 0l-3 0l-3 0l-3 0l-3 0l-3 0l-3 0l-3 0l-3 0l-3 0l-3 0l-3 0l-3 0l-3 0l-3 0l-3 0l-3 0l-3 0l-3 0l-3 0l-3 0l-3 0l-3 0l-3 0l-3 0l-3 0l-3 0l-3 0l-3 0l-3 0l-3 0l-3 0l-3 0l-3 0l-3 0l-3 0l-3 0l-3 0l-3 0l0-3l0-3l0-3l0-3l0-3l0-3l0-3l0-3l0-3l0-3l0-3l0-3l0-3l0-1.9l.8-1.1l2.2-2.8l.2-.2l2.4-3l.4-.4l2.1-2.6l.9-1.2l1.3-1.8l1.7-2.4l.4-.6l2.1-3l.5-.9l1.4-2.1l1.6-2.4l.5-.6l2.5-1.5l3-1l3-.3l3 .3l3 1.1l2.7 1.4l.3 .2l3 1.8l1.9 1l1.1 .6l3 1.4l3 1l3 .4l1.6-.4l1.4-.4l3-1.8l1.1-.8l1.9-1.1l3-1.8l.3-.1l2.7-1.7l2.2-1.3l.8-.8l1.9-2.2l1.1-2.3l.3-.7l.9-3l1-3l.8-2.3l.2-.7l.6-3l.5-3l0-3l-.3-3l.2-3l1.8-2.3l1.4-.7l1.6-.4l3-.1l3 .3l3 .2l3-.1l3-.3l3-.3l3-.6l3-.9l1.9-.8l1.1-.5l3-1.8l.8-.7l2.2-1.8l1.4-1.2l1.6-1.6l1.5-1.4l1.5-1.6l1.4-1.4l1.6-2.4l.4-.6l1-3l.3-3l0-3l.2-3l.6-3l.5-1.6l.5-1.4l.8-3l.2-3l-.4-3l-.5-3l0-3l1.1-3l1.3-2l.7-1l1.8-3l.5-1.4l.8-1.6l1.3-3l.9-1.6l.8-1.4l2.2-2.3l.7-.7l2.3-1.3l3-1.1l3 .4l3 1.8l.2 .2l2.8 1.9l2 1.1l1 .4l3 .6l3-.2l2.9-.8l.1 0l3-1.2l3-1.5l.8-.3l2.2-.9l3-.6l3 .1l3 .6l3 .5l3-.1l3-1l2-1.6l1-2.5l.1-.5l.3-3l.3-3l.5-3l.8-3l1-2.8l.1-.2l1.2-3l1.3-3l.4-.6l1.6-2.4l1.4-1.5l1.5-1.5l1.5-1.2l3-1.7l.2-.1l2.8-.9l3-.4l3-.2l3-1.1l.3-.4l1.1-3l0-3l-.2-3l.4-3l1.2-3l.2-.3l2.6-2.7l.4-.3l3-1.7l3-.7l2.4-.3l.6-.1l3-.6l3-.9l3-1.2l.7-.2l2.3-.5l3-.6l3-.6l3-.8l1.4-.5l1.6-.5l3-1.7l1.1-.8l1.9-1l3-1.3l3-.5l3-.1l3 .3l3-.1l.8-.3l2.2-1.2l2.1-1.8l.9-.6l3-2l.8-.4l2.2-1.4l2.5-1.6l.5-.4l3-1.2l3 0l3 .2l3 .2l3 .3l2.9 .9l.1 0l3 1.4l3 1.2l3-.4l3-.9l2.9-1.3l.1-.1l3-2.7l.1-.2l2.2-3l.7-.9l2-2.1l1-.8l3-1.9l.8-.3l2.2-1l3-.8l3-.4l3-.6l.6-.2l2.4-1.2l1.7-1.8l1.3-1.7l.8-1.3l1.8-3l.4-.5l1.9-2.5l1.1-1l2.3-2l.7-.5l2.8-2.5l.2-.2l1.9-2.8l1.1-2l.5-1l1.7-3l.8-.9l2.7-2.1l.3-.2l3-.6l3 .5l.8 .3l2.2 .9l3 1.9l.3 .2l2.7 2.1l1.3 .9l1.7 1.8l1.6 1.2l1.4 1.7l2.5 1.3l.5 .3l1.5-.3l1.5-.3l3-1.2l3-1l1.1-.5l1.9-.8l1.9-2.2l1.1-.8l1.9-2.2l1.1-.6l3-1.3l3 .3l2 1.6l1 1.7l.8 1.3l1 3l-.1 3l-1.7 2.9l-.1 .1l-2.9 .8l-3-.2l-3-.4l-3 .6l-2 2.2l-1 1.9l-.4 1.1l-1 3l-1.1 3l-.5 .9l-1.4 2.1l-1.6 1.7l-1.4 1.3l-1.6 1.3l-2.4 1.7l-.6 .4l-3 1.3l-3 .4l-3-.9l-2.2-1.2l-.8-.4l-3-1.3l-3-.4l-3 .6l-3 1.2l-.6 .3l-2.4 1.7l-1.8 1.3l-1.2 2l-.7 1l.4 3l.3 .7l.7 2.3l1 3l1.3 2.7l.1 .3l2.3 3l.6 .5l3 2.3l.3 .2l2.7 2.1l1.1 .9l1.9 1.8l1.1 1.2l1.9 2.3l.6 .7l2.4 2.5l.7 .5l2.3 1.2l3 .6l3 .2l3 0l3-.1l3 0l3 0l3 .2l3 .7l.6 .2l2.4 .7l3 .8l3 .4l3-.7l2.3-1.2l.7-.4l3-2.1l.8-.5l2.2-1.7l1.9-1.3l1.1-.9l3-1.5l3-.5l3 .9l2 2l1 2.1l.5 .9l.9 3l-1 3l-.4 .2l-1.3 2.8l-1.7 2.5l-.2 .5l-.6 3l.8 2.6l.4 .4l2.6 1.3l3-1.2l.2-.1l2.4-3l.4-1.3l.7-1.7l.3-3l-.1-3l.1-3l.5-3l1-3l.5-.8l1.3-2.2l1.7-1.2l3-.8l3 0l3 .3l3 .2l3-.2l3-.5l3-.5l1.8-.3l1.2-1.4l.3-1.6l-.1-3l0-3l.1-3l.5-3l2.1-3l.1-.1l3-1.2l3-1l1.3-.7l1.7-1.2l2-1.8l1-1.2l.8-1.8l-.8-1.4l-3-1.4l-2.4-.2l-.6 0l-3-.2l-3-1.9l-.4-.9l-.8-3l-.4-3l-.7-3l-.7-1.2l-1.6-1.8l-1.4-1.6l-1.8-1.4l-1.2-.9l-3-2.1l-3-2.6l-3 .6l-1.7 2l-1.3 .6l-3 1.1l-3 .2l-3-1l-1.4-.9l-1.6-1.6l-1.3-1.4l-1.1-3l1.6-3l.8-.2l3-.9l3-.2l3 .7l1.6 .6l1.4 1.1l2.8 1.9l.2 .9l1.4-.9l1.6-.4l.8-2.6l1.7-3l.5-.5l2.4-2.5l.6-.4l3-1.6l2.2-1l.8-.4l3-1.3l2.3-1.3l.7-.5l3-2.1l.5-.4l2.5-2.9l.1-.1l1.7-3l1.2-3l0-.1l1.2-2.9l1.3-3l.5-1.1l1.1-1.9l1.9-2.6l.3-.4l2.6-3l.1-.1l2.9-2.9l.1-.1l3-2l2.1-.9l.9-.3l3-.8l3-1zM621.4 496l.6-.7l1.3 .7l-1.3 .9z" fill="#fda830" stroke="#000" stroke-width="0.85" stroke-opacity="0.9" fill-rule="evenodd"/>
<path d="M421.5 553l2.5-2.5l3 .9l1.5 1.6l.5 3l-1 3l-1 1.2l-3 .8l-2-2l-1-2.2l-.2-.8l.2-.9zM663.1 571l.9-.6l3 .1l1 .5l2 1.7l1.1 1.3l1.5 3l.4 1.3l1 1.7l1 3l-2 1.3l-3 .9l-3 .1l-3-.5l-3-1.8l-1.1-3l.3-3l.7-3l.1-.2zM372.2 574l.8-.5l3-.7l3 .4l2.2 .8l.8 .3l3 1.5l2.5 1.2l.5 .2l3 1l3 .7l3 .6l1.6 .5l1.4 .7l2.1 2.3l.8 3l.1 3l0 .2l.1 2.8l.8 3l1.9 3l.2 .2l3 1.8l3-.2l2.9-1.8l.1-.1l2.4-2.9l.6-.8l2.1-2.2l.9-.9l3-1.3l3-.1l3 1l2 1.3l1 .7l2.1 2.3l.9 1.5l.8 1.5l1.3 3l.9 1.6l.9 1.4l2.1 2.4l.6 .6l2.2 3l.2 .4l.7 2.6l-.5 3l-.2 .6l-1.5 2.4l-.8 3l1.4 3l.9 1l1.4 2l1.6 2l1.6 1l1.4 .8l3-.5l.5-.3l2.5-1.5l1.5-1.5l1.5-1.3l1.5-1.7l1.5-1.5l1.2-1.5l1.7-3l.1-.3l1.4-2.7l1.6-2.5l.4-.5l2.3-3l.3-.3l2.5-2.7l.5-.5l3-1.7l3-.2l3 1.4l1.5 1l1.5 .9l3 1.4l3 .6l.9 .1l2.1 .2l3 .7l3 1.9l.2 .2l2.5 3l.3 .2l2.7 2.8l.3 .2l3 2l2.6 .8l.4 .1l1.1-.1l1.9-.2l3-1.2l2.9-1.6l.1-.1l3-.7l3 .5l1.3 .3l1.7 .5l3 .3l2.3-.8l.7-.2l3-2.2l.7-.6l2.2-3l.1-.2l2.7-2.8l.3-.3l3-1.1l3 .7l.7 .7l.8 3l-.1 3l-.1 3l.1 3l1.6 2.6l.2 .4l2.8 1.7l3 1.2l.5 .1l2.5 .5l3 .4l3 .7l3 .6l3-.4l3-1.7l.1-.1l2.9-2.8l.2-.2l2.8-2.4l.6-.6l2.4-2.5l.4-.5l1.9-3l.7-1.4l1.1-1.6l1.9-2.3l1.5-.7l1.5-.4l3-.9l3-1.2l.9-.5l2.1-1.2l2.7-1.8l.3-.2l3-1.6l2.3-1.2l.7-.4l3-.8l3 .5l1.6 .7l1.4 .7l3 1.9l.5 .4l2.5 2.3l.7 .7l2.3 2.4l.6 .6l2.4 1.7l3 1.3l.1 0l2.9 .7l3 .6l3 .4l3 .3l3-.2l3-.7l3-.6l3 .1l3 .5l3-.5l.6-.6l1.5-3l.9-1.4l1.2-1.6l1.8-1.5l2.9-1.5l.1-.1l3-1.2l3-.3l2.3 1.6l.7 .7l.9 2.3l.8 3l1 3l.3 .4l2.6 2.6l.4 .3l3 .5l2.3-.8l.7-.4l3-1.7l2.5 2.1l.4 3l-.1 3l.1 3l.1 .3l1.3 2.7l1.7 .8l3-.1l1.5-.7l1.5-1.5l.8-1.5l1.5-3l.7-1.2l1-1.8l1.9-3l.1-.1l3-2l3 0l3 1l3 .6l3 0l3-.6l3-1.8l.1-.1l1.9-3l1-2l.5-1l2.2-3l.3-.3l3-1.6l3 .1l3 1.4l.5 .4l2.5 2.3l.8 .7l2.2 1.9l1.7 1.1l1.3 1.2l2.8 1.8l.2 .4l2.9 2.6l.1 .2l.4-.2l2.6-.3l3-1.3l3 .2l2.7 1.4l.3 .1l3 1.2l3 .7l3 .2l3-.3l3-.7l2.7-1.2l.3-.1l3-1.4l3-1.4l.2-.1l2.8-1l3-1.1l3-.1l3 .6l3 .6l0 1l0 3l0 3l0 3l0 3l0 3l0 3l0 3l0 3l0 3l0 3l0 3l0 3l0 3l0 3l0 3l0 3l0 3l0 3l0 3l0 3l0 3l0 3l0 3l0 3l0 3l0 3l0 3l0 3l0 3l0 3l0 3l0 3l0 3l0 3l0 3l0 3l0 3l0 3l0 3l0 3l0 3l0 3l0 3l0 3l0 3l0 3l0 3l0 3l0 3l0 3l0 3l0 3l0 3l0 3l0 3l0 3l0 3l0 3l0 3l0 3l0 3l0 3l0 3l0 3l0 3l-3 0l-3 0l-3 0l-3 0l-3 0l-3 0l-3 0l-3 0l-3 0l-3 0l-3 0l-3 0l-3 0l-3 0l-3 0l-3 0l-3 0l-3 0l-3 0l-3 0l-3 0l-3 0l-3 0l-3 0l-3 0l-3 0l-3 0l-3 0l-3 0l-3 0l-3 0l-3 0l-3 0l-3 0l-3 0l-3 0l-3 0l-3 0l-3 0l-3 0l-3 0l-3 0l-3 0l-3 0l-3 0l-3 0l-3 0l-3 0l-3 0l-3 0l-3 0l-3 0l-3 0l-3 0l-3 0l-3 0l-3 0l-3 0l-3 0l-3 0l-3 0l-3 0l-3 0l-3 0l-3 0l-3 0l-3 0l-3 0l-3 0l-3 0l-3 0l-3 0l-3 0l-3 0l-3 0l-3 0l-3 0l-3 0l-3 0l-3 0l-3 0l-3 0l-3 0l-3 0l-3 0l-3 0l-3 0l-3 0l-3 0l-3 0l-3 0l-3 0l-3 0l-3 0l-3 0l-3 0l-3 0l-3 0l-3 0l-3 0l-3 0l-3 0l-3 0l-3 0l-3 0l-3 0l-3 0l-3 0l-3 0l-3 0l-3 0l-3 0l-3 0l-3 0l-3 0l-3 0l-3 0l-3 0l-3 0l-3 0l-3 0l-3 0l-3 0l-3 0l-3 0l-3 0l-3 0l-3 0l-3 0l-3 0l-3 0l-3 0l-3 0l-3 0l-3 0l-3 0l-3 0l-3 0l-3 0l-3 0l-3 0l-3 0l-3 0l-3 0l-3 0l-3 0l-3 0l-3 0l-3 0l-3 0l-3 0l-3 0l-3 0l-3 0l-3 0l-3 0l-3 0l-3 0l-3 0l-3 0l-3 0l-3 0l-3 0l-3 0l-3 0l-3 0l-3 0l-3 0l-3 0l-3 0l-3 0l-3 0l-3 0l-3 0l-3 0l-3 0l-3 0l-3 0l-3 0l-3 0l-3 0l-3 0l-3 0l-3 0l-3 0l-3 0l-3 0l-3 0l-3 0l-3 0l-3 0l-3 0l-3 0l-3 0l-3 0l-3 0l-3 0l-3 0l-3 0l-3 0l-3 0l-3 0l-3 0l-3 0l-3 0l-3 0l-3 0l-3 0l-3 0l-3 0l-3 0l-3 0l-3 0l-3 0l-3 0l-3 0l-3 0l-3 0l-3 0l-3 0l-3 0l-3 0l-3 0l-3 0l-3 0l-3 0l-3 0l-3 0l-3 0l-3 0l-3 0l-3 0l-3 0l-3 0l-3 0l-3 0l-3 0l-3 0l-3 0l-3 0l-3 0l-3 0l-3 0l-3 0l-3 0l-3 0l-3 0l-3 0l-3 0l0-3l0-3l0-3l0-3l0-3l0-3l0-3l0-.3l1.9-2.7l1.1-1.2l1.4-1.8l1.6-1.5l2.7-1.5l.3-.1l3-.8l3-.2l3-.1l3-.1l3-.1l3 .4l3 .7l1.5 .3l1.5 .4l3 .4l3-.3l1-.5l2-1.2l1.8-1.8l1.2-1.4l1.5-1.6l1.5-1.3l3-1.5l.5-.2l2.5-.7l3-1l2.7-1.3l.3-.2l3-2.1l.8-.7l2.2-2l1.2-1l1.8-1.5l3-1.3l.7-.2l2.3-.5l3-.8l2.7-1.7l.3-.2l2.8-2.8l.2-.2l1.6-2.8l1.1-3l.3-1.5l.3-1.5l.1-3l0-3l0-3l.3-3l.6-3l1-3l.7-1.1l1.4-1.9l1.6-1.2l2.6-1.8l.4-.2l3-1.5l2.1-1.3l.9-.5l3-1.6l1.7-.9l1.3-.6l3-1.3l2.2-1.1l.8-.4l3-2.1l.6-.5l2.4-2.3l.6-.7l2.4-2.2l1-.8l2-1.5l2-1.5l1-.9l2.2-2.1l.8-1.2l1-1.8l1.1-3l.7-3l.2-.7l.7-2.3l1.1-3l1.2-2.5l.2-.5l1.3-3l.9-3l.6-3l0-.4l.3-2.6l.7-3l1.6-3l.4-.4l2.7-2.6l.3-.2l3-1.7l3-.8l3-.1l3 .3l3 .3l3 .7l3 1l1.1 .5l1.9 .7l3 1.1l3 .9l1.9 .3l1.1 .2l3-.1l.2-.1l2.8-1l3-1.8l.2-.2l2.8-2.1l1.2-.9l1.8-1.3l3-1.6l.3-.1l2.7-1.2l3-1.2l1.3-.6l1.7-.8l3-2.1l.1-.1l2.3-3l.6-1.9l.3-1.1l0-3l-.3-2.3l-.1-.7l-.4-3l-.2-3l.1-3l.5-3l.1-.4l1.6-2.6l1.4-.9l1.9 .9l1.1 .7l3 1l3-.1l3-1.1l.7-.5l2.3-1.8l1-1.2l2-2.8l.1-.2l1.7-3l1.2-2.7l.1-.3l1.2-3l1.5-3l.2-.4l2.6-2.6l.4-.2l3-1.4l3-1.1l.7-.3l2.3-1l3-1.4l1.5-.6l1.5-.7l3-.9l3-.6l3-.5l3-.3l3 .3l3 .8l3 .5l3-.4l2-1.2l1-.7l2-2.3l1-1l1.7-2l1.3-1.4l1.6-1.6l1.4-1.4zM679.4 583l2.6-.8l3-.1l.2 .9l-.2 1.6l-.6 1.4l-2.4 2.2l-3-1.5l-.9-.7l.9-2.2zM567.5 613l.5-.4l.5 .4l-.5 .3z" fill="#fd9c26" stroke="#000" stroke-width="0.85" stroke-opacity="0.9" fill-rule="evenodd"/>
<path d="M343.5 607l2.5-1.2l3-.5l3 .4l2.3 1.3l.7 1.2l1.4 1.8l1.6 1.1l3 1.4l.8 .5l2.2 1.2l2.1 1.8l.9 .9l1.3 2.1l.3 3l-1.5 3l-.1 .1l-3 1.6l-3 .3l-3-.1l-3-.1l-2.9 1.2l-.1 0l-3 2.2l-.7 .8l-1.3 3l.5 3l1.5 2.1l.9 .9l2.1 1.3l2.9 1.7l.1 0l3 2.1l.9 .9l1.9 3l.2 .7l.8 2.3l.4 3l.3 3l1.5 1.6l3 .7l3 .4l.9 .3l2.1 .5l3 1.7l.7 .8l1.8 3l.5 1.6l.4 1.4l.6 3l.7 3l.9 3l-.6 3l-2 2.9l-.1 .1l-2.9 2.6l-.4 .4l-2.4 3l-.2 .3l-1.4 2.7l-.7 3l0 3l.9 3l1.2 2.5l.4 .5l2 3l.5 3l.1 .4l.7 2.6l2.3 1.5l3-.3l1.3-1.2l-.2-3l1.4-3l.5-.2l3-1.4l3-.6l3 1.1l1.5 1.1l1.5 1l3 1.8l.5 .2l2.5 .8l3 .2l3-.2l3-.5l1.5-.3l1.5-.4l3-1.5l1.2-1.1l1.7-3l.1-.2l.9-2.8l1.3-3l.8-1.3l1.5-1.7l1.5-1.2l3-1.2l2.5-.6l.5-.1l3-.8l3-1.1l2.2-1l.8-.6l2.3-2.4l.7-1.7l.5-1.3l.4-3l0-3l-.9-3l-3-2l-3-.5l-3-.5l-.1 0l-2-3l1.3-3l.8-.9l1.2-2.1l1.8-2.3l.5-.7l2.5-2.2l1.1-.8l1.9-.8l3-.9l3-.7l1.7-.6l1.3-.4l3-1.1l3 0l1.9 1.5l1.1 1.1l2.3 1.9l.7 .6l3 0l.8-.6l2.2-1l2.3-2l.7-.7l1.7-2.3l1.3-2.3l.5-.7l2.1-3l.4-.4l3-1.3l3-.9l1.2-.4l1.8-.8l3-1.4l2-.8l1-.3l3-.5l3-.1l3 .1l3 .4l2.1 .4l.9 .2l3 1.3l2.1 1.5l.9 .8l2.3 2.2l.7 .7l2.9 2.3l.1 .1l3 1.3l3 .4l3-.2l3-.7l3-.9l.1 0l2.9-.9l3 .1l3-.1l3-.6l3-.7l3-.6l3 .2l3 1.4l1.9 1.2l1.1 .7l3 .9l3-.3l3-1l.7-.3l2.3-1l3-1.2l2.1-.8l.9-.4l3-.9l3-.6l3-.4l3-.6l.1-.1l2.9-.9l3-1.2l2.2-.9l.8-.2l3-.7l3 0l2 .9l1 .6l2.5 2.4l.5 .6l2.7 2.4l.3 .4l3-.1l.3-.3l2.7-2.2l.6-.8l1.7-3l.7-2.3l.3-.7l1.2-3l1.5-1.5l3-.3l3 .4l3 .2l3-.8l3-.8l2.2-.2l.8-.1l.8 .1l2.2 .1l3 .2l3 0l3 .1l3 .6l3 .3l3 .1l3-.2l3-.5l3 0l3 2l.2 .3l.2 3l-.1 3l.7 3l2 2.2l1.7 .8l1.3 .4l3 .1l3 .6l3 1.9l3 1.1l2.1-1.1l.9-.9l1.9-2.1l1.1-1.1l3-1.8l2.4-.1l.6 0l3 1.4l1.6 1.6l1.4 1.6l1.1 1.4l1.9 2.8l.2 .2l2.8 2.9l.1 .1l2.9 1.8l3 .8l3-.2l3-.6l3-.5l3-.5l3-.7l.5-.1l2.5-.6l3-.4l3-.1l3 0l3-.1l3-.3l3-.1l3 .5l3 .9l1 .2l2 .5l2.9-.5l.1 0l3-2.1l.8-.9l2.1-3l.1-.1l1.9-2.9l1.1-1.6l1.4-1.4l1.6-1.4l3-1.5l.8-.1l2.2-.4l3-.3l3-1.2l1.4-1.1l1.6-.8l3-1.4l2.6-.8l.4-.1l3-.3l3 .1l2 .3l1 .2l3 .4l0 2.4l0 3l0 3l0 3l0 3l0 3l0 3l0 3l0 3l0 3l0 3l0 3l0 3l0 3l0 3l0 3l0 3l0 3l0 3l0 3l0 3l0 3l0 3l0 3l0 3l0 3l0 3l0 3l0 3l0 3l0 3l0 3l0 3l0 3l0 3l0 3l0 3l0 3l0 3l0 3l0 3l0 3l0 3l0 3l0 3l0 3l0 3l0 3l0 3l0 3l0 3l0 3l0 3l0 3l0 3l0 3l0 3l0 3l-3 0l-3 0l-3 0l-3 0l-3 0l-3 0l-3 0l-3 0l-3 0l-3 0l-3 0l-3 0l-3 0l-3 0l-3 0l-3 0l-3 0l-3 0l-3 0l-3 0l-3 0l-3 0l-3 0l-3 0l-3 0l-3 0l-3 0l-3 0l-3 0l-3 0l-3 0l-3 0l-3 0l-3 0l-3 0l-3 0l-3 0l-3 0l-3 0l-3 0l-3 0l-3 0l-3 0l-3 0l-3 0l-3 0l-3 0l-3 0l-3 0l-3 0l-3 0l-3 0l-3 0l-3 0l-3 0l-3 0l-3 0l-3 0l-3 0l-3 0l-3 0l-3 0l-3 0l-3 0l-3 0l-3 0l-3 0l-3 0l-3 0l-3 0l-3 0l-3 0l-3 0l-3 0l-3 0l-3 0l-3 0l-3 0l-3 0l-3 0l-3 0l-3 0l-3 0l-3 0l-3 0l-3 0l-3 0l-3 0l-3 0l-3 0l-3 0l-3 0l-3 0l-3 0l-3 0l-3 0l-3 0l-3 0l-3 0l-3 0l-3 0l-3 0l-3 0l-3 0l-3 0l-3 0l-3 0l-3 0l-3 0l-3 0l-3 0l-3 0l-3 0l-3 0l-3 0l-3 0l-3 0l-3 0l-3 0l-3 0l-3 0l-3 0l-3 0l-3 0l-3 0l-3 0l-3 0l-3 0l-3 0l-3 0l-3 0l-3 0l-3 0l-3 0l-3 0l-3 0l-3 0l-3 0l-3 0l-3 0l-3 0l-3 0l-3 0l-3 0l-3 0l-3 0l-3 0l-3 0l-3 0l-3 0l-3 0l-3 0l-3 0l-3 0l-3 0l-3 0l-3 0l-3 0l-3 0l-3 0l-3 0l-3 0l-3 0l-3 0l-3 0l-3 0l-3 0l-3 0l-3 0l-3 0l-3 0l-3 0l-3 0l-3 0l-3 0l-3 0l-3 0l-3 0l-3 0l-3 0l-3 0l-3 0l-3 0l-3 0l-3 0l-3 0l-3 0l-3 0l-3 0l-3 0l-3 0l-3 0l-3 0l-3 0l-3 0l-3 0l-3 0l-3 0l-3 0l-3 0l-3 0l-3 0l-3 0l-3 0l-3 0l-3 0l-3 0l-3 0l-3 0l-3 0l-3 0l-3 0l-3 0l-3 0l-3 0l-3 0l-3 0l-3 0l-3 0l-3 0l-3 0l-3 0l-3 0l-3 0l-2.2 0l.4-3l-.1-3l-.1-3l0-3l0-3l.6-3l1.3-3l.1-.1l2.2-2.9l.8-.8l2.1-2.2l.9-.9l2.1-2.1l.9-.9l1.9-2.1l1.1-1.3l1.5-1.7l1.5-2l.7-1l2.1-3l.2-.3l1.6-2.7l1.4-2.7l.1-.3l1.1-3l1.1-3l.7-1.5l.7-1.5l1.6-3l.7-1.3l.7-1.7l1-3l1-3l.3-.9l.8-2.1l1.5-3l.7-1.2l1-1.8l1.6-3l.4-.8l1.1-2.2l1.9-2.9l.1-.1l2.9-2l2.8-1l.2-.1l3-.4l3-.2l3-.6l3-1.7l2.8-3l.2-.2l2.2-2.8l.8-.9l2.1-2.1l.9-.8l3-2l.5-.2l2.5-1.1l3-.7l3-.4l3-.8l.1 0l2.9-1.8l1.3-1.2l1.7-2.5l.3-.5l.7-3l-.8-3l-.2-.3l-2.2-2.7l-.8-.7l-2.6-2.3l-.4-.5l-1.9-2.5l.3-3l1.6-1.7l2-1.3l1-.4l3-.8l3-.4l3 0l3 .4l3 .9l.7 .3l2.3 2.1l1.1 .9l1.9 2l2.4 1l.6 .1l3 .3l3-.2l2.3-.2l.7-.1l3 0l3 .1l3-.4l3-1.2l2.3-1.4l.7-.5l3-2.4l.2-.1l2.4-3l.4-2.1l.3-.9l.7-3l2-1.7l3-1.1l.8-.2l2.2-.5l3-1.3l1.6-1.2l1.4-2l.8-1l.8-3l.4-3l.5-3l.4-3l.1-.3l.6-2.7l1-3l1.4-2.2l1.1-.8l1.9-1l3-.7l3-.8l1.2-.5l1.8-.4l3-.6l3-.4l3-.3l3-.4l3-.8l.3-.1l2.7-1.4l2-1.6l1-1l2.4-2l.6-.7l3-1.4l3-.9l1.5-3l-.6-3l-.9-.5l-3-.5l-3-1.9l0-.1zM349 663.3l-1.6 .7l0 3l1.6 .7l3 0l1.8-.7l1.2-1l1.9-2l-1.9-1.8l-3 .2zM319 638.3l-1.3 1.7l-1.1 3l-.2 3l.6 3l2 2.3l1.2 .7l1.8 .6l3 .3l3-.5l1.1-.4l1.9-1.6l.9-1.4l-.4-3l-.5-.8l-1.1-2.2l-1.9-2.3l-.7-.7l-2.3-2.3l-3-.6zM381.8 613l.2-.3l3-.9l2.7 1.2l.3 .1l3 2.7l.2 .2l1.5 3l.4 3l-1.9 3l-.2 .2l-3 .7l-3-.5l-.7-.4l-2.3-1.9l-.9-1.1l-.8-3l.2-3z" fill="#fc9018" stroke="#000" stroke-width="0.85" stroke-opacity="0.9" fill-rule="evenodd"/>
<path d="M646.5 646l2.5-.8l3-.4l3-.5l3-.4l3 0l3 .5l3 1.3l.5 .3l2.5 2.4l.5 .6l2.5 2.8l.3 .2l2.7 2.3l1.1 .7l1.9 1.4l2.6 1.6l.4 .3l3 1.3l3 .9l2 .5l1 .2l3 .4l3 .1l3-.2l3-.3l2.6-.2l.4 0l3-.1l1 .1l2 .2l3 .8l3 1.1l1.9 .9l1.1 .5l3 1.5l2.6 1l.4 .2l3 .7l3 .1l3-.1l3-.4l2.2-.5l.8-.1l3-.7l3-.4l3 .2l2.7 1l.3 .2l3 2.1l1 .7l2 1.5l2.4 1.5l.6 .4l3 1.6l2.1 1l.9 .4l3 .9l3-.2l2.9-1.1l.1 0l3-2.2l.8-.8l2.2-2l1.1-1l1.9-1.5l2.3-1.5l.7-.4l3-1l3-.2l3 .5l3 1l.2 .1l2.8 1.2l3 1.6l.3 .2l2.7 2.5l.5 .5l1.9 3l.6 .8l2.8 2.2l.2 .1l3 .6l3 .5l0 1.8l0 3l0 3l0 3l0 3l0 3l0 3l0 3l0 3l0 3l0 3l0 3l0 3l0 3l0 3l0 3l0 3l0 3l0 3l0 3l0 3l0 3l0 3l0 3l0 3l0 3l0 3l0 3l0 3l0 3l0 3l0 3l0 3l0 3l0 3l0 3l0 3l0 3l0 3l0 3l0 3l0 3l0 3l-3 0l-3 0l-3 0l-3 0l-3 0l-3 0l-3 0l-3 0l-3 0l-3 0l-3 0l-3 0l-3 0l-3 0l-3 0l-3 0l-3 0l-3 0l-3 0l-3 0l-3 0l-3 0l-3 0l-3 0l-3 0l-3 0l-3 0l-3 0l-3 0l-3 0l-3 0l-3 0l-3 0l-3 0l-3 0l-3 0l-3 0l-3 0l-3 0l-3 0l-3 0l-3 0l-3 0l-3 0l-3 0l-3 0l-3 0l-3 0l-3 0l-3 0l-3 0l-3 0l-3 0l-3 0l-3 0l-3 0l-3 0l-3 0l-3 0l-3 0l-3 0l-3 0l-3 0l-3 0l-3 0l-3 0l-3 0l-3 0l-3 0l-3 0l-3 0l-3 0l-3 0l-3 0l-3 0l-3 0l-3 0l-3 0l-3 0l-3 0l-3 0l-3 0l-3 0l-3 0l-3 0l-3 0l-3 0l-3 0l-3 0l-3 0l-3 0l-3 0l-3 0l-3 0l-3 0l-3 0l-3 0l-3 0l-3 0l-3 0l-3 0l-3 0l-3 0l-3 0l-3 0l-3 0l-3 0l-3 0l-3 0l-3 0l-3 0l-3 0l-3 0l-3 0l-3 0l-3 0l-3 0l-3 0l-3 0l-3 0l-3 0l-3 0l-3 0l-3 0l-3 0l-3 0l-3 0l-3 0l-3 0l-3 0l-3 0l-3 0l-3 0l-3 0l-3 0l-3 0l-3 0l-3 0l-3 0l-3 0l-3 0l-3 0l-3 0l-3 0l-3 0l-3 0l-3 0l-3 0l-3 0l-3 0l-3 0l-3 0l-3 0l-3 0l-3 0l-3 0l-3 0l-3 0l-3 0l-3 0l-3 0l-3 0l-3 0l-3 0l-3 0l-3 0l-3 0l-3 0l-3 0l-3 0l-3 0l-3 0l-3 0l-3 0l-3 0l-3 0l-3 0l-3 0l-3 0l-3 0l-3 0l-3 0l-3 0l-3 0l-3 0l-3 0l-3 0l-3 0l-3 0l-3 0l-3 0l-3 0l-3 0l-3 0l-3 0l-3 0l-3 0l-3 0l-3 0l-3 0l-3 0l-3 0l-3 0l-3 0l-3 0l-3 0l-3 0l-3 0l-3 0l-3 0l-3 0l-3 0l-3 0l-3 0l-3 0l-3 0l-3 0l-3 0l-1.8 0l.6-3l.4-3l.8-2.8l0-.2l1.3-3l1.7-3l1.9-3l1.1-1.6l1.2-1.4l1.8-2.5l.5-.5l1.9-3l.6-1.4l1.6-1.6l1.4-1.8l3 1.2l1.1 .6l1.9 .5l2.7-.5l.3-.1l2.6-2.9l.2-3l-2.5-3l-.3-.3l-3-1.9l-.6-.8l0-3l.6-2l.3-1l1.8-3l.9-1l3-1l3 .5l3 1.3l.3 .2l2.7 2.4l.4 .6l1.4 3l.6 3l.5 3l.1 .2l1.1 2.8l1.9 2.3l.7 .7l2.3 1.4l3 .8l3-.4l3-1l2.1-.8l.9-.4l3-1.9l.8-.7l1.9-3l.3-.5l1.7-2.5l1.3-1.1l3-.8l3 .3l3 .4l3 .4l3 .8l1.1 3l.8 3l1.1 2.4l.2 .6l2.1 3l.7 .8l1.8 2.2l1.2 1.5l1.5 1.5l1.5 1.4l3 1.2l3-.4l3-1.3l2.2-.9l.8-.3l3-.7l3-.5l3-.9l1-.6l2-2.9l0-.1l0-3l-.7-3l-.9-3l-.8-3l-.6-1.8l-.5-1.2l-.8-3l.3-3l1-1.6l.8-1.4l1.8-3l.4-1.2l.5-1.8l0-3l-.5-1.4l-.6-1.6l-1.8-3l-.6-1l-1.4-2l-1.6-2.4l-.8-.6l-2.2-1.8l-2.7-1.2l-.3-.3l-1.9-2.7l.5-3l1.4-1.2l1.1-1.8l1.9-2l.5-1l2.2-3l.3-.3l2.3-2.7l.7-.6l2.8-2.4l.2-.1l3-2.1l1.6-.8l1.4-.8l3-.5l1.5 1.3l1.5 1.9l.7 1.1l2.2 3l.1 .1l3 2.7l.8 .2l2.2 .6l3-.5l.2-.1l2.8-.9l3-.6l3 0l3 .5l3 .4l3-.5l2.6-1.9l.4-.2l.5 .2l2.5 3l0 .1l.3 2.9l.8 3l1.1 3l.8 2.2l.2 .8l.8 3l1 3l1 2.8l.1 .2l.9 3l.7 3l1.3 2.9l.1 .1l2.7 3l.2 .2l2.6 2.8l.4 .4l1.7 2.6l1.3 3l0 .1l.7 2.9l.4 3l.3 3l.4 3l.7 3l.5 1.1l3 1.7l3-1.6l1.6-1.2l1.4-.9l2.5-2.1l.5-.6l1.4-2.4l1.1-3l.5-.8l1.6-2.2l1.4-.9l3-1.7l.8-.4l2.2-1l3-.7l3-.1l3 .2l3 .4l3 0l3-1.1l.8-.7l2.2-2l1.4-1l1.6-1.1l3-.5l3 .6l2.2 1l.8 .4l3 1.5l3-.1l2.6-1.8l.4-.2l3-1.8l2.5-1l.5-.2l3-.8l3-.3l3-.1l3-.3l3-.9l.7-.4l2.3-1.8l1.1-1.2l1.9-2.8l.1-.2l1.3-3l.7-3l.1-3l.1-3l.7-2.4l.2-.6l2.4-3l.4-.3l3-2.4l.4-.3l2.6-2.8l.1-.2l1.3-3l.7-3l.9-2.2l.4-.8l2.6-2.1l2.4-.9l.6-.2l3-.2l3 .2l3 .1l3-.5l3-1.3l1.8-1.1l1.2-.8l2.8-2.2l.2-.2l2.7-2.8l.3-.5l1.9-2.5l1.1-1.5l1.5-1.5l1.5-1.4l2.7-1.6l.3-.2l3-.9l3-.4l3 .5l2.4 1l.6 .3l3 1.9l2.1 .8l.9 .4l3 .2l3-.3l3-.2l3 0l3 .2l3 .4l3 .9l2.3 1.4l.7 .4l2.9 2.6l.1 .1l3 2.4l1.1 .5l1.9 .8l3 .5l3 .1l3 .6l1.5 1l1.5 .8l3 .8l3-1.5l.1-.1l2.9-2.2l1.4-.8l1.6-1.6l1.6-1.4l-.4-3l-1.2-.8l-2.3-2.2l-.7-1.7l-.3-1.3l.3-1.2l.6-1.8l2.4-2.7l.3-.3l2.7-1.7l2.5-1.3l.5-.3l3-1.7l3-1l.1 0l2.9-.3l1.6 .3l1.4 .2l3 .6l3 .7l3 .8l1.9 .7l1.1 .4l3 .9l3 .1l3-1.3l.2-.1l2.8-1.3l3-1l2.5-.7l.5-.2l3-1.2l2.6-1.6l.4-.5l1.8-2.5l.7-3l.4-3l.1-.4l.5-2.6l1.1-3l1.4-2.1l.8-.9l2.2-1.8l1.6-1.2l1.4-.9l3-1.9zM301 727.9l-2.7 2.1l0 3l1.3 3l1.4 1.8l3-1.1l.4-.7l.6-3l-.7-3l-.3-.5zM331 747.5l-.9 .5l-.8 3l1.7 1l3-1l0-.1l.6-2.9l-.6-.3zM305.8 688l1.2-1.3l3-.6l3 1.2l1 .7l2 2.2l.6 .8l.3 3l-.9 2l-1.3 1l-1.7 .8l-3-.6l-.4-.2l-2.6-1.9l-1.2-1.1l-.8-3zM207.7 736l.3-.1l3-.9l3-.2l3 .4l2.4 .8l.6 .3l3 2.2l.6 .5l1.1 3l-.5 3l-1.2 2l-.8 1l-2.2 1.4l-3 .7l-3 0l-3-.5l-3-1l-1.2-.6l-1.8-1.1l-2-1.9l-.9-3l1.3-3l1.6-1.3z" fill="#fa8000" stroke="#000" stroke-width="0.85" stroke-opacity="0.9" fill-rule="evenodd"/>
<path d="M669.1 673l.9-.3l3-.1l1.8 .4l1.2 .3l3 1.8l1.3 .9l1.7 2.9l.1 .1l1.2 3l1.7 1.6l3 .6l3-.9l2-1.3l1-.6l3-2.3l.2-.1l2.8-1.2l3 .4l1.3 .8l1.7 1.2l2.6 1.8l.4 .2l3 1l3 .4l3 .3l3 .1l3-.2l3-.4l3-.1l3 .4l3 .8l1.5 .5l1.5 .6l3 1.3l2.6 1.1l.4 .2l3 1.2l3 1l2 .6l1 .3l3 1.2l3 1.4l.2 .1l2.8 1.7l2.5 1.3l.5 .4l3 2.3l.6 .3l2.4 1.8l3 .3l3-.5l3 .1l.7 1.3l1.1 3l1.2 1.4l1.8 1.6l1.2 .5l3 .1l3-.3l3 .2l3 .8l3 1.2l1.3 .5l1.7 .6l3 1l3 .5l3-.1l3-.6l3-.7l3-.2l0 2.5l0 3l0 3l0 3l0 3l0 3l0 3l0 3l0 3l0 3l0 3l0 3l0 3l0 3l0 3l0 3l0 3l0 3l0 3l0 3l0 3l0 3l0 3l0 3l0 3l0 3l0 3l0 3l0 3l0 3l0 3l0 3l-3 0l-3 0l-3 0l-3 0l-3 0l-3 0l-3 0l-3 0l-3 0l-3 0l-3 0l-3 0l-3 0l-3 0l-3 0l-3 0l-3 0l-3 0l-3 0l-3 0l-3 0l-3 0l-3 0l-3 0l-3 0l-3 0l-3 0l-3 0l-3 0l-3 0l-3 0l-3 0l-3 0l-3 0l-3 0l-3 0l-3 0l-3 0l-3 0l-3 0l-3 0l-3 0l-3 0l-3 0l-3 0l-3 0l-3 0l-3 0l-3 0l-3 0l-3 0l-3 0l-3 0l-3 0l-3 0l-3 0l-3 0l-3 0l-3 0l-3 0l-3 0l-3 0l-3 0l-3 0l-3 0l-3 0l-3 0l-3 0l-3 0l-3 0l-3 0l-3 0l-3 0l-3 0l-3 0l-3 0l-3 0l-3 0l-3 0l-3 0l-3 0l-3 0l-3 0l-3 0l-3 0l-3 0l-3 0l-3 0l-3 0l-3 0l-3 0l-3 0l-3 0l-3 0l-3 0l-3 0l-3 0l-3 0l-3 0l-3 0l-3 0l-3 0l-3 0l-3 0l-3 0l-3 0l-3 0l-3 0l-3 0l-3 0l-3 0l-3 0l-3 0l-3 0l-3 0l-3 0l-3 0l-3 0l-3 0l-3 0l-3 0l-3 0l-3 0l-3 0l-3 0l-3 0l-3 0l-3 0l-3 0l-3 0l-3 0l-3 0l-3 0l-3 0l-3 0l-3 0l-3 0l-3 0l-3 0l-3 0l-3 0l-3 0l-3 0l-3 0l-3 0l-3 0l-3 0l-3 0l-3 0l-3 0l-3 0l-3 0l-3 0l-3 0l-3 0l-3 0l-3 0l-3 0l-3 0l-3 0l-3 0l-3 0l-3 0l-3 0l-3 0l-3 0l-3 0l-3 0l-2.5 0l2.1-3l.4-.6l1.5-2.4l1.5-1.6l1.2-1.4l1.8-1.5l2.1-1.5l.9-.6l3-1.3l3-.5l3 .1l3 .5l3 .8l2.8 1l.2 .1l3 .8l3 .7l3 .4l3-.3l3-1l1.1-.7l1.9-1.3l1.6-1.7l1.4-2.1l.5-.9l1.6-3l.9-1.3l1.4-1.7l1.6-1.4l3-1.5l.2-.1l2.8-1.1l3-1.4l1.1-.5l1.9-1.3l3-.5l3 1.4l.4 .4l2.6 1.9l1.2 1.1l1.8 1.2l3 1.3l3 .4l3 .1l.7 0l2.3 0l1.6 0l1.4 0l3-.3l3-.6l3-.9l2.8-1.2l.2-.1l3-2.3l.7-.6l2.3-3l1.7-3l1.3-2.8l.1-.2l1.7-3l1.2-1.5l2.2-1.5l.8-.4l3-.6l3-.3l3-.4l2.8-1.3l.2-.1l3-2.2l.9-.7l2.1-1.6l3-1.3l.6-.1l2.4-.4l3 .2l.8 .2l2.2 .5l3 .4l3-.7l.3-.2l2.7-2.4l.8-.6l2.2-1.8l3-1l3 .1l3 .3l3-.3l.7-.3l2.3-1.3l2-1.7l1-.6l2.5-2.4l.5-.8l.8-2.2l-.3-3l-.3-3l.4-3l1.2-3l1.2-1.9l.6-1.1l1.7-3l.7-1.9l.4-1.1l.6-3l1.1-3l.9-.8l3-1.1l3-.4l3 0l3-.1l3-.3l2.6-.3l.4-.1l3-.5l3-.3l3 .1l2.1 .8l.9 .5l2.5 2.5l.5 .6l2.1 2.4l.9 .8l3 1.5l3 .4l3 .1l1.8 .2l1.2 .1l3 .5l3 0l3-.4l.6-.2l2.4-.5l3-1l3-1.3l.4-.2l2.6-.9l3-.6l3-.1l3 .2l3-.1l3-.8l1.3-.7l1.7-1.5l1.1-1.5l1-3l.3-3l.5-3l.1-.4l1.2-2.6l1.8-2.3l1.4-.7l1.6-.5l3 .1l3 .2l3-.7l3-1.7l.5-.4l2.5-2.3l.8-.7l2.2-2l2.1-1l.9-.4l3-.4l3-.2l3-.4l3-1.6l3-2.6l.4-.4l2.6-2.6l.6-.4l2.4-1.7l3-.8l3 .5l3 1.3l2.3 .7l.7 .4l1.3-.4l1.7-.3l3-1.7zM261 808l1-1l3-1.3l3 .5l2.5 1.8l-2.5 0l-3 0l-3 0z" fill="#ee6e00" stroke="#000" stroke-width="0.85" stroke-opacity="0.9" fill-rule="evenodd"/>
<path d="M621.1 706l.9-.2l1 .2l2 .6l3 1.9l1 .5l2 .8l3 .3l3-.4l2.5-.7l.5-.3l3-.2l.1 .5l1.9 3l1 .9l3 2.1l3 .3l3-.2l3 .5l3 1.9l.4 .5l2.6 2l3 .6l3-.2l3-.3l3-.3l3-.3l3-.3l3-.8l3 0l1.3 2.6l-.7 3l-.6 1.4l-.8 1.6l-1.2 3l.1 3l1.6 3l.3 .3l2.5 2.7l.5 .7l2.1 2.3l.9 1.6l1 1.4l1.7 3l.3 .7l1.1 2.3l.4 3l-.6 3l-.9 2l-.5 1l-2.5 3l-2.6 3l-.4 .9l-.5 2.1l-.1 3l.1 3l0 3l-.2 3l-.4 3l-1.4 3l-.5 .7l-2.1 2.3l-.9 2.9l0 .1l.9 3l2.1 2.6l.3 .4l2.7 2.1l1.4 .9l1.6 .9l3 1.6l.8 .5l2.2 2.2l.7 .8l-.7 0l-3 0l-3 0l-3 0l-3 0l-3 0l-3 0l-3 0l-3 0l-3 0l-3 0l-3 0l-3 0l-3 0l-3 0l-3 0l-3 0l-3 0l-3 0l-3 0l-3 0l-3 0l-3 0l-3 0l-3 0l-3 0l-3 0l-3 0l-3 0l-3 0l-3 0l-3 0l-3 0l-3 0l-3 0l-3 0l-3 0l-3 0l-3 0l-3 0l-3 0l-3 0l-3 0l-3 0l-3 0l-3 0l-3 0l-3 0l-3 0l-3 0l-3 0l-2 0l1.2-3l.8-1.9l.5-1.1l1.1-3l1.2-3l.2-.3l2.3-2.7l.7-.5l3-1.3l3-.7l1.5-.5l1.5-.6l2.2-2.4l.8-1.3l.7-1.7l.9-3l1.3-3l.1-.1l3-2.2l1.2-.7l1.8-.7l3-1.2l3-.8l3-.3l3 0l3-.3l3-1.5l1.1-1.2l.9-3l-.3-3l-1.4-3l-.3-.3l-3-1.4l-3-.5l-3-.7l-.3-.1l-2.7-1.8l-1-1.2l-.2-3l1.1-3l.1-.3l1.1-2.7l.9-3l.8-3l.2-.6l1-2.4l2-2.6l.3-.4l2.7-2.7l.3-.3l2.7-2.5l.8-.5l2.2-1.2l3-.5l3 .9l3 .8l3 .1l.2-.1l2.8-1.1l2-1.9l.9-3l-.2-3l-.4-3l.1-3l.6-1.9l.5-1.1l2.5-2.2zM708.3 712l.7-.2l.7 .2l2.3 1.3l1.1 1.7l-.6 3l-.5 .7l-3 1.5l-3-1.6l-.6-.6l-.9-3l1.5-1.9zM764.7 730l1.3-.6l3-1.1l3-.7l3-.1l3 .7l3 1.7l.1 .1l2 3l.9 1.8l.8 1.2l2.2 2l3 .6l3-.3l3-.3l3 0l3 .4l3 .5l.8 .1l2.2 .3l3 0l2.9-.3l.1 0l3-.6l3-.4l3 0l0 1l0 3l0 3l0 3l0 3l0 3l0 3l0 3l0 3l0 3l0 3l0 3l0 3l0 3l0 3l0 3l0 3l0 3l0 3l0 3l0 3l0 3l0 3l0 3l-3 0l-3 0l-3 0l-3 0l-3 0l-3 0l-3 0l-3 0l-3 0l-3 0l-3 0l-3 0l-3 0l-3 0l-3 0l-3 0l-3 0l-3 0l-3 0l-3 0l-3 0l-3 0l-3 0l-3 0l-3 0l-1.2 0l1.1-3l.1-.3l1-2.7l1.9-3l.1-.1l3-2.3l1-.6l2-1l3-1.7l.4-.3l2.6-1.7l2.6-1.3l.4-.2l3-.2l3 0l3-1.3l1.2-1.3l1.8-2.3l.4-.7l.4-3l-.8-1.6l-.8-1.4l-2.2-1.7l-2.1-1.3l-.9-.4l-3-1.5l-2-1.1l-1-.5l-3-1.8l-1-.7l-2-1.3l-2.4-1.7l-.6-.4l-3-2.1l-.5-.5l-2-3l-.5-1.9l-.3-1.1l0-3l.3-1.4l.4-1.6l1.7-3l.9-1.1l2.2-1.9l.8-.8l2.2-2.2l.8-1.7l.6-1.3l.5-3l.7-3l1.2-1.5zM517.6 754l2.4-1.1l3-1.1l3 1.1l1.1 1.1l.3 3l-.5 3l-.9 3l0 .1l-1.8 2.9l-1.2 1.2l-3 .6l-3-1.7l-.1-.1l-1.5-3l-.7-3l.2-3l2.1-2.4zM551.8 760l1.2-1.8l3-.6l3 1.6l.8 .8l2.2 2.6l.2 .4l.6 3l.1 3l-.8 3l-.1 .1l-3 .7l-3-.8l-3-2.1l-.9-.9l-1.3-3l-.1-3zM498.6 790l.4-.4l3-.8l.6 1.2l.3 3l.4 3l-.4 3l-.9 .3l-.2-.3l-1.6-3l-1.2-1.7l-.7-1.3zM733.7 793l2.3-1.5l3-.6l2.9 2.1l.1 .6l.6 2.4l-.6 1.9l-.2 1.1l-1.1 3l-1.1 3l-.2 3l-.4 0l-3 0l-3 0l-3 0l-.7 0l-.2-3l-.6-3l.5-3l1-1.9l.7-1.1l2.3-2.5zM407.5 796l1.5 0l3-.1l3-.1l3 .1l.7 .1l2.3 .4l3 1.2l1.8 1.4l1.2 1.4l1.3 1.6l1.5 3l.2 .4l1.9 2.6l-1.9 0l-3 0l-3 0l-3 0l-3 0l-3 0l-3 0l-3 0l-3 0l-3 0l-3 0l-3 0l-3 0l-3 0l-2 0l1.6-3l.4-.5l2.4-2.5l.6-.5l3-2.1l.6-.4l2.4-1.6l3-1l3-.3zM504.8 808l.2-.7l3-1.5l3 1.5l1.3 .7l-1.3 0l-3 0l-3 0z" fill="#e06000" stroke="#000" stroke-width="0.85" stroke-opacity="0.9" fill-rule="evenodd"/>
<path d="M623.4 733l1.6-.4l3-.3l3 .6l.3 .1l2.7 1.5l2 1.5l1 1.1l1.8 1.9l.9 3l0 3l-.5 3l-1.6 3l-.6 .5l-3 1.7l-3 0l-3-1.2l-1.6-1l-1.4-1.3l-3-1.6l-3 1.2l-1.8 1.7l-1.2 2.4l-3-1l-.8-1.4l-1.4-3l0-3l1.1-3l1.1-1.7l.6-1.3l2.3-3l.1-.1l3-1.1l3-1.3zM609.4 787l.6-.6l2 .6l1 .2l2.1 2.8l.9 1.1l1 1.9l1.2 3l.4 3l-1.2 3l-1.4 1.1l-2 1.9l-1 1.2l-.8 1.8l-2.2 0l-3 0l-3 0l-3 0l-3 0l-3 0l-.9 0l.4-3l.3-3l.2-1.1l.3-1.9l.8-3l1.9-2.6l.4-.4l2.6-1.7l2.7-1.3l.3-.2l3-1.7zM645.9 796l.1 0l.1 3l-.1 .1l-3 1.6l-.8 1.3l-2.2 2.9l-.1 .1l-1.3 3l-1.6 0l-3 0l-2.1 0l.6-3l1.5-2.8l.1-.2l2.9-1.8l2.3-1.2l.7-.2l3-1.2zM804.7 808l.3-.3l3-.4l.9 .7l-.9 0l-3 0z" fill="#d25200" stroke="#000" stroke-width="0.85" stroke-opacity="0.9" fill-rule="evenodd"/>
<g fill="#000"><polygon points="364.4,611.2 361.5,614.1 357.7,616.0 353.9,618.9 354.9,620.8 358.7,618.5 362.5,615.6"/>
<polygon points="347.2,624.6 349.1,626.5 348.5,629.4 346.2,628.4"/>
<polygon points="333.8,647.6 331.9,650.4 328.1,653.3 324.2,656.2 321.4,660.0 318.5,663.8 320.4,664.8 324.2,661.0 328.1,657.1 331.9,654.2 333.8,651.4"/>
<polygon points="381.0,568.0 385.0,567.2 386.4,569.5 383.0,571.0 380.7,570.0"/>
<polygon points="394.5,557.7 396.0,560.0 394.0,566.0 392.0,569.1 390.5,567.0 392.5,562.0"/>
<polygon points="230.0,702.0 234.0,699.5 238.0,701.0 243.0,699.0 245.0,701.5 240.0,705.0 234.0,705.0"/>
<polygon points="264.0,691.0 267.8,690.0 267.0,693.5 264.5,693.5"/>
<polygon points="348.0,505.0 352.0,508.0 349.0,514.0 344.0,520.0 341.0,519.0 343.0,513.0 346.0,508.0"/>
<polygon points="556.0,392.0 562.0,394.0 561.0,400.0 557.0,405.0 553.0,402.0 553.0,396.0"/>
<polygon points="440.0,438.0 445.0,437.5 446.5,441.0 442.0,443.4 439.0,441.5"/>
<polygon points="712.0,273.5 718.2,266.1 725.7,261.1 733.2,257.3 739.4,254.8 736.9,259.8 730.7,263.6 723.2,268.6 715.7,273.5"/>
<polygon points="745.7,256.1 755.7,251.1 765.6,246.1 775.6,239.9 785.6,234.9 790.6,233.6 789.3,236.9 780.6,241.1 770.6,246.1 760.6,251.1 750.7,256.1 746.9,257.3"/>
<polygon points="803.1,231.1 815.0,223.7 815.0,227.4 804.3,232.9"/>
<polygon points="740.7,270.5 745.0,269.8 748.2,271.0 745.0,272.8 741.5,272.5"/>
<polygon points="82.0,722.0 84.3,720.3 89.0,717.4 93.7,713.9 99.5,710.4 103.0,704.6 105.3,701.1 111.1,698.8 117.0,696.4 121.6,691.8 126.3,684.8 131.0,681.3 135.6,679.0 140.3,674.3 140.3,668.5 141.4,662.6 142.6,656.8 140.3,651.6 147.3,650.4 152.0,647.5 156.6,642.8 161.3,637.0 163.6,630.0 167.3,629.7 170.8,624.0 176.6,619.3 182.4,614.6 187.0,610.0 188.3,605.3 190.6,600.6 193.0,594.8 190.6,589.0 191.8,584.3 188.3,579.6 186.0,575.0 182.4,571.5 176.6,570.3 170.8,572.6 165.0,573.8 163.8,570.9 170.8,567.4 176.6,565.0 184.8,563.3 190.6,559.8 190.6,551.7 189.6,544.0 187.3,541.6 191.4,540.4 189.6,537.0 185.0,532.3 180.3,527.6 175.6,523.0 171.0,519.4 169.8,513.6 166.3,506.6 162.8,498.5 159.3,489.0 154.7,479.8 150.0,477.5 141.9,479.6 136.9,472.2 131.9,469.7 134.4,464.7 139.4,458.4 144.4,452.2 149.3,447.2 151.8,442.2 156.8,439.7 166.8,434.7 174.3,432.2 181.8,428.5 189.3,426.0 196.7,424.8 201.7,422.3 205.5,419.8 206.7,416.0 201.7,413.5 191.8,412.3 181.8,409.8 176.8,407.3 166.8,404.8 156.8,406.1 149.3,412.3 141.9,417.3 131.9,416.0 126.9,412.3 128.1,404.8 119.4,397.3 106.9,394.8 97.0,391.1 95.7,384.9 100.7,376.1 106.9,374.4 116.9,376.1 125.7,371.1 134.4,366.1 136.9,361.2 146.9,359.9 156.8,354.9 164.3,347.4 170.6,340.0 176.8,337.0 186.8,337.0 193.0,340.0 198.0,344.9 194.2,348.7 189.3,353.7 184.3,357.4 178.0,361.2 175.5,366.1 179.3,369.9 184.3,371.1 183.0,374.9 178.0,378.6 174.3,382.4 181.8,381.1 191.8,377.4 201.7,372.4 209.2,368.6 216.7,366.1 226.7,364.4 236.7,361.2 244.7,358.7 249.3,361.1 254.0,362.8 258.6,364.6 263.3,365.7 269.1,366.3 268.0,371.0 264.5,378.0 263.3,383.8 259.8,387.3 257.5,392.0 255.2,396.6 259.8,399.0 264.5,401.3 270.3,402.4 275.0,401.3 279.6,403.6 284.3,404.8 289.0,403.6 291.3,406.0 294.8,409.4 297.1,414.1 299.4,419.9 300.6,424.6 296.0,425.8 290.1,426.9 286.6,429.3 289.0,433.9 291.3,438.6 293.3,445.2 291.0,453.3 288.6,459.1 285.2,465.0 282.8,470.8 285.2,476.6 291.0,479.0 295.6,481.3 300.3,480.1 305.0,477.8 310.8,474.3 316.6,473.1 322.4,472.0 328.3,470.8 335.3,469.6 341.1,467.3 346.9,466.1 351.6,463.8 355.1,459.1 358.6,453.3 359.7,446.3 359.7,439.3 358.6,430.0 358.1,422.2 354.3,417.2 349.3,409.8 344.4,399.8 340.0,394.3 337.9,389.6 333.2,383.8 326.2,380.3 320.0,375.6 314.6,372.1 317.0,364.0 321.6,359.3 328.6,355.8 335.6,353.5 340.0,352.3 344.4,351.1 351.8,346.1 359.3,339.9 364.3,332.4 364.3,323.8 366.4,319.5 370.6,315.3 375.9,310.0 381.3,305.7 386.6,302.5 390.8,299.3 395.1,298.3 399.3,295.1 404.6,290.8 410.0,283.4 413.1,282.8 417.4,285.5 421.6,283.4 422.7,287.6 425.9,292.9 432.3,294.0 438.6,294.5 445.0,294.0 451.4,293.0 460.0,290.8 467.3,287.2 474.8,282.2 482.3,277.2 489.8,273.5 496.0,267.2 502.2,261.0 509.7,254.8 517.2,247.3 524.7,239.8 532.2,233.6 539.6,227.3 547.1,219.8 554.6,212.4 559.6,204.9 564.6,197.4 572.1,187.4 579.6,179.9 587.0,174.9 594.0,171.2 598.2,167.0 599.3,157.9 601.7,148.6 604.0,137.0 605.2,129.9 604.0,123.0 604.0,116.0 608.6,105.5 612.1,99.6 619.1,93.8 623.8,88.0 622.6,83.3 618.0,78.7 619.1,70.5 614.5,67.0 82.0,67.0"/>
<polygon points="634.3,67.0 633.1,76.3 628.5,83.3 628.5,90.3 634.3,96.1 640.1,104.3 642.4,110.1 640.1,118.3 640.1,127.6 640.1,136.9 639.8,140.0 637.5,149.3 634.0,161.0 639.8,172.6 641.0,178.5 637.5,186.6 638.6,198.3 634.0,209.9 635.2,219.3 638.6,223.9 642.1,221.6 646.8,212.3 651.5,208.2 658.5,209.9 664.3,209.9 667.8,215.8 671.3,221.6 672.4,216.9 671.3,209.9 670.1,205.3 664.3,204.1 662.0,200.6 659.6,195.9 656.1,191.3 651.5,186.6 649.7,179.6 651.5,172.6 653.8,165.6 657.3,157.5 660.8,151.7 666.6,150.5 674.8,149.9 681.8,151.1 688.8,155.2 694.6,159.8 699.3,164.5 695.8,157.0 690.0,150.9 685.6,141.6 680.9,132.3 677.4,123.0 675.1,113.6 671.6,104.3 666.9,95.0 663.4,86.8 665.8,76.3 666.9,67.0"/>
<polygon points="637.9,234.0 643.0,237.9 649.3,244.2 655.7,250.6 662.1,255.7 668.5,259.5 674.8,263.4 681.2,264.6 688.9,267.2 696.5,267.8 702.9,265.9 708.0,262.1 711.8,260.2 709.3,264.6 706.7,269.7 708.0,274.8 710.6,280.0 716.9,281.2 720.8,281.2 714.4,285.0 706.7,286.3 699.1,289.5 691.4,289.5 683.8,291.4 677.4,295.3 672.3,299.1 668.5,304.2 665.9,309.3 664.6,313.1 660.8,311.8 655.7,308.0 648.1,304.2 639.1,301.6 632.8,299.7 625.9,299.0 619.0,301.3 613.1,302.4 607.3,299.0 601.5,301.3 601.5,304.8 607.3,308.3 614.3,311.8 617.8,315.3 614.3,316.4 607.3,317.6 600.3,322.3 595.6,324.6 593.3,319.9 594.5,314.1 591.0,310.6 588.6,305.9 589.8,300.1 592.1,296.6 598.0,294.3 602.6,289.6 601.5,282.6 607.3,282.0 613.1,283.2 619.0,281.5 623.6,276.8 624.8,271.0 628.3,265.2 630.6,257.0 631.5,250.0 631.5,245.5 628.9,237.9 634.0,234.7"/>
<polygon points="393.1,479.3 399.0,477.0 404.8,474.7 410.6,472.3 415.3,470.0 417.4,467.4 424.9,461.2 432.3,457.4 442.3,454.9 454.8,453.7 467.3,452.4 479.7,451.2 488.0,450.1 490.3,453.6 495.0,454.8 499.6,452.4 504.3,449.0 505.5,443.1 509.0,437.3 513.6,432.6 518.3,425.6 519.4,419.8 520.6,415.2 525.3,412.8 529.9,411.1 533.4,411.7 532.3,415.2 528.8,417.5 527.6,423.3 529.9,426.8 534.6,425.6 541.6,423.3 547.0,420.4 554.0,417.5 559.8,414.0 563.3,409.3 566.8,403.5 569.1,400.0 574.5,398.0 579.9,394.7 584.9,387.3 589.8,379.8 592.3,369.8 591.1,359.8 589.8,349.8 591.0,343.2 593.3,338.6 592.1,331.6 596.8,329.3 600.3,328.1 605.0,325.8 609.6,324.6 612.0,326.9 609.6,331.6 612.0,337.4 619.0,338.6 623.6,336.2 622.4,330.4 623.6,325.8 625.9,326.9 629.8,334.9 634.7,344.9 637.2,354.8 636.0,364.8 633.5,372.3 629.8,379.8 627.3,387.3 624.8,394.7 619.8,397.2 614.6,400.0 615.8,407.0 615.8,414.0 614.6,421.0 609.9,426.8 607.6,433.8 607.0,440.8 609.9,446.6 611.1,451.3 606.4,452.4 601.8,455.9 600.6,460.6 598.3,463.5 593.6,465.8 590.1,467.6 587.8,465.3 585.5,461.8 578.5,460.6 575.0,462.9 573.8,467.6 571.5,472.3 569.1,474.6 566.8,472.3 565.6,467.6 561.0,466.4 557.5,469.9 554.0,473.4 547.0,474.6 540.0,474.6 534.6,473.4 528.8,472.3 525.3,469.9 522.9,466.4 518.3,467.6 515.9,472.3 518.3,475.8 522.9,479.3 524.1,481.6 518.3,483.9 512.4,486.2 509.0,489.7 506.2,493.3 502.7,498.0 499.3,500.3 496.9,499.1 491.1,493.3 487.6,485.2 486.0,480.0 488.5,476.0 486.0,474.0 480.0,474.0 470.0,474.5 462.0,475.5 455.0,476.5 448.0,477.5 440.0,479.0 432.0,481.0 425.0,482.5 418.0,484.5 410.0,486.0 402.0,488.0 396.0,488.5 392.0,486.0 391.0,482.0"/>
<polygon points="392.0,489.5 389.6,484.0 385.0,489.8 379.1,493.3 373.3,496.8 367.5,498.0 361.7,501.5 361.7,502.6 362.8,507.3 364.0,512.0 366.3,516.6 369.8,519.0 371.0,523.6 374.5,528.3 375.6,534.1 376.8,538.8 374.5,543.4 375.6,548.1 379.1,550.4 382.6,550.4 383.8,545.8 385.0,542.3 387.3,545.8 388.5,550.4 390.8,553.9 394.3,551.6 399.0,549.3 400.1,545.8 402.4,541.1 404.8,536.4 405.9,530.6 407.1,524.8 409.4,520.1 412.9,516.6 409.4,512.0 408.3,506.1 405.9,501.5 401.0,497.0 396.0,494.0"/>
<polygon points="474.8,480.5 474.8,487.5 473.6,492.1 469.0,495.6 465.5,500.3 464.3,505.0 459.6,501.5 453.8,500.3 448.0,501.5 444.5,505.0 441.0,508.5 438.6,513.1 436.3,516.6 431.7,515.5 427.0,514.3 424.7,509.6 422.3,503.8 421.2,498.0 422.3,493.0 426.0,490.5 430.0,489.0 436.0,487.0 441.0,488.0 448.0,486.0 455.0,484.0 462.0,482.5 469.0,482.0"/>
<polygon points="183.6,682.2 188.3,684.0 191.8,686.3 192.9,689.2 190.6,693.3 189.4,698.0 187.1,703.8 185.4,709.6 184.2,715.5 182.4,721.3 181.3,727.1 179.0,732.9 176.6,737.6 173.1,741.1 170.2,745.8 168.5,751.6 167.3,756.2 165.5,757.4 164.4,753.9 162.6,749.3 159.7,745.8 155.6,741.1 152.7,736.4 151.0,731.8 152.1,725.9 153.3,720.1 154.5,715.5 158.0,709.6 161.5,703.8 165.0,698.0 168.5,693.3 172.0,688.6 176.6,685.7 180.1,683.4"/>
<polygon points="286.3,503.4 289.8,501.1 295.6,499.7 301.5,499.0 303.8,500.5 301.5,503.4 295.6,505.5 289.8,506.3 286.9,505.2"/>
<polygon points="358.6,472.5 359.7,475.5 357.4,481.3 355.1,485.9 353.3,484.8 354.5,479.0 356.8,474.3"/></g>
<g font-size="12.5" text-anchor="middle"><text x="733.3" y="70.7" dy=".36em">0</text><text x="738.9" y="79.1" dy=".36em">1</text><text x="718.4" y="95.0" dy=".36em" transform="rotate(-40 718.4 95.0)">2</text><text x="796.7" y="158.4" dy=".36em">3</text><text x="722.1" y="173.3" dy=".36em" transform="rotate(-40 722.1 173.3)">4</text><text x="788.3" y="196.6" dy=".36em">5</text><text x="752.0" y="214.3" dy=".36em" transform="rotate(-30 752.0 214.3)">6</text><text x="608.0" y="217.1" dy=".36em" transform="rotate(-60 608.0 217.1)">8</text><text x="593.4" y="234.4" dy=".36em">9</text><text x="595.0" y="245.5" dy=".36em">10</text><text x="467.7" y="298.7" dy=".36em" transform="rotate(-70 467.7 298.7)">9</text><text x="501.0" y="316.0" dy=".36em" transform="rotate(-75 501.0 316.0)">10</text><text x="547.7" y="328.1" dy=".36em" transform="rotate(-75 547.7 328.1)">11</text><text x="573.8" y="313.4" dy=".36em" transform="rotate(-30 573.8 313.4)">12</text><text x="583.6" y="319.9" dy=".36em" transform="rotate(-55 583.6 319.9)">14</text><text x="588.5" y="326.4" dy=".36em" transform="rotate(-55 588.5 326.4)">15</text><text x="420.4" y="346.0" dy=".36em" transform="rotate(-40 420.4 346.0)">11</text><text x="453.0" y="344.4" dy=".36em" transform="rotate(-45 453.0 344.4)">13</text><text x="407.3" y="365.0" dy=".36em" transform="rotate(20 407.3 365.0)">12</text><text x="441.6" y="370.5" dy=".36em" transform="rotate(20 441.6 370.5)">14</text><text x="461.2" y="359.1" dy=".36em" transform="rotate(-70 461.2 359.1)">15</text><text x="461.2" y="385.2" dy=".36em" transform="rotate(20 461.2 385.2)">16</text><text x="391.0" y="380.3" dy=".36em" transform="rotate(20 391.0 380.3)">17</text><text x="409.0" y="385.2" dy=".36em" transform="rotate(10 409.0 385.2)">18</text><text x="382.8" y="399.9" dy=".36em" transform="rotate(-80 382.8 399.9)">19</text><text x="435.1" y="409.7" dy=".36em" transform="rotate(20 435.1 409.7)">17</text><text x="490.5" y="427.6" dy=".36em">18</text><text x="542.8" y="373.8" dy=".36em" transform="rotate(-70 542.8 373.8)">16</text><text x="727.0" y="310.0" dy=".36em">6</text><text x="800.6" y="302.2" dy=".36em">7</text><text x="768.1" y="337.4" dy=".36em" transform="rotate(80 768.1 337.4)">14</text><text x="783.1" y="337.4" dy=".36em" transform="rotate(80 783.1 337.4)">13</text><text x="804.3" y="342.4" dy=".36em" transform="rotate(-40 804.3 342.4)">10</text><text x="791.8" y="354.9" dy=".36em" transform="rotate(80 791.8 354.9)">12</text><text x="737.0" y="353.6" dy=".36em" transform="rotate(80 737.0 353.6)">15</text><text x="737.0" y="367.3" dy=".36em">16</text><text x="789.3" y="398.5" dy=".36em" transform="rotate(-20 789.3 398.5)">17</text><text x="761.9" y="409.8" dy=".36em" transform="rotate(-40 761.9 409.8)">18</text><text x="755.7" y="422.2" dy=".36em" transform="rotate(-40 755.7 422.2)">19</text><text x="717.0" y="419.2" dy=".36em" transform="rotate(20 717.0 419.2)">20</text><text x="693.3" y="434.7" dy=".36em" transform="rotate(-40 693.3 434.7)">22</text><text x="739.4" y="442.2" dy=".36em" transform="rotate(70 739.4 442.2)">22</text><text x="780.6" y="470.9" dy=".36em" transform="rotate(-20 780.6 470.9)">22</text><text x="648.4" y="504.5" dy=".36em">22</text><text x="173.0" y="352.4" dy=".36em" transform="rotate(-60 173.0 352.4)">11</text><text x="208.0" y="438.5" dy=".36em" transform="rotate(-20 208.0 438.5)">15</text><text x="206.7" y="452.2" dy=".36em" transform="rotate(-30 206.7 452.2)">16</text><text x="236.7" y="528.3" dy=".36em">19</text><text x="284.7" y="533.6" dy=".36em" transform="rotate(-20 284.7 533.6)">22</text><text x="334.6" y="527.3" dy=".36em" transform="rotate(20 334.6 527.3)">23</text><text x="206.1" y="593.4" dy=".36em" transform="rotate(-70 206.1 593.4)">20</text><text x="201.1" y="609.6" dy=".36em" transform="rotate(-70 201.1 609.6)">21</text><text x="262.2" y="595.9" dy=".36em" transform="rotate(-10 262.2 595.9)">23</text><text x="302.2" y="602.2" dy=".36em" transform="rotate(-35 302.2 602.2)">24</text><text x="292.2" y="614.6" dy=".36em" transform="rotate(-35 292.2 614.6)">25</text><text x="170.3" y="649.7" dy=".36em" transform="rotate(-50 170.3 649.7)">22</text><text x="284.7" y="659.5" dy=".36em">26</text><text x="309.5" y="491.6" dy=".36em">18</text><text x="411.1" y="459.9" dy=".36em" transform="rotate(20 411.1 459.9)">20</text><text x="452.5" y="538.5" dy=".36em">24</text><text x="424.9" y="551.0" dy=".36em" transform="rotate(75 424.9 551.0)">25</text><text x="547.1" y="577.1" dy=".36em">24</text><text x="539.6" y="619.6" dy=".36em" transform="rotate(-40 539.6 619.6)">25</text><text x="536.7" y="509.8" dy=".36em">24</text><text x="585.6" y="543.8" dy=".36em">24</text><text x="615.3" y="556.5" dy=".36em" transform="rotate(-75 615.3 556.5)">24</text><text x="694.0" y="514.7" dy=".36em">23</text><text x="806.0" y="522.0" dy=".36em" transform="rotate(80 806.0 522.0)">23</text><text x="618.3" y="601.9" dy=".36em" transform="rotate(-60 618.3 601.9)">25</text><text x="726.4" y="612.9" dy=".36em" transform="rotate(-30 726.4 612.9)">25</text><text x="572.0" y="648.2" dy=".36em" transform="rotate(70 572.0 648.2)">26</text><text x="457.3" y="676.9" dy=".36em" transform="rotate(-70 457.3 676.9)">26</text><text x="700.0" y="648.2" dy=".36em">26</text><text x="591.8" y="681.0" dy=".36em" transform="rotate(-40 591.8 681.0)">27</text><text x="713.1" y="650.4" dy=".36em">27</text><text x="455.1" y="729.8" dy=".36em" transform="rotate(-70 455.1 729.8)">27</text><text x="572.0" y="723.2" dy=".36em" transform="rotate(-80 572.0 723.2)">28</text><text x="682.2" y="683.5" dy=".36em" transform="rotate(-40 682.2 683.5)">28</text><text x="477.2" y="758.5" dy=".36em" transform="rotate(-60 477.2 758.5)">28</text><text x="563.2" y="762.9" dy=".36em" transform="rotate(-30 563.2 762.9)">29</text><text x="669.0" y="721.0" dy=".36em">29</text><text x="700.0" y="728.0" dy=".36em" transform="rotate(-30 700.0 728.0)">29</text><text x="733.4" y="764.0" dy=".36em" transform="rotate(60 733.4 764.0)">29</text><text x="383.9" y="679.0" dy=".36em">26</text><text x="294.6" y="705.8" dy=".36em" transform="rotate(60 294.6 705.8)">27</text><text x="264.8" y="781.7" dy=".36em" transform="rotate(-30 264.8 781.7)">27</text><text x="355.6" y="790.7" dy=".36em" transform="rotate(70 355.6 790.7)">28</text><text x="812.0" y="793.0" dy=".36em" transform="rotate(90 812.0 793.0)">29</text></g>
</g>
<rect x="82" y="67" width="733" height="733" fill="none" stroke="#4a4a4a" stroke-width="1.1"/>
<g stroke="#505050" stroke-width="1.15"><line x1="149.2" y1="67" x2="149.2" y2="47.5"/><line x1="149.2" y1="800" x2="149.2" y2="819.5"/><line x1="371.2" y1="67" x2="371.2" y2="47.5"/><line x1="371.2" y1="800" x2="371.2" y2="819.5"/><line x1="593.2" y1="67" x2="593.2" y2="47.5"/><line x1="593.2" y1="800" x2="593.2" y2="819.5"/><line x1="815.2" y1="67" x2="815.2" y2="47.5"/><line x1="815.2" y1="800" x2="815.2" y2="819.5"/><line x1="82" y1="134.0" x2="62.5" y2="134.0"/><line x1="815" y1="134.0" x2="834.5" y2="134.0"/><line x1="82" y1="356.0" x2="62.5" y2="356.0"/><line x1="815" y1="356.0" x2="834.5" y2="356.0"/><line x1="82" y1="578.0" x2="62.5" y2="578.0"/><line x1="815" y1="578.0" x2="834.5" y2="578.0"/><line x1="82" y1="800.0" x2="62.5" y2="800.0"/><line x1="815" y1="800.0" x2="834.5" y2="800.0"/></g>
<g font-size="26.3"><text x="149.2" y="856" text-anchor="middle">120E</text><text x="371.2" y="856" text-anchor="middle">130E</text><text x="593.2" y="856" text-anchor="middle">140E</text><text x="815.2" y="856" text-anchor="middle">150E</text><text x="48.2" y="143.3" text-anchor="end">50N</text><text x="48.2" y="365.3" text-anchor="end">40N</text><text x="48.2" y="587.3" text-anchor="end">30N</text><text x="48.2" y="809.3" text-anchor="end">20N</text></g>
<rect x="872.5" y="67.00" width="28" height="18.43" fill="#800000"/><rect x="872.5" y="85.13" width="28" height="18.43" fill="#8c0c00"/><rect x="872.5" y="103.26" width="28" height="18.43" fill="#9e1a00"/><rect x="872.5" y="121.39" width="28" height="18.43" fill="#b02e00"/><rect x="872.5" y="139.52" width="28" height="18.43" fill="#c04000"/><rect x="872.5" y="157.65" width="28" height="18.43" fill="#d25200"/><rect x="872.5" y="175.78" width="28" height="18.43" fill="#e06000"/><rect x="872.5" y="193.91" width="28" height="18.43" fill="#ee6e00"/><rect x="872.5" y="212.04" width="28" height="18.43" fill="#fa8000"/><rect x="872.5" y="230.17" width="28" height="18.43" fill="#fc9018"/><rect x="872.5" y="248.30" width="28" height="18.43" fill="#fd9c26"/><rect x="872.5" y="266.43" width="28" height="18.43" fill="#fda830"/><rect x="872.5" y="284.56" width="28" height="18.43" fill="#feb440"/><rect x="872.5" y="302.69" width="28" height="18.43" fill="#fec650"/><rect x="872.5" y="320.82" width="28" height="18.43" fill="#ffd860"/><rect x="872.5" y="338.95" width="28" height="18.43" fill="#fff070"/><rect x="872.5" y="357.08" width="28" height="18.43" fill="#f4f888"/><rect x="872.5" y="375.21" width="28" height="18.43" fill="#d4f878"/><rect x="872.5" y="393.34" width="28" height="18.43" fill="#a8f880"/><rect x="872.5" y="411.47" width="28" height="18.43" fill="#88f880"/><rect x="872.5" y="429.60" width="28" height="18.43" fill="#88f890"/><rect x="872.5" y="447.73" width="28" height="18.43" fill="#80f8a8"/><rect x="872.5" y="465.86" width="28" height="18.43" fill="#80f8c8"/><rect x="872.5" y="483.99" width="28" height="18.43" fill="#80f8e0"/><rect x="872.5" y="502.12" width="28" height="18.43" fill="#78f0f8"/><rect x="872.5" y="520.25" width="28" height="18.43" fill="#68e0f8"/><rect x="872.5" y="538.38" width="28" height="18.43" fill="#58d0f8"/><rect x="872.5" y="556.51" width="28" height="18.43" fill="#48b8f8"/><rect x="872.5" y="574.64" width="28" height="18.43" fill="#38a8f8"/><rect x="872.5" y="592.77" width="28" height="18.43" fill="#28a0f8"/><rect x="872.5" y="610.90" width="28" height="18.43" fill="#1890f8"/><rect x="872.5" y="629.03" width="28" height="18.43" fill="#1080f8"/><rect x="872.5" y="647.16" width="28" height="18.43" fill="#1870f0"/><rect x="872.5" y="665.29" width="28" height="18.43" fill="#2060e0"/><rect x="872.5" y="683.42" width="28" height="18.43" fill="#2850d0"/><rect x="872.5" y="701.55" width="28" height="18.43" fill="#3040c0"/><rect x="872.5" y="719.68" width="28" height="18.43" fill="#4030b0"/><rect x="872.5" y="737.81" width="28" height="18.43" fill="#5020a0"/><rect x="872.5" y="755.94" width="28" height="18.43" fill="#601090"/><rect x="872.5" y="774.07" width="28" height="18.43" fill="#780080"/><line x1="872.5" y1="85.13" x2="900.5" y2="85.13" stroke="#000" stroke-width="1" stroke-opacity="0.7"/><line x1="872.5" y1="103.26" x2="900.5" y2="103.26" stroke="#000" stroke-width="1" stroke-opacity="0.7"/><line x1="872.5" y1="121.39" x2="900.5" y2="121.39" stroke="#000" stroke-width="1" stroke-opacity="0.7"/><line x1="872.5" y1="139.52" x2="900.5" y2="139.52" stroke="#000" stroke-width="1" stroke-opacity="0.7"/><line x1="872.5" y1="157.65" x2="900.5" y2="157.65" stroke="#000" stroke-width="1" stroke-opacity="0.7"/><line x1="872.5" y1="175.78" x2="900.5" y2="175.78" stroke="#000" stroke-width="1" stroke-opacity="0.7"/><line x1="872.5" y1="193.91" x2="900.5" y2="193.91" stroke="#000" stroke-width="1" stroke-opacity="0.7"/><line x1="872.5" y1="212.04" x2="900.5" y2="212.04" stroke="#000" stroke-width="1" stroke-opacity="0.7"/><line x1="872.5" y1="230.17" x2="900.5" y2="230.17" stroke="#000" stroke-width="1" stroke-opacity="0.7"/><line x1="872.5" y1="248.30" x2="900.5" y2="248.30" stroke="#000" stroke-width="1" stroke-opacity="0.7"/><line x1="872.5" y1="266.43" x2="900.5" y2="266.43" stroke="#000" stroke-width="1" stroke-opacity="0.7"/><line x1="872.5" y1="284.56" x2="900.5" y2="284.56" stroke="#000" stroke-width="1" stroke-opacity="0.7"/><line x1="872.5" y1="302.69" x2="900.5" y2="302.69" stroke="#000" stroke-width="1" stroke-opacity="0.7"/><line x1="872.5" y1="320.82" x2="900.5" y2="320.82" stroke="#000" stroke-width="1" stroke-opacity="0.7"/><line x1="872.5" y1="338.95" x2="900.5" y2="338.95" stroke="#000" stroke-width="1" stroke-opacity="0.7"/><line x1="872.5" y1="357.08" x2="900.5" y2="357.08" stroke="#000" stroke-width="1" stroke-opacity="0.7"/><line x1="872.5" y1="375.21" x2="900.5" y2="375.21" stroke="#000" stroke-width="1" stroke-opacity="0.7"/><line x1="872.5" y1="393.34" x2="900.5" y2="393.34" stroke="#000" stroke-width="1" stroke-opacity="0.7"/><line x1="872.5" y1="411.47" x2="900.5" y2="411.47" stroke="#000" stroke-width="1" stroke-opacity="0.7"/><line x1="872.5" y1="429.60" x2="900.5" y2="429.60" stroke="#000" stroke-width="1" stroke-opacity="0.7"/><line x1="872.5" y1="447.73" x2="900.5" y2="447.73" stroke="#000" stroke-width="1" stroke-opacity="0.7"/><line x1="872.5" y1="465.86" x2="900.5" y2="465.86" stroke="#000" stroke-width="1" stroke-opacity="0.7"/><line x1="872.5" y1="483.99" x2="900.5" y2="483.99" stroke="#000" stroke-width="1" stroke-opacity="0.7"/><line x1="872.5" y1="502.12" x2="900.5" y2="502.12" stroke="#000" stroke-width="1" stroke-opacity="0.7"/><line x1="872.5" y1="520.25" x2="900.5" y2="520.25" stroke="#000" stroke-width="1" stroke-opacity="0.7"/><line x1="872.5" y1="538.38" x2="900.5" y2="538.38" stroke="#000" stroke-width="1" stroke-opacity="0.7"/><line x1="872.5" y1="556.51" x2="900.5" y2="556.51" stroke="#000" stroke-width="1" stroke-opacity="0.7"/><line x1="872.5" y1="574.64" x2="900.5" y2="574.64" stroke="#000" stroke-width="1" stroke-opacity="0.7"/><line x1="872.5" y1="592.77" x2="900.5" y2="592.77" stroke="#000" stroke-width="1" stroke-opacity="0.7"/><line x1="872.5" y1="610.90" x2="900.5" y2="610.90" stroke="#000" stroke-width="1" stroke-opacity="0.7"/><line x1="872.5" y1="629.03" x2="900.5" y2="629.03" stroke="#000" stroke-width="1" stroke-opacity="0.7"/><line x1="872.5" y1="647.16" x2="900.5" y2="647.16" stroke="#000" stroke-width="1" stroke-opacity="0.7"/><line x1="872.5" y1="665.29" x2="900.5" y2="665.29" stroke="#000" stroke-width="1" stroke-opacity="0.7"/><line x1="872.5" y1="683.42" x2="900.5" y2="683.42" stroke="#000" stroke-width="1" stroke-opacity="0.7"/><line x1="872.5" y1="701.55" x2="900.5" y2="701.55" stroke="#000" stroke-width="1" stroke-opacity="0.7"/><line x1="872.5" y1="719.68" x2="900.5" y2="719.68" stroke="#000" stroke-width="1" stroke-opacity="0.7"/><line x1="872.5" y1="737.81" x2="900.5" y2="737.81" stroke="#000" stroke-width="1" stroke-opacity="0.7"/><line x1="872.5" y1="755.94" x2="900.5" y2="755.94" stroke="#000" stroke-width="1" stroke-opacity="0.7"/><line x1="872.5" y1="774.07" x2="900.5" y2="774.07" stroke="#000" stroke-width="1" stroke-opacity="0.7"/><rect x="872.5" y="67.0" width="28" height="725.20" fill="none" stroke="#8a9494" stroke-width="1"/>
<g font-size="26.3"><text x="927.2" text-anchor="middle" y="185.0">30</text><text x="927.2" text-anchor="middle" y="366.3">20</text><text x="927.2" text-anchor="middle" y="547.6">10</text><text x="927.2" text-anchor="middle" y="728.9">0</text></g>
<text x="81.5" y="24" font-size="30" textLength="516.5" lengthAdjust="spacingAndGlyphs">sea surface temperature (20251126)</text>
<text x="782.4" y="14.7" font-size="19.6">o</text><text x="816.7" y="30.4" font-size="34.5" text-anchor="end">C</text>
</svg></body></html>
